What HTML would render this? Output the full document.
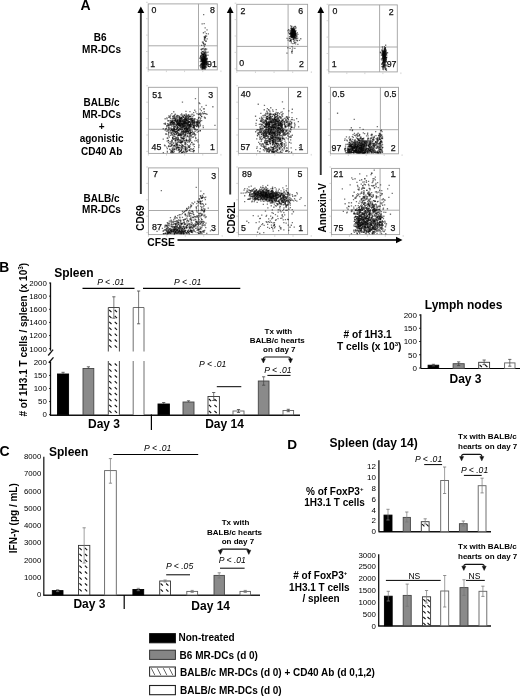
<!DOCTYPE html>
<html><head><meta charset="utf-8"><title>Figure</title>
<style>html,body{margin:0;padding:0;background:#fff;}svg{display:block;font-family:"Liberation Sans",sans-serif;filter:blur(0.35px);}</style>
</head><body>
<svg width="520" height="697" viewBox="0 0 520 697" font-family="Liberation Sans, sans-serif" fill="#000"><text x="80.4" y="10.2" font-size="14" font-weight="bold" text-anchor="start" >A</text>
<text x="100.1" y="41.2" font-size="10" font-weight="bold" text-anchor="middle" >B6</text>
<text x="101.55" y="52.5" font-size="10" font-weight="bold" text-anchor="middle" >MR-DCs</text>
<text x="101.6" y="106.2" font-size="10" font-weight="bold" text-anchor="middle" >BALB/c</text>
<text x="101.6" y="118" font-size="10" font-weight="bold" text-anchor="middle" >MR-DCs</text>
<text x="101.6" y="130.2" font-size="10" font-weight="bold" text-anchor="middle" >+</text>
<text x="101.6" y="142" font-size="10" font-weight="bold" text-anchor="middle" >agonistic</text>
<text x="101.6" y="154.8" font-size="10" font-weight="bold" text-anchor="middle" >CD40 Ab</text>
<text x="101.5" y="201.8" font-size="10" font-weight="bold" text-anchor="middle" >BALB/c</text>
<text x="101.5" y="213.2" font-size="10" font-weight="bold" text-anchor="middle" >MR-DCs</text>
<line x1="140.85" y1="12" x2="140.85" y2="194" stroke="#333" stroke-width="1.9"/>
<path d="M137.45 13 L140.85 6.5 L144.25 13 Z" fill="#000"/>
<line x1="230.2" y1="12" x2="230.2" y2="194.5" stroke="#333" stroke-width="1.9"/>
<path d="M226.79999999999998 13 L230.2 6.5 L233.6 13 Z" fill="#000"/>
<line x1="320.75" y1="12" x2="320.75" y2="175" stroke="#333" stroke-width="1.9"/>
<path d="M317.35 13 L320.75 6.5 L324.15 13 Z" fill="#000"/>
<line x1="177.5" y1="240" x2="397" y2="240" stroke="#333" stroke-width="1.9"/>
<path d="M396 236.8 L402.5 240 L396 243.2 Z" fill="#000"/>
<text x="144.3" y="230.7" font-size="10" font-weight="bold" transform="rotate(-90 144.3 230.7)">CD69</text>
<text x="234.6" y="233.6" font-size="10" font-weight="bold" transform="rotate(-90 234.6 233.6)">CD62L</text>
<text x="326" y="232.5" font-size="10" font-weight="bold" transform="rotate(-90 326 232.5)">Annexin-V</text>
<text x="147.3" y="245.6" font-size="10.3" font-weight="bold" text-anchor="start" >CFSE</text>
<rect x="148.2" y="3.9" width="69.10000000000002" height="66.0" fill="none" stroke="#a0a0a0" stroke-width="0.9"/>
<line x1="198.5" y1="3.9" x2="198.5" y2="69.9" stroke="#a0a0a0" stroke-width="0.9"/>
<line x1="148.2" y1="45.8" x2="217.3" y2="45.8" stroke="#a0a0a0" stroke-width="0.9"/>
<line x1="146.0" y1="67.9" x2="147.79999999999998" y2="67.9" stroke="#c4c4c4" stroke-width="0.7"/>
<line x1="148.2" y1="70.4" x2="148.2" y2="72.10000000000001" stroke="#c4c4c4" stroke-width="0.7"/>
<line x1="146.0" y1="51.50000000000001" x2="147.79999999999998" y2="51.50000000000001" stroke="#c4c4c4" stroke-width="0.7"/>
<line x1="166.38421052631577" y1="70.4" x2="166.38421052631577" y2="72.10000000000001" stroke="#c4c4c4" stroke-width="0.7"/>
<line x1="146.0" y1="35.10000000000001" x2="147.79999999999998" y2="35.10000000000001" stroke="#c4c4c4" stroke-width="0.7"/>
<line x1="184.56842105263158" y1="70.4" x2="184.56842105263158" y2="72.10000000000001" stroke="#c4c4c4" stroke-width="0.7"/>
<line x1="146.0" y1="18.70000000000001" x2="147.79999999999998" y2="18.70000000000001" stroke="#c4c4c4" stroke-width="0.7"/>
<line x1="202.7526315789474" y1="70.4" x2="202.7526315789474" y2="72.10000000000001" stroke="#c4c4c4" stroke-width="0.7"/>
<line x1="146.0" y1="2.3000000000000114" x2="147.79999999999998" y2="2.3000000000000114" stroke="#c4c4c4" stroke-width="0.7"/>
<line x1="220.93684210526317" y1="70.4" x2="220.93684210526317" y2="72.10000000000001" stroke="#c4c4c4" stroke-width="0.7"/>
<text x="151.5" y="13.1" font-size="8.8" font-weight="normal" text-anchor="start" fill="#111" stroke="#111" stroke-width="0.25">0</text>
<text x="214.9" y="13.1" font-size="8.8" font-weight="normal" text-anchor="end" fill="#111" stroke="#111" stroke-width="0.25">8</text>
<text x="150.29999999999998" y="66.5" font-size="8.8" font-weight="normal" text-anchor="start" fill="#111" stroke="#111" stroke-width="0.25">1</text>
<text x="216.9" y="66.5" font-size="8.8" font-weight="normal" text-anchor="end" fill="#111" stroke="#111" stroke-width="0.25">91</text>
<rect x="236.8" y="4.3" width="70.80000000000001" height="66.5" fill="none" stroke="#a0a0a0" stroke-width="0.9"/>
<line x1="288.1" y1="4.3" x2="288.1" y2="70.8" stroke="#a0a0a0" stroke-width="0.9"/>
<line x1="236.8" y1="46.4" x2="307.6" y2="46.4" stroke="#a0a0a0" stroke-width="0.9"/>
<line x1="234.60000000000002" y1="68.8" x2="236.4" y2="68.8" stroke="#c4c4c4" stroke-width="0.7"/>
<line x1="236.8" y1="71.3" x2="236.8" y2="73.0" stroke="#c4c4c4" stroke-width="0.7"/>
<line x1="234.60000000000002" y1="52.4" x2="236.4" y2="52.4" stroke="#c4c4c4" stroke-width="0.7"/>
<line x1="255.43157894736845" y1="71.3" x2="255.43157894736845" y2="73.0" stroke="#c4c4c4" stroke-width="0.7"/>
<line x1="234.60000000000002" y1="36.0" x2="236.4" y2="36.0" stroke="#c4c4c4" stroke-width="0.7"/>
<line x1="274.06315789473683" y1="71.3" x2="274.06315789473683" y2="73.0" stroke="#c4c4c4" stroke-width="0.7"/>
<line x1="234.60000000000002" y1="19.6" x2="236.4" y2="19.6" stroke="#c4c4c4" stroke-width="0.7"/>
<line x1="292.69473684210527" y1="71.3" x2="292.69473684210527" y2="73.0" stroke="#c4c4c4" stroke-width="0.7"/>
<line x1="234.60000000000002" y1="3.200000000000003" x2="236.4" y2="3.200000000000003" stroke="#c4c4c4" stroke-width="0.7"/>
<line x1="311.3263157894737" y1="71.3" x2="311.3263157894737" y2="73.0" stroke="#c4c4c4" stroke-width="0.7"/>
<text x="240.4" y="13.8" font-size="8.8" font-weight="normal" text-anchor="start" fill="#111" stroke="#111" stroke-width="0.25">2</text>
<text x="303.09999999999997" y="13.8" font-size="8.8" font-weight="normal" text-anchor="end" fill="#111" stroke="#111" stroke-width="0.25">6</text>
<text x="239.2" y="65.8" font-size="8.8" font-weight="normal" text-anchor="start" fill="#111" stroke="#111" stroke-width="0.25">0</text>
<text x="303.9" y="67" font-size="8.8" font-weight="normal" text-anchor="end" fill="#111" stroke="#111" stroke-width="0.25">2</text>
<rect x="328.8" y="4.9" width="68.5" height="67.0" fill="none" stroke="#a0a0a0" stroke-width="0.9"/>
<line x1="379.6" y1="4.9" x2="379.6" y2="71.9" stroke="#a0a0a0" stroke-width="0.9"/>
<line x1="328.8" y1="47" x2="397.3" y2="47" stroke="#a0a0a0" stroke-width="0.9"/>
<line x1="326.6" y1="69.9" x2="328.40000000000003" y2="69.9" stroke="#c4c4c4" stroke-width="0.7"/>
<line x1="328.8" y1="72.4" x2="328.8" y2="74.10000000000001" stroke="#c4c4c4" stroke-width="0.7"/>
<line x1="326.6" y1="53.50000000000001" x2="328.40000000000003" y2="53.50000000000001" stroke="#c4c4c4" stroke-width="0.7"/>
<line x1="346.8263157894737" y1="72.4" x2="346.8263157894737" y2="74.10000000000001" stroke="#c4c4c4" stroke-width="0.7"/>
<line x1="326.6" y1="37.10000000000001" x2="328.40000000000003" y2="37.10000000000001" stroke="#c4c4c4" stroke-width="0.7"/>
<line x1="364.85263157894735" y1="72.4" x2="364.85263157894735" y2="74.10000000000001" stroke="#c4c4c4" stroke-width="0.7"/>
<line x1="326.6" y1="20.70000000000001" x2="328.40000000000003" y2="20.70000000000001" stroke="#c4c4c4" stroke-width="0.7"/>
<line x1="382.87894736842105" y1="72.4" x2="382.87894736842105" y2="74.10000000000001" stroke="#c4c4c4" stroke-width="0.7"/>
<line x1="326.6" y1="4.300000000000011" x2="328.40000000000003" y2="4.300000000000011" stroke="#c4c4c4" stroke-width="0.7"/>
<line x1="400.90526315789475" y1="72.4" x2="400.90526315789475" y2="74.10000000000001" stroke="#c4c4c4" stroke-width="0.7"/>
<text x="332.6" y="13.8" font-size="8.8" font-weight="normal" text-anchor="start" fill="#111" stroke="#111" stroke-width="0.25">0</text>
<text x="393.59999999999997" y="14.6" font-size="8.8" font-weight="normal" text-anchor="end" fill="#111" stroke="#111" stroke-width="0.25">2</text>
<text x="331.8" y="67.3" font-size="8.8" font-weight="normal" text-anchor="start" fill="#111" stroke="#111" stroke-width="0.25">1</text>
<text x="396.5" y="67.3" font-size="8.8" font-weight="normal" text-anchor="end" fill="#111" stroke="#111" stroke-width="0.25">97</text>
<rect x="148.4" y="87.3" width="68.9" height="66.10000000000001" fill="none" stroke="#a0a0a0" stroke-width="0.9"/>
<line x1="198.5" y1="87.3" x2="198.5" y2="153.4" stroke="#a0a0a0" stroke-width="0.9"/>
<line x1="148.4" y1="129.3" x2="217.3" y2="129.3" stroke="#a0a0a0" stroke-width="0.9"/>
<line x1="146.20000000000002" y1="151.4" x2="148.0" y2="151.4" stroke="#c4c4c4" stroke-width="0.7"/>
<line x1="148.4" y1="153.9" x2="148.4" y2="155.6" stroke="#c4c4c4" stroke-width="0.7"/>
<line x1="146.20000000000002" y1="135.0" x2="148.0" y2="135.0" stroke="#c4c4c4" stroke-width="0.7"/>
<line x1="166.53157894736842" y1="153.9" x2="166.53157894736842" y2="155.6" stroke="#c4c4c4" stroke-width="0.7"/>
<line x1="146.20000000000002" y1="118.60000000000001" x2="148.0" y2="118.60000000000001" stroke="#c4c4c4" stroke-width="0.7"/>
<line x1="184.66315789473686" y1="153.9" x2="184.66315789473686" y2="155.6" stroke="#c4c4c4" stroke-width="0.7"/>
<line x1="146.20000000000002" y1="102.20000000000002" x2="148.0" y2="102.20000000000002" stroke="#c4c4c4" stroke-width="0.7"/>
<line x1="202.79473684210527" y1="153.9" x2="202.79473684210527" y2="155.6" stroke="#c4c4c4" stroke-width="0.7"/>
<line x1="146.20000000000002" y1="85.80000000000001" x2="148.0" y2="85.80000000000001" stroke="#c4c4c4" stroke-width="0.7"/>
<line x1="220.9263157894737" y1="153.9" x2="220.9263157894737" y2="155.6" stroke="#c4c4c4" stroke-width="0.7"/>
<text x="152.29999999999998" y="97.9" font-size="8.8" font-weight="normal" text-anchor="start" fill="#111" stroke="#111" stroke-width="0.25">51</text>
<text x="213.1" y="97.9" font-size="8.8" font-weight="normal" text-anchor="end" fill="#111" stroke="#111" stroke-width="0.25">3</text>
<text x="151.5" y="150.3" font-size="8.8" font-weight="normal" text-anchor="start" fill="#111" stroke="#111" stroke-width="0.25">45</text>
<text x="214.9" y="150.3" font-size="8.8" font-weight="normal" text-anchor="end" fill="#111" stroke="#111" stroke-width="0.25">1</text>
<rect x="238.4" y="87.3" width="69.20000000000002" height="66.10000000000001" fill="none" stroke="#a0a0a0" stroke-width="0.9"/>
<line x1="288.5" y1="87.3" x2="288.5" y2="153.4" stroke="#a0a0a0" stroke-width="0.9"/>
<line x1="238.4" y1="129.3" x2="307.6" y2="129.3" stroke="#a0a0a0" stroke-width="0.9"/>
<line x1="236.20000000000002" y1="151.4" x2="238.0" y2="151.4" stroke="#c4c4c4" stroke-width="0.7"/>
<line x1="238.4" y1="153.9" x2="238.4" y2="155.6" stroke="#c4c4c4" stroke-width="0.7"/>
<line x1="236.20000000000002" y1="135.0" x2="238.0" y2="135.0" stroke="#c4c4c4" stroke-width="0.7"/>
<line x1="256.61052631578946" y1="153.9" x2="256.61052631578946" y2="155.6" stroke="#c4c4c4" stroke-width="0.7"/>
<line x1="236.20000000000002" y1="118.60000000000001" x2="238.0" y2="118.60000000000001" stroke="#c4c4c4" stroke-width="0.7"/>
<line x1="274.82105263157894" y1="153.9" x2="274.82105263157894" y2="155.6" stroke="#c4c4c4" stroke-width="0.7"/>
<line x1="236.20000000000002" y1="102.20000000000002" x2="238.0" y2="102.20000000000002" stroke="#c4c4c4" stroke-width="0.7"/>
<line x1="293.0315789473684" y1="153.9" x2="293.0315789473684" y2="155.6" stroke="#c4c4c4" stroke-width="0.7"/>
<line x1="236.20000000000002" y1="85.80000000000001" x2="238.0" y2="85.80000000000001" stroke="#c4c4c4" stroke-width="0.7"/>
<line x1="311.2421052631579" y1="153.9" x2="311.2421052631579" y2="155.6" stroke="#c4c4c4" stroke-width="0.7"/>
<text x="240.79999999999998" y="96.8" font-size="8.8" font-weight="normal" text-anchor="start" fill="#111" stroke="#111" stroke-width="0.25">40</text>
<text x="301.59999999999997" y="96.8" font-size="8.8" font-weight="normal" text-anchor="end" fill="#111" stroke="#111" stroke-width="0.25">2</text>
<text x="240.4" y="149.5" font-size="8.8" font-weight="normal" text-anchor="start" fill="#111" stroke="#111" stroke-width="0.25">57</text>
<text x="303.4" y="150" font-size="8.8" font-weight="normal" text-anchor="end" fill="#111" stroke="#111" stroke-width="0.25">1</text>
<rect x="330.4" y="87.3" width="68.10000000000002" height="66.50000000000001" fill="none" stroke="#a0a0a0" stroke-width="0.9"/>
<line x1="380.4" y1="87.3" x2="380.4" y2="153.8" stroke="#a0a0a0" stroke-width="0.9"/>
<line x1="330.4" y1="129.7" x2="398.5" y2="129.7" stroke="#a0a0a0" stroke-width="0.9"/>
<line x1="328.2" y1="151.8" x2="330.0" y2="151.8" stroke="#c4c4c4" stroke-width="0.7"/>
<line x1="330.4" y1="154.3" x2="330.4" y2="156.0" stroke="#c4c4c4" stroke-width="0.7"/>
<line x1="328.2" y1="135.4" x2="330.0" y2="135.4" stroke="#c4c4c4" stroke-width="0.7"/>
<line x1="348.32105263157894" y1="154.3" x2="348.32105263157894" y2="156.0" stroke="#c4c4c4" stroke-width="0.7"/>
<line x1="328.2" y1="119.00000000000001" x2="330.0" y2="119.00000000000001" stroke="#c4c4c4" stroke-width="0.7"/>
<line x1="366.2421052631579" y1="154.3" x2="366.2421052631579" y2="156.0" stroke="#c4c4c4" stroke-width="0.7"/>
<line x1="328.2" y1="102.60000000000002" x2="330.0" y2="102.60000000000002" stroke="#c4c4c4" stroke-width="0.7"/>
<line x1="384.16315789473686" y1="154.3" x2="384.16315789473686" y2="156.0" stroke="#c4c4c4" stroke-width="0.7"/>
<line x1="328.2" y1="86.20000000000002" x2="330.0" y2="86.20000000000002" stroke="#c4c4c4" stroke-width="0.7"/>
<line x1="402.0842105263158" y1="154.3" x2="402.0842105263158" y2="156.0" stroke="#c4c4c4" stroke-width="0.7"/>
<text x="332.3" y="97.2" font-size="8.8" font-weight="normal" text-anchor="start" fill="#111" stroke="#111" stroke-width="0.25">0.5</text>
<text x="396.5" y="97.2" font-size="8.8" font-weight="normal" text-anchor="end" fill="#111" stroke="#111" stroke-width="0.25">0.5</text>
<text x="331.5" y="151" font-size="8.8" font-weight="normal" text-anchor="start" fill="#111" stroke="#111" stroke-width="0.25">97</text>
<text x="395.7" y="151" font-size="8.8" font-weight="normal" text-anchor="end" fill="#111" stroke="#111" stroke-width="0.25">2</text>
<rect x="148.4" y="167.9" width="70.1" height="66.69999999999999" fill="none" stroke="#a0a0a0" stroke-width="0.9"/>
<line x1="198.5" y1="167.9" x2="198.5" y2="234.6" stroke="#a0a0a0" stroke-width="0.9"/>
<line x1="148.4" y1="210.5" x2="218.5" y2="210.5" stroke="#a0a0a0" stroke-width="0.9"/>
<line x1="146.20000000000002" y1="232.6" x2="148.0" y2="232.6" stroke="#c4c4c4" stroke-width="0.7"/>
<line x1="148.4" y1="235.1" x2="148.4" y2="236.79999999999998" stroke="#c4c4c4" stroke-width="0.7"/>
<line x1="146.20000000000002" y1="216.2" x2="148.0" y2="216.2" stroke="#c4c4c4" stroke-width="0.7"/>
<line x1="166.84736842105264" y1="235.1" x2="166.84736842105264" y2="236.79999999999998" stroke="#c4c4c4" stroke-width="0.7"/>
<line x1="146.20000000000002" y1="199.8" x2="148.0" y2="199.8" stroke="#c4c4c4" stroke-width="0.7"/>
<line x1="185.29473684210527" y1="235.1" x2="185.29473684210527" y2="236.79999999999998" stroke="#c4c4c4" stroke-width="0.7"/>
<line x1="146.20000000000002" y1="183.4" x2="148.0" y2="183.4" stroke="#c4c4c4" stroke-width="0.7"/>
<line x1="203.7421052631579" y1="235.1" x2="203.7421052631579" y2="236.79999999999998" stroke="#c4c4c4" stroke-width="0.7"/>
<line x1="146.20000000000002" y1="167.0" x2="148.0" y2="167.0" stroke="#c4c4c4" stroke-width="0.7"/>
<line x1="222.18947368421053" y1="235.1" x2="222.18947368421053" y2="236.79999999999998" stroke="#c4c4c4" stroke-width="0.7"/>
<text x="153.1" y="177.2" font-size="8.8" font-weight="normal" text-anchor="start" fill="#111" stroke="#111" stroke-width="0.25">7</text>
<text x="216.20000000000002" y="178.7" font-size="8.8" font-weight="normal" text-anchor="end" fill="#111" stroke="#111" stroke-width="0.25">3</text>
<text x="152.0" y="230" font-size="8.8" font-weight="normal" text-anchor="start" fill="#111" stroke="#111" stroke-width="0.25">87</text>
<text x="215.9" y="231" font-size="8.8" font-weight="normal" text-anchor="end" fill="#111" stroke="#111" stroke-width="0.25">3</text>
<rect x="238.4" y="167.9" width="69.20000000000002" height="66.69999999999999" fill="none" stroke="#a0a0a0" stroke-width="0.9"/>
<line x1="288.5" y1="167.9" x2="288.5" y2="234.6" stroke="#a0a0a0" stroke-width="0.9"/>
<line x1="238.4" y1="210.2" x2="307.6" y2="210.2" stroke="#a0a0a0" stroke-width="0.9"/>
<line x1="236.20000000000002" y1="232.6" x2="238.0" y2="232.6" stroke="#c4c4c4" stroke-width="0.7"/>
<line x1="238.4" y1="235.1" x2="238.4" y2="236.79999999999998" stroke="#c4c4c4" stroke-width="0.7"/>
<line x1="236.20000000000002" y1="216.2" x2="238.0" y2="216.2" stroke="#c4c4c4" stroke-width="0.7"/>
<line x1="256.61052631578946" y1="235.1" x2="256.61052631578946" y2="236.79999999999998" stroke="#c4c4c4" stroke-width="0.7"/>
<line x1="236.20000000000002" y1="199.8" x2="238.0" y2="199.8" stroke="#c4c4c4" stroke-width="0.7"/>
<line x1="274.82105263157894" y1="235.1" x2="274.82105263157894" y2="236.79999999999998" stroke="#c4c4c4" stroke-width="0.7"/>
<line x1="236.20000000000002" y1="183.4" x2="238.0" y2="183.4" stroke="#c4c4c4" stroke-width="0.7"/>
<line x1="293.0315789473684" y1="235.1" x2="293.0315789473684" y2="236.79999999999998" stroke="#c4c4c4" stroke-width="0.7"/>
<line x1="236.20000000000002" y1="167.0" x2="238.0" y2="167.0" stroke="#c4c4c4" stroke-width="0.7"/>
<line x1="311.2421052631579" y1="235.1" x2="311.2421052631579" y2="236.79999999999998" stroke="#c4c4c4" stroke-width="0.7"/>
<text x="242.0" y="177.2" font-size="8.8" font-weight="normal" text-anchor="start" fill="#111" stroke="#111" stroke-width="0.25">89</text>
<text x="302.29999999999995" y="177.2" font-size="8.8" font-weight="normal" text-anchor="end" fill="#111" stroke="#111" stroke-width="0.25">5</text>
<text x="241.1" y="230.8" font-size="8.8" font-weight="normal" text-anchor="start" fill="#111" stroke="#111" stroke-width="0.25">5</text>
<text x="303.09999999999997" y="231" font-size="8.8" font-weight="normal" text-anchor="end" fill="#111" stroke="#111" stroke-width="0.25">1</text>
<rect x="331.5" y="168.4" width="68.10000000000002" height="66.19999999999999" fill="none" stroke="#a0a0a0" stroke-width="0.9"/>
<line x1="380.1" y1="168.4" x2="380.1" y2="234.6" stroke="#a0a0a0" stroke-width="0.9"/>
<line x1="331.5" y1="210.2" x2="399.6" y2="210.2" stroke="#a0a0a0" stroke-width="0.9"/>
<line x1="329.3" y1="232.6" x2="331.1" y2="232.6" stroke="#c4c4c4" stroke-width="0.7"/>
<line x1="331.5" y1="235.1" x2="331.5" y2="236.79999999999998" stroke="#c4c4c4" stroke-width="0.7"/>
<line x1="329.3" y1="216.2" x2="331.1" y2="216.2" stroke="#c4c4c4" stroke-width="0.7"/>
<line x1="349.42105263157896" y1="235.1" x2="349.42105263157896" y2="236.79999999999998" stroke="#c4c4c4" stroke-width="0.7"/>
<line x1="329.3" y1="199.8" x2="331.1" y2="199.8" stroke="#c4c4c4" stroke-width="0.7"/>
<line x1="367.3421052631579" y1="235.1" x2="367.3421052631579" y2="236.79999999999998" stroke="#c4c4c4" stroke-width="0.7"/>
<line x1="329.3" y1="183.4" x2="331.1" y2="183.4" stroke="#c4c4c4" stroke-width="0.7"/>
<line x1="385.2631578947369" y1="235.1" x2="385.2631578947369" y2="236.79999999999998" stroke="#c4c4c4" stroke-width="0.7"/>
<line x1="329.3" y1="167.0" x2="331.1" y2="167.0" stroke="#c4c4c4" stroke-width="0.7"/>
<line x1="403.18421052631584" y1="235.1" x2="403.18421052631584" y2="236.79999999999998" stroke="#c4c4c4" stroke-width="0.7"/>
<text x="333.5" y="176.8" font-size="8.8" font-weight="normal" text-anchor="start" fill="#111" stroke="#111" stroke-width="0.25">21</text>
<text x="395.4" y="176.8" font-size="8.8" font-weight="normal" text-anchor="end" fill="#111" stroke="#111" stroke-width="0.25">1</text>
<text x="333.5" y="230.8" font-size="8.8" font-weight="normal" text-anchor="start" fill="#111" stroke="#111" stroke-width="0.25">75</text>
<text x="395.4" y="230.8" font-size="8.8" font-weight="normal" text-anchor="end" fill="#111" stroke="#111" stroke-width="0.25">3</text>
<path d="M204.0 56.7h1.3v1.3h-1.3zM202.3 56.3h1.3v1.3h-1.3zM203.9 59.2h1.3v1.3h-1.3zM201.7 57.2h1.3v1.3h-1.3zM201.2 66.4h1.3v1.3h-1.3zM203.7 62.3h1.3v1.3h-1.3zM202.2 57.7h1.3v1.3h-1.3zM205.3 55.1h1.3v1.3h-1.3zM203.7 60.1h1.3v1.3h-1.3zM203.2 63.5h1.3v1.3h-1.3zM206.0 48.5h1.3v1.3h-1.3zM202.4 59.1h1.3v1.3h-1.3zM202.7 62.2h1.3v1.3h-1.3zM204.2 53.1h1.3v1.3h-1.3zM203.4 62.5h1.3v1.3h-1.3zM204.3 66.3h1.3v1.3h-1.3zM202.1 63.9h1.3v1.3h-1.3zM201.4 59.4h1.3v1.3h-1.3zM201.4 61.1h1.3v1.3h-1.3zM205.2 62.3h1.3v1.3h-1.3zM206.0 59.0h1.3v1.3h-1.3zM204.0 63.4h1.3v1.3h-1.3zM203.7 56.5h1.3v1.3h-1.3zM203.9 61.1h1.3v1.3h-1.3zM202.3 59.5h1.3v1.3h-1.3zM202.6 53.6h1.3v1.3h-1.3zM202.7 63.3h1.3v1.3h-1.3zM204.7 59.5h1.3v1.3h-1.3zM204.5 61.8h1.3v1.3h-1.3zM202.5 50.9h1.3v1.3h-1.3zM204.8 55.7h1.3v1.3h-1.3zM200.4 59.3h1.3v1.3h-1.3zM204.1 51.9h1.3v1.3h-1.3zM201.6 54.9h1.3v1.3h-1.3zM205.7 59.6h1.3v1.3h-1.3zM205.2 59.5h1.3v1.3h-1.3zM205.2 54.3h1.3v1.3h-1.3zM203.1 58.2h1.3v1.3h-1.3zM201.8 58.0h1.3v1.3h-1.3zM202.8 61.1h1.3v1.3h-1.3zM200.4 55.7h1.3v1.3h-1.3zM204.5 56.2h1.3v1.3h-1.3zM203.1 60.3h1.3v1.3h-1.3zM202.8 56.9h1.3v1.3h-1.3zM204.6 43.6h1.3v1.3h-1.3zM203.9 39.8h1.3v1.3h-1.3zM203.0 13.9h1.3v1.3h-1.3zM201.6 48.2h1.3v1.3h-1.3zM203.5 23.0h1.3v1.3h-1.3zM204.0 37.5h1.3v1.3h-1.3zM207.7 33.3h1.3v1.3h-1.3zM202.9 64.8h1.3v1.3h-1.3zM206.1 60.0h1.3v1.3h-1.3zM201.6 64.7h1.3v1.3h-1.3zM204.6 60.4h1.3v1.3h-1.3zM203.5 65.5h1.3v1.3h-1.3zM202.7 64.0h1.3v1.3h-1.3zM201.9 66.4h1.3v1.3h-1.3zM200.7 60.9h1.3v1.3h-1.3zM206.6 63.1h1.3v1.3h-1.3z" fill="#000" fill-opacity="0.55"/>
<path d="M202.9 58.1h1.3v1.3h-1.3zM201.8 58.6h1.3v1.3h-1.3zM204.0 61.6h1.3v1.3h-1.3zM200.7 52.0h1.3v1.3h-1.3zM202.2 66.9h1.3v1.3h-1.3zM204.1 60.6h1.3v1.3h-1.3zM202.5 55.4h1.3v1.3h-1.3zM204.1 56.9h1.3v1.3h-1.3zM205.6 62.2h1.3v1.3h-1.3zM200.8 65.0h1.3v1.3h-1.3zM204.1 59.5h1.3v1.3h-1.3zM206.2 60.9h1.3v1.3h-1.3zM199.1 57.4h1.3v1.3h-1.3zM204.8 53.3h1.3v1.3h-1.3zM205.1 62.7h1.3v1.3h-1.3zM203.2 54.6h1.3v1.3h-1.3zM205.3 58.4h1.3v1.3h-1.3zM203.1 64.0h1.3v1.3h-1.3zM202.2 63.3h1.3v1.3h-1.3zM202.4 64.1h1.3v1.3h-1.3zM200.7 56.9h1.3v1.3h-1.3zM204.7 62.9h1.3v1.3h-1.3zM200.9 59.0h1.3v1.3h-1.3zM204.1 61.6h1.3v1.3h-1.3zM200.3 63.9h1.3v1.3h-1.3zM205.8 63.8h1.3v1.3h-1.3zM201.9 60.6h1.3v1.3h-1.3zM204.2 60.4h1.3v1.3h-1.3zM203.9 60.3h1.3v1.3h-1.3zM205.4 62.5h1.3v1.3h-1.3zM204.7 54.8h1.3v1.3h-1.3zM203.0 62.6h1.3v1.3h-1.3zM202.9 53.4h1.3v1.3h-1.3zM204.4 63.5h1.3v1.3h-1.3zM204.2 62.5h1.3v1.3h-1.3zM203.1 59.5h1.3v1.3h-1.3zM203.1 56.2h1.3v1.3h-1.3zM202.8 58.2h1.3v1.3h-1.3zM203.9 62.1h1.3v1.3h-1.3zM203.0 59.2h1.3v1.3h-1.3zM204.3 60.8h1.3v1.3h-1.3zM204.0 57.7h1.3v1.3h-1.3zM204.9 60.0h1.3v1.3h-1.3zM205.0 55.1h1.3v1.3h-1.3zM202.2 63.0h1.3v1.3h-1.3zM205.5 64.4h1.3v1.3h-1.3zM202.2 59.3h1.3v1.3h-1.3zM201.8 60.2h1.3v1.3h-1.3zM203.6 61.7h1.3v1.3h-1.3zM202.1 59.6h1.3v1.3h-1.3zM207.4 51.5h1.3v1.3h-1.3zM202.4 60.2h1.3v1.3h-1.3zM203.3 62.8h1.3v1.3h-1.3zM203.2 55.1h1.3v1.3h-1.3zM202.2 62.2h1.3v1.3h-1.3zM203.1 62.7h1.3v1.3h-1.3zM200.5 65.7h1.3v1.3h-1.3zM204.5 52.0h1.3v1.3h-1.3zM201.7 53.7h1.3v1.3h-1.3zM203.6 60.6h1.3v1.3h-1.3zM203.9 52.8h1.3v1.3h-1.3zM201.5 23.3h1.3v1.3h-1.3zM204.7 56.4h1.3v1.3h-1.3zM206.4 29.3h1.3v1.3h-1.3zM205.2 53.1h1.3v1.3h-1.3zM203.6 36.2h1.3v1.3h-1.3zM203.7 38.5h1.3v1.3h-1.3zM204.7 36.9h1.3v1.3h-1.3zM205.4 40.4h1.3v1.3h-1.3zM204.2 44.2h1.3v1.3h-1.3zM201.0 44.8h1.3v1.3h-1.3zM203.7 36.0h1.3v1.3h-1.3zM202.7 67.3h1.3v1.3h-1.3zM201.5 64.8h1.3v1.3h-1.3zM201.7 65.9h1.3v1.3h-1.3zM203.5 65.9h1.3v1.3h-1.3zM200.1 66.9h1.3v1.3h-1.3zM203.5 67.3h1.3v1.3h-1.3zM203.9 63.6h1.3v1.3h-1.3z" fill="#000" fill-opacity="0.55"/>
<path d="M200.7 63.2h1.3v1.3h-1.3zM201.9 57.5h1.3v1.3h-1.3zM204.0 64.6h1.3v1.3h-1.3zM203.3 65.1h1.3v1.3h-1.3zM205.4 61.1h1.3v1.3h-1.3zM201.0 60.5h1.3v1.3h-1.3zM203.6 61.4h1.3v1.3h-1.3zM204.0 58.9h1.3v1.3h-1.3zM202.0 62.2h1.3v1.3h-1.3zM202.7 61.2h1.3v1.3h-1.3zM200.6 58.0h1.3v1.3h-1.3zM204.8 58.2h1.3v1.3h-1.3zM200.9 53.0h1.3v1.3h-1.3zM205.4 55.1h1.3v1.3h-1.3zM204.9 65.9h1.3v1.3h-1.3zM200.4 63.0h1.3v1.3h-1.3zM202.9 59.4h1.3v1.3h-1.3zM200.9 56.8h1.3v1.3h-1.3zM204.2 60.9h1.3v1.3h-1.3zM203.9 50.5h1.3v1.3h-1.3zM203.6 63.0h1.3v1.3h-1.3zM203.1 58.7h1.3v1.3h-1.3zM204.2 48.4h1.3v1.3h-1.3zM201.1 56.6h1.3v1.3h-1.3zM203.6 60.3h1.3v1.3h-1.3zM202.6 55.3h1.3v1.3h-1.3zM206.4 64.0h1.3v1.3h-1.3zM201.4 53.7h1.3v1.3h-1.3zM205.9 63.0h1.3v1.3h-1.3zM200.0 56.3h1.3v1.3h-1.3zM203.1 61.7h1.3v1.3h-1.3zM203.3 55.9h1.3v1.3h-1.3zM203.2 60.3h1.3v1.3h-1.3zM203.0 54.1h1.3v1.3h-1.3zM200.4 59.8h1.3v1.3h-1.3zM201.6 48.2h1.3v1.3h-1.3zM201.4 60.3h1.3v1.3h-1.3zM203.7 64.4h1.3v1.3h-1.3zM204.4 59.6h1.3v1.3h-1.3zM201.6 56.8h1.3v1.3h-1.3zM202.2 61.9h1.3v1.3h-1.3zM205.5 64.5h1.3v1.3h-1.3zM201.2 57.3h1.3v1.3h-1.3zM204.3 61.0h1.3v1.3h-1.3zM200.9 60.4h1.3v1.3h-1.3zM203.4 53.6h1.3v1.3h-1.3zM201.5 59.0h1.3v1.3h-1.3zM202.1 60.6h1.3v1.3h-1.3zM204.3 63.6h1.3v1.3h-1.3zM204.0 58.8h1.3v1.3h-1.3zM202.2 62.6h1.3v1.3h-1.3zM203.1 60.8h1.3v1.3h-1.3zM200.6 67.2h1.3v1.3h-1.3zM203.1 60.8h1.3v1.3h-1.3zM203.9 58.5h1.3v1.3h-1.3zM201.1 59.4h1.3v1.3h-1.3zM203.9 57.2h1.3v1.3h-1.3zM201.9 62.3h1.3v1.3h-1.3zM205.5 60.9h1.3v1.3h-1.3zM203.2 59.5h1.3v1.3h-1.3zM205.7 61.3h1.3v1.3h-1.3zM201.2 58.6h1.3v1.3h-1.3zM202.4 61.5h1.3v1.3h-1.3zM205.3 57.9h1.3v1.3h-1.3zM203.3 62.7h1.3v1.3h-1.3zM202.4 63.3h1.3v1.3h-1.3zM204.5 58.8h1.3v1.3h-1.3zM204.2 38.5h1.3v1.3h-1.3zM203.0 43.1h1.3v1.3h-1.3zM206.5 38.3h1.3v1.3h-1.3zM205.7 33.0h1.3v1.3h-1.3zM201.8 41.5h1.3v1.3h-1.3zM202.4 64.7h1.3v1.3h-1.3zM203.6 61.9h1.3v1.3h-1.3zM204.8 65.3h1.3v1.3h-1.3zM204.1 66.2h1.3v1.3h-1.3zM202.4 64.3h1.3v1.3h-1.3zM203.3 62.4h1.3v1.3h-1.3zM201.8 67.3h1.3v1.3h-1.3zM201.8 68.4h1.3v1.3h-1.3zM206.0 66.2h1.3v1.3h-1.3zM204.6 68.2h1.3v1.3h-1.3zM199.4 65.1h1.3v1.3h-1.3zM204.1 58.6h1.3v1.3h-1.3zM203.1 67.5h1.3v1.3h-1.3zM202.3 66.1h1.3v1.3h-1.3z" fill="#000" fill-opacity="0.55"/>
<path d="M204.8 60.6h1.3v1.3h-1.3zM202.4 64.7h1.3v1.3h-1.3zM202.0 60.6h1.3v1.3h-1.3zM202.5 54.1h1.3v1.3h-1.3zM203.7 56.3h1.3v1.3h-1.3zM204.9 60.2h1.3v1.3h-1.3zM204.0 61.9h1.3v1.3h-1.3zM204.5 51.7h1.3v1.3h-1.3zM202.9 63.9h1.3v1.3h-1.3zM205.4 57.6h1.3v1.3h-1.3zM201.1 58.9h1.3v1.3h-1.3zM203.0 58.2h1.3v1.3h-1.3zM205.1 54.0h1.3v1.3h-1.3zM204.3 61.9h1.3v1.3h-1.3zM203.1 63.6h1.3v1.3h-1.3zM204.8 48.0h1.3v1.3h-1.3zM204.4 60.1h1.3v1.3h-1.3zM207.3 54.6h1.3v1.3h-1.3zM203.5 62.2h1.3v1.3h-1.3zM201.9 66.2h1.3v1.3h-1.3zM203.1 56.9h1.3v1.3h-1.3zM205.4 58.7h1.3v1.3h-1.3zM203.7 56.9h1.3v1.3h-1.3zM203.3 65.2h1.3v1.3h-1.3zM205.4 66.4h1.3v1.3h-1.3zM200.4 54.8h1.3v1.3h-1.3zM205.9 59.7h1.3v1.3h-1.3zM203.2 63.0h1.3v1.3h-1.3zM201.8 56.2h1.3v1.3h-1.3zM204.5 65.1h1.3v1.3h-1.3zM202.8 57.5h1.3v1.3h-1.3zM206.1 51.9h1.3v1.3h-1.3zM201.8 62.5h1.3v1.3h-1.3zM201.8 59.1h1.3v1.3h-1.3zM204.5 59.9h1.3v1.3h-1.3zM201.9 55.9h1.3v1.3h-1.3zM205.7 61.3h1.3v1.3h-1.3zM202.7 62.9h1.3v1.3h-1.3zM203.9 58.7h1.3v1.3h-1.3zM202.1 61.7h1.3v1.3h-1.3zM202.8 62.5h1.3v1.3h-1.3zM204.0 59.3h1.3v1.3h-1.3zM202.9 58.2h1.3v1.3h-1.3zM202.6 56.3h1.3v1.3h-1.3zM204.9 49.3h1.3v1.3h-1.3zM204.9 59.6h1.3v1.3h-1.3zM204.1 62.6h1.3v1.3h-1.3zM205.3 56.5h1.3v1.3h-1.3zM204.2 57.4h1.3v1.3h-1.3zM200.9 52.5h1.3v1.3h-1.3zM204.3 60.8h1.3v1.3h-1.3zM206.0 57.1h1.3v1.3h-1.3zM204.5 56.5h1.3v1.3h-1.3zM204.3 58.9h1.3v1.3h-1.3zM201.0 58.6h1.3v1.3h-1.3zM205.4 57.0h1.3v1.3h-1.3zM201.4 60.9h1.3v1.3h-1.3zM202.4 56.6h1.3v1.3h-1.3zM201.7 54.5h1.3v1.3h-1.3zM203.0 59.1h1.3v1.3h-1.3zM202.7 64.0h1.3v1.3h-1.3zM202.2 61.1h1.3v1.3h-1.3zM203.3 60.6h1.3v1.3h-1.3zM203.7 66.7h1.3v1.3h-1.3zM205.0 35.4h1.3v1.3h-1.3zM202.8 32.1h1.3v1.3h-1.3zM202.5 42.5h1.3v1.3h-1.3zM200.9 49.3h1.3v1.3h-1.3zM202.9 42.7h1.3v1.3h-1.3zM204.7 66.8h1.3v1.3h-1.3zM204.2 68.0h1.3v1.3h-1.3zM202.8 60.2h1.3v1.3h-1.3zM203.4 66.5h1.3v1.3h-1.3zM201.3 68.3h1.3v1.3h-1.3zM202.4 65.0h1.3v1.3h-1.3zM202.1 67.5h1.3v1.3h-1.3zM204.7 66.4h1.3v1.3h-1.3zM204.2 68.2h1.3v1.3h-1.3z" fill="#000" fill-opacity="0.55"/>
<path d="M204.9 61.3h1.3v1.3h-1.3zM203.7 59.3h1.3v1.3h-1.3zM203.8 53.1h1.3v1.3h-1.3zM203.0 56.0h1.3v1.3h-1.3zM204.2 63.6h1.3v1.3h-1.3zM200.2 56.8h1.3v1.3h-1.3zM201.9 63.6h1.3v1.3h-1.3zM204.9 63.2h1.3v1.3h-1.3zM202.6 57.9h1.3v1.3h-1.3zM204.7 54.5h1.3v1.3h-1.3zM203.0 60.3h1.3v1.3h-1.3zM204.1 55.4h1.3v1.3h-1.3zM201.7 53.2h1.3v1.3h-1.3zM205.4 55.5h1.3v1.3h-1.3zM204.7 58.7h1.3v1.3h-1.3zM203.8 61.3h1.3v1.3h-1.3zM202.3 60.5h1.3v1.3h-1.3zM202.9 54.1h1.3v1.3h-1.3zM204.6 57.1h1.3v1.3h-1.3zM199.7 60.9h1.3v1.3h-1.3zM203.6 57.5h1.3v1.3h-1.3zM207.2 64.4h1.3v1.3h-1.3zM203.1 61.7h1.3v1.3h-1.3zM203.0 60.2h1.3v1.3h-1.3zM201.8 62.7h1.3v1.3h-1.3zM204.1 63.4h1.3v1.3h-1.3zM203.5 59.7h1.3v1.3h-1.3zM203.2 53.2h1.3v1.3h-1.3zM205.9 61.7h1.3v1.3h-1.3zM202.9 51.7h1.3v1.3h-1.3zM203.2 60.6h1.3v1.3h-1.3zM203.9 52.7h1.3v1.3h-1.3zM201.3 59.4h1.3v1.3h-1.3zM203.1 56.6h1.3v1.3h-1.3zM202.9 47.8h1.3v1.3h-1.3zM202.9 59.6h1.3v1.3h-1.3zM202.0 67.0h1.3v1.3h-1.3zM203.6 57.7h1.3v1.3h-1.3zM205.0 57.5h1.3v1.3h-1.3zM203.2 53.3h1.3v1.3h-1.3zM202.5 66.2h1.3v1.3h-1.3zM202.5 56.5h1.3v1.3h-1.3zM203.4 58.9h1.3v1.3h-1.3zM203.9 61.1h1.3v1.3h-1.3zM204.0 61.9h1.3v1.3h-1.3zM205.5 57.9h1.3v1.3h-1.3zM201.0 59.6h1.3v1.3h-1.3zM201.5 51.0h1.3v1.3h-1.3zM202.2 59.4h1.3v1.3h-1.3zM203.7 56.7h1.3v1.3h-1.3zM205.2 40.6h1.3v1.3h-1.3zM204.4 37.0h1.3v1.3h-1.3zM204.4 31.3h1.3v1.3h-1.3zM203.9 37.0h1.3v1.3h-1.3zM203.8 45.9h1.3v1.3h-1.3zM202.6 41.5h1.3v1.3h-1.3zM204.5 27.2h1.3v1.3h-1.3zM203.9 61.4h1.3v1.3h-1.3zM201.8 64.3h1.3v1.3h-1.3zM202.4 62.8h1.3v1.3h-1.3zM202.7 64.0h1.3v1.3h-1.3zM201.1 63.6h1.3v1.3h-1.3zM206.1 58.4h1.3v1.3h-1.3zM203.5 67.9h1.3v1.3h-1.3z" fill="#000" fill-opacity="0.55"/>
<path d="M202.8 61.7h1.3v1.3h-1.3zM203.8 60.3h1.3v1.3h-1.3zM203.7 61.2h1.3v1.3h-1.3zM202.7 59.0h1.3v1.3h-1.3zM200.2 58.1h1.3v1.3h-1.3zM201.0 63.1h1.3v1.3h-1.3zM203.4 53.9h1.3v1.3h-1.3zM205.1 50.8h1.3v1.3h-1.3zM205.4 62.0h1.3v1.3h-1.3zM200.4 48.7h1.3v1.3h-1.3zM201.5 63.7h1.3v1.3h-1.3zM204.6 61.8h1.3v1.3h-1.3zM203.4 64.4h1.3v1.3h-1.3zM204.8 59.6h1.3v1.3h-1.3zM203.4 62.0h1.3v1.3h-1.3zM202.9 60.7h1.3v1.3h-1.3zM201.5 60.5h1.3v1.3h-1.3zM203.8 60.5h1.3v1.3h-1.3zM202.6 62.3h1.3v1.3h-1.3zM203.6 57.3h1.3v1.3h-1.3zM206.8 61.0h1.3v1.3h-1.3zM202.9 59.2h1.3v1.3h-1.3zM204.5 65.9h1.3v1.3h-1.3zM203.5 64.6h1.3v1.3h-1.3zM203.1 66.1h1.3v1.3h-1.3zM204.6 58.4h1.3v1.3h-1.3zM200.2 65.5h1.3v1.3h-1.3zM203.4 60.0h1.3v1.3h-1.3zM199.8 57.8h1.3v1.3h-1.3zM203.2 63.1h1.3v1.3h-1.3zM200.3 64.1h1.3v1.3h-1.3zM204.0 63.8h1.3v1.3h-1.3zM203.4 54.4h1.3v1.3h-1.3zM202.2 51.1h1.3v1.3h-1.3zM204.3 58.3h1.3v1.3h-1.3zM199.9 55.7h1.3v1.3h-1.3zM204.4 62.7h1.3v1.3h-1.3zM201.7 58.0h1.3v1.3h-1.3zM205.2 67.3h1.3v1.3h-1.3zM202.1 59.0h1.3v1.3h-1.3zM203.8 64.0h1.3v1.3h-1.3zM203.9 55.3h1.3v1.3h-1.3zM201.6 66.3h1.3v1.3h-1.3zM203.2 62.1h1.3v1.3h-1.3zM205.7 63.7h1.3v1.3h-1.3zM202.8 64.1h1.3v1.3h-1.3zM205.1 58.6h1.3v1.3h-1.3zM200.5 54.9h1.3v1.3h-1.3zM202.3 53.5h1.3v1.3h-1.3zM201.7 59.7h1.3v1.3h-1.3zM203.1 55.8h1.3v1.3h-1.3zM202.1 53.7h1.3v1.3h-1.3zM202.5 60.0h1.3v1.3h-1.3zM206.7 58.1h1.3v1.3h-1.3zM203.7 65.0h1.3v1.3h-1.3zM204.0 54.9h1.3v1.3h-1.3zM202.0 60.6h1.3v1.3h-1.3zM203.2 62.9h1.3v1.3h-1.3zM203.0 54.8h1.3v1.3h-1.3zM204.4 59.0h1.3v1.3h-1.3zM203.4 61.3h1.3v1.3h-1.3zM201.6 62.2h1.3v1.3h-1.3zM204.0 59.1h1.3v1.3h-1.3zM202.2 59.6h1.3v1.3h-1.3zM203.5 63.9h1.3v1.3h-1.3zM203.3 44.4h1.3v1.3h-1.3zM204.7 35.4h1.3v1.3h-1.3zM205.9 35.5h1.3v1.3h-1.3zM203.4 49.1h1.3v1.3h-1.3zM204.6 36.1h1.3v1.3h-1.3zM202.8 67.1h1.3v1.3h-1.3zM201.2 62.9h1.3v1.3h-1.3zM203.5 63.9h1.3v1.3h-1.3zM202.8 68.3h1.3v1.3h-1.3zM204.0 66.6h1.3v1.3h-1.3zM204.1 64.8h1.3v1.3h-1.3zM203.4 67.6h1.3v1.3h-1.3zM202.2 64.4h1.3v1.3h-1.3zM202.4 67.9h1.3v1.3h-1.3z" fill="#000" fill-opacity="0.55"/>
<path d="M293.9 39.4h1.3v1.3h-1.3zM292.6 31.6h1.3v1.3h-1.3zM292.9 31.8h1.3v1.3h-1.3zM291.5 32.9h1.3v1.3h-1.3zM293.7 36.7h1.3v1.3h-1.3zM294.3 32.8h1.3v1.3h-1.3zM293.3 33.3h1.3v1.3h-1.3zM292.4 32.6h1.3v1.3h-1.3zM291.9 32.1h1.3v1.3h-1.3zM291.5 32.1h1.3v1.3h-1.3zM291.8 34.0h1.3v1.3h-1.3zM290.7 32.8h1.3v1.3h-1.3zM292.6 30.3h1.3v1.3h-1.3zM293.0 30.2h1.3v1.3h-1.3zM292.8 38.2h1.3v1.3h-1.3zM290.7 34.5h1.3v1.3h-1.3zM295.1 35.5h1.3v1.3h-1.3zM294.9 36.4h1.3v1.3h-1.3zM291.9 29.3h1.3v1.3h-1.3zM291.0 29.7h1.3v1.3h-1.3zM294.1 32.4h1.3v1.3h-1.3zM293.2 35.6h1.3v1.3h-1.3zM292.4 34.6h1.3v1.3h-1.3zM291.9 28.6h1.3v1.3h-1.3zM293.3 34.0h1.3v1.3h-1.3zM290.7 35.5h1.3v1.3h-1.3zM293.8 31.6h1.3v1.3h-1.3zM291.2 28.1h1.3v1.3h-1.3zM290.7 32.7h1.3v1.3h-1.3zM292.3 33.6h1.3v1.3h-1.3zM292.4 35.4h1.3v1.3h-1.3zM291.9 33.7h1.3v1.3h-1.3zM294.7 33.1h1.3v1.3h-1.3zM290.9 34.5h1.3v1.3h-1.3zM294.9 31.0h1.3v1.3h-1.3zM294.9 34.6h1.3v1.3h-1.3zM294.2 36.5h1.3v1.3h-1.3zM293.2 28.5h1.3v1.3h-1.3zM292.1 33.0h1.3v1.3h-1.3zM294.4 33.6h1.3v1.3h-1.3zM294.1 31.2h1.3v1.3h-1.3zM293.8 31.7h1.3v1.3h-1.3zM292.6 35.7h1.3v1.3h-1.3zM297.2 43.7h1.3v1.3h-1.3zM286.4 37.7h1.3v1.3h-1.3zM292.7 33.2h1.3v1.3h-1.3zM294.9 43.2h1.3v1.3h-1.3zM291.4 35.1h1.3v1.3h-1.3zM287.9 32.2h1.3v1.3h-1.3zM296.3 39.6h1.3v1.3h-1.3zM292.6 31.5h1.3v1.3h-1.3zM290.5 33.5h1.3v1.3h-1.3zM294.2 47.7h1.3v1.3h-1.3zM291.6 50.6h1.3v1.3h-1.3zM286.3 52.5h1.3v1.3h-1.3zM289.4 47.7h1.3v1.3h-1.3z" fill="#000" fill-opacity="0.55"/>
<path d="M292.9 35.4h1.3v1.3h-1.3zM291.3 32.7h1.3v1.3h-1.3zM293.3 34.3h1.3v1.3h-1.3zM294.2 33.8h1.3v1.3h-1.3zM292.8 28.8h1.3v1.3h-1.3zM291.8 33.4h1.3v1.3h-1.3zM293.6 34.8h1.3v1.3h-1.3zM292.2 32.9h1.3v1.3h-1.3zM289.3 33.3h1.3v1.3h-1.3zM293.3 32.3h1.3v1.3h-1.3zM293.3 27.6h1.3v1.3h-1.3zM291.6 31.3h1.3v1.3h-1.3zM294.2 30.0h1.3v1.3h-1.3zM294.6 31.5h1.3v1.3h-1.3zM292.2 34.9h1.3v1.3h-1.3zM295.2 34.5h1.3v1.3h-1.3zM292.7 34.1h1.3v1.3h-1.3zM291.2 30.3h1.3v1.3h-1.3zM291.6 32.1h1.3v1.3h-1.3zM292.8 33.4h1.3v1.3h-1.3zM294.2 34.3h1.3v1.3h-1.3zM291.0 36.3h1.3v1.3h-1.3zM295.0 34.9h1.3v1.3h-1.3zM294.0 29.4h1.3v1.3h-1.3zM292.2 36.7h1.3v1.3h-1.3zM290.5 34.6h1.3v1.3h-1.3zM293.0 32.2h1.3v1.3h-1.3zM292.9 31.7h1.3v1.3h-1.3zM293.5 33.0h1.3v1.3h-1.3zM290.6 36.4h1.3v1.3h-1.3zM291.5 29.6h1.3v1.3h-1.3zM293.3 35.3h1.3v1.3h-1.3zM292.9 29.9h1.3v1.3h-1.3zM291.8 32.8h1.3v1.3h-1.3zM294.7 32.4h1.3v1.3h-1.3zM294.9 32.6h1.3v1.3h-1.3zM292.3 33.4h1.3v1.3h-1.3zM293.0 29.3h1.3v1.3h-1.3zM293.4 36.2h1.3v1.3h-1.3zM292.8 30.7h1.3v1.3h-1.3zM294.0 34.9h1.3v1.3h-1.3zM293.1 37.2h1.3v1.3h-1.3zM291.5 35.7h1.3v1.3h-1.3zM292.4 34.8h1.3v1.3h-1.3zM292.1 31.5h1.3v1.3h-1.3zM293.2 33.8h1.3v1.3h-1.3zM292.2 34.1h1.3v1.3h-1.3zM294.5 30.6h1.3v1.3h-1.3zM290.8 30.4h1.3v1.3h-1.3zM290.5 32.2h1.3v1.3h-1.3zM291.3 29.0h1.3v1.3h-1.3zM291.6 34.8h1.3v1.3h-1.3zM291.4 27.9h1.3v1.3h-1.3zM291.1 29.9h1.3v1.3h-1.3zM293.4 33.1h1.3v1.3h-1.3zM292.2 31.5h1.3v1.3h-1.3zM290.7 28.7h1.3v1.3h-1.3zM293.9 33.2h1.3v1.3h-1.3zM292.6 35.7h1.3v1.3h-1.3zM289.9 40.2h1.3v1.3h-1.3zM290.5 32.6h1.3v1.3h-1.3zM287.4 39.4h1.3v1.3h-1.3zM293.0 31.3h1.3v1.3h-1.3zM289.2 38.0h1.3v1.3h-1.3zM294.3 26.1h1.3v1.3h-1.3zM290.0 25.3h1.3v1.3h-1.3zM292.9 37.9h1.3v1.3h-1.3zM289.7 38.3h1.3v1.3h-1.3zM294.8 34.9h1.3v1.3h-1.3zM300.1 38.1h1.3v1.3h-1.3z" fill="#000" fill-opacity="0.55"/>
<path d="M292.8 31.3h1.3v1.3h-1.3zM290.5 35.6h1.3v1.3h-1.3zM292.2 27.9h1.3v1.3h-1.3zM291.8 31.5h1.3v1.3h-1.3zM292.2 32.2h1.3v1.3h-1.3zM292.9 34.8h1.3v1.3h-1.3zM293.8 35.0h1.3v1.3h-1.3zM291.8 31.3h1.3v1.3h-1.3zM290.2 30.6h1.3v1.3h-1.3zM292.9 31.2h1.3v1.3h-1.3zM292.6 33.1h1.3v1.3h-1.3zM293.8 33.0h1.3v1.3h-1.3zM294.1 34.9h1.3v1.3h-1.3zM292.9 31.6h1.3v1.3h-1.3zM293.0 29.3h1.3v1.3h-1.3zM295.1 33.2h1.3v1.3h-1.3zM291.8 28.6h1.3v1.3h-1.3zM291.3 32.1h1.3v1.3h-1.3zM292.5 27.2h1.3v1.3h-1.3zM292.6 30.9h1.3v1.3h-1.3zM290.2 33.9h1.3v1.3h-1.3zM293.0 36.3h1.3v1.3h-1.3zM292.2 34.1h1.3v1.3h-1.3zM293.0 33.1h1.3v1.3h-1.3zM293.3 34.0h1.3v1.3h-1.3zM291.4 36.1h1.3v1.3h-1.3zM291.7 32.6h1.3v1.3h-1.3zM294.1 33.1h1.3v1.3h-1.3zM290.3 33.2h1.3v1.3h-1.3zM291.2 36.7h1.3v1.3h-1.3zM292.4 38.7h1.3v1.3h-1.3zM294.6 35.1h1.3v1.3h-1.3zM291.9 29.0h1.3v1.3h-1.3zM293.0 32.4h1.3v1.3h-1.3zM292.7 35.7h1.3v1.3h-1.3zM292.6 29.5h1.3v1.3h-1.3zM291.9 34.7h1.3v1.3h-1.3zM294.0 36.8h1.3v1.3h-1.3zM293.0 34.9h1.3v1.3h-1.3zM290.7 31.2h1.3v1.3h-1.3zM292.1 28.1h1.3v1.3h-1.3zM293.8 30.1h1.3v1.3h-1.3zM291.7 30.9h1.3v1.3h-1.3zM291.9 36.1h1.3v1.3h-1.3zM291.6 31.3h1.3v1.3h-1.3zM294.2 33.7h1.3v1.3h-1.3zM294.1 31.9h1.3v1.3h-1.3zM290.6 32.0h1.3v1.3h-1.3zM293.1 36.5h1.3v1.3h-1.3zM291.0 33.6h1.3v1.3h-1.3zM292.0 32.6h1.3v1.3h-1.3zM294.0 37.4h1.3v1.3h-1.3zM293.2 36.5h1.3v1.3h-1.3zM290.1 34.9h1.3v1.3h-1.3zM290.1 31.8h1.3v1.3h-1.3zM291.4 30.4h1.3v1.3h-1.3zM291.1 32.8h1.3v1.3h-1.3zM292.9 32.6h1.3v1.3h-1.3zM293.1 31.2h1.3v1.3h-1.3zM289.1 32.7h1.3v1.3h-1.3zM291.3 29.5h1.3v1.3h-1.3zM291.2 30.7h1.3v1.3h-1.3zM292.7 33.6h1.3v1.3h-1.3zM292.2 35.4h1.3v1.3h-1.3zM293.2 30.1h1.3v1.3h-1.3zM292.1 33.6h1.3v1.3h-1.3zM291.9 31.5h1.3v1.3h-1.3zM292.2 33.0h1.3v1.3h-1.3zM296.1 35.6h1.3v1.3h-1.3zM290.0 39.6h1.3v1.3h-1.3zM290.6 40.7h1.3v1.3h-1.3zM294.3 35.0h1.3v1.3h-1.3zM290.3 32.5h1.3v1.3h-1.3zM291.6 49.2h1.3v1.3h-1.3z" fill="#000" fill-opacity="0.55"/>
<path d="M293.8 31.9h1.3v1.3h-1.3zM294.1 31.1h1.3v1.3h-1.3zM292.9 32.0h1.3v1.3h-1.3zM290.9 34.6h1.3v1.3h-1.3zM292.2 33.0h1.3v1.3h-1.3zM291.7 31.3h1.3v1.3h-1.3zM292.6 32.2h1.3v1.3h-1.3zM293.2 34.3h1.3v1.3h-1.3zM291.7 30.9h1.3v1.3h-1.3zM292.6 38.2h1.3v1.3h-1.3zM292.5 30.4h1.3v1.3h-1.3zM293.5 32.6h1.3v1.3h-1.3zM292.5 34.8h1.3v1.3h-1.3zM293.4 31.5h1.3v1.3h-1.3zM290.8 27.3h1.3v1.3h-1.3zM291.9 29.8h1.3v1.3h-1.3zM292.9 33.4h1.3v1.3h-1.3zM294.0 35.2h1.3v1.3h-1.3zM291.8 31.4h1.3v1.3h-1.3zM291.5 34.4h1.3v1.3h-1.3zM293.0 34.2h1.3v1.3h-1.3zM293.6 34.4h1.3v1.3h-1.3zM292.5 30.4h1.3v1.3h-1.3zM293.2 36.2h1.3v1.3h-1.3zM291.6 31.0h1.3v1.3h-1.3zM292.9 29.3h1.3v1.3h-1.3zM291.9 31.7h1.3v1.3h-1.3zM291.3 34.2h1.3v1.3h-1.3zM293.4 30.4h1.3v1.3h-1.3zM289.9 36.1h1.3v1.3h-1.3zM290.8 34.8h1.3v1.3h-1.3zM292.9 36.9h1.3v1.3h-1.3zM291.9 34.0h1.3v1.3h-1.3zM291.5 33.4h1.3v1.3h-1.3zM294.5 30.7h1.3v1.3h-1.3zM292.8 37.1h1.3v1.3h-1.3zM291.1 33.2h1.3v1.3h-1.3zM295.1 33.2h1.3v1.3h-1.3zM293.1 32.8h1.3v1.3h-1.3zM292.9 35.5h1.3v1.3h-1.3zM291.1 34.4h1.3v1.3h-1.3zM291.6 33.0h1.3v1.3h-1.3zM292.0 34.8h1.3v1.3h-1.3zM292.1 36.0h1.3v1.3h-1.3zM293.8 31.0h1.3v1.3h-1.3zM294.2 31.4h1.3v1.3h-1.3zM292.6 31.9h1.3v1.3h-1.3zM293.2 33.3h1.3v1.3h-1.3zM294.1 32.7h1.3v1.3h-1.3zM292.0 31.7h1.3v1.3h-1.3zM296.2 35.2h1.3v1.3h-1.3zM292.2 34.3h1.3v1.3h-1.3zM290.7 42.2h1.3v1.3h-1.3zM295.1 41.8h1.3v1.3h-1.3zM296.6 32.1h1.3v1.3h-1.3zM290.3 33.4h1.3v1.3h-1.3zM290.9 26.4h1.3v1.3h-1.3zM297.2 33.7h1.3v1.3h-1.3zM287.9 28.9h1.3v1.3h-1.3zM290.4 33.3h1.3v1.3h-1.3zM295.1 28.0h1.3v1.3h-1.3zM293.6 42.6h1.3v1.3h-1.3zM293.0 29.9h1.3v1.3h-1.3zM294.7 31.1h1.3v1.3h-1.3zM290.1 39.7h1.3v1.3h-1.3zM292.8 36.2h1.3v1.3h-1.3zM291.4 45.9h1.3v1.3h-1.3zM293.2 40.7h1.3v1.3h-1.3z" fill="#000" fill-opacity="0.55"/>
<path d="M293.0 31.7h1.3v1.3h-1.3zM292.6 32.3h1.3v1.3h-1.3zM291.3 33.8h1.3v1.3h-1.3zM294.4 33.5h1.3v1.3h-1.3zM292.0 33.2h1.3v1.3h-1.3zM293.8 34.4h1.3v1.3h-1.3zM292.4 28.9h1.3v1.3h-1.3zM293.4 31.8h1.3v1.3h-1.3zM294.2 37.8h1.3v1.3h-1.3zM291.4 28.4h1.3v1.3h-1.3zM291.8 33.5h1.3v1.3h-1.3zM290.2 27.7h1.3v1.3h-1.3zM293.6 34.4h1.3v1.3h-1.3zM292.9 36.1h1.3v1.3h-1.3zM291.5 31.1h1.3v1.3h-1.3zM291.8 34.1h1.3v1.3h-1.3zM294.5 33.2h1.3v1.3h-1.3zM294.7 34.5h1.3v1.3h-1.3zM293.3 32.5h1.3v1.3h-1.3zM293.2 36.1h1.3v1.3h-1.3zM292.4 36.4h1.3v1.3h-1.3zM293.8 28.4h1.3v1.3h-1.3zM291.9 31.5h1.3v1.3h-1.3zM293.1 33.6h1.3v1.3h-1.3zM292.6 31.4h1.3v1.3h-1.3zM292.0 35.3h1.3v1.3h-1.3zM293.6 33.2h1.3v1.3h-1.3zM291.8 34.6h1.3v1.3h-1.3zM293.7 30.3h1.3v1.3h-1.3zM292.9 26.4h1.3v1.3h-1.3zM292.1 30.3h1.3v1.3h-1.3zM292.8 32.7h1.3v1.3h-1.3zM290.5 32.2h1.3v1.3h-1.3zM292.2 34.4h1.3v1.3h-1.3zM295.3 36.7h1.3v1.3h-1.3zM289.1 33.4h1.3v1.3h-1.3zM295.3 37.8h1.3v1.3h-1.3zM294.1 31.9h1.3v1.3h-1.3zM293.3 29.8h1.3v1.3h-1.3zM293.1 39.1h1.3v1.3h-1.3zM291.9 34.3h1.3v1.3h-1.3zM291.9 31.1h1.3v1.3h-1.3zM291.9 33.3h1.3v1.3h-1.3zM290.8 38.9h1.3v1.3h-1.3zM291.2 37.1h1.3v1.3h-1.3zM291.6 35.0h1.3v1.3h-1.3zM290.4 32.3h1.3v1.3h-1.3zM293.2 30.8h1.3v1.3h-1.3zM291.3 29.5h1.3v1.3h-1.3zM291.9 30.7h1.3v1.3h-1.3zM291.7 32.3h1.3v1.3h-1.3zM292.0 35.3h1.3v1.3h-1.3zM294.2 34.0h1.3v1.3h-1.3zM296.8 40.1h1.3v1.3h-1.3zM292.1 47.4h1.3v1.3h-1.3zM290.4 31.4h1.3v1.3h-1.3zM288.9 40.5h1.3v1.3h-1.3zM289.5 40.1h1.3v1.3h-1.3zM294.5 25.8h1.3v1.3h-1.3zM290.6 35.7h1.3v1.3h-1.3zM292.2 43.0h1.3v1.3h-1.3zM287.4 30.1h1.3v1.3h-1.3zM295.2 39.2h1.3v1.3h-1.3zM292.7 32.3h1.3v1.3h-1.3zM291.8 34.9h1.3v1.3h-1.3zM294.3 30.9h1.3v1.3h-1.3zM291.0 51.1h1.3v1.3h-1.3zM291.4 52.4h1.3v1.3h-1.3zM287.2 47.1h1.3v1.3h-1.3z" fill="#000" fill-opacity="0.55"/>
<path d="M292.9 31.7h1.3v1.3h-1.3zM291.3 31.2h1.3v1.3h-1.3zM291.1 34.5h1.3v1.3h-1.3zM291.6 33.1h1.3v1.3h-1.3zM291.3 32.9h1.3v1.3h-1.3zM293.3 32.6h1.3v1.3h-1.3zM295.3 26.7h1.3v1.3h-1.3zM292.3 28.6h1.3v1.3h-1.3zM293.7 33.9h1.3v1.3h-1.3zM289.7 32.9h1.3v1.3h-1.3zM293.4 33.3h1.3v1.3h-1.3zM293.8 30.8h1.3v1.3h-1.3zM295.8 37.6h1.3v1.3h-1.3zM291.2 36.1h1.3v1.3h-1.3zM293.0 31.3h1.3v1.3h-1.3zM291.0 31.2h1.3v1.3h-1.3zM289.8 32.6h1.3v1.3h-1.3zM294.6 37.2h1.3v1.3h-1.3zM292.6 34.4h1.3v1.3h-1.3zM294.1 33.8h1.3v1.3h-1.3zM294.2 33.2h1.3v1.3h-1.3zM292.6 33.7h1.3v1.3h-1.3zM291.5 36.4h1.3v1.3h-1.3zM292.4 31.2h1.3v1.3h-1.3zM292.8 32.7h1.3v1.3h-1.3zM291.8 28.5h1.3v1.3h-1.3zM295.3 30.0h1.3v1.3h-1.3zM293.9 33.5h1.3v1.3h-1.3zM292.9 34.8h1.3v1.3h-1.3zM293.8 31.4h1.3v1.3h-1.3zM293.6 34.9h1.3v1.3h-1.3zM293.3 31.8h1.3v1.3h-1.3zM292.6 35.1h1.3v1.3h-1.3zM292.1 30.3h1.3v1.3h-1.3zM293.7 35.5h1.3v1.3h-1.3zM290.8 35.2h1.3v1.3h-1.3zM291.8 33.8h1.3v1.3h-1.3zM293.7 34.4h1.3v1.3h-1.3zM293.8 36.5h1.3v1.3h-1.3zM290.9 35.5h1.3v1.3h-1.3zM293.9 33.2h1.3v1.3h-1.3zM292.0 34.5h1.3v1.3h-1.3zM294.1 36.0h1.3v1.3h-1.3zM293.6 29.0h1.3v1.3h-1.3zM293.2 31.1h1.3v1.3h-1.3zM293.2 31.5h1.3v1.3h-1.3zM292.1 35.6h1.3v1.3h-1.3zM292.4 32.7h1.3v1.3h-1.3zM295.8 33.4h1.3v1.3h-1.3zM291.3 28.6h1.3v1.3h-1.3zM291.6 32.4h1.3v1.3h-1.3zM292.7 34.3h1.3v1.3h-1.3zM291.0 33.6h1.3v1.3h-1.3zM292.2 29.7h1.3v1.3h-1.3zM294.6 34.0h1.3v1.3h-1.3zM293.6 33.6h1.3v1.3h-1.3zM292.0 29.9h1.3v1.3h-1.3zM293.0 27.7h1.3v1.3h-1.3zM291.9 31.1h1.3v1.3h-1.3zM293.6 29.2h1.3v1.3h-1.3zM290.0 29.9h1.3v1.3h-1.3zM292.1 31.9h1.3v1.3h-1.3zM296.6 37.6h1.3v1.3h-1.3zM291.1 25.8h1.3v1.3h-1.3zM289.5 29.5h1.3v1.3h-1.3zM288.7 37.7h1.3v1.3h-1.3zM298.8 39.8h1.3v1.3h-1.3zM297.0 37.4h1.3v1.3h-1.3zM291.7 36.7h1.3v1.3h-1.3zM294.0 33.5h1.3v1.3h-1.3zM289.2 30.5h1.3v1.3h-1.3zM288.9 35.9h1.3v1.3h-1.3zM294.0 41.8h1.3v1.3h-1.3z" fill="#000" fill-opacity="0.55"/>
<path d="M383.1 51.4h1.3v1.3h-1.3zM384.2 55.2h1.3v1.3h-1.3zM384.4 56.5h1.3v1.3h-1.3zM384.4 57.5h1.3v1.3h-1.3zM384.4 50.3h1.3v1.3h-1.3zM383.3 50.0h1.3v1.3h-1.3zM385.0 60.2h1.3v1.3h-1.3zM383.6 56.9h1.3v1.3h-1.3zM386.1 54.4h1.3v1.3h-1.3zM383.6 54.7h1.3v1.3h-1.3zM384.3 53.2h1.3v1.3h-1.3zM382.6 51.8h1.3v1.3h-1.3zM383.5 56.9h1.3v1.3h-1.3zM383.5 50.8h1.3v1.3h-1.3zM384.7 52.3h1.3v1.3h-1.3zM383.2 56.1h1.3v1.3h-1.3zM382.4 55.9h1.3v1.3h-1.3zM384.8 50.3h1.3v1.3h-1.3zM382.3 54.7h1.3v1.3h-1.3zM384.3 50.8h1.3v1.3h-1.3zM383.8 51.3h1.3v1.3h-1.3zM386.1 52.3h1.3v1.3h-1.3zM385.0 52.5h1.3v1.3h-1.3zM384.4 47.5h1.3v1.3h-1.3zM383.2 51.9h1.3v1.3h-1.3zM382.4 54.0h1.3v1.3h-1.3zM384.5 53.6h1.3v1.3h-1.3zM382.3 55.6h1.3v1.3h-1.3zM382.4 53.0h1.3v1.3h-1.3zM383.1 60.4h1.3v1.3h-1.3zM384.6 55.9h1.3v1.3h-1.3zM384.1 47.7h1.3v1.3h-1.3zM384.8 48.8h1.3v1.3h-1.3zM382.2 56.4h1.3v1.3h-1.3zM384.5 52.1h1.3v1.3h-1.3zM383.9 56.6h1.3v1.3h-1.3zM383.4 53.7h1.3v1.3h-1.3zM383.0 59.7h1.3v1.3h-1.3zM383.2 52.4h1.3v1.3h-1.3zM379.9 52.1h1.3v1.3h-1.3zM381.6 53.6h1.3v1.3h-1.3zM382.7 52.9h1.3v1.3h-1.3zM385.8 57.1h1.3v1.3h-1.3zM385.6 51.5h1.3v1.3h-1.3zM384.0 51.7h1.3v1.3h-1.3zM385.3 68.9h1.3v1.3h-1.3zM384.5 65.0h1.3v1.3h-1.3zM382.3 68.8h1.3v1.3h-1.3zM382.8 69.0h1.3v1.3h-1.3zM381.8 65.7h1.3v1.3h-1.3zM385.4 68.1h1.3v1.3h-1.3zM382.6 59.4h1.3v1.3h-1.3zM384.2 62.0h1.3v1.3h-1.3z" fill="#000" fill-opacity="0.55"/>
<path d="M383.7 55.5h1.3v1.3h-1.3zM383.6 56.4h1.3v1.3h-1.3zM383.5 52.2h1.3v1.3h-1.3zM386.1 56.4h1.3v1.3h-1.3zM382.6 61.6h1.3v1.3h-1.3zM383.2 52.3h1.3v1.3h-1.3zM384.4 60.1h1.3v1.3h-1.3zM383.5 53.3h1.3v1.3h-1.3zM385.7 57.2h1.3v1.3h-1.3zM384.8 53.3h1.3v1.3h-1.3zM383.8 56.0h1.3v1.3h-1.3zM383.4 52.2h1.3v1.3h-1.3zM382.4 52.5h1.3v1.3h-1.3zM384.1 55.0h1.3v1.3h-1.3zM383.6 52.3h1.3v1.3h-1.3zM381.5 59.7h1.3v1.3h-1.3zM383.7 57.7h1.3v1.3h-1.3zM381.2 52.4h1.3v1.3h-1.3zM384.9 53.3h1.3v1.3h-1.3zM384.0 55.8h1.3v1.3h-1.3zM384.8 56.9h1.3v1.3h-1.3zM384.1 52.5h1.3v1.3h-1.3zM384.2 50.6h1.3v1.3h-1.3zM384.0 49.0h1.3v1.3h-1.3zM383.7 54.3h1.3v1.3h-1.3zM382.8 52.3h1.3v1.3h-1.3zM382.4 55.7h1.3v1.3h-1.3zM382.5 57.4h1.3v1.3h-1.3zM383.9 54.6h1.3v1.3h-1.3zM384.5 56.5h1.3v1.3h-1.3zM381.6 53.3h1.3v1.3h-1.3zM382.2 54.6h1.3v1.3h-1.3zM384.1 55.8h1.3v1.3h-1.3zM383.6 58.1h1.3v1.3h-1.3zM383.4 59.9h1.3v1.3h-1.3zM381.3 63.8h1.3v1.3h-1.3zM383.6 65.8h1.3v1.3h-1.3zM384.7 62.3h1.3v1.3h-1.3zM384.0 66.4h1.3v1.3h-1.3zM383.2 64.2h1.3v1.3h-1.3zM384.3 65.7h1.3v1.3h-1.3zM384.1 65.5h1.3v1.3h-1.3zM384.7 63.9h1.3v1.3h-1.3zM383.4 59.6h1.3v1.3h-1.3zM384.5 64.0h1.3v1.3h-1.3zM383.2 58.8h1.3v1.3h-1.3zM383.5 64.9h1.3v1.3h-1.3zM385.5 65.3h1.3v1.3h-1.3z" fill="#000" fill-opacity="0.55"/>
<path d="M383.5 59.1h1.3v1.3h-1.3zM383.0 55.2h1.3v1.3h-1.3zM384.1 62.7h1.3v1.3h-1.3zM383.2 53.1h1.3v1.3h-1.3zM384.1 51.8h1.3v1.3h-1.3zM385.8 57.2h1.3v1.3h-1.3zM381.4 62.8h1.3v1.3h-1.3zM384.3 50.7h1.3v1.3h-1.3zM383.4 54.5h1.3v1.3h-1.3zM384.4 60.8h1.3v1.3h-1.3zM382.3 58.6h1.3v1.3h-1.3zM382.3 54.1h1.3v1.3h-1.3zM383.4 54.3h1.3v1.3h-1.3zM383.6 61.1h1.3v1.3h-1.3zM383.4 52.9h1.3v1.3h-1.3zM381.8 50.6h1.3v1.3h-1.3zM383.8 53.9h1.3v1.3h-1.3zM382.7 51.9h1.3v1.3h-1.3zM382.5 57.7h1.3v1.3h-1.3zM384.4 51.7h1.3v1.3h-1.3zM381.9 56.7h1.3v1.3h-1.3zM385.3 53.0h1.3v1.3h-1.3zM383.5 48.6h1.3v1.3h-1.3zM384.1 53.5h1.3v1.3h-1.3zM382.4 54.5h1.3v1.3h-1.3zM384.0 57.3h1.3v1.3h-1.3zM382.4 52.8h1.3v1.3h-1.3zM382.5 57.2h1.3v1.3h-1.3zM381.6 51.2h1.3v1.3h-1.3zM385.0 44.6h1.3v1.3h-1.3zM382.6 50.9h1.3v1.3h-1.3zM382.0 57.8h1.3v1.3h-1.3zM383.4 59.7h1.3v1.3h-1.3zM384.1 56.0h1.3v1.3h-1.3zM383.8 54.7h1.3v1.3h-1.3zM383.1 65.2h1.3v1.3h-1.3zM383.2 63.9h1.3v1.3h-1.3zM383.0 65.7h1.3v1.3h-1.3zM383.6 64.2h1.3v1.3h-1.3zM383.9 61.0h1.3v1.3h-1.3zM383.9 60.5h1.3v1.3h-1.3zM382.7 62.9h1.3v1.3h-1.3zM382.2 67.4h1.3v1.3h-1.3zM383.3 67.5h1.3v1.3h-1.3zM385.5 58.8h1.3v1.3h-1.3zM383.3 59.8h1.3v1.3h-1.3z" fill="#000" fill-opacity="0.55"/>
<path d="M381.9 47.5h1.3v1.3h-1.3zM384.0 49.0h1.3v1.3h-1.3zM383.2 51.8h1.3v1.3h-1.3zM384.2 58.1h1.3v1.3h-1.3zM383.5 51.5h1.3v1.3h-1.3zM383.8 54.4h1.3v1.3h-1.3zM382.3 50.8h1.3v1.3h-1.3zM384.0 51.5h1.3v1.3h-1.3zM384.8 48.5h1.3v1.3h-1.3zM384.9 54.6h1.3v1.3h-1.3zM384.1 54.8h1.3v1.3h-1.3zM383.1 55.6h1.3v1.3h-1.3zM380.7 58.5h1.3v1.3h-1.3zM384.4 48.1h1.3v1.3h-1.3zM384.9 55.9h1.3v1.3h-1.3zM383.2 54.2h1.3v1.3h-1.3zM384.2 54.8h1.3v1.3h-1.3zM384.7 57.8h1.3v1.3h-1.3zM383.3 58.0h1.3v1.3h-1.3zM384.4 50.3h1.3v1.3h-1.3zM383.3 57.0h1.3v1.3h-1.3zM382.9 64.9h1.3v1.3h-1.3zM383.7 49.7h1.3v1.3h-1.3zM383.4 51.5h1.3v1.3h-1.3zM383.2 53.7h1.3v1.3h-1.3zM385.3 51.5h1.3v1.3h-1.3zM379.8 51.4h1.3v1.3h-1.3zM382.3 54.0h1.3v1.3h-1.3zM383.0 50.6h1.3v1.3h-1.3zM384.1 57.3h1.3v1.3h-1.3zM383.6 52.8h1.3v1.3h-1.3zM381.2 50.0h1.3v1.3h-1.3zM381.4 49.0h1.3v1.3h-1.3zM382.3 62.1h1.3v1.3h-1.3zM383.0 59.5h1.3v1.3h-1.3zM382.9 63.7h1.3v1.3h-1.3zM385.0 59.5h1.3v1.3h-1.3zM382.6 61.4h1.3v1.3h-1.3zM383.0 60.9h1.3v1.3h-1.3zM384.0 63.3h1.3v1.3h-1.3zM383.1 60.8h1.3v1.3h-1.3zM383.5 64.3h1.3v1.3h-1.3zM384.7 58.1h1.3v1.3h-1.3zM383.6 54.5h1.3v1.3h-1.3zM383.4 54.6h1.3v1.3h-1.3zM382.2 65.3h1.3v1.3h-1.3zM383.6 61.7h1.3v1.3h-1.3z" fill="#000" fill-opacity="0.55"/>
<path d="M385.6 60.7h1.3v1.3h-1.3zM386.9 52.1h1.3v1.3h-1.3zM383.6 57.9h1.3v1.3h-1.3zM383.8 53.5h1.3v1.3h-1.3zM382.0 51.2h1.3v1.3h-1.3zM383.5 54.0h1.3v1.3h-1.3zM385.1 48.9h1.3v1.3h-1.3zM382.6 55.5h1.3v1.3h-1.3zM382.7 54.9h1.3v1.3h-1.3zM384.0 51.4h1.3v1.3h-1.3zM383.1 53.6h1.3v1.3h-1.3zM384.0 55.2h1.3v1.3h-1.3zM384.9 58.4h1.3v1.3h-1.3zM384.5 47.9h1.3v1.3h-1.3zM382.9 59.6h1.3v1.3h-1.3zM383.5 56.3h1.3v1.3h-1.3zM384.5 58.2h1.3v1.3h-1.3zM382.7 56.9h1.3v1.3h-1.3zM384.4 47.0h1.3v1.3h-1.3zM382.9 52.0h1.3v1.3h-1.3zM382.4 56.2h1.3v1.3h-1.3zM383.1 59.4h1.3v1.3h-1.3zM383.5 58.5h1.3v1.3h-1.3zM383.0 54.1h1.3v1.3h-1.3zM383.4 57.1h1.3v1.3h-1.3zM383.8 58.7h1.3v1.3h-1.3zM384.2 56.1h1.3v1.3h-1.3zM384.2 57.2h1.3v1.3h-1.3zM382.6 58.8h1.3v1.3h-1.3zM382.0 49.8h1.3v1.3h-1.3zM383.7 50.4h1.3v1.3h-1.3zM380.8 54.6h1.3v1.3h-1.3zM382.6 52.9h1.3v1.3h-1.3zM384.1 47.4h1.3v1.3h-1.3zM382.9 56.6h1.3v1.3h-1.3zM381.4 58.0h1.3v1.3h-1.3zM383.2 51.2h1.3v1.3h-1.3zM382.7 58.3h1.3v1.3h-1.3zM384.6 54.4h1.3v1.3h-1.3zM385.6 53.6h1.3v1.3h-1.3zM381.5 63.6h1.3v1.3h-1.3zM384.5 54.6h1.3v1.3h-1.3zM384.4 50.5h1.3v1.3h-1.3zM382.6 52.8h1.3v1.3h-1.3zM382.1 50.2h1.3v1.3h-1.3zM383.7 51.3h1.3v1.3h-1.3zM384.0 57.0h1.3v1.3h-1.3zM382.2 56.4h1.3v1.3h-1.3zM383.6 55.6h1.3v1.3h-1.3zM382.7 61.6h1.3v1.3h-1.3zM380.9 54.7h1.3v1.3h-1.3zM383.0 62.2h1.3v1.3h-1.3zM384.7 68.8h1.3v1.3h-1.3zM382.9 65.5h1.3v1.3h-1.3zM384.9 66.7h1.3v1.3h-1.3zM382.6 67.1h1.3v1.3h-1.3zM385.8 69.6h1.3v1.3h-1.3zM383.2 67.2h1.3v1.3h-1.3zM384.5 58.1h1.3v1.3h-1.3zM383.6 63.2h1.3v1.3h-1.3zM383.6 61.1h1.3v1.3h-1.3z" fill="#000" fill-opacity="0.55"/>
<path d="M385.6 50.0h1.3v1.3h-1.3zM381.7 46.2h1.3v1.3h-1.3zM383.7 46.0h1.3v1.3h-1.3zM382.9 54.8h1.3v1.3h-1.3zM383.6 56.5h1.3v1.3h-1.3zM385.7 59.2h1.3v1.3h-1.3zM384.2 50.8h1.3v1.3h-1.3zM383.7 55.7h1.3v1.3h-1.3zM383.5 58.2h1.3v1.3h-1.3zM384.1 56.9h1.3v1.3h-1.3zM385.9 61.1h1.3v1.3h-1.3zM384.3 56.2h1.3v1.3h-1.3zM383.9 53.7h1.3v1.3h-1.3zM384.1 58.0h1.3v1.3h-1.3zM383.4 52.2h1.3v1.3h-1.3zM384.1 50.1h1.3v1.3h-1.3zM383.7 55.8h1.3v1.3h-1.3zM384.2 52.5h1.3v1.3h-1.3zM382.6 58.0h1.3v1.3h-1.3zM384.4 54.0h1.3v1.3h-1.3zM385.1 55.0h1.3v1.3h-1.3zM384.8 47.0h1.3v1.3h-1.3zM383.6 58.3h1.3v1.3h-1.3zM385.5 53.3h1.3v1.3h-1.3zM383.1 52.3h1.3v1.3h-1.3zM383.0 52.6h1.3v1.3h-1.3zM382.2 52.3h1.3v1.3h-1.3zM384.1 59.9h1.3v1.3h-1.3zM384.6 54.8h1.3v1.3h-1.3zM383.8 55.6h1.3v1.3h-1.3zM384.5 58.2h1.3v1.3h-1.3zM384.5 53.0h1.3v1.3h-1.3zM384.3 53.9h1.3v1.3h-1.3zM382.0 61.5h1.3v1.3h-1.3zM384.8 53.6h1.3v1.3h-1.3zM383.1 54.4h1.3v1.3h-1.3zM384.9 51.1h1.3v1.3h-1.3zM384.1 57.0h1.3v1.3h-1.3zM382.3 54.2h1.3v1.3h-1.3zM383.4 51.2h1.3v1.3h-1.3zM385.5 59.1h1.3v1.3h-1.3zM382.6 55.6h1.3v1.3h-1.3zM381.3 66.0h1.3v1.3h-1.3zM383.3 59.6h1.3v1.3h-1.3zM382.9 61.0h1.3v1.3h-1.3zM384.1 61.3h1.3v1.3h-1.3zM382.0 62.5h1.3v1.3h-1.3zM383.5 64.6h1.3v1.3h-1.3zM383.3 66.0h1.3v1.3h-1.3zM385.0 68.1h1.3v1.3h-1.3zM385.5 57.0h1.3v1.3h-1.3zM385.5 64.3h1.3v1.3h-1.3zM383.0 59.4h1.3v1.3h-1.3zM382.0 66.4h1.3v1.3h-1.3zM384.3 59.6h1.3v1.3h-1.3zM383.4 55.9h1.3v1.3h-1.3zM384.7 56.3h1.3v1.3h-1.3zM384.9 61.4h1.3v1.3h-1.3zM385.4 60.1h1.3v1.3h-1.3z" fill="#000" fill-opacity="0.55"/>
<path d="M181.2 127.9h1.3v1.3h-1.3zM183.6 114.4h1.3v1.3h-1.3zM177.7 126.8h1.3v1.3h-1.3zM168.2 115.3h1.3v1.3h-1.3zM182.1 124.8h1.3v1.3h-1.3zM194.2 118.0h1.3v1.3h-1.3zM189.8 118.5h1.3v1.3h-1.3zM179.0 123.1h1.3v1.3h-1.3zM173.7 127.9h1.3v1.3h-1.3zM188.4 118.6h1.3v1.3h-1.3zM185.5 126.7h1.3v1.3h-1.3zM193.0 122.5h1.3v1.3h-1.3zM183.1 123.3h1.3v1.3h-1.3zM189.0 121.3h1.3v1.3h-1.3zM173.5 126.0h1.3v1.3h-1.3zM167.4 120.2h1.3v1.3h-1.3zM193.7 127.4h1.3v1.3h-1.3zM189.5 118.7h1.3v1.3h-1.3zM179.3 124.6h1.3v1.3h-1.3zM175.9 125.1h1.3v1.3h-1.3zM193.2 122.7h1.3v1.3h-1.3zM188.3 124.8h1.3v1.3h-1.3zM193.0 111.9h1.3v1.3h-1.3zM171.5 118.4h1.3v1.3h-1.3zM187.2 125.0h1.3v1.3h-1.3zM179.3 124.4h1.3v1.3h-1.3zM173.2 123.9h1.3v1.3h-1.3zM183.8 124.2h1.3v1.3h-1.3zM171.8 120.8h1.3v1.3h-1.3zM177.5 121.4h1.3v1.3h-1.3zM179.2 121.5h1.3v1.3h-1.3zM193.4 124.2h1.3v1.3h-1.3zM177.0 126.8h1.3v1.3h-1.3zM171.7 118.0h1.3v1.3h-1.3zM185.5 118.3h1.3v1.3h-1.3zM182.8 116.3h1.3v1.3h-1.3zM183.9 123.1h1.3v1.3h-1.3zM185.7 119.9h1.3v1.3h-1.3zM183.1 123.4h1.3v1.3h-1.3zM183.1 119.3h1.3v1.3h-1.3zM184.3 128.0h1.3v1.3h-1.3zM191.4 129.6h1.3v1.3h-1.3zM181.4 123.4h1.3v1.3h-1.3zM178.6 117.4h1.3v1.3h-1.3zM179.8 119.4h1.3v1.3h-1.3zM181.8 120.7h1.3v1.3h-1.3zM185.3 118.9h1.3v1.3h-1.3zM176.0 124.7h1.3v1.3h-1.3zM193.1 119.3h1.3v1.3h-1.3zM169.8 122.3h1.3v1.3h-1.3zM174.3 123.5h1.3v1.3h-1.3zM182.8 124.8h1.3v1.3h-1.3zM191.4 120.2h1.3v1.3h-1.3zM184.4 119.6h1.3v1.3h-1.3zM190.4 114.4h1.3v1.3h-1.3zM184.1 122.6h1.3v1.3h-1.3zM183.9 121.8h1.3v1.3h-1.3zM178.8 116.9h1.3v1.3h-1.3zM183.8 118.7h1.3v1.3h-1.3zM188.7 124.0h1.3v1.3h-1.3zM179.5 129.2h1.3v1.3h-1.3zM183.0 122.0h1.3v1.3h-1.3zM184.7 118.5h1.3v1.3h-1.3zM179.0 121.4h1.3v1.3h-1.3zM172.5 119.5h1.3v1.3h-1.3zM184.6 120.4h1.3v1.3h-1.3zM173.1 126.7h1.3v1.3h-1.3zM178.1 121.5h1.3v1.3h-1.3zM190.1 122.6h1.3v1.3h-1.3zM176.7 127.5h1.3v1.3h-1.3zM190.2 120.0h1.3v1.3h-1.3zM191.0 118.4h1.3v1.3h-1.3zM181.7 123.9h1.3v1.3h-1.3zM179.7 119.7h1.3v1.3h-1.3zM179.0 124.6h1.3v1.3h-1.3zM193.6 118.5h1.3v1.3h-1.3zM186.9 119.9h1.3v1.3h-1.3zM196.8 119.6h1.3v1.3h-1.3zM175.9 127.4h1.3v1.3h-1.3zM186.1 122.7h1.3v1.3h-1.3zM189.4 118.4h1.3v1.3h-1.3zM172.1 115.7h1.3v1.3h-1.3zM186.6 127.9h1.3v1.3h-1.3zM179.7 121.4h1.3v1.3h-1.3zM180.8 116.9h1.3v1.3h-1.3zM176.6 122.8h1.3v1.3h-1.3zM175.0 118.2h1.3v1.3h-1.3zM170.0 114.4h1.3v1.3h-1.3zM169.4 122.1h1.3v1.3h-1.3zM190.0 133.3h1.3v1.3h-1.3zM187.0 117.6h1.3v1.3h-1.3zM170.8 121.5h1.3v1.3h-1.3zM196.4 119.0h1.3v1.3h-1.3zM188.3 127.4h1.3v1.3h-1.3zM197.8 117.4h1.3v1.3h-1.3zM172.3 117.9h1.3v1.3h-1.3zM188.3 121.3h1.3v1.3h-1.3zM185.7 117.3h1.3v1.3h-1.3zM185.8 117.5h1.3v1.3h-1.3zM195.9 121.3h1.3v1.3h-1.3zM186.7 129.0h1.3v1.3h-1.3zM184.3 123.9h1.3v1.3h-1.3zM184.5 119.9h1.3v1.3h-1.3zM181.1 118.3h1.3v1.3h-1.3zM189.2 115.9h1.3v1.3h-1.3zM186.9 130.7h1.3v1.3h-1.3zM175.3 143.4h1.3v1.3h-1.3zM184.0 139.9h1.3v1.3h-1.3zM171.0 151.6h1.3v1.3h-1.3zM169.6 130.4h1.3v1.3h-1.3zM181.2 133.7h1.3v1.3h-1.3zM179.6 128.5h1.3v1.3h-1.3zM184.1 151.8h1.3v1.3h-1.3zM162.6 128.1h1.3v1.3h-1.3zM171.3 141.1h1.3v1.3h-1.3zM171.7 148.8h1.3v1.3h-1.3zM183.5 131.2h1.3v1.3h-1.3zM188.6 141.5h1.3v1.3h-1.3zM187.0 128.8h1.3v1.3h-1.3zM172.7 132.7h1.3v1.3h-1.3zM182.9 130.7h1.3v1.3h-1.3zM168.0 146.0h1.3v1.3h-1.3zM176.2 136.9h1.3v1.3h-1.3zM170.5 132.7h1.3v1.3h-1.3zM171.0 129.7h1.3v1.3h-1.3zM188.1 130.9h1.3v1.3h-1.3zM167.0 130.4h1.3v1.3h-1.3zM171.6 140.2h1.3v1.3h-1.3zM182.9 133.6h1.3v1.3h-1.3zM175.5 131.1h1.3v1.3h-1.3zM189.8 138.6h1.3v1.3h-1.3zM174.2 131.0h1.3v1.3h-1.3zM170.5 151.4h1.3v1.3h-1.3zM188.1 145.6h1.3v1.3h-1.3zM172.8 128.2h1.3v1.3h-1.3zM174.2 144.8h1.3v1.3h-1.3zM185.0 147.1h1.3v1.3h-1.3zM176.4 137.4h1.3v1.3h-1.3zM163.9 144.5h1.3v1.3h-1.3zM179.3 134.9h1.3v1.3h-1.3zM188.9 138.9h1.3v1.3h-1.3zM184.7 146.0h1.3v1.3h-1.3zM178.7 148.7h1.3v1.3h-1.3zM189.4 133.0h1.3v1.3h-1.3zM186.3 146.4h1.3v1.3h-1.3zM165.8 130.4h1.3v1.3h-1.3zM178.0 134.3h1.3v1.3h-1.3zM182.6 135.6h1.3v1.3h-1.3zM182.1 145.2h1.3v1.3h-1.3zM187.0 134.8h1.3v1.3h-1.3zM177.7 141.4h1.3v1.3h-1.3zM182.5 138.1h1.3v1.3h-1.3zM179.8 133.8h1.3v1.3h-1.3zM181.9 137.7h1.3v1.3h-1.3zM177.3 144.6h1.3v1.3h-1.3zM182.2 131.5h1.3v1.3h-1.3zM182.6 132.3h1.3v1.3h-1.3zM192.2 136.8h1.3v1.3h-1.3zM189.7 134.4h1.3v1.3h-1.3zM184.6 132.5h1.3v1.3h-1.3zM185.6 130.9h1.3v1.3h-1.3zM170.7 151.9h1.3v1.3h-1.3zM168.1 131.5h1.3v1.3h-1.3zM179.5 145.0h1.3v1.3h-1.3zM167.2 129.2h1.3v1.3h-1.3zM176.5 130.6h1.3v1.3h-1.3zM179.3 150.7h1.3v1.3h-1.3zM175.9 128.9h1.3v1.3h-1.3zM184.7 148.8h1.3v1.3h-1.3zM170.4 145.4h1.3v1.3h-1.3zM180.5 141.1h1.3v1.3h-1.3zM197.2 141.3h1.3v1.3h-1.3zM169.8 134.7h1.3v1.3h-1.3zM185.3 135.2h1.3v1.3h-1.3zM186.5 132.6h1.3v1.3h-1.3zM165.3 133.3h1.3v1.3h-1.3zM168.9 143.2h1.3v1.3h-1.3zM183.7 131.7h1.3v1.3h-1.3zM184.6 144.1h1.3v1.3h-1.3zM189.2 140.5h1.3v1.3h-1.3zM176.7 143.4h1.3v1.3h-1.3zM171.7 150.1h1.3v1.3h-1.3zM169.0 148.6h1.3v1.3h-1.3zM192.4 143.3h1.3v1.3h-1.3zM172.4 138.1h1.3v1.3h-1.3zM193.7 145.9h1.3v1.3h-1.3zM184.9 134.9h1.3v1.3h-1.3zM175.9 147.4h1.3v1.3h-1.3zM173.5 150.7h1.3v1.3h-1.3zM178.6 132.7h1.3v1.3h-1.3zM197.2 123.2h1.3v1.3h-1.3zM204.5 117.3h1.3v1.3h-1.3zM198.4 113.5h1.3v1.3h-1.3zM203.8 112.7h1.3v1.3h-1.3zM212.2 106.1h1.3v1.3h-1.3z" fill="#000" fill-opacity="0.55"/>
<path d="M192.9 121.8h1.3v1.3h-1.3zM189.6 125.6h1.3v1.3h-1.3zM185.8 119.5h1.3v1.3h-1.3zM186.8 128.1h1.3v1.3h-1.3zM189.3 129.1h1.3v1.3h-1.3zM182.2 123.7h1.3v1.3h-1.3zM167.9 123.5h1.3v1.3h-1.3zM180.8 117.0h1.3v1.3h-1.3zM188.3 116.0h1.3v1.3h-1.3zM179.0 119.6h1.3v1.3h-1.3zM186.8 118.9h1.3v1.3h-1.3zM190.2 118.3h1.3v1.3h-1.3zM183.3 120.9h1.3v1.3h-1.3zM181.9 115.6h1.3v1.3h-1.3zM199.2 122.9h1.3v1.3h-1.3zM179.7 126.0h1.3v1.3h-1.3zM191.9 119.8h1.3v1.3h-1.3zM186.7 123.8h1.3v1.3h-1.3zM186.0 127.4h1.3v1.3h-1.3zM175.4 128.8h1.3v1.3h-1.3zM176.6 120.6h1.3v1.3h-1.3zM170.3 120.4h1.3v1.3h-1.3zM175.4 123.5h1.3v1.3h-1.3zM179.0 122.9h1.3v1.3h-1.3zM174.0 125.6h1.3v1.3h-1.3zM181.6 122.6h1.3v1.3h-1.3zM178.3 124.8h1.3v1.3h-1.3zM182.8 127.2h1.3v1.3h-1.3zM192.2 124.5h1.3v1.3h-1.3zM182.2 114.5h1.3v1.3h-1.3zM188.7 125.5h1.3v1.3h-1.3zM177.3 116.7h1.3v1.3h-1.3zM182.0 114.8h1.3v1.3h-1.3zM175.3 118.8h1.3v1.3h-1.3zM170.2 124.0h1.3v1.3h-1.3zM173.3 114.9h1.3v1.3h-1.3zM187.6 121.9h1.3v1.3h-1.3zM192.5 125.0h1.3v1.3h-1.3zM190.5 124.1h1.3v1.3h-1.3zM170.6 121.6h1.3v1.3h-1.3zM180.4 128.4h1.3v1.3h-1.3zM173.7 128.2h1.3v1.3h-1.3zM172.2 123.4h1.3v1.3h-1.3zM189.3 124.0h1.3v1.3h-1.3zM184.2 122.6h1.3v1.3h-1.3zM186.4 117.5h1.3v1.3h-1.3zM187.6 130.4h1.3v1.3h-1.3zM188.6 121.2h1.3v1.3h-1.3zM188.0 126.0h1.3v1.3h-1.3zM181.4 126.0h1.3v1.3h-1.3zM176.7 126.0h1.3v1.3h-1.3zM184.3 118.2h1.3v1.3h-1.3zM179.9 123.6h1.3v1.3h-1.3zM179.5 120.3h1.3v1.3h-1.3zM176.9 124.1h1.3v1.3h-1.3zM170.7 121.7h1.3v1.3h-1.3zM184.3 124.8h1.3v1.3h-1.3zM181.1 131.8h1.3v1.3h-1.3zM180.3 125.5h1.3v1.3h-1.3zM189.3 111.0h1.3v1.3h-1.3zM189.9 125.2h1.3v1.3h-1.3zM168.9 127.4h1.3v1.3h-1.3zM184.5 121.3h1.3v1.3h-1.3zM199.7 118.4h1.3v1.3h-1.3zM175.1 123.6h1.3v1.3h-1.3zM188.4 125.2h1.3v1.3h-1.3zM190.2 123.1h1.3v1.3h-1.3zM181.8 132.8h1.3v1.3h-1.3zM181.2 123.9h1.3v1.3h-1.3zM174.9 124.3h1.3v1.3h-1.3zM173.2 123.1h1.3v1.3h-1.3zM172.1 123.1h1.3v1.3h-1.3zM193.3 126.2h1.3v1.3h-1.3zM181.9 120.2h1.3v1.3h-1.3zM174.3 120.0h1.3v1.3h-1.3zM188.8 115.8h1.3v1.3h-1.3zM176.7 116.3h1.3v1.3h-1.3zM179.0 125.1h1.3v1.3h-1.3zM184.9 131.4h1.3v1.3h-1.3zM174.1 125.6h1.3v1.3h-1.3zM167.1 124.7h1.3v1.3h-1.3zM190.7 125.7h1.3v1.3h-1.3zM191.9 118.6h1.3v1.3h-1.3zM187.7 120.3h1.3v1.3h-1.3zM190.9 121.3h1.3v1.3h-1.3zM180.3 124.7h1.3v1.3h-1.3zM196.9 120.8h1.3v1.3h-1.3zM187.0 115.3h1.3v1.3h-1.3zM174.8 123.6h1.3v1.3h-1.3zM174.4 125.8h1.3v1.3h-1.3zM186.2 119.2h1.3v1.3h-1.3zM187.2 125.8h1.3v1.3h-1.3zM180.5 125.2h1.3v1.3h-1.3zM190.0 125.3h1.3v1.3h-1.3zM172.3 123.2h1.3v1.3h-1.3zM174.6 125.9h1.3v1.3h-1.3zM180.0 118.0h1.3v1.3h-1.3zM181.8 119.7h1.3v1.3h-1.3zM191.7 120.8h1.3v1.3h-1.3zM187.8 122.8h1.3v1.3h-1.3zM176.6 127.4h1.3v1.3h-1.3zM174.6 120.3h1.3v1.3h-1.3zM185.3 122.4h1.3v1.3h-1.3zM177.5 122.8h1.3v1.3h-1.3zM186.8 129.1h1.3v1.3h-1.3zM172.9 122.0h1.3v1.3h-1.3zM168.6 125.2h1.3v1.3h-1.3zM184.2 131.1h1.3v1.3h-1.3zM188.2 114.9h1.3v1.3h-1.3zM184.5 128.1h1.3v1.3h-1.3zM190.1 119.1h1.3v1.3h-1.3zM188.8 124.1h1.3v1.3h-1.3zM183.7 125.6h1.3v1.3h-1.3zM169.9 129.8h1.3v1.3h-1.3zM177.5 134.2h1.3v1.3h-1.3zM195.1 129.0h1.3v1.3h-1.3zM170.8 144.6h1.3v1.3h-1.3zM193.9 132.9h1.3v1.3h-1.3zM172.4 130.4h1.3v1.3h-1.3zM177.7 147.0h1.3v1.3h-1.3zM189.7 130.6h1.3v1.3h-1.3zM166.6 137.6h1.3v1.3h-1.3zM189.9 143.6h1.3v1.3h-1.3zM176.8 134.6h1.3v1.3h-1.3zM186.1 151.0h1.3v1.3h-1.3zM178.9 144.9h1.3v1.3h-1.3zM173.3 130.3h1.3v1.3h-1.3zM194.4 130.6h1.3v1.3h-1.3zM196.6 131.4h1.3v1.3h-1.3zM173.9 144.7h1.3v1.3h-1.3zM183.3 131.1h1.3v1.3h-1.3zM190.0 129.9h1.3v1.3h-1.3zM176.8 141.6h1.3v1.3h-1.3zM192.0 131.1h1.3v1.3h-1.3zM179.4 134.1h1.3v1.3h-1.3zM169.5 141.0h1.3v1.3h-1.3zM184.4 133.9h1.3v1.3h-1.3zM178.0 128.9h1.3v1.3h-1.3zM175.7 133.0h1.3v1.3h-1.3zM181.7 147.5h1.3v1.3h-1.3zM169.9 145.7h1.3v1.3h-1.3zM181.5 140.8h1.3v1.3h-1.3zM190.0 139.9h1.3v1.3h-1.3zM184.3 128.6h1.3v1.3h-1.3zM170.9 150.1h1.3v1.3h-1.3zM171.6 134.3h1.3v1.3h-1.3zM175.1 146.0h1.3v1.3h-1.3zM180.7 141.6h1.3v1.3h-1.3zM166.5 140.4h1.3v1.3h-1.3zM182.0 128.5h1.3v1.3h-1.3zM166.7 150.8h1.3v1.3h-1.3zM183.2 132.5h1.3v1.3h-1.3zM180.9 130.2h1.3v1.3h-1.3zM195.0 136.9h1.3v1.3h-1.3zM174.3 131.6h1.3v1.3h-1.3zM193.4 133.7h1.3v1.3h-1.3zM185.1 149.5h1.3v1.3h-1.3zM175.5 148.7h1.3v1.3h-1.3zM177.3 146.8h1.3v1.3h-1.3zM182.0 140.6h1.3v1.3h-1.3zM175.5 147.9h1.3v1.3h-1.3zM194.3 140.3h1.3v1.3h-1.3zM174.4 140.1h1.3v1.3h-1.3zM189.6 131.9h1.3v1.3h-1.3zM193.5 149.9h1.3v1.3h-1.3zM183.0 150.6h1.3v1.3h-1.3zM185.8 140.0h1.3v1.3h-1.3zM166.7 151.4h1.3v1.3h-1.3zM174.8 142.3h1.3v1.3h-1.3zM175.6 144.4h1.3v1.3h-1.3zM178.3 148.9h1.3v1.3h-1.3zM180.3 147.5h1.3v1.3h-1.3zM172.5 134.4h1.3v1.3h-1.3zM184.1 146.2h1.3v1.3h-1.3zM187.3 128.2h1.3v1.3h-1.3zM178.9 144.4h1.3v1.3h-1.3zM185.2 142.4h1.3v1.3h-1.3zM173.6 138.1h1.3v1.3h-1.3zM172.2 132.2h1.3v1.3h-1.3zM180.8 148.9h1.3v1.3h-1.3zM181.5 146.4h1.3v1.3h-1.3zM189.0 138.2h1.3v1.3h-1.3zM200.7 110.0h1.3v1.3h-1.3zM196.8 121.6h1.3v1.3h-1.3zM196.3 112.9h1.3v1.3h-1.3zM205.5 113.2h1.3v1.3h-1.3zM198.2 126.2h1.3v1.3h-1.3zM195.1 111.2h1.3v1.3h-1.3zM197.7 113.7h1.3v1.3h-1.3zM203.7 108.3h1.3v1.3h-1.3zM201.1 113.3h1.3v1.3h-1.3zM199.2 113.2h1.3v1.3h-1.3zM167.7 139.8h1.3v1.3h-1.3z" fill="#000" fill-opacity="0.55"/>
<path d="M177.5 115.1h1.3v1.3h-1.3zM177.2 124.0h1.3v1.3h-1.3zM178.6 116.3h1.3v1.3h-1.3zM188.4 123.8h1.3v1.3h-1.3zM186.3 128.8h1.3v1.3h-1.3zM183.1 122.8h1.3v1.3h-1.3zM179.5 124.9h1.3v1.3h-1.3zM185.4 119.1h1.3v1.3h-1.3zM171.1 120.0h1.3v1.3h-1.3zM179.0 121.6h1.3v1.3h-1.3zM173.3 121.2h1.3v1.3h-1.3zM168.3 124.6h1.3v1.3h-1.3zM185.4 120.4h1.3v1.3h-1.3zM190.1 117.9h1.3v1.3h-1.3zM187.2 118.5h1.3v1.3h-1.3zM185.3 127.9h1.3v1.3h-1.3zM190.2 128.2h1.3v1.3h-1.3zM174.1 130.1h1.3v1.3h-1.3zM187.9 117.7h1.3v1.3h-1.3zM176.3 115.2h1.3v1.3h-1.3zM182.7 121.4h1.3v1.3h-1.3zM188.5 129.7h1.3v1.3h-1.3zM188.7 124.3h1.3v1.3h-1.3zM173.0 120.2h1.3v1.3h-1.3zM182.3 125.6h1.3v1.3h-1.3zM178.0 122.5h1.3v1.3h-1.3zM176.3 120.2h1.3v1.3h-1.3zM187.2 121.1h1.3v1.3h-1.3zM190.2 124.1h1.3v1.3h-1.3zM191.8 120.0h1.3v1.3h-1.3zM171.0 121.1h1.3v1.3h-1.3zM185.3 110.8h1.3v1.3h-1.3zM191.9 121.9h1.3v1.3h-1.3zM173.8 130.8h1.3v1.3h-1.3zM192.8 126.9h1.3v1.3h-1.3zM165.9 127.7h1.3v1.3h-1.3zM193.2 120.5h1.3v1.3h-1.3zM164.2 123.3h1.3v1.3h-1.3zM174.4 119.8h1.3v1.3h-1.3zM185.5 120.4h1.3v1.3h-1.3zM199.6 130.0h1.3v1.3h-1.3zM183.7 135.6h1.3v1.3h-1.3zM178.1 124.9h1.3v1.3h-1.3zM192.2 117.8h1.3v1.3h-1.3zM181.7 124.1h1.3v1.3h-1.3zM172.9 125.5h1.3v1.3h-1.3zM173.1 111.1h1.3v1.3h-1.3zM187.5 120.5h1.3v1.3h-1.3zM184.5 122.9h1.3v1.3h-1.3zM173.5 117.9h1.3v1.3h-1.3zM193.5 121.6h1.3v1.3h-1.3zM171.7 121.7h1.3v1.3h-1.3zM170.2 128.0h1.3v1.3h-1.3zM184.9 121.7h1.3v1.3h-1.3zM191.0 121.7h1.3v1.3h-1.3zM169.8 121.5h1.3v1.3h-1.3zM190.9 135.4h1.3v1.3h-1.3zM177.9 123.4h1.3v1.3h-1.3zM176.6 127.3h1.3v1.3h-1.3zM187.6 114.2h1.3v1.3h-1.3zM187.9 126.8h1.3v1.3h-1.3zM185.2 121.6h1.3v1.3h-1.3zM194.3 124.8h1.3v1.3h-1.3zM197.6 124.6h1.3v1.3h-1.3zM177.4 121.6h1.3v1.3h-1.3zM180.2 120.6h1.3v1.3h-1.3zM180.4 114.0h1.3v1.3h-1.3zM177.0 123.5h1.3v1.3h-1.3zM196.0 125.8h1.3v1.3h-1.3zM185.1 120.7h1.3v1.3h-1.3zM183.1 116.6h1.3v1.3h-1.3zM179.0 122.7h1.3v1.3h-1.3zM173.2 124.1h1.3v1.3h-1.3zM178.8 121.0h1.3v1.3h-1.3zM185.9 123.5h1.3v1.3h-1.3zM190.5 116.3h1.3v1.3h-1.3zM194.4 121.1h1.3v1.3h-1.3zM189.6 115.8h1.3v1.3h-1.3zM192.2 121.2h1.3v1.3h-1.3zM182.6 125.3h1.3v1.3h-1.3zM163.4 122.9h1.3v1.3h-1.3zM170.4 127.2h1.3v1.3h-1.3zM172.7 115.8h1.3v1.3h-1.3zM174.6 119.6h1.3v1.3h-1.3zM179.2 118.1h1.3v1.3h-1.3zM173.8 115.9h1.3v1.3h-1.3zM197.3 124.6h1.3v1.3h-1.3zM191.7 121.1h1.3v1.3h-1.3zM191.3 131.7h1.3v1.3h-1.3zM188.6 118.6h1.3v1.3h-1.3zM192.6 125.3h1.3v1.3h-1.3zM176.8 126.0h1.3v1.3h-1.3zM178.5 122.3h1.3v1.3h-1.3zM176.8 122.0h1.3v1.3h-1.3zM190.2 125.1h1.3v1.3h-1.3zM186.5 122.7h1.3v1.3h-1.3zM172.4 116.5h1.3v1.3h-1.3zM172.3 116.3h1.3v1.3h-1.3zM198.0 122.2h1.3v1.3h-1.3zM176.9 120.2h1.3v1.3h-1.3zM187.8 126.6h1.3v1.3h-1.3zM198.2 124.5h1.3v1.3h-1.3zM192.3 122.6h1.3v1.3h-1.3zM170.8 122.2h1.3v1.3h-1.3zM185.1 116.1h1.3v1.3h-1.3zM172.4 122.1h1.3v1.3h-1.3zM184.6 118.7h1.3v1.3h-1.3zM190.6 124.2h1.3v1.3h-1.3zM196.5 123.9h1.3v1.3h-1.3zM170.7 122.1h1.3v1.3h-1.3zM176.3 124.5h1.3v1.3h-1.3zM192.3 126.2h1.3v1.3h-1.3zM173.2 124.1h1.3v1.3h-1.3zM194.1 109.6h1.3v1.3h-1.3zM178.1 123.3h1.3v1.3h-1.3zM191.0 121.9h1.3v1.3h-1.3zM177.2 138.4h1.3v1.3h-1.3zM173.7 134.2h1.3v1.3h-1.3zM188.4 149.4h1.3v1.3h-1.3zM170.7 129.0h1.3v1.3h-1.3zM190.1 135.6h1.3v1.3h-1.3zM182.4 144.9h1.3v1.3h-1.3zM185.3 150.8h1.3v1.3h-1.3zM173.1 148.1h1.3v1.3h-1.3zM192.8 151.1h1.3v1.3h-1.3zM169.9 149.5h1.3v1.3h-1.3zM177.9 134.7h1.3v1.3h-1.3zM177.5 129.7h1.3v1.3h-1.3zM173.2 129.7h1.3v1.3h-1.3zM180.9 145.9h1.3v1.3h-1.3zM177.1 145.9h1.3v1.3h-1.3zM178.2 133.9h1.3v1.3h-1.3zM189.4 145.4h1.3v1.3h-1.3zM180.3 132.1h1.3v1.3h-1.3zM183.0 138.0h1.3v1.3h-1.3zM173.6 133.8h1.3v1.3h-1.3zM179.9 141.6h1.3v1.3h-1.3zM185.4 140.3h1.3v1.3h-1.3zM180.2 139.4h1.3v1.3h-1.3zM185.2 133.5h1.3v1.3h-1.3zM189.7 132.7h1.3v1.3h-1.3zM170.2 131.8h1.3v1.3h-1.3zM172.4 148.9h1.3v1.3h-1.3zM175.9 142.6h1.3v1.3h-1.3zM164.5 129.5h1.3v1.3h-1.3zM189.6 150.4h1.3v1.3h-1.3zM185.0 149.0h1.3v1.3h-1.3zM185.4 130.0h1.3v1.3h-1.3zM185.6 138.6h1.3v1.3h-1.3zM170.2 143.3h1.3v1.3h-1.3zM179.5 128.1h1.3v1.3h-1.3zM174.7 136.3h1.3v1.3h-1.3zM173.5 129.4h1.3v1.3h-1.3zM188.9 146.8h1.3v1.3h-1.3zM186.9 129.4h1.3v1.3h-1.3zM171.2 141.8h1.3v1.3h-1.3zM177.1 139.8h1.3v1.3h-1.3zM186.6 144.1h1.3v1.3h-1.3zM186.9 135.8h1.3v1.3h-1.3zM182.6 132.5h1.3v1.3h-1.3zM179.6 133.0h1.3v1.3h-1.3zM164.4 145.1h1.3v1.3h-1.3zM190.1 131.6h1.3v1.3h-1.3zM172.2 136.8h1.3v1.3h-1.3zM185.4 136.5h1.3v1.3h-1.3zM182.5 129.8h1.3v1.3h-1.3zM176.3 147.4h1.3v1.3h-1.3zM197.3 139.3h1.3v1.3h-1.3zM169.7 142.6h1.3v1.3h-1.3zM184.9 130.4h1.3v1.3h-1.3zM177.4 146.5h1.3v1.3h-1.3zM185.1 133.0h1.3v1.3h-1.3zM172.2 138.2h1.3v1.3h-1.3zM172.1 151.9h1.3v1.3h-1.3zM172.6 135.8h1.3v1.3h-1.3zM178.1 140.5h1.3v1.3h-1.3zM174.0 130.3h1.3v1.3h-1.3zM188.1 133.0h1.3v1.3h-1.3zM177.2 132.2h1.3v1.3h-1.3zM174.9 132.0h1.3v1.3h-1.3zM171.8 129.5h1.3v1.3h-1.3zM171.7 150.9h1.3v1.3h-1.3zM204.6 112.9h1.3v1.3h-1.3zM198.6 120.3h1.3v1.3h-1.3zM201.1 106.2h1.3v1.3h-1.3zM202.5 125.2h1.3v1.3h-1.3zM201.0 116.0h1.3v1.3h-1.3zM199.8 119.9h1.3v1.3h-1.3zM201.9 112.3h1.3v1.3h-1.3zM199.7 112.4h1.3v1.3h-1.3zM199.6 108.4h1.3v1.3h-1.3zM192.1 115.7h1.3v1.3h-1.3z" fill="#000" fill-opacity="0.55"/>
<path d="M189.4 124.0h1.3v1.3h-1.3zM180.3 124.7h1.3v1.3h-1.3zM182.5 125.7h1.3v1.3h-1.3zM174.2 129.3h1.3v1.3h-1.3zM168.3 120.3h1.3v1.3h-1.3zM188.1 128.1h1.3v1.3h-1.3zM193.7 125.9h1.3v1.3h-1.3zM176.9 123.6h1.3v1.3h-1.3zM171.1 128.4h1.3v1.3h-1.3zM172.0 122.7h1.3v1.3h-1.3zM179.1 121.2h1.3v1.3h-1.3zM196.7 125.2h1.3v1.3h-1.3zM182.7 123.3h1.3v1.3h-1.3zM180.2 121.1h1.3v1.3h-1.3zM194.2 118.5h1.3v1.3h-1.3zM194.1 119.1h1.3v1.3h-1.3zM167.6 125.5h1.3v1.3h-1.3zM187.7 121.7h1.3v1.3h-1.3zM181.6 121.2h1.3v1.3h-1.3zM183.3 122.3h1.3v1.3h-1.3zM185.8 131.4h1.3v1.3h-1.3zM185.9 126.1h1.3v1.3h-1.3zM171.1 123.6h1.3v1.3h-1.3zM191.9 122.1h1.3v1.3h-1.3zM178.2 123.6h1.3v1.3h-1.3zM165.4 128.5h1.3v1.3h-1.3zM171.9 119.9h1.3v1.3h-1.3zM184.9 116.8h1.3v1.3h-1.3zM175.4 121.0h1.3v1.3h-1.3zM186.0 125.3h1.3v1.3h-1.3zM185.4 115.6h1.3v1.3h-1.3zM190.6 118.2h1.3v1.3h-1.3zM176.9 119.0h1.3v1.3h-1.3zM180.6 122.7h1.3v1.3h-1.3zM182.4 120.6h1.3v1.3h-1.3zM175.9 120.2h1.3v1.3h-1.3zM178.5 115.4h1.3v1.3h-1.3zM181.3 127.1h1.3v1.3h-1.3zM182.7 116.3h1.3v1.3h-1.3zM166.5 118.2h1.3v1.3h-1.3zM186.4 131.1h1.3v1.3h-1.3zM183.1 126.6h1.3v1.3h-1.3zM164.8 123.6h1.3v1.3h-1.3zM191.8 123.9h1.3v1.3h-1.3zM171.7 121.0h1.3v1.3h-1.3zM180.5 121.2h1.3v1.3h-1.3zM196.1 122.5h1.3v1.3h-1.3zM166.9 123.1h1.3v1.3h-1.3zM173.7 121.5h1.3v1.3h-1.3zM173.7 116.7h1.3v1.3h-1.3zM183.7 121.6h1.3v1.3h-1.3zM178.5 123.0h1.3v1.3h-1.3zM199.7 120.9h1.3v1.3h-1.3zM177.2 120.8h1.3v1.3h-1.3zM174.6 119.4h1.3v1.3h-1.3zM174.6 118.3h1.3v1.3h-1.3zM189.4 125.0h1.3v1.3h-1.3zM183.8 117.8h1.3v1.3h-1.3zM184.2 124.9h1.3v1.3h-1.3zM174.6 113.6h1.3v1.3h-1.3zM185.0 117.9h1.3v1.3h-1.3zM167.5 124.7h1.3v1.3h-1.3zM186.1 129.5h1.3v1.3h-1.3zM186.4 121.3h1.3v1.3h-1.3zM172.5 128.7h1.3v1.3h-1.3zM178.6 119.9h1.3v1.3h-1.3zM184.2 119.0h1.3v1.3h-1.3zM197.0 120.8h1.3v1.3h-1.3zM171.2 112.9h1.3v1.3h-1.3zM179.0 127.4h1.3v1.3h-1.3zM180.1 120.2h1.3v1.3h-1.3zM183.6 118.1h1.3v1.3h-1.3zM175.9 124.5h1.3v1.3h-1.3zM199.8 124.2h1.3v1.3h-1.3zM169.1 116.7h1.3v1.3h-1.3zM177.2 118.6h1.3v1.3h-1.3zM184.1 127.6h1.3v1.3h-1.3zM189.0 126.3h1.3v1.3h-1.3zM177.7 127.5h1.3v1.3h-1.3zM196.2 125.9h1.3v1.3h-1.3zM182.3 126.1h1.3v1.3h-1.3zM199.2 113.5h1.3v1.3h-1.3zM183.9 114.9h1.3v1.3h-1.3zM183.6 118.9h1.3v1.3h-1.3zM181.7 117.6h1.3v1.3h-1.3zM184.0 122.7h1.3v1.3h-1.3zM177.6 121.2h1.3v1.3h-1.3zM185.4 113.3h1.3v1.3h-1.3zM182.1 116.4h1.3v1.3h-1.3zM186.0 121.8h1.3v1.3h-1.3zM196.7 121.0h1.3v1.3h-1.3zM189.8 116.0h1.3v1.3h-1.3zM172.1 129.1h1.3v1.3h-1.3zM176.8 120.1h1.3v1.3h-1.3zM191.4 127.0h1.3v1.3h-1.3zM184.7 125.6h1.3v1.3h-1.3zM189.8 121.4h1.3v1.3h-1.3zM168.1 116.7h1.3v1.3h-1.3zM187.5 122.3h1.3v1.3h-1.3zM184.5 120.3h1.3v1.3h-1.3zM181.8 122.5h1.3v1.3h-1.3zM191.5 119.7h1.3v1.3h-1.3zM180.2 126.7h1.3v1.3h-1.3zM199.6 130.1h1.3v1.3h-1.3zM190.8 120.3h1.3v1.3h-1.3zM180.0 120.5h1.3v1.3h-1.3zM199.8 114.7h1.3v1.3h-1.3zM177.2 122.7h1.3v1.3h-1.3zM179.6 125.1h1.3v1.3h-1.3zM169.2 115.8h1.3v1.3h-1.3zM186.7 115.6h1.3v1.3h-1.3zM189.1 123.9h1.3v1.3h-1.3zM166.0 125.1h1.3v1.3h-1.3zM185.5 114.1h1.3v1.3h-1.3zM186.4 125.1h1.3v1.3h-1.3zM167.5 119.9h1.3v1.3h-1.3zM186.7 124.5h1.3v1.3h-1.3zM189.4 121.6h1.3v1.3h-1.3zM179.6 117.9h1.3v1.3h-1.3zM169.7 120.0h1.3v1.3h-1.3zM189.9 125.6h1.3v1.3h-1.3zM183.4 116.8h1.3v1.3h-1.3zM196.4 124.1h1.3v1.3h-1.3zM184.9 117.8h1.3v1.3h-1.3zM169.9 123.1h1.3v1.3h-1.3zM184.0 143.2h1.3v1.3h-1.3zM177.7 129.3h1.3v1.3h-1.3zM175.3 130.8h1.3v1.3h-1.3zM186.4 149.4h1.3v1.3h-1.3zM172.2 130.0h1.3v1.3h-1.3zM194.4 128.2h1.3v1.3h-1.3zM171.6 143.9h1.3v1.3h-1.3zM168.5 145.7h1.3v1.3h-1.3zM188.6 146.4h1.3v1.3h-1.3zM177.5 136.4h1.3v1.3h-1.3zM193.1 149.8h1.3v1.3h-1.3zM173.2 138.7h1.3v1.3h-1.3zM180.8 151.9h1.3v1.3h-1.3zM175.4 137.5h1.3v1.3h-1.3zM191.0 142.0h1.3v1.3h-1.3zM175.2 138.6h1.3v1.3h-1.3zM184.9 147.4h1.3v1.3h-1.3zM171.1 143.5h1.3v1.3h-1.3zM180.7 130.9h1.3v1.3h-1.3zM188.2 139.6h1.3v1.3h-1.3zM167.9 135.2h1.3v1.3h-1.3zM171.1 131.6h1.3v1.3h-1.3zM182.2 140.2h1.3v1.3h-1.3zM175.8 133.8h1.3v1.3h-1.3zM176.7 136.3h1.3v1.3h-1.3zM174.1 128.6h1.3v1.3h-1.3zM181.6 134.1h1.3v1.3h-1.3zM191.8 133.6h1.3v1.3h-1.3zM183.2 136.4h1.3v1.3h-1.3zM173.5 145.4h1.3v1.3h-1.3zM183.6 128.0h1.3v1.3h-1.3zM174.9 139.8h1.3v1.3h-1.3zM178.9 134.3h1.3v1.3h-1.3zM178.8 141.6h1.3v1.3h-1.3zM171.3 134.1h1.3v1.3h-1.3zM186.2 140.3h1.3v1.3h-1.3zM172.5 131.3h1.3v1.3h-1.3zM181.5 128.9h1.3v1.3h-1.3zM173.9 128.5h1.3v1.3h-1.3zM170.6 133.0h1.3v1.3h-1.3zM171.7 144.0h1.3v1.3h-1.3zM196.0 140.0h1.3v1.3h-1.3zM184.1 141.6h1.3v1.3h-1.3zM182.3 151.7h1.3v1.3h-1.3zM173.1 131.2h1.3v1.3h-1.3zM182.7 138.7h1.3v1.3h-1.3zM198.4 144.5h1.3v1.3h-1.3zM188.7 146.9h1.3v1.3h-1.3zM191.1 142.0h1.3v1.3h-1.3zM187.3 139.8h1.3v1.3h-1.3zM165.5 133.6h1.3v1.3h-1.3zM188.9 136.1h1.3v1.3h-1.3zM188.9 149.6h1.3v1.3h-1.3zM172.4 146.7h1.3v1.3h-1.3zM181.0 137.4h1.3v1.3h-1.3zM171.1 140.2h1.3v1.3h-1.3zM180.5 141.4h1.3v1.3h-1.3zM166.1 146.5h1.3v1.3h-1.3zM188.6 130.2h1.3v1.3h-1.3zM189.0 133.1h1.3v1.3h-1.3zM178.2 139.1h1.3v1.3h-1.3zM183.1 151.3h1.3v1.3h-1.3zM194.3 135.2h1.3v1.3h-1.3zM178.8 134.6h1.3v1.3h-1.3zM178.0 148.6h1.3v1.3h-1.3zM175.7 143.6h1.3v1.3h-1.3zM198.7 122.1h1.3v1.3h-1.3zM203.6 111.0h1.3v1.3h-1.3zM202.9 108.3h1.3v1.3h-1.3zM200.1 117.5h1.3v1.3h-1.3zM205.5 104.7h1.3v1.3h-1.3zM181.8 101.5h1.3v1.3h-1.3zM199.2 103.0h1.3v1.3h-1.3z" fill="#000" fill-opacity="0.55"/>
<path d="M175.8 121.6h1.3v1.3h-1.3zM172.8 122.0h1.3v1.3h-1.3zM189.3 120.9h1.3v1.3h-1.3zM188.9 126.8h1.3v1.3h-1.3zM174.3 119.7h1.3v1.3h-1.3zM187.3 124.8h1.3v1.3h-1.3zM180.9 122.4h1.3v1.3h-1.3zM193.0 114.4h1.3v1.3h-1.3zM188.8 116.3h1.3v1.3h-1.3zM198.9 116.7h1.3v1.3h-1.3zM185.9 125.5h1.3v1.3h-1.3zM180.1 120.1h1.3v1.3h-1.3zM181.4 127.1h1.3v1.3h-1.3zM181.2 120.1h1.3v1.3h-1.3zM178.7 130.2h1.3v1.3h-1.3zM164.8 128.3h1.3v1.3h-1.3zM179.2 119.9h1.3v1.3h-1.3zM192.6 127.2h1.3v1.3h-1.3zM176.3 117.5h1.3v1.3h-1.3zM183.0 120.5h1.3v1.3h-1.3zM175.2 129.0h1.3v1.3h-1.3zM183.8 114.5h1.3v1.3h-1.3zM179.3 122.9h1.3v1.3h-1.3zM196.7 128.9h1.3v1.3h-1.3zM186.3 127.5h1.3v1.3h-1.3zM178.5 124.1h1.3v1.3h-1.3zM164.7 122.4h1.3v1.3h-1.3zM177.1 122.9h1.3v1.3h-1.3zM179.8 121.8h1.3v1.3h-1.3zM181.1 123.3h1.3v1.3h-1.3zM195.6 122.2h1.3v1.3h-1.3zM176.1 118.3h1.3v1.3h-1.3zM173.9 123.0h1.3v1.3h-1.3zM183.5 123.9h1.3v1.3h-1.3zM180.4 117.1h1.3v1.3h-1.3zM189.2 121.0h1.3v1.3h-1.3zM193.5 114.7h1.3v1.3h-1.3zM188.3 114.3h1.3v1.3h-1.3zM179.5 124.5h1.3v1.3h-1.3zM178.7 119.0h1.3v1.3h-1.3zM184.9 122.4h1.3v1.3h-1.3zM180.2 124.2h1.3v1.3h-1.3zM183.2 118.9h1.3v1.3h-1.3zM179.0 124.1h1.3v1.3h-1.3zM186.3 121.8h1.3v1.3h-1.3zM176.9 119.5h1.3v1.3h-1.3zM184.9 118.0h1.3v1.3h-1.3zM182.7 125.4h1.3v1.3h-1.3zM173.8 135.7h1.3v1.3h-1.3zM186.6 120.0h1.3v1.3h-1.3zM188.8 128.0h1.3v1.3h-1.3zM172.5 128.3h1.3v1.3h-1.3zM193.3 124.6h1.3v1.3h-1.3zM182.0 119.4h1.3v1.3h-1.3zM189.9 126.0h1.3v1.3h-1.3zM181.2 125.2h1.3v1.3h-1.3zM191.5 117.6h1.3v1.3h-1.3zM193.7 120.2h1.3v1.3h-1.3zM169.6 123.7h1.3v1.3h-1.3zM180.1 120.8h1.3v1.3h-1.3zM168.6 123.6h1.3v1.3h-1.3zM189.4 129.6h1.3v1.3h-1.3zM183.8 120.5h1.3v1.3h-1.3zM185.7 125.2h1.3v1.3h-1.3zM188.4 124.9h1.3v1.3h-1.3zM185.4 117.6h1.3v1.3h-1.3zM181.2 119.8h1.3v1.3h-1.3zM183.1 124.2h1.3v1.3h-1.3zM175.3 121.1h1.3v1.3h-1.3zM187.7 123.4h1.3v1.3h-1.3zM169.3 123.8h1.3v1.3h-1.3zM175.1 117.3h1.3v1.3h-1.3zM184.9 122.7h1.3v1.3h-1.3zM173.7 117.5h1.3v1.3h-1.3zM171.0 128.6h1.3v1.3h-1.3zM181.8 124.2h1.3v1.3h-1.3zM173.6 118.0h1.3v1.3h-1.3zM184.3 127.7h1.3v1.3h-1.3zM170.6 124.6h1.3v1.3h-1.3zM180.2 119.0h1.3v1.3h-1.3zM171.3 125.7h1.3v1.3h-1.3zM188.4 120.5h1.3v1.3h-1.3zM189.6 122.5h1.3v1.3h-1.3zM181.0 113.3h1.3v1.3h-1.3zM199.0 121.7h1.3v1.3h-1.3zM179.7 120.2h1.3v1.3h-1.3zM188.6 121.2h1.3v1.3h-1.3zM179.1 117.2h1.3v1.3h-1.3zM186.2 123.1h1.3v1.3h-1.3zM176.4 123.4h1.3v1.3h-1.3zM173.6 122.1h1.3v1.3h-1.3zM193.5 123.7h1.3v1.3h-1.3zM187.7 116.8h1.3v1.3h-1.3zM197.1 122.4h1.3v1.3h-1.3zM185.7 128.2h1.3v1.3h-1.3zM191.5 113.6h1.3v1.3h-1.3zM176.0 123.3h1.3v1.3h-1.3zM185.5 116.2h1.3v1.3h-1.3zM179.0 123.5h1.3v1.3h-1.3zM191.8 122.6h1.3v1.3h-1.3zM185.4 118.4h1.3v1.3h-1.3zM187.8 124.3h1.3v1.3h-1.3zM189.9 124.3h1.3v1.3h-1.3zM188.8 125.2h1.3v1.3h-1.3zM177.4 122.6h1.3v1.3h-1.3zM180.7 120.2h1.3v1.3h-1.3zM186.6 122.7h1.3v1.3h-1.3zM166.2 126.2h1.3v1.3h-1.3zM172.0 129.9h1.3v1.3h-1.3zM168.0 127.1h1.3v1.3h-1.3zM181.0 120.9h1.3v1.3h-1.3zM186.0 119.3h1.3v1.3h-1.3zM194.0 122.6h1.3v1.3h-1.3zM176.7 119.7h1.3v1.3h-1.3zM185.0 130.0h1.3v1.3h-1.3zM186.1 130.5h1.3v1.3h-1.3zM191.9 123.4h1.3v1.3h-1.3zM179.3 123.2h1.3v1.3h-1.3zM172.7 117.5h1.3v1.3h-1.3zM197.3 122.3h1.3v1.3h-1.3zM169.7 124.4h1.3v1.3h-1.3zM175.9 121.3h1.3v1.3h-1.3zM183.4 121.4h1.3v1.3h-1.3zM170.2 122.2h1.3v1.3h-1.3zM181.6 125.1h1.3v1.3h-1.3zM184.4 126.7h1.3v1.3h-1.3zM174.0 114.6h1.3v1.3h-1.3zM171.3 139.4h1.3v1.3h-1.3zM179.5 140.2h1.3v1.3h-1.3zM184.9 147.7h1.3v1.3h-1.3zM181.8 141.3h1.3v1.3h-1.3zM194.0 128.6h1.3v1.3h-1.3zM180.7 149.6h1.3v1.3h-1.3zM171.3 144.9h1.3v1.3h-1.3zM178.0 129.9h1.3v1.3h-1.3zM191.9 148.7h1.3v1.3h-1.3zM188.4 145.0h1.3v1.3h-1.3zM184.9 141.8h1.3v1.3h-1.3zM181.6 151.6h1.3v1.3h-1.3zM193.5 132.6h1.3v1.3h-1.3zM173.6 128.7h1.3v1.3h-1.3zM172.9 145.1h1.3v1.3h-1.3zM188.0 131.7h1.3v1.3h-1.3zM177.9 132.6h1.3v1.3h-1.3zM185.5 151.5h1.3v1.3h-1.3zM173.9 145.2h1.3v1.3h-1.3zM180.2 135.4h1.3v1.3h-1.3zM180.6 133.0h1.3v1.3h-1.3zM182.1 131.0h1.3v1.3h-1.3zM180.7 139.4h1.3v1.3h-1.3zM179.6 150.6h1.3v1.3h-1.3zM179.6 139.8h1.3v1.3h-1.3zM183.5 137.4h1.3v1.3h-1.3zM175.3 137.6h1.3v1.3h-1.3zM179.4 149.7h1.3v1.3h-1.3zM176.4 149.5h1.3v1.3h-1.3zM186.8 150.6h1.3v1.3h-1.3zM192.5 144.2h1.3v1.3h-1.3zM176.2 139.2h1.3v1.3h-1.3zM177.7 137.6h1.3v1.3h-1.3zM180.7 134.6h1.3v1.3h-1.3zM180.5 141.9h1.3v1.3h-1.3zM183.2 146.1h1.3v1.3h-1.3zM178.8 146.9h1.3v1.3h-1.3zM180.3 142.6h1.3v1.3h-1.3zM174.0 148.9h1.3v1.3h-1.3zM176.5 144.5h1.3v1.3h-1.3zM191.4 150.8h1.3v1.3h-1.3zM190.2 148.2h1.3v1.3h-1.3zM185.9 139.4h1.3v1.3h-1.3zM187.3 130.4h1.3v1.3h-1.3zM186.6 148.0h1.3v1.3h-1.3zM182.0 141.8h1.3v1.3h-1.3zM184.2 134.7h1.3v1.3h-1.3zM174.1 147.4h1.3v1.3h-1.3zM187.3 128.3h1.3v1.3h-1.3zM171.6 147.8h1.3v1.3h-1.3zM168.7 136.5h1.3v1.3h-1.3zM174.4 137.8h1.3v1.3h-1.3zM190.8 134.4h1.3v1.3h-1.3zM171.9 137.0h1.3v1.3h-1.3zM192.7 133.2h1.3v1.3h-1.3zM180.9 145.3h1.3v1.3h-1.3zM182.1 137.4h1.3v1.3h-1.3zM185.7 148.5h1.3v1.3h-1.3zM189.1 133.2h1.3v1.3h-1.3zM177.1 131.7h1.3v1.3h-1.3zM181.8 151.4h1.3v1.3h-1.3zM187.7 146.6h1.3v1.3h-1.3zM192.4 133.2h1.3v1.3h-1.3zM190.4 132.0h1.3v1.3h-1.3zM168.2 131.8h1.3v1.3h-1.3zM180.6 136.4h1.3v1.3h-1.3zM171.9 151.3h1.3v1.3h-1.3zM183.7 129.5h1.3v1.3h-1.3zM168.5 129.0h1.3v1.3h-1.3zM201.0 119.9h1.3v1.3h-1.3zM204.5 117.4h1.3v1.3h-1.3zM203.8 116.5h1.3v1.3h-1.3zM199.7 125.2h1.3v1.3h-1.3zM198.0 117.3h1.3v1.3h-1.3zM200.9 115.8h1.3v1.3h-1.3zM206.4 113.7h1.3v1.3h-1.3zM177.3 147.3h1.3v1.3h-1.3z" fill="#000" fill-opacity="0.55"/>
<path d="M193.9 121.3h1.3v1.3h-1.3zM176.6 131.0h1.3v1.3h-1.3zM178.3 124.7h1.3v1.3h-1.3zM178.1 123.2h1.3v1.3h-1.3zM178.6 124.5h1.3v1.3h-1.3zM196.1 122.1h1.3v1.3h-1.3zM192.7 119.5h1.3v1.3h-1.3zM178.3 119.8h1.3v1.3h-1.3zM196.4 123.8h1.3v1.3h-1.3zM174.7 126.5h1.3v1.3h-1.3zM187.6 116.4h1.3v1.3h-1.3zM189.9 123.5h1.3v1.3h-1.3zM183.3 119.9h1.3v1.3h-1.3zM184.1 122.4h1.3v1.3h-1.3zM190.8 118.8h1.3v1.3h-1.3zM190.4 131.8h1.3v1.3h-1.3zM179.2 123.1h1.3v1.3h-1.3zM171.6 120.9h1.3v1.3h-1.3zM179.2 120.3h1.3v1.3h-1.3zM178.6 124.5h1.3v1.3h-1.3zM185.8 119.3h1.3v1.3h-1.3zM193.0 126.4h1.3v1.3h-1.3zM188.6 121.0h1.3v1.3h-1.3zM177.8 122.6h1.3v1.3h-1.3zM177.8 129.4h1.3v1.3h-1.3zM181.2 129.0h1.3v1.3h-1.3zM191.6 120.4h1.3v1.3h-1.3zM177.4 122.7h1.3v1.3h-1.3zM179.1 122.8h1.3v1.3h-1.3zM173.4 127.1h1.3v1.3h-1.3zM174.4 126.3h1.3v1.3h-1.3zM178.9 121.3h1.3v1.3h-1.3zM185.2 126.9h1.3v1.3h-1.3zM183.3 123.1h1.3v1.3h-1.3zM178.8 128.8h1.3v1.3h-1.3zM178.4 118.6h1.3v1.3h-1.3zM176.0 121.8h1.3v1.3h-1.3zM176.6 127.7h1.3v1.3h-1.3zM177.2 120.1h1.3v1.3h-1.3zM179.3 126.1h1.3v1.3h-1.3zM169.8 117.9h1.3v1.3h-1.3zM189.5 127.0h1.3v1.3h-1.3zM187.8 121.6h1.3v1.3h-1.3zM184.6 124.5h1.3v1.3h-1.3zM181.6 119.2h1.3v1.3h-1.3zM180.2 126.3h1.3v1.3h-1.3zM193.2 125.0h1.3v1.3h-1.3zM168.1 127.5h1.3v1.3h-1.3zM183.0 125.7h1.3v1.3h-1.3zM180.4 126.3h1.3v1.3h-1.3zM185.0 121.7h1.3v1.3h-1.3zM198.1 120.6h1.3v1.3h-1.3zM181.7 123.2h1.3v1.3h-1.3zM197.0 122.1h1.3v1.3h-1.3zM198.0 126.1h1.3v1.3h-1.3zM188.8 125.3h1.3v1.3h-1.3zM193.7 126.7h1.3v1.3h-1.3zM193.2 120.4h1.3v1.3h-1.3zM181.2 123.0h1.3v1.3h-1.3zM186.4 123.2h1.3v1.3h-1.3zM186.0 126.7h1.3v1.3h-1.3zM174.9 119.2h1.3v1.3h-1.3zM188.1 118.4h1.3v1.3h-1.3zM193.9 122.3h1.3v1.3h-1.3zM172.4 121.8h1.3v1.3h-1.3zM179.6 118.1h1.3v1.3h-1.3zM185.6 114.5h1.3v1.3h-1.3zM180.8 119.1h1.3v1.3h-1.3zM183.4 120.2h1.3v1.3h-1.3zM176.9 122.9h1.3v1.3h-1.3zM180.1 117.6h1.3v1.3h-1.3zM194.9 124.4h1.3v1.3h-1.3zM187.6 123.8h1.3v1.3h-1.3zM177.9 125.0h1.3v1.3h-1.3zM179.1 124.1h1.3v1.3h-1.3zM175.5 120.6h1.3v1.3h-1.3zM180.3 123.2h1.3v1.3h-1.3zM183.8 127.8h1.3v1.3h-1.3zM180.8 118.0h1.3v1.3h-1.3zM184.1 120.6h1.3v1.3h-1.3zM172.0 124.2h1.3v1.3h-1.3zM195.5 122.0h1.3v1.3h-1.3zM180.6 115.3h1.3v1.3h-1.3zM185.0 124.1h1.3v1.3h-1.3zM196.0 124.4h1.3v1.3h-1.3zM187.5 126.7h1.3v1.3h-1.3zM179.1 116.3h1.3v1.3h-1.3zM181.4 126.6h1.3v1.3h-1.3zM195.8 121.4h1.3v1.3h-1.3zM181.8 130.7h1.3v1.3h-1.3zM182.0 126.5h1.3v1.3h-1.3zM168.0 129.4h1.3v1.3h-1.3zM175.9 116.1h1.3v1.3h-1.3zM176.5 114.8h1.3v1.3h-1.3zM173.3 122.5h1.3v1.3h-1.3zM186.1 131.2h1.3v1.3h-1.3zM179.6 128.7h1.3v1.3h-1.3zM184.6 121.3h1.3v1.3h-1.3zM177.5 123.9h1.3v1.3h-1.3zM175.2 116.3h1.3v1.3h-1.3zM164.5 118.1h1.3v1.3h-1.3zM173.6 129.1h1.3v1.3h-1.3zM171.2 122.1h1.3v1.3h-1.3zM166.2 117.3h1.3v1.3h-1.3zM197.4 124.5h1.3v1.3h-1.3zM184.5 131.1h1.3v1.3h-1.3zM179.0 124.8h1.3v1.3h-1.3zM186.3 128.8h1.3v1.3h-1.3zM184.2 125.7h1.3v1.3h-1.3zM188.3 131.8h1.3v1.3h-1.3zM182.9 123.0h1.3v1.3h-1.3zM181.2 122.9h1.3v1.3h-1.3zM179.5 122.8h1.3v1.3h-1.3zM169.5 116.2h1.3v1.3h-1.3zM168.1 144.9h1.3v1.3h-1.3zM176.6 131.7h1.3v1.3h-1.3zM181.1 148.5h1.3v1.3h-1.3zM162.7 151.9h1.3v1.3h-1.3zM198.2 146.5h1.3v1.3h-1.3zM183.6 138.3h1.3v1.3h-1.3zM182.4 130.9h1.3v1.3h-1.3zM175.3 131.8h1.3v1.3h-1.3zM193.6 143.8h1.3v1.3h-1.3zM173.1 151.7h1.3v1.3h-1.3zM187.5 130.5h1.3v1.3h-1.3zM180.1 134.5h1.3v1.3h-1.3zM186.8 128.4h1.3v1.3h-1.3zM180.1 134.7h1.3v1.3h-1.3zM181.0 149.5h1.3v1.3h-1.3zM190.3 148.5h1.3v1.3h-1.3zM195.2 137.9h1.3v1.3h-1.3zM174.0 133.7h1.3v1.3h-1.3zM181.9 145.3h1.3v1.3h-1.3zM178.0 149.7h1.3v1.3h-1.3zM174.8 134.0h1.3v1.3h-1.3zM182.3 137.4h1.3v1.3h-1.3zM180.3 150.5h1.3v1.3h-1.3zM183.3 140.0h1.3v1.3h-1.3zM179.0 128.3h1.3v1.3h-1.3zM193.2 150.3h1.3v1.3h-1.3zM176.9 143.5h1.3v1.3h-1.3zM162.6 138.5h1.3v1.3h-1.3zM184.7 131.6h1.3v1.3h-1.3zM185.6 139.8h1.3v1.3h-1.3zM177.6 138.6h1.3v1.3h-1.3zM197.9 130.7h1.3v1.3h-1.3zM186.0 128.5h1.3v1.3h-1.3zM173.8 148.8h1.3v1.3h-1.3zM178.7 151.3h1.3v1.3h-1.3zM177.7 134.6h1.3v1.3h-1.3zM168.0 132.7h1.3v1.3h-1.3zM194.4 134.1h1.3v1.3h-1.3zM167.6 133.8h1.3v1.3h-1.3zM186.5 131.5h1.3v1.3h-1.3zM172.6 130.0h1.3v1.3h-1.3zM184.9 143.1h1.3v1.3h-1.3zM190.4 137.2h1.3v1.3h-1.3zM176.1 146.3h1.3v1.3h-1.3zM175.1 140.5h1.3v1.3h-1.3zM181.7 144.7h1.3v1.3h-1.3zM173.8 133.1h1.3v1.3h-1.3zM172.8 149.4h1.3v1.3h-1.3zM181.4 146.9h1.3v1.3h-1.3zM179.7 134.0h1.3v1.3h-1.3zM193.1 131.9h1.3v1.3h-1.3zM181.9 144.2h1.3v1.3h-1.3zM181.6 138.0h1.3v1.3h-1.3zM185.0 134.0h1.3v1.3h-1.3zM179.5 141.9h1.3v1.3h-1.3zM170.0 151.4h1.3v1.3h-1.3zM183.3 148.1h1.3v1.3h-1.3zM177.2 129.3h1.3v1.3h-1.3zM181.4 141.2h1.3v1.3h-1.3zM192.6 136.3h1.3v1.3h-1.3zM166.7 148.0h1.3v1.3h-1.3zM192.9 148.0h1.3v1.3h-1.3zM183.5 134.3h1.3v1.3h-1.3zM179.3 147.3h1.3v1.3h-1.3zM175.7 146.6h1.3v1.3h-1.3zM177.0 138.9h1.3v1.3h-1.3zM184.6 149.4h1.3v1.3h-1.3zM189.1 134.9h1.3v1.3h-1.3zM167.2 137.5h1.3v1.3h-1.3zM180.5 134.6h1.3v1.3h-1.3zM195.0 133.9h1.3v1.3h-1.3zM167.8 140.2h1.3v1.3h-1.3zM172.7 142.9h1.3v1.3h-1.3zM187.0 141.5h1.3v1.3h-1.3zM171.2 150.9h1.3v1.3h-1.3zM178.5 151.8h1.3v1.3h-1.3zM175.1 139.2h1.3v1.3h-1.3zM188.7 149.3h1.3v1.3h-1.3zM177.6 147.0h1.3v1.3h-1.3zM187.2 132.9h1.3v1.3h-1.3zM181.5 151.7h1.3v1.3h-1.3zM196.1 129.4h1.3v1.3h-1.3zM176.8 129.8h1.3v1.3h-1.3zM167.8 140.0h1.3v1.3h-1.3zM187.4 135.9h1.3v1.3h-1.3zM183.1 130.2h1.3v1.3h-1.3zM176.0 132.8h1.3v1.3h-1.3zM188.4 140.6h1.3v1.3h-1.3zM183.2 129.9h1.3v1.3h-1.3zM188.5 137.2h1.3v1.3h-1.3zM173.0 142.3h1.3v1.3h-1.3zM175.6 131.0h1.3v1.3h-1.3zM180.2 137.1h1.3v1.3h-1.3zM176.1 144.6h1.3v1.3h-1.3zM181.1 143.8h1.3v1.3h-1.3zM181.5 137.6h1.3v1.3h-1.3zM167.8 142.0h1.3v1.3h-1.3zM185.5 129.5h1.3v1.3h-1.3zM178.6 151.7h1.3v1.3h-1.3zM185.3 130.4h1.3v1.3h-1.3zM184.1 128.6h1.3v1.3h-1.3zM177.0 132.7h1.3v1.3h-1.3zM172.0 137.4h1.3v1.3h-1.3zM191.2 141.8h1.3v1.3h-1.3zM179.1 139.4h1.3v1.3h-1.3zM202.8 113.1h1.3v1.3h-1.3zM194.7 125.3h1.3v1.3h-1.3zM202.7 126.9h1.3v1.3h-1.3zM200.2 114.2h1.3v1.3h-1.3zM194.8 97.9h1.3v1.3h-1.3zM214.3 124.8h1.3v1.3h-1.3zM198.6 102.2h1.3v1.3h-1.3z" fill="#000" fill-opacity="0.55"/>
<path d="M264.8 125.6h1.3v1.3h-1.3zM270.7 127.3h1.3v1.3h-1.3zM285.7 122.0h1.3v1.3h-1.3zM266.7 118.1h1.3v1.3h-1.3zM276.9 114.8h1.3v1.3h-1.3zM265.8 121.8h1.3v1.3h-1.3zM261.0 120.3h1.3v1.3h-1.3zM269.2 121.9h1.3v1.3h-1.3zM278.0 124.8h1.3v1.3h-1.3zM277.4 127.7h1.3v1.3h-1.3zM274.0 124.4h1.3v1.3h-1.3zM278.8 115.7h1.3v1.3h-1.3zM266.1 110.4h1.3v1.3h-1.3zM284.3 123.5h1.3v1.3h-1.3zM279.1 135.1h1.3v1.3h-1.3zM283.2 108.0h1.3v1.3h-1.3zM272.9 127.6h1.3v1.3h-1.3zM264.4 120.2h1.3v1.3h-1.3zM275.5 119.7h1.3v1.3h-1.3zM267.3 126.6h1.3v1.3h-1.3zM273.2 127.8h1.3v1.3h-1.3zM268.9 125.7h1.3v1.3h-1.3zM269.1 117.9h1.3v1.3h-1.3zM274.3 130.5h1.3v1.3h-1.3zM274.0 126.6h1.3v1.3h-1.3zM263.8 104.8h1.3v1.3h-1.3zM270.5 119.9h1.3v1.3h-1.3zM269.0 125.6h1.3v1.3h-1.3zM268.1 124.3h1.3v1.3h-1.3zM275.2 119.0h1.3v1.3h-1.3zM264.8 130.6h1.3v1.3h-1.3zM266.7 129.5h1.3v1.3h-1.3zM265.2 123.8h1.3v1.3h-1.3zM274.5 113.9h1.3v1.3h-1.3zM266.6 115.9h1.3v1.3h-1.3zM281.9 122.1h1.3v1.3h-1.3zM265.8 124.5h1.3v1.3h-1.3zM269.2 110.6h1.3v1.3h-1.3zM269.7 138.4h1.3v1.3h-1.3zM264.6 119.6h1.3v1.3h-1.3zM262.4 134.6h1.3v1.3h-1.3zM273.4 132.6h1.3v1.3h-1.3zM271.5 125.3h1.3v1.3h-1.3zM276.9 112.6h1.3v1.3h-1.3zM264.3 123.5h1.3v1.3h-1.3zM265.8 118.5h1.3v1.3h-1.3zM279.8 122.4h1.3v1.3h-1.3zM274.4 135.4h1.3v1.3h-1.3zM270.5 121.2h1.3v1.3h-1.3zM268.9 116.6h1.3v1.3h-1.3zM291.4 117.0h1.3v1.3h-1.3zM272.2 118.9h1.3v1.3h-1.3zM276.4 128.6h1.3v1.3h-1.3zM274.9 117.0h1.3v1.3h-1.3zM270.6 134.5h1.3v1.3h-1.3zM270.4 117.9h1.3v1.3h-1.3zM273.9 128.5h1.3v1.3h-1.3zM264.2 123.5h1.3v1.3h-1.3zM269.8 127.5h1.3v1.3h-1.3zM268.8 118.4h1.3v1.3h-1.3zM259.8 123.5h1.3v1.3h-1.3zM274.6 130.8h1.3v1.3h-1.3zM273.7 125.7h1.3v1.3h-1.3zM267.1 129.4h1.3v1.3h-1.3zM284.5 131.4h1.3v1.3h-1.3zM267.3 124.3h1.3v1.3h-1.3zM271.3 126.7h1.3v1.3h-1.3zM285.3 126.5h1.3v1.3h-1.3zM267.9 127.5h1.3v1.3h-1.3zM261.2 128.3h1.3v1.3h-1.3zM263.5 126.0h1.3v1.3h-1.3zM262.5 133.8h1.3v1.3h-1.3zM271.0 126.9h1.3v1.3h-1.3zM282.1 131.0h1.3v1.3h-1.3zM269.8 127.0h1.3v1.3h-1.3zM276.5 120.9h1.3v1.3h-1.3zM261.2 128.0h1.3v1.3h-1.3zM287.8 118.8h1.3v1.3h-1.3zM269.2 133.8h1.3v1.3h-1.3zM278.9 129.3h1.3v1.3h-1.3zM277.2 126.3h1.3v1.3h-1.3zM276.4 117.9h1.3v1.3h-1.3zM284.6 130.0h1.3v1.3h-1.3zM286.1 130.2h1.3v1.3h-1.3zM261.5 126.4h1.3v1.3h-1.3zM280.0 138.7h1.3v1.3h-1.3zM276.0 119.9h1.3v1.3h-1.3zM279.3 116.0h1.3v1.3h-1.3zM266.3 126.5h1.3v1.3h-1.3zM278.2 122.8h1.3v1.3h-1.3zM280.1 122.8h1.3v1.3h-1.3zM265.1 126.4h1.3v1.3h-1.3zM281.0 129.8h1.3v1.3h-1.3zM260.5 127.9h1.3v1.3h-1.3zM281.5 124.8h1.3v1.3h-1.3zM257.1 132.5h1.3v1.3h-1.3zM273.5 129.5h1.3v1.3h-1.3zM260.4 129.8h1.3v1.3h-1.3zM278.2 116.6h1.3v1.3h-1.3zM271.0 122.4h1.3v1.3h-1.3zM268.4 127.8h1.3v1.3h-1.3zM274.8 123.9h1.3v1.3h-1.3zM268.4 131.7h1.3v1.3h-1.3zM255.4 124.7h1.3v1.3h-1.3zM270.0 115.8h1.3v1.3h-1.3zM274.3 112.9h1.3v1.3h-1.3zM263.5 114.8h1.3v1.3h-1.3zM281.5 111.3h1.3v1.3h-1.3zM267.2 112.4h1.3v1.3h-1.3zM272.9 132.1h1.3v1.3h-1.3zM282.4 129.2h1.3v1.3h-1.3zM272.6 119.5h1.3v1.3h-1.3zM265.7 124.8h1.3v1.3h-1.3zM272.8 127.0h1.3v1.3h-1.3zM260.2 123.9h1.3v1.3h-1.3zM262.4 132.4h1.3v1.3h-1.3zM269.6 119.3h1.3v1.3h-1.3zM280.7 120.7h1.3v1.3h-1.3zM277.4 135.0h1.3v1.3h-1.3zM281.2 127.3h1.3v1.3h-1.3zM265.9 120.5h1.3v1.3h-1.3zM274.5 117.1h1.3v1.3h-1.3zM270.0 120.2h1.3v1.3h-1.3zM268.7 120.3h1.3v1.3h-1.3zM267.9 125.6h1.3v1.3h-1.3zM268.8 118.7h1.3v1.3h-1.3zM274.8 136.4h1.3v1.3h-1.3zM280.3 123.4h1.3v1.3h-1.3zM261.0 120.6h1.3v1.3h-1.3zM270.5 120.1h1.3v1.3h-1.3zM278.7 122.0h1.3v1.3h-1.3zM267.7 122.1h1.3v1.3h-1.3zM287.1 125.8h1.3v1.3h-1.3zM263.7 136.1h1.3v1.3h-1.3zM268.4 123.3h1.3v1.3h-1.3zM276.7 127.3h1.3v1.3h-1.3zM276.9 121.3h1.3v1.3h-1.3zM276.4 123.2h1.3v1.3h-1.3zM262.4 129.8h1.3v1.3h-1.3zM269.6 114.0h1.3v1.3h-1.3zM264.3 129.7h1.3v1.3h-1.3zM277.3 130.0h1.3v1.3h-1.3zM263.8 132.6h1.3v1.3h-1.3zM275.5 147.6h1.3v1.3h-1.3zM264.2 141.9h1.3v1.3h-1.3zM272.5 132.2h1.3v1.3h-1.3zM265.5 143.8h1.3v1.3h-1.3zM283.1 135.0h1.3v1.3h-1.3zM263.1 135.4h1.3v1.3h-1.3zM259.3 138.7h1.3v1.3h-1.3zM285.3 150.4h1.3v1.3h-1.3zM268.2 137.6h1.3v1.3h-1.3zM274.5 132.3h1.3v1.3h-1.3zM264.6 148.4h1.3v1.3h-1.3zM256.9 135.3h1.3v1.3h-1.3zM274.2 133.4h1.3v1.3h-1.3zM264.3 135.5h1.3v1.3h-1.3zM275.3 146.5h1.3v1.3h-1.3zM269.0 133.1h1.3v1.3h-1.3zM276.8 131.5h1.3v1.3h-1.3zM269.5 135.8h1.3v1.3h-1.3zM285.8 133.4h1.3v1.3h-1.3zM272.5 140.9h1.3v1.3h-1.3zM281.0 142.8h1.3v1.3h-1.3zM272.7 136.9h1.3v1.3h-1.3zM270.7 132.6h1.3v1.3h-1.3zM279.7 137.2h1.3v1.3h-1.3zM265.7 141.8h1.3v1.3h-1.3zM275.1 132.5h1.3v1.3h-1.3zM272.4 148.5h1.3v1.3h-1.3zM279.6 132.9h1.3v1.3h-1.3zM256.1 147.7h1.3v1.3h-1.3zM290.5 147.2h1.3v1.3h-1.3zM277.1 134.5h1.3v1.3h-1.3zM274.5 136.5h1.3v1.3h-1.3zM260.6 140.8h1.3v1.3h-1.3zM268.4 150.5h1.3v1.3h-1.3zM284.2 131.8h1.3v1.3h-1.3zM260.1 130.6h1.3v1.3h-1.3zM288.6 150.9h1.3v1.3h-1.3zM279.2 134.9h1.3v1.3h-1.3zM269.2 131.4h1.3v1.3h-1.3zM261.9 129.5h1.3v1.3h-1.3zM280.0 137.1h1.3v1.3h-1.3zM265.7 133.6h1.3v1.3h-1.3zM281.8 145.7h1.3v1.3h-1.3zM279.4 140.8h1.3v1.3h-1.3zM279.7 151.4h1.3v1.3h-1.3zM263.6 135.2h1.3v1.3h-1.3zM263.3 134.1h1.3v1.3h-1.3zM274.9 129.9h1.3v1.3h-1.3zM265.9 137.9h1.3v1.3h-1.3zM265.2 135.6h1.3v1.3h-1.3zM265.6 148.5h1.3v1.3h-1.3zM264.2 140.0h1.3v1.3h-1.3zM290.9 151.6h1.3v1.3h-1.3zM280.5 149.4h1.3v1.3h-1.3zM259.7 132.0h1.3v1.3h-1.3zM273.8 143.5h1.3v1.3h-1.3zM283.5 144.5h1.3v1.3h-1.3zM281.6 135.7h1.3v1.3h-1.3zM272.2 148.8h1.3v1.3h-1.3zM273.1 129.2h1.3v1.3h-1.3zM267.8 129.5h1.3v1.3h-1.3zM277.1 149.9h1.3v1.3h-1.3zM286.2 150.6h1.3v1.3h-1.3zM273.4 151.6h1.3v1.3h-1.3zM259.1 135.5h1.3v1.3h-1.3zM265.2 142.1h1.3v1.3h-1.3zM276.2 137.8h1.3v1.3h-1.3zM280.3 131.2h1.3v1.3h-1.3zM263.6 146.7h1.3v1.3h-1.3zM266.9 142.3h1.3v1.3h-1.3zM270.6 137.0h1.3v1.3h-1.3zM272.6 132.3h1.3v1.3h-1.3zM278.9 138.6h1.3v1.3h-1.3zM268.7 141.2h1.3v1.3h-1.3zM278.9 148.6h1.3v1.3h-1.3zM264.2 140.9h1.3v1.3h-1.3zM271.8 141.4h1.3v1.3h-1.3zM279.0 131.7h1.3v1.3h-1.3zM271.7 140.2h1.3v1.3h-1.3zM271.5 151.6h1.3v1.3h-1.3zM283.9 138.8h1.3v1.3h-1.3zM288.7 124.1h1.3v1.3h-1.3zM290.8 126.6h1.3v1.3h-1.3zM289.6 136.3h1.3v1.3h-1.3zM288.8 122.7h1.3v1.3h-1.3zM290.3 129.1h1.3v1.3h-1.3zM286.1 116.0h1.3v1.3h-1.3zM290.7 136.5h1.3v1.3h-1.3zM287.3 122.8h1.3v1.3h-1.3zM291.8 119.0h1.3v1.3h-1.3zM256.1 138.3h1.3v1.3h-1.3zM258.0 141.8h1.3v1.3h-1.3zM257.6 103.6h1.3v1.3h-1.3z" fill="#000" fill-opacity="0.55"/>
<path d="M274.6 122.9h1.3v1.3h-1.3zM278.4 119.9h1.3v1.3h-1.3zM293.5 119.4h1.3v1.3h-1.3zM280.2 122.7h1.3v1.3h-1.3zM266.7 117.9h1.3v1.3h-1.3zM280.5 126.1h1.3v1.3h-1.3zM261.2 117.5h1.3v1.3h-1.3zM283.5 123.6h1.3v1.3h-1.3zM264.5 126.3h1.3v1.3h-1.3zM276.7 124.9h1.3v1.3h-1.3zM278.8 131.6h1.3v1.3h-1.3zM273.5 123.7h1.3v1.3h-1.3zM263.7 129.8h1.3v1.3h-1.3zM268.9 124.6h1.3v1.3h-1.3zM268.4 114.8h1.3v1.3h-1.3zM262.6 118.8h1.3v1.3h-1.3zM266.3 132.2h1.3v1.3h-1.3zM281.5 134.9h1.3v1.3h-1.3zM275.2 124.0h1.3v1.3h-1.3zM279.6 123.9h1.3v1.3h-1.3zM272.5 119.6h1.3v1.3h-1.3zM265.1 140.2h1.3v1.3h-1.3zM268.2 121.2h1.3v1.3h-1.3zM284.1 125.2h1.3v1.3h-1.3zM265.8 119.4h1.3v1.3h-1.3zM276.7 127.1h1.3v1.3h-1.3zM267.6 129.1h1.3v1.3h-1.3zM270.3 116.5h1.3v1.3h-1.3zM276.9 136.9h1.3v1.3h-1.3zM268.9 129.7h1.3v1.3h-1.3zM264.4 131.5h1.3v1.3h-1.3zM269.0 117.2h1.3v1.3h-1.3zM269.5 121.4h1.3v1.3h-1.3zM266.5 123.7h1.3v1.3h-1.3zM261.5 119.6h1.3v1.3h-1.3zM259.9 128.5h1.3v1.3h-1.3zM272.4 119.4h1.3v1.3h-1.3zM285.4 125.8h1.3v1.3h-1.3zM272.5 110.7h1.3v1.3h-1.3zM264.7 133.5h1.3v1.3h-1.3zM270.3 121.6h1.3v1.3h-1.3zM262.7 127.8h1.3v1.3h-1.3zM277.0 131.8h1.3v1.3h-1.3zM290.2 125.6h1.3v1.3h-1.3zM271.4 120.5h1.3v1.3h-1.3zM270.4 130.9h1.3v1.3h-1.3zM263.9 132.3h1.3v1.3h-1.3zM264.9 123.5h1.3v1.3h-1.3zM281.0 125.0h1.3v1.3h-1.3zM268.4 131.8h1.3v1.3h-1.3zM266.0 128.7h1.3v1.3h-1.3zM280.2 122.7h1.3v1.3h-1.3zM263.1 130.8h1.3v1.3h-1.3zM276.2 122.6h1.3v1.3h-1.3zM267.4 126.0h1.3v1.3h-1.3zM267.6 121.2h1.3v1.3h-1.3zM261.0 123.7h1.3v1.3h-1.3zM288.7 122.4h1.3v1.3h-1.3zM272.4 135.9h1.3v1.3h-1.3zM269.1 121.2h1.3v1.3h-1.3zM276.5 116.3h1.3v1.3h-1.3zM269.3 121.2h1.3v1.3h-1.3zM281.4 123.7h1.3v1.3h-1.3zM277.3 120.5h1.3v1.3h-1.3zM270.2 129.8h1.3v1.3h-1.3zM266.0 135.1h1.3v1.3h-1.3zM288.6 123.1h1.3v1.3h-1.3zM259.9 120.3h1.3v1.3h-1.3zM278.3 130.7h1.3v1.3h-1.3zM261.3 119.0h1.3v1.3h-1.3zM279.5 121.3h1.3v1.3h-1.3zM266.2 124.3h1.3v1.3h-1.3zM269.9 121.0h1.3v1.3h-1.3zM275.1 125.2h1.3v1.3h-1.3zM280.3 111.7h1.3v1.3h-1.3zM274.7 134.0h1.3v1.3h-1.3zM277.4 131.4h1.3v1.3h-1.3zM280.5 134.7h1.3v1.3h-1.3zM277.3 128.1h1.3v1.3h-1.3zM282.7 132.1h1.3v1.3h-1.3zM279.0 113.1h1.3v1.3h-1.3zM274.6 121.4h1.3v1.3h-1.3zM282.8 133.7h1.3v1.3h-1.3zM282.4 131.8h1.3v1.3h-1.3zM274.8 120.5h1.3v1.3h-1.3zM278.5 127.7h1.3v1.3h-1.3zM277.9 126.5h1.3v1.3h-1.3zM279.7 125.2h1.3v1.3h-1.3zM280.6 130.5h1.3v1.3h-1.3zM265.1 126.4h1.3v1.3h-1.3zM275.8 134.6h1.3v1.3h-1.3zM265.4 125.3h1.3v1.3h-1.3zM267.5 128.8h1.3v1.3h-1.3zM265.1 119.6h1.3v1.3h-1.3zM264.0 122.1h1.3v1.3h-1.3zM274.9 127.8h1.3v1.3h-1.3zM271.5 118.1h1.3v1.3h-1.3zM260.6 118.7h1.3v1.3h-1.3zM271.0 124.1h1.3v1.3h-1.3zM270.4 129.5h1.3v1.3h-1.3zM278.7 133.3h1.3v1.3h-1.3zM271.0 137.4h1.3v1.3h-1.3zM273.0 114.0h1.3v1.3h-1.3zM270.8 127.9h1.3v1.3h-1.3zM270.5 126.4h1.3v1.3h-1.3zM275.5 115.9h1.3v1.3h-1.3zM273.7 132.0h1.3v1.3h-1.3zM262.3 115.0h1.3v1.3h-1.3zM279.2 121.6h1.3v1.3h-1.3zM268.3 133.0h1.3v1.3h-1.3zM286.1 130.1h1.3v1.3h-1.3zM276.0 123.3h1.3v1.3h-1.3zM271.2 140.0h1.3v1.3h-1.3zM271.6 132.7h1.3v1.3h-1.3zM281.4 139.5h1.3v1.3h-1.3zM267.9 130.1h1.3v1.3h-1.3zM280.4 147.2h1.3v1.3h-1.3zM272.9 147.1h1.3v1.3h-1.3zM265.0 139.8h1.3v1.3h-1.3zM280.2 130.5h1.3v1.3h-1.3zM267.7 140.7h1.3v1.3h-1.3zM273.4 150.6h1.3v1.3h-1.3zM284.4 145.6h1.3v1.3h-1.3zM263.1 145.0h1.3v1.3h-1.3zM276.2 134.3h1.3v1.3h-1.3zM260.8 138.5h1.3v1.3h-1.3zM283.7 146.5h1.3v1.3h-1.3zM263.1 134.2h1.3v1.3h-1.3zM281.7 129.1h1.3v1.3h-1.3zM279.1 145.1h1.3v1.3h-1.3zM264.2 136.4h1.3v1.3h-1.3zM274.1 132.9h1.3v1.3h-1.3zM277.2 142.8h1.3v1.3h-1.3zM277.1 146.6h1.3v1.3h-1.3zM269.6 149.8h1.3v1.3h-1.3zM275.3 142.8h1.3v1.3h-1.3zM266.2 141.2h1.3v1.3h-1.3zM274.9 142.2h1.3v1.3h-1.3zM271.8 146.9h1.3v1.3h-1.3zM266.0 135.5h1.3v1.3h-1.3zM265.9 144.1h1.3v1.3h-1.3zM275.4 137.6h1.3v1.3h-1.3zM263.5 136.5h1.3v1.3h-1.3zM270.9 146.9h1.3v1.3h-1.3zM273.4 140.7h1.3v1.3h-1.3zM268.8 151.0h1.3v1.3h-1.3zM283.0 137.5h1.3v1.3h-1.3zM277.5 129.6h1.3v1.3h-1.3zM264.7 135.4h1.3v1.3h-1.3zM273.4 132.7h1.3v1.3h-1.3zM271.1 135.4h1.3v1.3h-1.3zM260.2 129.1h1.3v1.3h-1.3zM270.0 148.9h1.3v1.3h-1.3zM259.7 137.6h1.3v1.3h-1.3zM261.4 145.7h1.3v1.3h-1.3zM277.7 137.0h1.3v1.3h-1.3zM272.0 144.2h1.3v1.3h-1.3zM273.3 149.8h1.3v1.3h-1.3zM280.8 146.5h1.3v1.3h-1.3zM271.9 142.0h1.3v1.3h-1.3zM267.4 136.7h1.3v1.3h-1.3zM257.0 150.2h1.3v1.3h-1.3zM275.3 149.6h1.3v1.3h-1.3zM273.4 138.9h1.3v1.3h-1.3zM280.9 144.8h1.3v1.3h-1.3zM274.8 141.7h1.3v1.3h-1.3zM269.0 141.0h1.3v1.3h-1.3zM267.0 148.6h1.3v1.3h-1.3zM279.3 129.1h1.3v1.3h-1.3zM271.6 137.1h1.3v1.3h-1.3zM276.9 144.5h1.3v1.3h-1.3zM276.6 149.5h1.3v1.3h-1.3zM267.2 131.5h1.3v1.3h-1.3zM272.1 142.4h1.3v1.3h-1.3zM264.3 129.7h1.3v1.3h-1.3zM272.6 142.2h1.3v1.3h-1.3zM282.0 137.5h1.3v1.3h-1.3zM279.1 139.6h1.3v1.3h-1.3zM273.8 145.7h1.3v1.3h-1.3zM269.0 129.6h1.3v1.3h-1.3zM272.3 140.1h1.3v1.3h-1.3zM274.0 139.0h1.3v1.3h-1.3zM275.7 134.3h1.3v1.3h-1.3zM271.6 148.9h1.3v1.3h-1.3zM279.9 143.3h1.3v1.3h-1.3zM270.6 147.1h1.3v1.3h-1.3zM272.8 142.4h1.3v1.3h-1.3zM282.3 131.4h1.3v1.3h-1.3zM293.5 127.1h1.3v1.3h-1.3zM291.0 121.9h1.3v1.3h-1.3zM298.0 126.3h1.3v1.3h-1.3zM291.0 122.1h1.3v1.3h-1.3zM294.3 124.1h1.3v1.3h-1.3zM274.1 126.6h1.3v1.3h-1.3z" fill="#000" fill-opacity="0.55"/>
<path d="M263.4 136.6h1.3v1.3h-1.3zM276.5 131.0h1.3v1.3h-1.3zM259.4 126.8h1.3v1.3h-1.3zM279.3 130.6h1.3v1.3h-1.3zM266.8 122.3h1.3v1.3h-1.3zM261.1 136.1h1.3v1.3h-1.3zM273.7 141.4h1.3v1.3h-1.3zM272.9 123.6h1.3v1.3h-1.3zM280.5 122.6h1.3v1.3h-1.3zM282.5 130.9h1.3v1.3h-1.3zM265.0 128.2h1.3v1.3h-1.3zM268.1 126.2h1.3v1.3h-1.3zM266.1 113.2h1.3v1.3h-1.3zM272.4 113.7h1.3v1.3h-1.3zM271.3 121.6h1.3v1.3h-1.3zM289.8 123.1h1.3v1.3h-1.3zM280.2 128.5h1.3v1.3h-1.3zM268.8 117.3h1.3v1.3h-1.3zM269.1 124.3h1.3v1.3h-1.3zM283.1 129.7h1.3v1.3h-1.3zM284.1 117.8h1.3v1.3h-1.3zM282.2 121.3h1.3v1.3h-1.3zM276.0 131.4h1.3v1.3h-1.3zM271.5 131.6h1.3v1.3h-1.3zM270.5 120.4h1.3v1.3h-1.3zM274.8 116.3h1.3v1.3h-1.3zM265.7 123.6h1.3v1.3h-1.3zM271.1 130.4h1.3v1.3h-1.3zM260.9 125.2h1.3v1.3h-1.3zM269.0 128.3h1.3v1.3h-1.3zM272.6 126.3h1.3v1.3h-1.3zM274.8 119.6h1.3v1.3h-1.3zM276.5 113.8h1.3v1.3h-1.3zM271.9 131.5h1.3v1.3h-1.3zM277.0 119.3h1.3v1.3h-1.3zM274.0 117.8h1.3v1.3h-1.3zM284.9 133.6h1.3v1.3h-1.3zM280.4 124.8h1.3v1.3h-1.3zM271.4 135.2h1.3v1.3h-1.3zM280.0 127.9h1.3v1.3h-1.3zM273.1 124.4h1.3v1.3h-1.3zM277.5 123.5h1.3v1.3h-1.3zM262.7 133.3h1.3v1.3h-1.3zM259.3 127.3h1.3v1.3h-1.3zM262.7 124.9h1.3v1.3h-1.3zM275.7 120.7h1.3v1.3h-1.3zM277.3 117.0h1.3v1.3h-1.3zM269.5 116.6h1.3v1.3h-1.3zM279.7 125.0h1.3v1.3h-1.3zM285.6 116.6h1.3v1.3h-1.3zM270.4 117.1h1.3v1.3h-1.3zM268.7 123.4h1.3v1.3h-1.3zM280.4 120.4h1.3v1.3h-1.3zM272.7 136.2h1.3v1.3h-1.3zM281.6 115.3h1.3v1.3h-1.3zM277.6 122.8h1.3v1.3h-1.3zM268.7 123.8h1.3v1.3h-1.3zM276.1 130.9h1.3v1.3h-1.3zM274.1 115.6h1.3v1.3h-1.3zM273.0 126.7h1.3v1.3h-1.3zM273.2 124.8h1.3v1.3h-1.3zM277.1 117.5h1.3v1.3h-1.3zM274.2 123.9h1.3v1.3h-1.3zM265.6 117.4h1.3v1.3h-1.3zM277.3 128.0h1.3v1.3h-1.3zM268.0 125.8h1.3v1.3h-1.3zM280.9 125.9h1.3v1.3h-1.3zM280.2 124.8h1.3v1.3h-1.3zM277.3 124.4h1.3v1.3h-1.3zM290.9 123.0h1.3v1.3h-1.3zM279.8 128.5h1.3v1.3h-1.3zM264.8 120.7h1.3v1.3h-1.3zM285.7 121.5h1.3v1.3h-1.3zM275.0 116.8h1.3v1.3h-1.3zM268.3 122.1h1.3v1.3h-1.3zM277.2 114.7h1.3v1.3h-1.3zM272.2 130.5h1.3v1.3h-1.3zM266.9 121.6h1.3v1.3h-1.3zM275.1 119.4h1.3v1.3h-1.3zM275.8 126.5h1.3v1.3h-1.3zM274.9 115.5h1.3v1.3h-1.3zM265.5 124.3h1.3v1.3h-1.3zM266.7 108.0h1.3v1.3h-1.3zM288.2 110.2h1.3v1.3h-1.3zM281.3 119.7h1.3v1.3h-1.3zM263.8 126.1h1.3v1.3h-1.3zM279.6 124.5h1.3v1.3h-1.3zM262.9 122.4h1.3v1.3h-1.3zM265.3 133.7h1.3v1.3h-1.3zM275.5 123.0h1.3v1.3h-1.3zM270.9 127.3h1.3v1.3h-1.3zM276.7 139.1h1.3v1.3h-1.3zM279.7 123.4h1.3v1.3h-1.3zM268.6 133.1h1.3v1.3h-1.3zM267.5 121.9h1.3v1.3h-1.3zM273.7 118.5h1.3v1.3h-1.3zM284.2 128.8h1.3v1.3h-1.3zM265.1 112.7h1.3v1.3h-1.3zM266.1 127.8h1.3v1.3h-1.3zM270.1 112.9h1.3v1.3h-1.3zM278.2 128.6h1.3v1.3h-1.3zM281.6 123.6h1.3v1.3h-1.3zM278.7 120.0h1.3v1.3h-1.3zM282.4 119.6h1.3v1.3h-1.3zM278.4 119.2h1.3v1.3h-1.3zM281.0 114.2h1.3v1.3h-1.3zM272.6 121.2h1.3v1.3h-1.3zM278.3 123.4h1.3v1.3h-1.3zM283.0 120.9h1.3v1.3h-1.3zM270.6 126.3h1.3v1.3h-1.3zM280.7 123.3h1.3v1.3h-1.3zM268.3 122.3h1.3v1.3h-1.3zM277.2 125.3h1.3v1.3h-1.3zM281.7 127.4h1.3v1.3h-1.3zM262.5 122.1h1.3v1.3h-1.3zM281.9 115.7h1.3v1.3h-1.3zM269.4 133.9h1.3v1.3h-1.3zM265.5 132.9h1.3v1.3h-1.3zM265.9 122.2h1.3v1.3h-1.3zM273.8 118.4h1.3v1.3h-1.3zM273.7 119.5h1.3v1.3h-1.3zM273.9 114.8h1.3v1.3h-1.3zM261.6 127.7h1.3v1.3h-1.3zM271.7 115.5h1.3v1.3h-1.3zM258.5 129.9h1.3v1.3h-1.3zM266.4 124.9h1.3v1.3h-1.3zM287.0 117.9h1.3v1.3h-1.3zM261.9 124.1h1.3v1.3h-1.3zM276.1 126.5h1.3v1.3h-1.3zM273.9 121.2h1.3v1.3h-1.3zM255.9 119.6h1.3v1.3h-1.3zM283.8 132.5h1.3v1.3h-1.3zM274.9 113.3h1.3v1.3h-1.3zM262.9 131.8h1.3v1.3h-1.3zM259.5 126.1h1.3v1.3h-1.3zM260.6 135.9h1.3v1.3h-1.3zM280.9 143.6h1.3v1.3h-1.3zM285.8 147.3h1.3v1.3h-1.3zM266.1 151.3h1.3v1.3h-1.3zM275.5 143.0h1.3v1.3h-1.3zM267.2 139.7h1.3v1.3h-1.3zM261.0 131.5h1.3v1.3h-1.3zM265.3 135.2h1.3v1.3h-1.3zM269.1 149.3h1.3v1.3h-1.3zM277.0 137.3h1.3v1.3h-1.3zM270.0 131.8h1.3v1.3h-1.3zM277.6 137.6h1.3v1.3h-1.3zM268.4 151.5h1.3v1.3h-1.3zM270.1 130.7h1.3v1.3h-1.3zM269.9 130.1h1.3v1.3h-1.3zM274.4 147.8h1.3v1.3h-1.3zM274.2 145.3h1.3v1.3h-1.3zM279.4 135.2h1.3v1.3h-1.3zM277.4 145.4h1.3v1.3h-1.3zM278.8 131.7h1.3v1.3h-1.3zM259.1 143.3h1.3v1.3h-1.3zM275.8 151.0h1.3v1.3h-1.3zM282.1 138.3h1.3v1.3h-1.3zM271.6 137.8h1.3v1.3h-1.3zM259.7 148.0h1.3v1.3h-1.3zM270.1 131.2h1.3v1.3h-1.3zM277.3 148.3h1.3v1.3h-1.3zM269.2 138.9h1.3v1.3h-1.3zM269.3 147.3h1.3v1.3h-1.3zM274.1 151.0h1.3v1.3h-1.3zM257.4 132.7h1.3v1.3h-1.3zM270.6 129.6h1.3v1.3h-1.3zM280.4 141.2h1.3v1.3h-1.3zM261.0 133.4h1.3v1.3h-1.3zM276.4 142.4h1.3v1.3h-1.3zM281.6 143.4h1.3v1.3h-1.3zM271.8 143.5h1.3v1.3h-1.3zM295.1 149.0h1.3v1.3h-1.3zM266.1 142.0h1.3v1.3h-1.3zM260.9 139.2h1.3v1.3h-1.3zM281.2 143.4h1.3v1.3h-1.3zM268.1 149.2h1.3v1.3h-1.3zM267.0 143.7h1.3v1.3h-1.3zM279.8 139.1h1.3v1.3h-1.3zM278.3 152.0h1.3v1.3h-1.3zM274.0 139.6h1.3v1.3h-1.3zM281.6 137.2h1.3v1.3h-1.3zM273.3 148.5h1.3v1.3h-1.3zM276.8 148.8h1.3v1.3h-1.3zM274.6 139.9h1.3v1.3h-1.3zM271.2 139.2h1.3v1.3h-1.3zM278.7 134.1h1.3v1.3h-1.3zM275.0 141.5h1.3v1.3h-1.3zM269.6 143.0h1.3v1.3h-1.3zM283.4 133.3h1.3v1.3h-1.3zM286.2 149.8h1.3v1.3h-1.3zM267.0 131.3h1.3v1.3h-1.3zM262.7 131.0h1.3v1.3h-1.3zM269.8 139.7h1.3v1.3h-1.3zM279.6 137.9h1.3v1.3h-1.3zM273.0 143.0h1.3v1.3h-1.3zM272.8 147.8h1.3v1.3h-1.3zM279.9 150.9h1.3v1.3h-1.3zM287.1 120.8h1.3v1.3h-1.3zM280.2 129.5h1.3v1.3h-1.3zM289.8 131.2h1.3v1.3h-1.3zM293.9 122.6h1.3v1.3h-1.3zM289.9 123.4h1.3v1.3h-1.3zM287.4 124.7h1.3v1.3h-1.3zM271.4 131.5h1.3v1.3h-1.3z" fill="#000" fill-opacity="0.55"/>
<path d="M281.4 125.5h1.3v1.3h-1.3zM270.6 113.7h1.3v1.3h-1.3zM274.6 127.2h1.3v1.3h-1.3zM281.6 119.0h1.3v1.3h-1.3zM278.0 118.4h1.3v1.3h-1.3zM279.1 132.3h1.3v1.3h-1.3zM275.0 127.1h1.3v1.3h-1.3zM283.8 120.8h1.3v1.3h-1.3zM259.0 131.1h1.3v1.3h-1.3zM278.0 124.4h1.3v1.3h-1.3zM271.3 137.3h1.3v1.3h-1.3zM272.5 127.6h1.3v1.3h-1.3zM275.3 127.1h1.3v1.3h-1.3zM277.7 130.5h1.3v1.3h-1.3zM267.8 127.8h1.3v1.3h-1.3zM273.5 119.4h1.3v1.3h-1.3zM278.9 126.9h1.3v1.3h-1.3zM279.2 116.3h1.3v1.3h-1.3zM271.2 126.6h1.3v1.3h-1.3zM281.5 127.5h1.3v1.3h-1.3zM272.2 120.9h1.3v1.3h-1.3zM263.7 134.5h1.3v1.3h-1.3zM263.6 109.1h1.3v1.3h-1.3zM271.1 126.7h1.3v1.3h-1.3zM281.8 113.4h1.3v1.3h-1.3zM282.4 113.0h1.3v1.3h-1.3zM268.6 125.9h1.3v1.3h-1.3zM264.2 131.9h1.3v1.3h-1.3zM267.4 132.5h1.3v1.3h-1.3zM277.5 136.2h1.3v1.3h-1.3zM277.6 121.4h1.3v1.3h-1.3zM272.1 125.6h1.3v1.3h-1.3zM268.1 132.3h1.3v1.3h-1.3zM266.8 123.7h1.3v1.3h-1.3zM268.8 128.6h1.3v1.3h-1.3zM279.9 122.3h1.3v1.3h-1.3zM281.3 130.3h1.3v1.3h-1.3zM278.2 124.8h1.3v1.3h-1.3zM271.0 119.3h1.3v1.3h-1.3zM277.3 128.2h1.3v1.3h-1.3zM267.6 129.3h1.3v1.3h-1.3zM276.3 120.7h1.3v1.3h-1.3zM270.0 138.4h1.3v1.3h-1.3zM281.1 123.6h1.3v1.3h-1.3zM263.2 121.1h1.3v1.3h-1.3zM279.2 139.4h1.3v1.3h-1.3zM275.8 119.7h1.3v1.3h-1.3zM279.9 122.2h1.3v1.3h-1.3zM276.9 133.9h1.3v1.3h-1.3zM278.0 126.9h1.3v1.3h-1.3zM267.3 118.4h1.3v1.3h-1.3zM275.7 136.8h1.3v1.3h-1.3zM269.8 126.4h1.3v1.3h-1.3zM265.2 122.4h1.3v1.3h-1.3zM258.7 123.7h1.3v1.3h-1.3zM274.2 118.5h1.3v1.3h-1.3zM263.3 119.8h1.3v1.3h-1.3zM282.9 127.7h1.3v1.3h-1.3zM261.4 120.7h1.3v1.3h-1.3zM272.4 120.8h1.3v1.3h-1.3zM289.4 131.0h1.3v1.3h-1.3zM279.0 119.8h1.3v1.3h-1.3zM267.9 116.9h1.3v1.3h-1.3zM270.2 113.8h1.3v1.3h-1.3zM266.9 116.1h1.3v1.3h-1.3zM269.7 125.7h1.3v1.3h-1.3zM266.7 123.2h1.3v1.3h-1.3zM272.4 127.1h1.3v1.3h-1.3zM265.2 123.2h1.3v1.3h-1.3zM273.7 132.3h1.3v1.3h-1.3zM257.3 129.0h1.3v1.3h-1.3zM272.3 121.7h1.3v1.3h-1.3zM274.2 122.3h1.3v1.3h-1.3zM269.5 115.9h1.3v1.3h-1.3zM267.6 124.1h1.3v1.3h-1.3zM277.7 120.8h1.3v1.3h-1.3zM283.8 123.9h1.3v1.3h-1.3zM282.1 129.4h1.3v1.3h-1.3zM268.9 113.9h1.3v1.3h-1.3zM268.5 118.7h1.3v1.3h-1.3zM277.4 112.1h1.3v1.3h-1.3zM275.1 127.3h1.3v1.3h-1.3zM279.7 132.5h1.3v1.3h-1.3zM271.1 128.9h1.3v1.3h-1.3zM266.3 116.4h1.3v1.3h-1.3zM285.0 119.7h1.3v1.3h-1.3zM267.6 117.9h1.3v1.3h-1.3zM268.5 132.0h1.3v1.3h-1.3zM278.0 123.9h1.3v1.3h-1.3zM281.0 117.4h1.3v1.3h-1.3zM270.2 138.4h1.3v1.3h-1.3zM273.2 132.5h1.3v1.3h-1.3zM268.4 131.1h1.3v1.3h-1.3zM270.1 107.1h1.3v1.3h-1.3zM266.9 118.8h1.3v1.3h-1.3zM267.9 108.9h1.3v1.3h-1.3zM274.9 122.4h1.3v1.3h-1.3zM268.8 123.8h1.3v1.3h-1.3zM269.3 114.8h1.3v1.3h-1.3zM261.6 122.0h1.3v1.3h-1.3zM270.2 128.7h1.3v1.3h-1.3zM263.8 126.6h1.3v1.3h-1.3zM269.5 131.0h1.3v1.3h-1.3zM277.2 120.9h1.3v1.3h-1.3zM260.7 134.0h1.3v1.3h-1.3zM275.7 119.0h1.3v1.3h-1.3zM285.0 126.3h1.3v1.3h-1.3zM284.0 122.4h1.3v1.3h-1.3zM276.4 135.0h1.3v1.3h-1.3zM263.1 122.1h1.3v1.3h-1.3zM272.9 131.8h1.3v1.3h-1.3zM275.4 128.5h1.3v1.3h-1.3zM270.3 122.1h1.3v1.3h-1.3zM276.7 132.5h1.3v1.3h-1.3zM262.1 138.1h1.3v1.3h-1.3zM270.2 122.2h1.3v1.3h-1.3zM275.5 113.8h1.3v1.3h-1.3zM289.8 128.1h1.3v1.3h-1.3zM281.6 125.2h1.3v1.3h-1.3zM269.5 117.9h1.3v1.3h-1.3zM290.9 121.5h1.3v1.3h-1.3zM269.1 141.3h1.3v1.3h-1.3zM258.5 132.3h1.3v1.3h-1.3zM274.8 140.5h1.3v1.3h-1.3zM268.1 134.2h1.3v1.3h-1.3zM261.5 143.1h1.3v1.3h-1.3zM281.5 145.4h1.3v1.3h-1.3zM259.4 143.3h1.3v1.3h-1.3zM275.2 129.4h1.3v1.3h-1.3zM271.4 147.0h1.3v1.3h-1.3zM267.9 130.5h1.3v1.3h-1.3zM271.5 134.7h1.3v1.3h-1.3zM272.8 133.3h1.3v1.3h-1.3zM281.8 141.9h1.3v1.3h-1.3zM282.0 148.6h1.3v1.3h-1.3zM278.5 139.1h1.3v1.3h-1.3zM273.2 151.6h1.3v1.3h-1.3zM270.2 135.8h1.3v1.3h-1.3zM282.3 138.0h1.3v1.3h-1.3zM266.1 142.6h1.3v1.3h-1.3zM275.3 142.8h1.3v1.3h-1.3zM285.6 137.2h1.3v1.3h-1.3zM278.2 137.7h1.3v1.3h-1.3zM259.2 151.1h1.3v1.3h-1.3zM271.5 149.6h1.3v1.3h-1.3zM281.2 143.6h1.3v1.3h-1.3zM268.9 137.9h1.3v1.3h-1.3zM268.0 134.0h1.3v1.3h-1.3zM274.2 144.3h1.3v1.3h-1.3zM278.5 131.8h1.3v1.3h-1.3zM269.7 140.7h1.3v1.3h-1.3zM271.9 150.9h1.3v1.3h-1.3zM275.4 137.1h1.3v1.3h-1.3zM279.8 146.3h1.3v1.3h-1.3zM268.1 151.1h1.3v1.3h-1.3zM267.6 143.9h1.3v1.3h-1.3zM279.0 137.7h1.3v1.3h-1.3zM272.3 143.9h1.3v1.3h-1.3zM282.4 137.7h1.3v1.3h-1.3zM277.0 132.6h1.3v1.3h-1.3zM284.3 140.5h1.3v1.3h-1.3zM270.6 150.1h1.3v1.3h-1.3zM265.3 129.1h1.3v1.3h-1.3zM282.0 133.4h1.3v1.3h-1.3zM268.6 133.1h1.3v1.3h-1.3zM280.5 140.3h1.3v1.3h-1.3zM272.0 139.8h1.3v1.3h-1.3zM270.0 136.5h1.3v1.3h-1.3zM268.6 138.8h1.3v1.3h-1.3zM279.8 131.8h1.3v1.3h-1.3zM272.3 149.7h1.3v1.3h-1.3zM272.4 139.4h1.3v1.3h-1.3zM266.6 137.5h1.3v1.3h-1.3zM271.8 132.2h1.3v1.3h-1.3zM272.7 139.3h1.3v1.3h-1.3zM265.2 147.6h1.3v1.3h-1.3zM262.2 143.2h1.3v1.3h-1.3zM283.4 147.3h1.3v1.3h-1.3zM275.6 144.4h1.3v1.3h-1.3zM277.2 130.5h1.3v1.3h-1.3zM273.0 141.4h1.3v1.3h-1.3zM263.3 134.8h1.3v1.3h-1.3zM267.2 149.5h1.3v1.3h-1.3zM277.9 137.7h1.3v1.3h-1.3zM266.9 133.2h1.3v1.3h-1.3zM272.2 130.9h1.3v1.3h-1.3zM264.8 134.5h1.3v1.3h-1.3zM283.9 148.2h1.3v1.3h-1.3zM284.5 134.4h1.3v1.3h-1.3zM266.9 148.5h1.3v1.3h-1.3zM274.0 134.5h1.3v1.3h-1.3zM266.4 141.4h1.3v1.3h-1.3zM262.9 136.7h1.3v1.3h-1.3zM278.8 147.6h1.3v1.3h-1.3zM258.6 129.1h1.3v1.3h-1.3zM290.4 142.4h1.3v1.3h-1.3zM283.3 138.3h1.3v1.3h-1.3zM268.5 138.2h1.3v1.3h-1.3zM268.4 137.9h1.3v1.3h-1.3zM275.3 151.3h1.3v1.3h-1.3zM285.1 150.6h1.3v1.3h-1.3zM277.0 140.7h1.3v1.3h-1.3zM286.4 133.1h1.3v1.3h-1.3zM276.7 135.0h1.3v1.3h-1.3zM278.8 140.5h1.3v1.3h-1.3zM268.6 140.4h1.3v1.3h-1.3zM256.8 134.6h1.3v1.3h-1.3zM290.1 127.5h1.3v1.3h-1.3zM287.1 135.1h1.3v1.3h-1.3zM289.5 121.2h1.3v1.3h-1.3zM291.3 111.9h1.3v1.3h-1.3zM290.3 124.1h1.3v1.3h-1.3zM291.7 108.6h1.3v1.3h-1.3zM291.3 126.8h1.3v1.3h-1.3zM290.0 139.3h1.3v1.3h-1.3zM286.4 129.2h1.3v1.3h-1.3zM291.7 134.6h1.3v1.3h-1.3zM288.5 133.2h1.3v1.3h-1.3zM279.7 141.0h1.3v1.3h-1.3z" fill="#000" fill-opacity="0.55"/>
<path d="M274.5 121.0h1.3v1.3h-1.3zM286.5 132.3h1.3v1.3h-1.3zM272.8 119.3h1.3v1.3h-1.3zM272.2 130.2h1.3v1.3h-1.3zM266.4 117.9h1.3v1.3h-1.3zM266.5 130.8h1.3v1.3h-1.3zM266.9 140.3h1.3v1.3h-1.3zM268.2 122.6h1.3v1.3h-1.3zM279.4 122.9h1.3v1.3h-1.3zM272.1 123.6h1.3v1.3h-1.3zM287.0 133.0h1.3v1.3h-1.3zM266.4 123.4h1.3v1.3h-1.3zM272.1 121.7h1.3v1.3h-1.3zM296.0 118.0h1.3v1.3h-1.3zM270.5 120.8h1.3v1.3h-1.3zM262.8 134.8h1.3v1.3h-1.3zM261.6 117.8h1.3v1.3h-1.3zM275.6 124.2h1.3v1.3h-1.3zM273.2 119.2h1.3v1.3h-1.3zM280.1 128.1h1.3v1.3h-1.3zM282.1 119.9h1.3v1.3h-1.3zM274.2 126.2h1.3v1.3h-1.3zM282.2 129.0h1.3v1.3h-1.3zM270.7 129.4h1.3v1.3h-1.3zM281.3 126.8h1.3v1.3h-1.3zM285.6 119.2h1.3v1.3h-1.3zM254.9 115.6h1.3v1.3h-1.3zM265.1 131.6h1.3v1.3h-1.3zM269.5 141.7h1.3v1.3h-1.3zM279.6 117.5h1.3v1.3h-1.3zM266.2 124.6h1.3v1.3h-1.3zM268.5 121.6h1.3v1.3h-1.3zM267.1 123.0h1.3v1.3h-1.3zM273.1 138.8h1.3v1.3h-1.3zM269.4 112.4h1.3v1.3h-1.3zM274.9 130.9h1.3v1.3h-1.3zM265.4 116.5h1.3v1.3h-1.3zM271.8 125.3h1.3v1.3h-1.3zM274.8 127.5h1.3v1.3h-1.3zM269.6 121.0h1.3v1.3h-1.3zM268.2 120.5h1.3v1.3h-1.3zM270.1 130.3h1.3v1.3h-1.3zM289.4 136.7h1.3v1.3h-1.3zM279.9 126.1h1.3v1.3h-1.3zM265.9 122.1h1.3v1.3h-1.3zM275.7 125.6h1.3v1.3h-1.3zM272.3 126.7h1.3v1.3h-1.3zM269.4 126.2h1.3v1.3h-1.3zM265.8 126.2h1.3v1.3h-1.3zM268.2 122.0h1.3v1.3h-1.3zM259.8 128.3h1.3v1.3h-1.3zM286.7 121.7h1.3v1.3h-1.3zM271.0 121.5h1.3v1.3h-1.3zM278.5 120.5h1.3v1.3h-1.3zM275.7 125.0h1.3v1.3h-1.3zM274.7 118.9h1.3v1.3h-1.3zM285.3 118.7h1.3v1.3h-1.3zM286.4 124.1h1.3v1.3h-1.3zM274.1 118.7h1.3v1.3h-1.3zM267.0 113.3h1.3v1.3h-1.3zM279.2 128.0h1.3v1.3h-1.3zM267.9 122.9h1.3v1.3h-1.3zM272.9 126.8h1.3v1.3h-1.3zM276.0 132.9h1.3v1.3h-1.3zM259.9 120.6h1.3v1.3h-1.3zM284.9 125.6h1.3v1.3h-1.3zM264.4 114.2h1.3v1.3h-1.3zM272.3 127.7h1.3v1.3h-1.3zM269.8 132.2h1.3v1.3h-1.3zM269.0 123.6h1.3v1.3h-1.3zM272.8 121.1h1.3v1.3h-1.3zM260.8 116.5h1.3v1.3h-1.3zM267.6 128.8h1.3v1.3h-1.3zM275.6 128.5h1.3v1.3h-1.3zM277.7 125.1h1.3v1.3h-1.3zM280.2 122.4h1.3v1.3h-1.3zM286.2 119.4h1.3v1.3h-1.3zM272.1 124.6h1.3v1.3h-1.3zM272.8 124.1h1.3v1.3h-1.3zM273.0 125.4h1.3v1.3h-1.3zM282.6 130.0h1.3v1.3h-1.3zM265.3 120.2h1.3v1.3h-1.3zM273.1 129.3h1.3v1.3h-1.3zM283.3 132.9h1.3v1.3h-1.3zM285.1 118.4h1.3v1.3h-1.3zM278.4 127.5h1.3v1.3h-1.3zM273.4 118.3h1.3v1.3h-1.3zM266.6 111.4h1.3v1.3h-1.3zM277.6 123.3h1.3v1.3h-1.3zM260.5 130.5h1.3v1.3h-1.3zM272.4 124.9h1.3v1.3h-1.3zM272.0 123.5h1.3v1.3h-1.3zM268.7 127.4h1.3v1.3h-1.3zM266.0 122.3h1.3v1.3h-1.3zM273.7 115.0h1.3v1.3h-1.3zM266.8 118.0h1.3v1.3h-1.3zM285.5 120.8h1.3v1.3h-1.3zM278.4 122.5h1.3v1.3h-1.3zM278.9 124.6h1.3v1.3h-1.3zM288.1 124.1h1.3v1.3h-1.3zM277.3 120.9h1.3v1.3h-1.3zM278.0 127.1h1.3v1.3h-1.3zM274.1 116.8h1.3v1.3h-1.3zM277.4 129.8h1.3v1.3h-1.3zM286.9 116.6h1.3v1.3h-1.3zM277.0 123.2h1.3v1.3h-1.3zM274.7 123.9h1.3v1.3h-1.3zM268.4 129.4h1.3v1.3h-1.3zM281.4 137.6h1.3v1.3h-1.3zM267.9 126.2h1.3v1.3h-1.3zM275.7 124.6h1.3v1.3h-1.3zM276.3 117.5h1.3v1.3h-1.3zM281.1 124.6h1.3v1.3h-1.3zM274.3 134.1h1.3v1.3h-1.3zM274.3 122.9h1.3v1.3h-1.3zM272.8 124.0h1.3v1.3h-1.3zM272.4 133.6h1.3v1.3h-1.3zM278.7 127.4h1.3v1.3h-1.3zM275.0 126.3h1.3v1.3h-1.3zM290.8 118.9h1.3v1.3h-1.3zM272.6 125.0h1.3v1.3h-1.3zM277.8 120.9h1.3v1.3h-1.3zM274.8 113.7h1.3v1.3h-1.3zM283.4 134.1h1.3v1.3h-1.3zM277.5 133.5h1.3v1.3h-1.3zM273.8 116.7h1.3v1.3h-1.3zM257.9 133.8h1.3v1.3h-1.3zM270.0 131.7h1.3v1.3h-1.3zM269.2 132.4h1.3v1.3h-1.3zM265.4 132.3h1.3v1.3h-1.3zM256.5 129.1h1.3v1.3h-1.3zM281.2 131.6h1.3v1.3h-1.3zM266.8 135.0h1.3v1.3h-1.3zM264.0 148.0h1.3v1.3h-1.3zM261.3 133.2h1.3v1.3h-1.3zM264.7 137.6h1.3v1.3h-1.3zM259.9 132.0h1.3v1.3h-1.3zM266.8 143.7h1.3v1.3h-1.3zM277.7 138.3h1.3v1.3h-1.3zM277.0 138.2h1.3v1.3h-1.3zM278.6 146.9h1.3v1.3h-1.3zM277.7 140.8h1.3v1.3h-1.3zM275.8 143.0h1.3v1.3h-1.3zM275.3 140.0h1.3v1.3h-1.3zM276.9 151.7h1.3v1.3h-1.3zM268.3 148.0h1.3v1.3h-1.3zM266.4 131.2h1.3v1.3h-1.3zM256.3 130.0h1.3v1.3h-1.3zM261.5 132.2h1.3v1.3h-1.3zM264.6 145.5h1.3v1.3h-1.3zM275.6 139.1h1.3v1.3h-1.3zM277.3 142.8h1.3v1.3h-1.3zM260.9 131.2h1.3v1.3h-1.3zM269.1 131.9h1.3v1.3h-1.3zM264.2 131.5h1.3v1.3h-1.3zM275.6 140.5h1.3v1.3h-1.3zM274.6 137.0h1.3v1.3h-1.3zM256.5 146.3h1.3v1.3h-1.3zM280.5 142.9h1.3v1.3h-1.3zM276.6 149.0h1.3v1.3h-1.3zM264.5 142.9h1.3v1.3h-1.3zM270.3 145.8h1.3v1.3h-1.3zM263.4 146.3h1.3v1.3h-1.3zM272.8 148.6h1.3v1.3h-1.3zM265.2 146.1h1.3v1.3h-1.3zM272.9 151.4h1.3v1.3h-1.3zM273.0 137.4h1.3v1.3h-1.3zM270.6 132.1h1.3v1.3h-1.3zM270.2 130.9h1.3v1.3h-1.3zM269.2 140.2h1.3v1.3h-1.3zM286.5 150.0h1.3v1.3h-1.3zM274.2 137.7h1.3v1.3h-1.3zM281.4 151.7h1.3v1.3h-1.3zM264.5 142.6h1.3v1.3h-1.3zM266.7 150.5h1.3v1.3h-1.3zM268.2 139.3h1.3v1.3h-1.3zM267.7 131.3h1.3v1.3h-1.3zM279.6 138.3h1.3v1.3h-1.3zM279.1 148.0h1.3v1.3h-1.3zM260.8 144.2h1.3v1.3h-1.3zM271.7 134.6h1.3v1.3h-1.3zM272.0 139.9h1.3v1.3h-1.3zM274.7 136.7h1.3v1.3h-1.3zM281.0 144.8h1.3v1.3h-1.3zM273.5 134.1h1.3v1.3h-1.3zM272.1 151.1h1.3v1.3h-1.3zM273.6 145.8h1.3v1.3h-1.3zM267.6 135.7h1.3v1.3h-1.3zM271.7 137.7h1.3v1.3h-1.3zM271.4 132.0h1.3v1.3h-1.3zM272.0 137.1h1.3v1.3h-1.3zM275.0 136.8h1.3v1.3h-1.3zM280.8 151.7h1.3v1.3h-1.3zM262.6 143.6h1.3v1.3h-1.3zM274.6 134.6h1.3v1.3h-1.3zM274.6 145.5h1.3v1.3h-1.3zM271.4 129.1h1.3v1.3h-1.3zM264.8 138.4h1.3v1.3h-1.3zM273.4 132.4h1.3v1.3h-1.3zM269.5 142.5h1.3v1.3h-1.3zM260.4 145.0h1.3v1.3h-1.3zM273.7 131.6h1.3v1.3h-1.3zM269.1 133.3h1.3v1.3h-1.3zM279.2 138.7h1.3v1.3h-1.3zM265.7 149.7h1.3v1.3h-1.3zM277.0 145.1h1.3v1.3h-1.3zM288.4 135.9h1.3v1.3h-1.3zM275.5 146.8h1.3v1.3h-1.3zM276.3 130.2h1.3v1.3h-1.3zM288.9 141.7h1.3v1.3h-1.3zM262.5 143.9h1.3v1.3h-1.3zM277.9 143.6h1.3v1.3h-1.3zM284.4 132.5h1.3v1.3h-1.3zM273.1 141.9h1.3v1.3h-1.3zM287.4 138.3h1.3v1.3h-1.3zM286.2 120.8h1.3v1.3h-1.3zM294.1 125.4h1.3v1.3h-1.3zM290.3 135.3h1.3v1.3h-1.3zM281.8 101.2h1.3v1.3h-1.3z" fill="#000" fill-opacity="0.55"/>
<path d="M285.5 130.6h1.3v1.3h-1.3zM280.7 120.9h1.3v1.3h-1.3zM274.3 119.2h1.3v1.3h-1.3zM277.5 121.6h1.3v1.3h-1.3zM289.5 120.5h1.3v1.3h-1.3zM264.4 125.4h1.3v1.3h-1.3zM280.3 116.6h1.3v1.3h-1.3zM269.2 123.8h1.3v1.3h-1.3zM265.7 131.2h1.3v1.3h-1.3zM271.6 115.9h1.3v1.3h-1.3zM255.4 122.8h1.3v1.3h-1.3zM282.9 118.5h1.3v1.3h-1.3zM268.5 123.7h1.3v1.3h-1.3zM270.0 128.4h1.3v1.3h-1.3zM284.4 126.9h1.3v1.3h-1.3zM274.2 121.0h1.3v1.3h-1.3zM271.9 125.9h1.3v1.3h-1.3zM272.4 124.2h1.3v1.3h-1.3zM280.0 117.1h1.3v1.3h-1.3zM283.6 122.2h1.3v1.3h-1.3zM265.0 132.4h1.3v1.3h-1.3zM274.3 135.3h1.3v1.3h-1.3zM265.7 126.5h1.3v1.3h-1.3zM266.0 126.4h1.3v1.3h-1.3zM272.2 124.7h1.3v1.3h-1.3zM273.9 136.8h1.3v1.3h-1.3zM274.5 133.0h1.3v1.3h-1.3zM275.5 111.7h1.3v1.3h-1.3zM274.1 121.1h1.3v1.3h-1.3zM272.2 134.8h1.3v1.3h-1.3zM266.5 122.8h1.3v1.3h-1.3zM266.1 135.1h1.3v1.3h-1.3zM267.2 115.8h1.3v1.3h-1.3zM284.0 121.6h1.3v1.3h-1.3zM268.1 124.7h1.3v1.3h-1.3zM278.0 132.3h1.3v1.3h-1.3zM269.2 122.9h1.3v1.3h-1.3zM263.3 116.4h1.3v1.3h-1.3zM271.5 122.9h1.3v1.3h-1.3zM288.7 125.4h1.3v1.3h-1.3zM270.3 121.7h1.3v1.3h-1.3zM287.3 132.0h1.3v1.3h-1.3zM275.7 121.2h1.3v1.3h-1.3zM266.0 132.6h1.3v1.3h-1.3zM265.9 130.0h1.3v1.3h-1.3zM263.4 121.2h1.3v1.3h-1.3zM272.2 119.4h1.3v1.3h-1.3zM274.7 122.5h1.3v1.3h-1.3zM268.7 113.3h1.3v1.3h-1.3zM278.1 123.9h1.3v1.3h-1.3zM258.3 131.9h1.3v1.3h-1.3zM276.3 130.0h1.3v1.3h-1.3zM273.3 132.3h1.3v1.3h-1.3zM275.0 122.0h1.3v1.3h-1.3zM277.7 117.9h1.3v1.3h-1.3zM270.0 119.3h1.3v1.3h-1.3zM274.6 118.6h1.3v1.3h-1.3zM289.0 130.3h1.3v1.3h-1.3zM279.5 122.9h1.3v1.3h-1.3zM271.3 124.9h1.3v1.3h-1.3zM273.5 126.6h1.3v1.3h-1.3zM272.9 128.8h1.3v1.3h-1.3zM280.2 121.7h1.3v1.3h-1.3zM275.2 125.4h1.3v1.3h-1.3zM271.9 118.8h1.3v1.3h-1.3zM268.2 124.1h1.3v1.3h-1.3zM271.3 133.2h1.3v1.3h-1.3zM279.7 129.1h1.3v1.3h-1.3zM266.2 116.0h1.3v1.3h-1.3zM266.5 126.9h1.3v1.3h-1.3zM272.5 113.7h1.3v1.3h-1.3zM271.2 126.6h1.3v1.3h-1.3zM275.4 136.4h1.3v1.3h-1.3zM287.9 125.0h1.3v1.3h-1.3zM284.7 125.3h1.3v1.3h-1.3zM277.2 133.5h1.3v1.3h-1.3zM266.0 117.7h1.3v1.3h-1.3zM268.3 109.5h1.3v1.3h-1.3zM280.3 127.3h1.3v1.3h-1.3zM265.4 124.3h1.3v1.3h-1.3zM282.7 130.3h1.3v1.3h-1.3zM276.2 115.7h1.3v1.3h-1.3zM280.6 129.8h1.3v1.3h-1.3zM273.1 122.0h1.3v1.3h-1.3zM281.7 120.3h1.3v1.3h-1.3zM273.5 122.4h1.3v1.3h-1.3zM265.0 114.6h1.3v1.3h-1.3zM273.5 130.4h1.3v1.3h-1.3zM265.6 123.4h1.3v1.3h-1.3zM275.6 109.0h1.3v1.3h-1.3zM265.5 128.9h1.3v1.3h-1.3zM275.0 119.6h1.3v1.3h-1.3zM276.2 121.4h1.3v1.3h-1.3zM273.7 135.4h1.3v1.3h-1.3zM271.4 129.1h1.3v1.3h-1.3zM280.0 117.0h1.3v1.3h-1.3zM288.6 116.7h1.3v1.3h-1.3zM276.7 120.2h1.3v1.3h-1.3zM272.0 109.3h1.3v1.3h-1.3zM266.8 123.5h1.3v1.3h-1.3zM263.1 132.7h1.3v1.3h-1.3zM259.0 117.7h1.3v1.3h-1.3zM265.6 133.4h1.3v1.3h-1.3zM267.3 115.4h1.3v1.3h-1.3zM281.3 126.0h1.3v1.3h-1.3zM276.5 115.8h1.3v1.3h-1.3zM268.5 122.4h1.3v1.3h-1.3zM278.5 127.5h1.3v1.3h-1.3zM271.8 118.6h1.3v1.3h-1.3zM274.1 123.9h1.3v1.3h-1.3zM272.3 119.7h1.3v1.3h-1.3zM282.3 131.3h1.3v1.3h-1.3zM279.7 124.5h1.3v1.3h-1.3zM273.9 127.1h1.3v1.3h-1.3zM265.8 120.7h1.3v1.3h-1.3zM269.9 131.5h1.3v1.3h-1.3zM284.4 126.1h1.3v1.3h-1.3zM276.5 118.8h1.3v1.3h-1.3zM278.8 125.3h1.3v1.3h-1.3zM284.3 134.2h1.3v1.3h-1.3zM271.0 150.9h1.3v1.3h-1.3zM264.2 141.8h1.3v1.3h-1.3zM270.2 134.4h1.3v1.3h-1.3zM278.7 136.8h1.3v1.3h-1.3zM272.7 132.1h1.3v1.3h-1.3zM273.0 141.1h1.3v1.3h-1.3zM283.5 142.9h1.3v1.3h-1.3zM272.1 150.8h1.3v1.3h-1.3zM270.1 137.1h1.3v1.3h-1.3zM273.1 147.3h1.3v1.3h-1.3zM285.5 144.4h1.3v1.3h-1.3zM266.0 140.0h1.3v1.3h-1.3zM278.4 144.2h1.3v1.3h-1.3zM271.7 135.9h1.3v1.3h-1.3zM272.1 136.0h1.3v1.3h-1.3zM273.9 135.4h1.3v1.3h-1.3zM271.8 137.7h1.3v1.3h-1.3zM281.1 141.8h1.3v1.3h-1.3zM262.8 146.2h1.3v1.3h-1.3zM270.3 133.1h1.3v1.3h-1.3zM265.9 148.1h1.3v1.3h-1.3zM259.2 136.9h1.3v1.3h-1.3zM270.9 133.9h1.3v1.3h-1.3zM285.3 142.2h1.3v1.3h-1.3zM273.0 134.9h1.3v1.3h-1.3zM262.8 149.1h1.3v1.3h-1.3zM268.9 138.3h1.3v1.3h-1.3zM279.7 143.0h1.3v1.3h-1.3zM269.1 149.6h1.3v1.3h-1.3zM273.8 132.2h1.3v1.3h-1.3zM282.3 149.9h1.3v1.3h-1.3zM271.6 142.2h1.3v1.3h-1.3zM266.0 130.0h1.3v1.3h-1.3zM268.9 133.4h1.3v1.3h-1.3zM271.2 138.0h1.3v1.3h-1.3zM272.6 139.4h1.3v1.3h-1.3zM258.4 134.0h1.3v1.3h-1.3zM279.1 133.6h1.3v1.3h-1.3zM272.3 138.1h1.3v1.3h-1.3zM272.7 146.4h1.3v1.3h-1.3zM274.9 131.7h1.3v1.3h-1.3zM275.3 142.7h1.3v1.3h-1.3zM263.0 146.3h1.3v1.3h-1.3zM271.7 140.9h1.3v1.3h-1.3zM286.6 147.4h1.3v1.3h-1.3zM263.8 146.5h1.3v1.3h-1.3zM270.5 137.5h1.3v1.3h-1.3zM272.2 147.1h1.3v1.3h-1.3zM275.3 150.1h1.3v1.3h-1.3zM266.5 150.4h1.3v1.3h-1.3zM255.0 131.1h1.3v1.3h-1.3zM273.6 132.1h1.3v1.3h-1.3zM271.6 134.1h1.3v1.3h-1.3zM277.6 139.4h1.3v1.3h-1.3zM276.4 145.8h1.3v1.3h-1.3zM264.5 130.7h1.3v1.3h-1.3zM283.9 143.4h1.3v1.3h-1.3zM269.5 138.5h1.3v1.3h-1.3zM267.4 135.9h1.3v1.3h-1.3zM263.8 150.3h1.3v1.3h-1.3zM267.9 148.3h1.3v1.3h-1.3zM269.7 143.2h1.3v1.3h-1.3zM279.9 143.4h1.3v1.3h-1.3zM264.2 137.4h1.3v1.3h-1.3zM276.2 143.6h1.3v1.3h-1.3zM276.2 135.8h1.3v1.3h-1.3zM273.0 151.2h1.3v1.3h-1.3zM267.9 147.0h1.3v1.3h-1.3zM274.8 138.7h1.3v1.3h-1.3zM271.2 151.2h1.3v1.3h-1.3zM273.1 136.0h1.3v1.3h-1.3zM291.0 126.6h1.3v1.3h-1.3zM297.7 120.9h1.3v1.3h-1.3zM286.8 117.8h1.3v1.3h-1.3zM288.5 124.6h1.3v1.3h-1.3zM260.2 112.8h1.3v1.3h-1.3zM273.5 117.8h1.3v1.3h-1.3zM298.8 146.9h1.3v1.3h-1.3z" fill="#000" fill-opacity="0.55"/>
<path d="M353.8 146.6h1.3v1.3h-1.3zM354.8 141.8h1.3v1.3h-1.3zM365.1 145.4h1.3v1.3h-1.3zM364.1 148.7h1.3v1.3h-1.3zM355.0 147.2h1.3v1.3h-1.3zM354.6 143.1h1.3v1.3h-1.3zM363.7 143.3h1.3v1.3h-1.3zM347.9 147.8h1.3v1.3h-1.3zM362.4 142.3h1.3v1.3h-1.3zM360.4 147.8h1.3v1.3h-1.3zM368.6 149.2h1.3v1.3h-1.3zM357.6 151.3h1.3v1.3h-1.3zM349.5 147.8h1.3v1.3h-1.3zM372.9 136.7h1.3v1.3h-1.3zM358.7 147.0h1.3v1.3h-1.3zM355.7 149.6h1.3v1.3h-1.3zM368.9 151.0h1.3v1.3h-1.3zM348.0 147.4h1.3v1.3h-1.3zM362.5 143.2h1.3v1.3h-1.3zM354.4 146.4h1.3v1.3h-1.3zM350.5 145.8h1.3v1.3h-1.3zM362.8 148.2h1.3v1.3h-1.3zM358.6 137.9h1.3v1.3h-1.3zM350.9 149.2h1.3v1.3h-1.3zM355.2 151.3h1.3v1.3h-1.3zM360.5 148.6h1.3v1.3h-1.3zM358.8 151.4h1.3v1.3h-1.3zM353.3 150.3h1.3v1.3h-1.3zM362.9 143.2h1.3v1.3h-1.3zM354.4 145.1h1.3v1.3h-1.3zM352.6 145.0h1.3v1.3h-1.3zM354.2 150.6h1.3v1.3h-1.3zM363.0 149.2h1.3v1.3h-1.3zM361.1 141.7h1.3v1.3h-1.3zM360.8 146.9h1.3v1.3h-1.3zM368.6 149.9h1.3v1.3h-1.3zM358.2 151.9h1.3v1.3h-1.3zM360.5 146.7h1.3v1.3h-1.3zM369.5 143.4h1.3v1.3h-1.3zM355.9 149.8h1.3v1.3h-1.3zM359.1 141.8h1.3v1.3h-1.3zM365.5 140.8h1.3v1.3h-1.3zM359.8 145.4h1.3v1.3h-1.3zM373.8 143.2h1.3v1.3h-1.3zM358.3 149.7h1.3v1.3h-1.3zM354.7 145.7h1.3v1.3h-1.3zM356.3 149.7h1.3v1.3h-1.3zM366.4 140.6h1.3v1.3h-1.3zM357.3 138.4h1.3v1.3h-1.3zM357.4 145.6h1.3v1.3h-1.3zM358.8 147.7h1.3v1.3h-1.3zM353.3 144.4h1.3v1.3h-1.3zM360.4 148.9h1.3v1.3h-1.3zM359.0 145.0h1.3v1.3h-1.3zM356.4 150.3h1.3v1.3h-1.3zM365.0 152.0h1.3v1.3h-1.3zM367.7 143.9h1.3v1.3h-1.3zM355.5 149.8h1.3v1.3h-1.3zM352.6 145.7h1.3v1.3h-1.3zM363.8 151.9h1.3v1.3h-1.3zM360.1 150.9h1.3v1.3h-1.3zM351.6 149.3h1.3v1.3h-1.3zM361.5 143.4h1.3v1.3h-1.3zM353.5 143.0h1.3v1.3h-1.3zM344.1 148.3h1.3v1.3h-1.3zM374.6 145.0h1.3v1.3h-1.3zM364.4 152.2h1.3v1.3h-1.3zM346.9 151.0h1.3v1.3h-1.3zM368.1 148.9h1.3v1.3h-1.3zM362.2 144.4h1.3v1.3h-1.3zM358.7 150.4h1.3v1.3h-1.3zM354.8 146.4h1.3v1.3h-1.3zM367.8 137.8h1.3v1.3h-1.3zM368.0 143.5h1.3v1.3h-1.3zM355.3 146.3h1.3v1.3h-1.3zM360.9 150.0h1.3v1.3h-1.3zM358.8 148.2h1.3v1.3h-1.3zM350.9 148.3h1.3v1.3h-1.3zM359.8 147.6h1.3v1.3h-1.3zM352.8 145.2h1.3v1.3h-1.3zM360.7 142.0h1.3v1.3h-1.3zM373.5 145.4h1.3v1.3h-1.3zM352.5 151.7h1.3v1.3h-1.3zM360.3 150.3h1.3v1.3h-1.3zM356.9 146.3h1.3v1.3h-1.3zM349.9 144.7h1.3v1.3h-1.3zM349.4 150.7h1.3v1.3h-1.3zM363.8 144.3h1.3v1.3h-1.3zM360.9 147.7h1.3v1.3h-1.3zM369.7 147.2h1.3v1.3h-1.3zM370.3 151.2h1.3v1.3h-1.3zM350.9 147.8h1.3v1.3h-1.3zM349.7 145.8h1.3v1.3h-1.3zM363.9 149.6h1.3v1.3h-1.3zM367.0 132.5h1.3v1.3h-1.3zM369.7 149.1h1.3v1.3h-1.3zM366.8 149.8h1.3v1.3h-1.3zM363.9 147.5h1.3v1.3h-1.3zM349.5 139.7h1.3v1.3h-1.3zM362.1 144.8h1.3v1.3h-1.3zM372.4 143.3h1.3v1.3h-1.3zM380.4 144.1h1.3v1.3h-1.3zM360.2 145.0h1.3v1.3h-1.3zM363.0 146.3h1.3v1.3h-1.3zM378.8 134.3h1.3v1.3h-1.3zM369.5 142.5h1.3v1.3h-1.3zM360.4 136.6h1.3v1.3h-1.3zM353.5 150.3h1.3v1.3h-1.3zM367.3 144.4h1.3v1.3h-1.3zM351.6 147.4h1.3v1.3h-1.3zM370.4 134.4h1.3v1.3h-1.3zM369.3 144.4h1.3v1.3h-1.3zM362.2 149.1h1.3v1.3h-1.3zM353.6 146.7h1.3v1.3h-1.3zM350.2 149.3h1.3v1.3h-1.3zM367.5 137.9h1.3v1.3h-1.3zM371.7 148.6h1.3v1.3h-1.3zM362.7 152.4h1.3v1.3h-1.3zM352.6 147.8h1.3v1.3h-1.3zM372.9 144.4h1.3v1.3h-1.3zM354.7 144.1h1.3v1.3h-1.3zM348.0 150.9h1.3v1.3h-1.3zM352.7 146.3h1.3v1.3h-1.3zM372.2 150.6h1.3v1.3h-1.3zM378.7 138.4h1.3v1.3h-1.3zM374.6 151.7h1.3v1.3h-1.3zM381.4 131.0h1.3v1.3h-1.3zM379.6 145.4h1.3v1.3h-1.3zM348.5 144.4h1.3v1.3h-1.3zM373.4 151.8h1.3v1.3h-1.3zM378.8 148.4h1.3v1.3h-1.3zM371.4 134.1h1.3v1.3h-1.3zM359.8 144.4h1.3v1.3h-1.3zM352.8 149.8h1.3v1.3h-1.3zM354.0 145.5h1.3v1.3h-1.3zM363.7 147.7h1.3v1.3h-1.3zM376.5 146.1h1.3v1.3h-1.3zM370.5 140.3h1.3v1.3h-1.3zM367.9 147.9h1.3v1.3h-1.3zM363.2 149.3h1.3v1.3h-1.3zM367.6 150.8h1.3v1.3h-1.3zM368.7 150.5h1.3v1.3h-1.3zM380.8 140.1h1.3v1.3h-1.3zM367.8 145.4h1.3v1.3h-1.3zM375.5 151.7h1.3v1.3h-1.3zM361.1 147.4h1.3v1.3h-1.3zM373.2 143.9h1.3v1.3h-1.3zM354.0 146.1h1.3v1.3h-1.3zM360.6 148.1h1.3v1.3h-1.3zM379.0 149.1h1.3v1.3h-1.3zM350.8 151.1h1.3v1.3h-1.3zM357.4 142.7h1.3v1.3h-1.3zM362.5 144.1h1.3v1.3h-1.3zM348.9 148.5h1.3v1.3h-1.3zM367.1 151.6h1.3v1.3h-1.3zM362.6 145.8h1.3v1.3h-1.3zM360.7 145.6h1.3v1.3h-1.3zM371.0 150.6h1.3v1.3h-1.3zM360.7 145.0h1.3v1.3h-1.3zM382.0 146.8h1.3v1.3h-1.3zM370.5 143.9h1.3v1.3h-1.3zM375.1 144.2h1.3v1.3h-1.3zM347.0 152.1h1.3v1.3h-1.3zM369.6 151.1h1.3v1.3h-1.3zM365.7 147.7h1.3v1.3h-1.3zM381.1 149.1h1.3v1.3h-1.3zM360.2 149.9h1.3v1.3h-1.3zM380.2 143.5h1.3v1.3h-1.3zM372.0 150.0h1.3v1.3h-1.3zM378.1 148.5h1.3v1.3h-1.3zM362.4 149.7h1.3v1.3h-1.3zM349.9 151.9h1.3v1.3h-1.3zM356.6 140.8h1.3v1.3h-1.3zM347.9 152.0h1.3v1.3h-1.3zM380.4 139.6h1.3v1.3h-1.3zM380.2 140.7h1.3v1.3h-1.3zM378.5 134.2h1.3v1.3h-1.3zM377.0 138.2h1.3v1.3h-1.3zM380.9 137.6h1.3v1.3h-1.3zM336.9 112.6h1.3v1.3h-1.3zM358.8 133.8h1.3v1.3h-1.3z" fill="#000" fill-opacity="0.55"/>
<path d="M349.3 143.4h1.3v1.3h-1.3zM357.9 152.0h1.3v1.3h-1.3zM362.0 147.2h1.3v1.3h-1.3zM356.7 149.1h1.3v1.3h-1.3zM347.7 145.7h1.3v1.3h-1.3zM364.8 142.8h1.3v1.3h-1.3zM351.1 145.4h1.3v1.3h-1.3zM377.1 137.3h1.3v1.3h-1.3zM351.7 146.1h1.3v1.3h-1.3zM348.5 142.1h1.3v1.3h-1.3zM361.5 147.3h1.3v1.3h-1.3zM362.7 147.8h1.3v1.3h-1.3zM358.3 152.4h1.3v1.3h-1.3zM353.2 150.1h1.3v1.3h-1.3zM350.4 152.3h1.3v1.3h-1.3zM350.0 138.2h1.3v1.3h-1.3zM353.7 147.2h1.3v1.3h-1.3zM369.0 143.8h1.3v1.3h-1.3zM345.8 136.2h1.3v1.3h-1.3zM368.0 144.5h1.3v1.3h-1.3zM344.6 149.6h1.3v1.3h-1.3zM361.7 143.4h1.3v1.3h-1.3zM347.6 151.7h1.3v1.3h-1.3zM361.7 152.3h1.3v1.3h-1.3zM351.4 150.0h1.3v1.3h-1.3zM354.2 145.0h1.3v1.3h-1.3zM355.8 142.3h1.3v1.3h-1.3zM353.4 147.1h1.3v1.3h-1.3zM365.9 145.2h1.3v1.3h-1.3zM355.7 145.7h1.3v1.3h-1.3zM361.8 146.8h1.3v1.3h-1.3zM353.5 147.9h1.3v1.3h-1.3zM360.7 144.3h1.3v1.3h-1.3zM353.4 151.3h1.3v1.3h-1.3zM363.8 150.1h1.3v1.3h-1.3zM361.0 146.1h1.3v1.3h-1.3zM362.3 138.0h1.3v1.3h-1.3zM358.2 148.0h1.3v1.3h-1.3zM361.7 148.5h1.3v1.3h-1.3zM353.6 149.9h1.3v1.3h-1.3zM359.9 138.0h1.3v1.3h-1.3zM358.0 147.6h1.3v1.3h-1.3zM356.6 134.6h1.3v1.3h-1.3zM359.6 149.1h1.3v1.3h-1.3zM357.7 148.0h1.3v1.3h-1.3zM355.9 142.5h1.3v1.3h-1.3zM352.0 148.3h1.3v1.3h-1.3zM353.1 144.3h1.3v1.3h-1.3zM357.4 148.9h1.3v1.3h-1.3zM354.9 145.5h1.3v1.3h-1.3zM367.8 147.8h1.3v1.3h-1.3zM354.7 149.7h1.3v1.3h-1.3zM369.0 145.7h1.3v1.3h-1.3zM353.7 147.0h1.3v1.3h-1.3zM355.0 135.3h1.3v1.3h-1.3zM363.6 142.4h1.3v1.3h-1.3zM348.4 151.3h1.3v1.3h-1.3zM348.4 150.1h1.3v1.3h-1.3zM353.0 147.9h1.3v1.3h-1.3zM345.3 152.1h1.3v1.3h-1.3zM355.6 147.7h1.3v1.3h-1.3zM344.3 148.7h1.3v1.3h-1.3zM358.6 142.1h1.3v1.3h-1.3zM359.9 151.7h1.3v1.3h-1.3zM361.2 152.3h1.3v1.3h-1.3zM368.8 147.2h1.3v1.3h-1.3zM352.4 143.7h1.3v1.3h-1.3zM367.8 144.9h1.3v1.3h-1.3zM349.3 151.6h1.3v1.3h-1.3zM352.7 136.7h1.3v1.3h-1.3zM356.2 150.0h1.3v1.3h-1.3zM355.8 137.2h1.3v1.3h-1.3zM369.1 147.2h1.3v1.3h-1.3zM362.5 149.4h1.3v1.3h-1.3zM367.8 147.4h1.3v1.3h-1.3zM377.4 151.6h1.3v1.3h-1.3zM363.8 150.3h1.3v1.3h-1.3zM357.0 145.0h1.3v1.3h-1.3zM361.3 149.0h1.3v1.3h-1.3zM354.8 140.8h1.3v1.3h-1.3zM357.8 149.8h1.3v1.3h-1.3zM344.9 145.5h1.3v1.3h-1.3zM362.3 150.6h1.3v1.3h-1.3zM362.2 143.1h1.3v1.3h-1.3zM356.5 150.2h1.3v1.3h-1.3zM362.3 140.6h1.3v1.3h-1.3zM356.8 150.8h1.3v1.3h-1.3zM356.7 133.3h1.3v1.3h-1.3zM357.1 152.2h1.3v1.3h-1.3zM344.0 148.9h1.3v1.3h-1.3zM359.9 151.3h1.3v1.3h-1.3zM356.2 149.4h1.3v1.3h-1.3zM360.7 146.1h1.3v1.3h-1.3zM351.8 144.0h1.3v1.3h-1.3zM366.9 133.6h1.3v1.3h-1.3zM355.2 146.3h1.3v1.3h-1.3zM349.1 148.8h1.3v1.3h-1.3zM371.3 151.7h1.3v1.3h-1.3zM353.6 150.8h1.3v1.3h-1.3zM356.7 148.6h1.3v1.3h-1.3zM364.8 149.5h1.3v1.3h-1.3zM368.6 149.6h1.3v1.3h-1.3zM348.4 145.9h1.3v1.3h-1.3zM372.6 152.1h1.3v1.3h-1.3zM352.8 144.0h1.3v1.3h-1.3zM364.1 142.3h1.3v1.3h-1.3zM366.7 150.5h1.3v1.3h-1.3zM364.5 147.9h1.3v1.3h-1.3zM365.0 147.2h1.3v1.3h-1.3zM360.5 145.5h1.3v1.3h-1.3zM359.0 140.0h1.3v1.3h-1.3zM349.1 146.2h1.3v1.3h-1.3zM369.5 141.4h1.3v1.3h-1.3zM366.0 150.8h1.3v1.3h-1.3zM372.9 147.3h1.3v1.3h-1.3zM360.1 139.8h1.3v1.3h-1.3zM348.1 148.7h1.3v1.3h-1.3zM376.6 151.2h1.3v1.3h-1.3zM359.4 151.7h1.3v1.3h-1.3zM352.6 151.7h1.3v1.3h-1.3zM359.4 150.6h1.3v1.3h-1.3zM364.0 149.7h1.3v1.3h-1.3zM357.6 138.8h1.3v1.3h-1.3zM365.0 149.6h1.3v1.3h-1.3zM355.9 151.6h1.3v1.3h-1.3zM363.9 150.1h1.3v1.3h-1.3zM348.7 151.6h1.3v1.3h-1.3zM367.8 150.3h1.3v1.3h-1.3zM360.2 149.0h1.3v1.3h-1.3zM350.3 145.1h1.3v1.3h-1.3zM350.7 150.0h1.3v1.3h-1.3zM376.7 126.0h1.3v1.3h-1.3zM378.2 151.8h1.3v1.3h-1.3zM354.7 151.6h1.3v1.3h-1.3zM376.4 142.1h1.3v1.3h-1.3zM379.4 150.8h1.3v1.3h-1.3zM350.8 146.4h1.3v1.3h-1.3zM348.9 146.2h1.3v1.3h-1.3zM367.9 147.7h1.3v1.3h-1.3zM372.0 139.4h1.3v1.3h-1.3zM378.5 144.2h1.3v1.3h-1.3zM376.7 145.2h1.3v1.3h-1.3zM380.8 129.6h1.3v1.3h-1.3zM376.6 143.4h1.3v1.3h-1.3zM350.0 138.6h1.3v1.3h-1.3zM359.8 146.9h1.3v1.3h-1.3zM350.3 144.8h1.3v1.3h-1.3zM347.1 146.5h1.3v1.3h-1.3zM377.5 146.3h1.3v1.3h-1.3zM356.5 145.2h1.3v1.3h-1.3zM360.4 147.1h1.3v1.3h-1.3zM364.2 150.6h1.3v1.3h-1.3zM378.0 152.1h1.3v1.3h-1.3zM371.3 148.5h1.3v1.3h-1.3zM369.7 142.4h1.3v1.3h-1.3zM363.4 152.0h1.3v1.3h-1.3zM369.4 149.9h1.3v1.3h-1.3zM360.2 140.6h1.3v1.3h-1.3zM381.3 137.5h1.3v1.3h-1.3zM379.0 134.5h1.3v1.3h-1.3zM375.0 141.6h1.3v1.3h-1.3zM378.7 132.8h1.3v1.3h-1.3zM376.7 138.8h1.3v1.3h-1.3zM376.6 140.8h1.3v1.3h-1.3zM381.5 137.6h1.3v1.3h-1.3zM357.5 132.6h1.3v1.3h-1.3z" fill="#000" fill-opacity="0.55"/>
<path d="M365.0 144.5h1.3v1.3h-1.3zM356.2 149.7h1.3v1.3h-1.3zM360.2 144.5h1.3v1.3h-1.3zM369.5 149.4h1.3v1.3h-1.3zM359.1 150.8h1.3v1.3h-1.3zM351.5 141.9h1.3v1.3h-1.3zM361.1 143.5h1.3v1.3h-1.3zM359.1 148.2h1.3v1.3h-1.3zM350.2 141.4h1.3v1.3h-1.3zM347.8 143.6h1.3v1.3h-1.3zM372.1 141.0h1.3v1.3h-1.3zM366.9 148.0h1.3v1.3h-1.3zM362.0 140.9h1.3v1.3h-1.3zM362.6 151.6h1.3v1.3h-1.3zM355.5 148.4h1.3v1.3h-1.3zM349.2 151.2h1.3v1.3h-1.3zM353.8 132.8h1.3v1.3h-1.3zM346.7 143.8h1.3v1.3h-1.3zM359.7 152.4h1.3v1.3h-1.3zM355.5 150.4h1.3v1.3h-1.3zM357.5 145.6h1.3v1.3h-1.3zM358.3 145.5h1.3v1.3h-1.3zM364.4 146.5h1.3v1.3h-1.3zM355.5 145.9h1.3v1.3h-1.3zM355.9 145.5h1.3v1.3h-1.3zM361.1 152.0h1.3v1.3h-1.3zM359.7 149.9h1.3v1.3h-1.3zM357.9 139.4h1.3v1.3h-1.3zM349.5 146.7h1.3v1.3h-1.3zM367.4 135.3h1.3v1.3h-1.3zM374.5 142.5h1.3v1.3h-1.3zM351.1 145.6h1.3v1.3h-1.3zM355.2 145.4h1.3v1.3h-1.3zM352.5 146.8h1.3v1.3h-1.3zM359.9 151.2h1.3v1.3h-1.3zM362.2 148.3h1.3v1.3h-1.3zM369.5 140.9h1.3v1.3h-1.3zM355.5 148.3h1.3v1.3h-1.3zM359.5 151.6h1.3v1.3h-1.3zM349.3 139.0h1.3v1.3h-1.3zM372.7 145.9h1.3v1.3h-1.3zM369.4 140.6h1.3v1.3h-1.3zM351.8 140.8h1.3v1.3h-1.3zM363.1 152.0h1.3v1.3h-1.3zM374.0 151.8h1.3v1.3h-1.3zM366.1 141.2h1.3v1.3h-1.3zM364.9 151.5h1.3v1.3h-1.3zM355.0 149.5h1.3v1.3h-1.3zM360.3 142.8h1.3v1.3h-1.3zM369.7 144.8h1.3v1.3h-1.3zM367.0 152.1h1.3v1.3h-1.3zM351.9 148.1h1.3v1.3h-1.3zM361.1 144.4h1.3v1.3h-1.3zM366.9 147.9h1.3v1.3h-1.3zM361.6 138.3h1.3v1.3h-1.3zM360.3 144.8h1.3v1.3h-1.3zM352.1 138.7h1.3v1.3h-1.3zM352.7 146.6h1.3v1.3h-1.3zM350.7 127.1h1.3v1.3h-1.3zM357.0 152.1h1.3v1.3h-1.3zM367.2 142.5h1.3v1.3h-1.3zM359.9 143.6h1.3v1.3h-1.3zM344.4 147.8h1.3v1.3h-1.3zM379.1 149.2h1.3v1.3h-1.3zM364.0 140.2h1.3v1.3h-1.3zM362.4 146.2h1.3v1.3h-1.3zM354.7 143.8h1.3v1.3h-1.3zM355.0 151.1h1.3v1.3h-1.3zM353.8 150.4h1.3v1.3h-1.3zM354.8 150.2h1.3v1.3h-1.3zM348.9 145.9h1.3v1.3h-1.3zM362.5 152.1h1.3v1.3h-1.3zM364.4 151.9h1.3v1.3h-1.3zM355.8 145.3h1.3v1.3h-1.3zM348.8 136.3h1.3v1.3h-1.3zM348.8 145.0h1.3v1.3h-1.3zM350.4 151.4h1.3v1.3h-1.3zM352.5 141.8h1.3v1.3h-1.3zM357.3 151.3h1.3v1.3h-1.3zM373.2 150.1h1.3v1.3h-1.3zM363.1 147.5h1.3v1.3h-1.3zM373.6 145.7h1.3v1.3h-1.3zM376.8 150.5h1.3v1.3h-1.3zM348.9 144.0h1.3v1.3h-1.3zM367.2 138.6h1.3v1.3h-1.3zM375.4 144.9h1.3v1.3h-1.3zM381.0 145.3h1.3v1.3h-1.3zM373.4 148.9h1.3v1.3h-1.3zM374.4 147.3h1.3v1.3h-1.3zM358.7 140.3h1.3v1.3h-1.3zM348.2 149.8h1.3v1.3h-1.3zM367.0 139.4h1.3v1.3h-1.3zM370.7 146.1h1.3v1.3h-1.3zM365.4 143.7h1.3v1.3h-1.3zM359.8 147.2h1.3v1.3h-1.3zM376.8 146.6h1.3v1.3h-1.3zM380.9 146.2h1.3v1.3h-1.3zM353.0 152.1h1.3v1.3h-1.3zM369.4 145.3h1.3v1.3h-1.3zM348.5 150.2h1.3v1.3h-1.3zM373.4 139.3h1.3v1.3h-1.3zM364.4 140.5h1.3v1.3h-1.3zM357.5 144.5h1.3v1.3h-1.3zM374.6 149.8h1.3v1.3h-1.3zM356.9 145.3h1.3v1.3h-1.3zM377.6 151.4h1.3v1.3h-1.3zM364.1 141.1h1.3v1.3h-1.3zM355.8 151.9h1.3v1.3h-1.3zM379.8 152.1h1.3v1.3h-1.3zM372.2 145.0h1.3v1.3h-1.3zM371.0 137.6h1.3v1.3h-1.3zM372.9 138.8h1.3v1.3h-1.3zM372.7 148.0h1.3v1.3h-1.3zM380.8 141.2h1.3v1.3h-1.3zM373.5 147.0h1.3v1.3h-1.3zM362.3 143.8h1.3v1.3h-1.3zM355.9 147.5h1.3v1.3h-1.3zM379.5 148.7h1.3v1.3h-1.3zM357.8 140.4h1.3v1.3h-1.3zM369.9 139.9h1.3v1.3h-1.3zM368.2 145.2h1.3v1.3h-1.3zM377.1 147.2h1.3v1.3h-1.3zM347.8 149.8h1.3v1.3h-1.3zM370.3 148.8h1.3v1.3h-1.3zM351.4 143.7h1.3v1.3h-1.3zM369.5 150.2h1.3v1.3h-1.3zM373.2 142.8h1.3v1.3h-1.3zM349.9 145.6h1.3v1.3h-1.3zM373.6 145.2h1.3v1.3h-1.3zM358.1 150.9h1.3v1.3h-1.3zM378.0 152.1h1.3v1.3h-1.3zM357.2 143.7h1.3v1.3h-1.3zM361.2 147.5h1.3v1.3h-1.3zM347.7 149.4h1.3v1.3h-1.3zM359.4 147.3h1.3v1.3h-1.3zM364.7 146.2h1.3v1.3h-1.3zM361.3 150.4h1.3v1.3h-1.3zM378.7 136.7h1.3v1.3h-1.3zM378.9 150.8h1.3v1.3h-1.3zM348.1 152.2h1.3v1.3h-1.3zM349.4 145.3h1.3v1.3h-1.3zM359.5 150.3h1.3v1.3h-1.3zM356.2 145.9h1.3v1.3h-1.3zM359.0 142.4h1.3v1.3h-1.3zM358.7 146.1h1.3v1.3h-1.3zM377.3 152.0h1.3v1.3h-1.3zM379.6 143.2h1.3v1.3h-1.3zM378.4 143.1h1.3v1.3h-1.3zM375.8 147.7h1.3v1.3h-1.3zM353.6 146.9h1.3v1.3h-1.3zM347.4 143.4h1.3v1.3h-1.3zM373.2 149.7h1.3v1.3h-1.3zM361.3 141.3h1.3v1.3h-1.3zM352.1 146.5h1.3v1.3h-1.3zM355.4 146.3h1.3v1.3h-1.3zM367.4 151.9h1.3v1.3h-1.3zM375.6 143.7h1.3v1.3h-1.3zM357.2 142.0h1.3v1.3h-1.3zM361.3 147.6h1.3v1.3h-1.3zM377.6 140.1h1.3v1.3h-1.3zM379.9 141.0h1.3v1.3h-1.3zM378.9 136.9h1.3v1.3h-1.3zM377.8 140.0h1.3v1.3h-1.3zM376.5 137.4h1.3v1.3h-1.3z" fill="#000" fill-opacity="0.55"/>
<path d="M353.8 144.4h1.3v1.3h-1.3zM362.2 150.6h1.3v1.3h-1.3zM351.8 146.0h1.3v1.3h-1.3zM358.0 150.8h1.3v1.3h-1.3zM358.0 139.5h1.3v1.3h-1.3zM356.7 141.7h1.3v1.3h-1.3zM344.7 150.7h1.3v1.3h-1.3zM358.3 147.4h1.3v1.3h-1.3zM352.1 149.0h1.3v1.3h-1.3zM354.4 150.0h1.3v1.3h-1.3zM353.1 147.6h1.3v1.3h-1.3zM361.8 139.5h1.3v1.3h-1.3zM365.1 150.3h1.3v1.3h-1.3zM358.1 152.0h1.3v1.3h-1.3zM362.3 145.6h1.3v1.3h-1.3zM357.0 145.1h1.3v1.3h-1.3zM352.1 144.2h1.3v1.3h-1.3zM362.6 138.1h1.3v1.3h-1.3zM359.3 147.9h1.3v1.3h-1.3zM361.4 150.2h1.3v1.3h-1.3zM351.9 129.3h1.3v1.3h-1.3zM346.8 149.5h1.3v1.3h-1.3zM353.9 144.4h1.3v1.3h-1.3zM346.1 139.5h1.3v1.3h-1.3zM369.0 146.7h1.3v1.3h-1.3zM356.9 138.2h1.3v1.3h-1.3zM351.1 146.3h1.3v1.3h-1.3zM353.6 148.3h1.3v1.3h-1.3zM358.8 151.8h1.3v1.3h-1.3zM363.9 152.1h1.3v1.3h-1.3zM352.2 146.1h1.3v1.3h-1.3zM356.4 141.2h1.3v1.3h-1.3zM366.3 152.3h1.3v1.3h-1.3zM353.1 145.8h1.3v1.3h-1.3zM348.3 149.3h1.3v1.3h-1.3zM350.8 151.7h1.3v1.3h-1.3zM352.4 149.0h1.3v1.3h-1.3zM359.3 146.4h1.3v1.3h-1.3zM350.7 147.9h1.3v1.3h-1.3zM356.6 145.4h1.3v1.3h-1.3zM354.2 148.0h1.3v1.3h-1.3zM356.6 140.8h1.3v1.3h-1.3zM352.1 149.2h1.3v1.3h-1.3zM357.2 151.6h1.3v1.3h-1.3zM357.7 143.7h1.3v1.3h-1.3zM363.9 142.1h1.3v1.3h-1.3zM354.4 146.9h1.3v1.3h-1.3zM345.2 149.8h1.3v1.3h-1.3zM364.5 151.6h1.3v1.3h-1.3zM358.2 145.6h1.3v1.3h-1.3zM356.2 147.9h1.3v1.3h-1.3zM353.6 141.2h1.3v1.3h-1.3zM364.3 150.9h1.3v1.3h-1.3zM360.6 139.7h1.3v1.3h-1.3zM361.4 143.5h1.3v1.3h-1.3zM349.5 129.2h1.3v1.3h-1.3zM350.2 145.0h1.3v1.3h-1.3zM360.7 146.2h1.3v1.3h-1.3zM353.1 146.8h1.3v1.3h-1.3zM357.0 141.7h1.3v1.3h-1.3zM362.3 141.6h1.3v1.3h-1.3zM361.5 149.5h1.3v1.3h-1.3zM352.5 151.7h1.3v1.3h-1.3zM350.7 144.0h1.3v1.3h-1.3zM361.0 146.6h1.3v1.3h-1.3zM354.0 143.5h1.3v1.3h-1.3zM356.8 147.0h1.3v1.3h-1.3zM351.4 146.6h1.3v1.3h-1.3zM374.1 151.1h1.3v1.3h-1.3zM369.7 138.2h1.3v1.3h-1.3zM356.0 149.2h1.3v1.3h-1.3zM362.5 128.8h1.3v1.3h-1.3zM355.4 141.5h1.3v1.3h-1.3zM360.2 142.8h1.3v1.3h-1.3zM360.4 145.1h1.3v1.3h-1.3zM358.1 149.8h1.3v1.3h-1.3zM361.6 144.7h1.3v1.3h-1.3zM361.6 149.9h1.3v1.3h-1.3zM344.1 139.7h1.3v1.3h-1.3zM370.2 150.2h1.3v1.3h-1.3zM352.4 133.9h1.3v1.3h-1.3zM361.3 148.6h1.3v1.3h-1.3zM362.9 146.5h1.3v1.3h-1.3zM366.0 143.8h1.3v1.3h-1.3zM348.4 137.4h1.3v1.3h-1.3zM348.3 145.7h1.3v1.3h-1.3zM349.9 143.2h1.3v1.3h-1.3zM359.3 144.3h1.3v1.3h-1.3zM358.5 151.3h1.3v1.3h-1.3zM356.3 146.2h1.3v1.3h-1.3zM355.5 150.2h1.3v1.3h-1.3zM356.5 145.5h1.3v1.3h-1.3zM357.3 151.2h1.3v1.3h-1.3zM362.6 148.7h1.3v1.3h-1.3zM356.9 146.1h1.3v1.3h-1.3zM351.6 148.6h1.3v1.3h-1.3zM351.9 143.0h1.3v1.3h-1.3zM381.9 146.9h1.3v1.3h-1.3zM358.5 148.5h1.3v1.3h-1.3zM381.9 144.0h1.3v1.3h-1.3zM361.0 140.3h1.3v1.3h-1.3zM367.9 145.1h1.3v1.3h-1.3zM369.5 143.4h1.3v1.3h-1.3zM376.1 147.3h1.3v1.3h-1.3zM381.6 150.7h1.3v1.3h-1.3zM347.1 147.9h1.3v1.3h-1.3zM371.0 134.4h1.3v1.3h-1.3zM348.7 150.0h1.3v1.3h-1.3zM361.2 144.4h1.3v1.3h-1.3zM359.1 134.3h1.3v1.3h-1.3zM363.0 145.5h1.3v1.3h-1.3zM360.8 148.4h1.3v1.3h-1.3zM375.0 151.1h1.3v1.3h-1.3zM356.2 140.6h1.3v1.3h-1.3zM350.5 150.2h1.3v1.3h-1.3zM381.4 147.7h1.3v1.3h-1.3zM365.8 148.3h1.3v1.3h-1.3zM366.0 143.3h1.3v1.3h-1.3zM358.7 147.8h1.3v1.3h-1.3zM349.5 149.2h1.3v1.3h-1.3zM357.2 149.1h1.3v1.3h-1.3zM380.2 130.0h1.3v1.3h-1.3zM362.0 137.9h1.3v1.3h-1.3zM347.8 149.1h1.3v1.3h-1.3zM372.7 138.1h1.3v1.3h-1.3zM375.1 141.0h1.3v1.3h-1.3zM375.4 141.2h1.3v1.3h-1.3zM369.4 146.5h1.3v1.3h-1.3zM381.5 149.8h1.3v1.3h-1.3zM378.6 151.5h1.3v1.3h-1.3zM353.9 146.1h1.3v1.3h-1.3zM363.6 144.6h1.3v1.3h-1.3zM379.8 147.1h1.3v1.3h-1.3zM358.7 152.0h1.3v1.3h-1.3zM348.8 141.5h1.3v1.3h-1.3zM376.7 142.3h1.3v1.3h-1.3zM381.9 151.2h1.3v1.3h-1.3zM359.9 148.8h1.3v1.3h-1.3zM368.6 151.9h1.3v1.3h-1.3zM350.4 151.3h1.3v1.3h-1.3zM371.5 140.9h1.3v1.3h-1.3zM381.0 150.3h1.3v1.3h-1.3zM354.6 149.5h1.3v1.3h-1.3zM356.7 149.2h1.3v1.3h-1.3zM372.0 147.4h1.3v1.3h-1.3zM362.5 150.0h1.3v1.3h-1.3zM355.1 146.1h1.3v1.3h-1.3zM378.7 151.4h1.3v1.3h-1.3zM366.9 141.6h1.3v1.3h-1.3zM371.2 146.7h1.3v1.3h-1.3zM371.9 138.9h1.3v1.3h-1.3zM381.1 151.0h1.3v1.3h-1.3zM359.9 151.7h1.3v1.3h-1.3zM356.4 147.2h1.3v1.3h-1.3zM380.3 149.0h1.3v1.3h-1.3zM376.4 139.3h1.3v1.3h-1.3zM348.1 148.9h1.3v1.3h-1.3zM375.5 138.0h1.3v1.3h-1.3zM376.8 151.9h1.3v1.3h-1.3zM363.5 145.7h1.3v1.3h-1.3zM369.9 138.4h1.3v1.3h-1.3zM368.0 148.7h1.3v1.3h-1.3zM355.8 148.4h1.3v1.3h-1.3zM375.3 135.0h1.3v1.3h-1.3zM380.7 134.5h1.3v1.3h-1.3zM378.4 142.7h1.3v1.3h-1.3zM379.9 133.5h1.3v1.3h-1.3zM378.9 138.6h1.3v1.3h-1.3z" fill="#000" fill-opacity="0.55"/>
<path d="M365.8 144.7h1.3v1.3h-1.3zM354.1 146.9h1.3v1.3h-1.3zM359.5 142.9h1.3v1.3h-1.3zM350.2 149.0h1.3v1.3h-1.3zM354.7 150.7h1.3v1.3h-1.3zM361.0 150.1h1.3v1.3h-1.3zM354.6 149.8h1.3v1.3h-1.3zM353.9 140.1h1.3v1.3h-1.3zM369.3 149.9h1.3v1.3h-1.3zM354.5 148.0h1.3v1.3h-1.3zM356.6 151.2h1.3v1.3h-1.3zM350.3 150.7h1.3v1.3h-1.3zM360.7 150.5h1.3v1.3h-1.3zM350.9 143.7h1.3v1.3h-1.3zM346.7 140.2h1.3v1.3h-1.3zM358.6 148.0h1.3v1.3h-1.3zM351.8 147.1h1.3v1.3h-1.3zM357.9 148.5h1.3v1.3h-1.3zM353.1 149.8h1.3v1.3h-1.3zM361.1 147.9h1.3v1.3h-1.3zM364.0 145.7h1.3v1.3h-1.3zM362.2 147.5h1.3v1.3h-1.3zM359.0 139.3h1.3v1.3h-1.3zM359.6 149.1h1.3v1.3h-1.3zM345.3 143.8h1.3v1.3h-1.3zM364.5 151.8h1.3v1.3h-1.3zM365.2 141.8h1.3v1.3h-1.3zM355.3 149.8h1.3v1.3h-1.3zM367.4 150.4h1.3v1.3h-1.3zM364.0 144.6h1.3v1.3h-1.3zM356.9 147.6h1.3v1.3h-1.3zM360.0 148.6h1.3v1.3h-1.3zM373.2 148.5h1.3v1.3h-1.3zM347.1 150.0h1.3v1.3h-1.3zM354.1 151.5h1.3v1.3h-1.3zM371.5 146.4h1.3v1.3h-1.3zM357.3 151.9h1.3v1.3h-1.3zM364.7 150.2h1.3v1.3h-1.3zM369.9 142.7h1.3v1.3h-1.3zM353.7 146.6h1.3v1.3h-1.3zM354.0 142.1h1.3v1.3h-1.3zM367.9 141.3h1.3v1.3h-1.3zM370.9 147.5h1.3v1.3h-1.3zM347.1 148.2h1.3v1.3h-1.3zM359.2 147.9h1.3v1.3h-1.3zM354.3 142.4h1.3v1.3h-1.3zM366.1 148.6h1.3v1.3h-1.3zM351.6 149.1h1.3v1.3h-1.3zM357.1 147.4h1.3v1.3h-1.3zM363.0 140.8h1.3v1.3h-1.3zM371.1 150.2h1.3v1.3h-1.3zM364.0 144.3h1.3v1.3h-1.3zM353.7 139.9h1.3v1.3h-1.3zM356.1 152.0h1.3v1.3h-1.3zM349.5 148.7h1.3v1.3h-1.3zM357.6 147.1h1.3v1.3h-1.3zM361.2 147.1h1.3v1.3h-1.3zM364.6 142.6h1.3v1.3h-1.3zM369.9 137.4h1.3v1.3h-1.3zM365.9 135.2h1.3v1.3h-1.3zM365.7 140.2h1.3v1.3h-1.3zM365.0 140.4h1.3v1.3h-1.3zM357.4 152.0h1.3v1.3h-1.3zM355.9 148.0h1.3v1.3h-1.3zM349.4 144.1h1.3v1.3h-1.3zM359.9 147.8h1.3v1.3h-1.3zM369.5 147.4h1.3v1.3h-1.3zM351.1 151.8h1.3v1.3h-1.3zM347.3 151.1h1.3v1.3h-1.3zM354.4 139.2h1.3v1.3h-1.3zM354.3 145.9h1.3v1.3h-1.3zM362.7 132.2h1.3v1.3h-1.3zM359.4 145.0h1.3v1.3h-1.3zM368.6 146.3h1.3v1.3h-1.3zM370.8 151.0h1.3v1.3h-1.3zM371.9 142.4h1.3v1.3h-1.3zM355.5 149.1h1.3v1.3h-1.3zM349.8 145.4h1.3v1.3h-1.3zM355.8 143.7h1.3v1.3h-1.3zM365.7 142.0h1.3v1.3h-1.3zM358.7 134.9h1.3v1.3h-1.3zM363.4 146.6h1.3v1.3h-1.3zM371.3 149.0h1.3v1.3h-1.3zM356.5 147.2h1.3v1.3h-1.3zM356.8 144.4h1.3v1.3h-1.3zM368.9 147.7h1.3v1.3h-1.3zM359.1 146.9h1.3v1.3h-1.3zM355.5 146.4h1.3v1.3h-1.3zM361.2 152.0h1.3v1.3h-1.3zM348.6 151.5h1.3v1.3h-1.3zM356.6 146.8h1.3v1.3h-1.3zM367.5 140.2h1.3v1.3h-1.3zM373.3 143.3h1.3v1.3h-1.3zM362.6 144.1h1.3v1.3h-1.3zM356.5 147.9h1.3v1.3h-1.3zM347.9 149.0h1.3v1.3h-1.3zM380.8 141.6h1.3v1.3h-1.3zM381.2 141.1h1.3v1.3h-1.3zM368.4 139.7h1.3v1.3h-1.3zM350.2 147.6h1.3v1.3h-1.3zM363.7 141.0h1.3v1.3h-1.3zM374.2 143.7h1.3v1.3h-1.3zM378.5 137.8h1.3v1.3h-1.3zM360.3 148.5h1.3v1.3h-1.3zM359.3 143.4h1.3v1.3h-1.3zM376.9 151.6h1.3v1.3h-1.3zM381.3 134.4h1.3v1.3h-1.3zM359.9 152.0h1.3v1.3h-1.3zM353.5 145.8h1.3v1.3h-1.3zM378.8 147.1h1.3v1.3h-1.3zM379.9 141.6h1.3v1.3h-1.3zM371.2 145.4h1.3v1.3h-1.3zM359.3 140.6h1.3v1.3h-1.3zM355.1 151.6h1.3v1.3h-1.3zM378.2 145.6h1.3v1.3h-1.3zM349.0 142.2h1.3v1.3h-1.3zM364.9 148.9h1.3v1.3h-1.3zM371.2 133.5h1.3v1.3h-1.3zM362.2 147.4h1.3v1.3h-1.3zM380.1 141.0h1.3v1.3h-1.3zM359.1 142.0h1.3v1.3h-1.3zM381.9 137.9h1.3v1.3h-1.3zM375.0 131.0h1.3v1.3h-1.3zM362.8 152.0h1.3v1.3h-1.3zM348.9 142.0h1.3v1.3h-1.3zM353.3 141.9h1.3v1.3h-1.3zM363.1 137.4h1.3v1.3h-1.3zM355.6 134.0h1.3v1.3h-1.3zM358.0 143.3h1.3v1.3h-1.3zM360.9 150.8h1.3v1.3h-1.3zM360.2 145.3h1.3v1.3h-1.3zM370.5 141.8h1.3v1.3h-1.3zM361.6 152.2h1.3v1.3h-1.3zM367.0 151.1h1.3v1.3h-1.3zM368.9 148.0h1.3v1.3h-1.3zM369.4 147.2h1.3v1.3h-1.3zM356.0 152.1h1.3v1.3h-1.3zM381.4 142.1h1.3v1.3h-1.3zM370.4 151.3h1.3v1.3h-1.3zM359.8 147.2h1.3v1.3h-1.3zM369.4 141.0h1.3v1.3h-1.3zM365.6 147.6h1.3v1.3h-1.3zM366.8 147.8h1.3v1.3h-1.3zM351.9 148.5h1.3v1.3h-1.3zM371.4 136.4h1.3v1.3h-1.3zM378.7 137.4h1.3v1.3h-1.3zM368.3 146.3h1.3v1.3h-1.3zM369.1 146.2h1.3v1.3h-1.3zM351.6 146.5h1.3v1.3h-1.3zM364.7 149.5h1.3v1.3h-1.3zM371.0 152.1h1.3v1.3h-1.3zM379.6 141.6h1.3v1.3h-1.3zM364.8 140.2h1.3v1.3h-1.3zM370.3 148.5h1.3v1.3h-1.3zM369.1 143.8h1.3v1.3h-1.3zM373.7 135.8h1.3v1.3h-1.3zM378.4 143.3h1.3v1.3h-1.3zM379.9 148.7h1.3v1.3h-1.3zM378.9 142.0h1.3v1.3h-1.3zM379.4 145.2h1.3v1.3h-1.3zM379.9 135.7h1.3v1.3h-1.3zM378.2 135.1h1.3v1.3h-1.3zM379.2 133.2h1.3v1.3h-1.3zM379.7 138.8h1.3v1.3h-1.3zM380.2 134.5h1.3v1.3h-1.3zM376.7 139.5h1.3v1.3h-1.3zM375.9 142.5h1.3v1.3h-1.3z" fill="#000" fill-opacity="0.55"/>
<path d="M366.5 149.3h1.3v1.3h-1.3zM365.4 149.6h1.3v1.3h-1.3zM351.7 135.9h1.3v1.3h-1.3zM351.8 151.8h1.3v1.3h-1.3zM362.3 152.1h1.3v1.3h-1.3zM355.7 150.3h1.3v1.3h-1.3zM364.0 151.0h1.3v1.3h-1.3zM362.4 144.5h1.3v1.3h-1.3zM357.2 146.1h1.3v1.3h-1.3zM359.7 136.5h1.3v1.3h-1.3zM365.7 149.2h1.3v1.3h-1.3zM364.1 141.4h1.3v1.3h-1.3zM366.3 143.2h1.3v1.3h-1.3zM364.7 151.7h1.3v1.3h-1.3zM363.8 152.3h1.3v1.3h-1.3zM360.9 149.9h1.3v1.3h-1.3zM349.1 139.3h1.3v1.3h-1.3zM354.4 139.6h1.3v1.3h-1.3zM356.6 143.1h1.3v1.3h-1.3zM358.1 135.3h1.3v1.3h-1.3zM362.7 140.0h1.3v1.3h-1.3zM365.1 148.9h1.3v1.3h-1.3zM376.8 152.3h1.3v1.3h-1.3zM354.8 142.4h1.3v1.3h-1.3zM363.8 141.9h1.3v1.3h-1.3zM361.1 142.8h1.3v1.3h-1.3zM358.2 150.5h1.3v1.3h-1.3zM358.7 152.1h1.3v1.3h-1.3zM355.9 143.6h1.3v1.3h-1.3zM365.4 141.8h1.3v1.3h-1.3zM356.1 151.1h1.3v1.3h-1.3zM344.4 138.3h1.3v1.3h-1.3zM364.3 141.2h1.3v1.3h-1.3zM360.6 141.6h1.3v1.3h-1.3zM359.9 150.8h1.3v1.3h-1.3zM355.0 149.1h1.3v1.3h-1.3zM361.0 138.1h1.3v1.3h-1.3zM362.8 150.3h1.3v1.3h-1.3zM365.6 142.7h1.3v1.3h-1.3zM356.0 147.0h1.3v1.3h-1.3zM358.1 139.6h1.3v1.3h-1.3zM361.5 151.3h1.3v1.3h-1.3zM352.9 142.4h1.3v1.3h-1.3zM369.0 149.9h1.3v1.3h-1.3zM351.7 130.0h1.3v1.3h-1.3zM360.9 151.3h1.3v1.3h-1.3zM355.4 150.4h1.3v1.3h-1.3zM366.2 144.7h1.3v1.3h-1.3zM357.3 146.3h1.3v1.3h-1.3zM363.7 144.5h1.3v1.3h-1.3zM353.6 147.2h1.3v1.3h-1.3zM358.2 141.8h1.3v1.3h-1.3zM346.1 151.9h1.3v1.3h-1.3zM364.9 143.4h1.3v1.3h-1.3zM354.7 144.9h1.3v1.3h-1.3zM355.2 143.5h1.3v1.3h-1.3zM361.5 146.1h1.3v1.3h-1.3zM363.7 144.6h1.3v1.3h-1.3zM358.8 144.2h1.3v1.3h-1.3zM351.2 146.4h1.3v1.3h-1.3zM366.0 146.3h1.3v1.3h-1.3zM360.0 137.6h1.3v1.3h-1.3zM350.2 142.9h1.3v1.3h-1.3zM372.3 143.4h1.3v1.3h-1.3zM372.7 144.6h1.3v1.3h-1.3zM356.1 151.7h1.3v1.3h-1.3zM359.3 127.0h1.3v1.3h-1.3zM350.7 140.3h1.3v1.3h-1.3zM366.2 151.2h1.3v1.3h-1.3zM345.0 147.6h1.3v1.3h-1.3zM356.2 150.8h1.3v1.3h-1.3zM356.8 137.7h1.3v1.3h-1.3zM361.3 146.2h1.3v1.3h-1.3zM362.7 149.5h1.3v1.3h-1.3zM349.0 152.3h1.3v1.3h-1.3zM367.9 149.1h1.3v1.3h-1.3zM361.1 148.6h1.3v1.3h-1.3zM368.8 142.3h1.3v1.3h-1.3zM360.0 151.2h1.3v1.3h-1.3zM355.1 149.9h1.3v1.3h-1.3zM381.4 136.1h1.3v1.3h-1.3zM351.7 149.6h1.3v1.3h-1.3zM373.7 145.4h1.3v1.3h-1.3zM357.9 150.0h1.3v1.3h-1.3zM379.2 135.9h1.3v1.3h-1.3zM363.6 144.3h1.3v1.3h-1.3zM366.1 151.0h1.3v1.3h-1.3zM373.4 149.8h1.3v1.3h-1.3zM378.2 139.0h1.3v1.3h-1.3zM347.3 149.1h1.3v1.3h-1.3zM361.4 139.4h1.3v1.3h-1.3zM348.3 148.6h1.3v1.3h-1.3zM370.0 148.4h1.3v1.3h-1.3zM354.7 144.3h1.3v1.3h-1.3zM354.0 134.8h1.3v1.3h-1.3zM361.4 151.1h1.3v1.3h-1.3zM367.4 137.4h1.3v1.3h-1.3zM365.9 149.8h1.3v1.3h-1.3zM361.0 149.2h1.3v1.3h-1.3zM356.5 143.4h1.3v1.3h-1.3zM353.8 141.4h1.3v1.3h-1.3zM362.0 150.2h1.3v1.3h-1.3zM380.1 151.7h1.3v1.3h-1.3zM352.9 150.9h1.3v1.3h-1.3zM356.8 135.7h1.3v1.3h-1.3zM364.0 133.0h1.3v1.3h-1.3zM348.6 145.7h1.3v1.3h-1.3zM369.0 141.8h1.3v1.3h-1.3zM353.5 150.6h1.3v1.3h-1.3zM355.5 144.3h1.3v1.3h-1.3zM363.7 152.0h1.3v1.3h-1.3zM372.8 151.0h1.3v1.3h-1.3zM359.2 151.3h1.3v1.3h-1.3zM361.6 145.5h1.3v1.3h-1.3zM371.1 151.4h1.3v1.3h-1.3zM378.6 146.6h1.3v1.3h-1.3zM363.0 145.7h1.3v1.3h-1.3zM370.9 142.7h1.3v1.3h-1.3zM373.7 136.9h1.3v1.3h-1.3zM350.5 145.0h1.3v1.3h-1.3zM353.4 151.9h1.3v1.3h-1.3zM349.1 149.5h1.3v1.3h-1.3zM373.4 145.0h1.3v1.3h-1.3zM375.3 152.1h1.3v1.3h-1.3zM363.1 139.6h1.3v1.3h-1.3zM377.9 149.7h1.3v1.3h-1.3zM350.9 140.7h1.3v1.3h-1.3zM366.0 148.9h1.3v1.3h-1.3zM368.6 143.3h1.3v1.3h-1.3zM358.2 143.8h1.3v1.3h-1.3zM381.7 151.8h1.3v1.3h-1.3zM348.6 150.4h1.3v1.3h-1.3zM378.1 147.5h1.3v1.3h-1.3zM363.3 143.7h1.3v1.3h-1.3zM363.6 148.4h1.3v1.3h-1.3zM375.3 151.4h1.3v1.3h-1.3zM374.9 141.2h1.3v1.3h-1.3zM358.6 144.5h1.3v1.3h-1.3zM372.2 149.6h1.3v1.3h-1.3zM352.3 148.4h1.3v1.3h-1.3zM372.8 139.4h1.3v1.3h-1.3zM364.2 145.2h1.3v1.3h-1.3zM376.7 140.4h1.3v1.3h-1.3zM379.7 142.6h1.3v1.3h-1.3zM377.9 135.0h1.3v1.3h-1.3zM381.9 136.4h1.3v1.3h-1.3zM353.6 118.7h1.3v1.3h-1.3z" fill="#000" fill-opacity="0.55"/>
<path d="M179.2 232.2h1.3v1.3h-1.3zM197.9 228.7h1.3v1.3h-1.3zM173.2 231.7h1.3v1.3h-1.3zM174.1 232.7h1.3v1.3h-1.3zM184.2 230.7h1.3v1.3h-1.3zM181.5 231.8h1.3v1.3h-1.3zM178.7 230.2h1.3v1.3h-1.3zM180.9 232.7h1.3v1.3h-1.3zM175.1 231.8h1.3v1.3h-1.3zM181.0 230.0h1.3v1.3h-1.3zM179.3 233.0h1.3v1.3h-1.3zM175.2 228.0h1.3v1.3h-1.3zM185.3 231.7h1.3v1.3h-1.3zM174.7 228.6h1.3v1.3h-1.3zM166.2 233.2h1.3v1.3h-1.3zM191.8 216.6h1.3v1.3h-1.3zM202.7 231.0h1.3v1.3h-1.3zM174.9 225.5h1.3v1.3h-1.3zM184.4 224.0h1.3v1.3h-1.3zM193.1 225.4h1.3v1.3h-1.3zM167.6 222.5h1.3v1.3h-1.3zM180.3 219.8h1.3v1.3h-1.3zM182.6 219.1h1.3v1.3h-1.3zM176.8 225.1h1.3v1.3h-1.3zM186.4 224.9h1.3v1.3h-1.3zM166.6 231.4h1.3v1.3h-1.3zM172.6 222.3h1.3v1.3h-1.3zM169.2 227.9h1.3v1.3h-1.3zM175.4 223.4h1.3v1.3h-1.3zM193.9 216.0h1.3v1.3h-1.3zM195.9 210.2h1.3v1.3h-1.3zM199.2 223.8h1.3v1.3h-1.3zM188.9 209.8h1.3v1.3h-1.3zM172.1 224.0h1.3v1.3h-1.3zM181.4 230.1h1.3v1.3h-1.3zM201.3 232.6h1.3v1.3h-1.3zM169.8 230.2h1.3v1.3h-1.3zM189.2 226.6h1.3v1.3h-1.3zM184.9 223.4h1.3v1.3h-1.3zM185.8 232.6h1.3v1.3h-1.3zM201.4 225.5h1.3v1.3h-1.3zM187.3 214.4h1.3v1.3h-1.3zM173.6 229.3h1.3v1.3h-1.3zM198.3 228.5h1.3v1.3h-1.3zM170.4 232.3h1.3v1.3h-1.3zM176.8 226.9h1.3v1.3h-1.3zM179.5 220.3h1.3v1.3h-1.3zM199.3 232.7h1.3v1.3h-1.3zM197.8 220.4h1.3v1.3h-1.3zM174.6 232.1h1.3v1.3h-1.3zM168.6 222.5h1.3v1.3h-1.3zM193.1 229.3h1.3v1.3h-1.3zM204.3 224.9h1.3v1.3h-1.3zM197.0 223.2h1.3v1.3h-1.3zM173.2 226.3h1.3v1.3h-1.3zM201.3 214.0h1.3v1.3h-1.3zM167.6 231.9h1.3v1.3h-1.3zM204.3 214.5h1.3v1.3h-1.3zM196.0 223.8h1.3v1.3h-1.3zM190.2 229.4h1.3v1.3h-1.3zM191.0 230.2h1.3v1.3h-1.3zM167.1 226.0h1.3v1.3h-1.3zM179.5 230.4h1.3v1.3h-1.3zM201.9 230.4h1.3v1.3h-1.3zM203.0 221.5h1.3v1.3h-1.3zM189.0 214.8h1.3v1.3h-1.3zM180.7 232.8h1.3v1.3h-1.3zM200.3 223.2h1.3v1.3h-1.3zM187.8 229.3h1.3v1.3h-1.3zM198.8 232.6h1.3v1.3h-1.3zM177.1 220.4h1.3v1.3h-1.3zM199.0 232.8h1.3v1.3h-1.3zM184.2 231.7h1.3v1.3h-1.3zM178.9 225.1h1.3v1.3h-1.3zM202.0 196.6h1.3v1.3h-1.3zM177.1 214.9h1.3v1.3h-1.3zM181.5 231.9h1.3v1.3h-1.3zM164.4 228.9h1.3v1.3h-1.3zM183.2 228.4h1.3v1.3h-1.3zM191.3 231.0h1.3v1.3h-1.3zM185.6 225.9h1.3v1.3h-1.3zM162.8 232.9h1.3v1.3h-1.3zM170.9 230.4h1.3v1.3h-1.3zM182.0 230.9h1.3v1.3h-1.3zM168.7 223.0h1.3v1.3h-1.3zM174.4 218.0h1.3v1.3h-1.3zM175.5 227.6h1.3v1.3h-1.3zM199.2 223.4h1.3v1.3h-1.3zM194.2 224.5h1.3v1.3h-1.3zM191.5 230.8h1.3v1.3h-1.3zM173.8 217.5h1.3v1.3h-1.3zM168.5 228.4h1.3v1.3h-1.3zM169.2 231.6h1.3v1.3h-1.3zM173.6 229.3h1.3v1.3h-1.3zM182.6 225.9h1.3v1.3h-1.3zM165.2 224.6h1.3v1.3h-1.3zM189.0 215.6h1.3v1.3h-1.3zM168.3 229.4h1.3v1.3h-1.3zM170.4 221.0h1.3v1.3h-1.3zM169.2 231.9h1.3v1.3h-1.3zM199.1 214.7h1.3v1.3h-1.3zM198.3 232.8h1.3v1.3h-1.3zM173.8 232.8h1.3v1.3h-1.3zM187.6 212.5h1.3v1.3h-1.3zM198.7 198.3h1.3v1.3h-1.3zM188.0 206.2h1.3v1.3h-1.3zM186.1 226.8h1.3v1.3h-1.3zM177.6 227.2h1.3v1.3h-1.3zM200.2 232.4h1.3v1.3h-1.3zM166.6 232.9h1.3v1.3h-1.3zM199.5 195.2h1.3v1.3h-1.3zM204.0 210.4h1.3v1.3h-1.3zM205.0 203.6h1.3v1.3h-1.3zM203.7 210.0h1.3v1.3h-1.3zM201.2 219.0h1.3v1.3h-1.3zM201.9 203.0h1.3v1.3h-1.3zM199.9 203.2h1.3v1.3h-1.3zM169.8 217.0h1.3v1.3h-1.3z" fill="#000" fill-opacity="0.55"/>
<path d="M177.0 229.6h1.3v1.3h-1.3zM174.7 230.9h1.3v1.3h-1.3zM174.7 232.0h1.3v1.3h-1.3zM178.6 229.4h1.3v1.3h-1.3zM178.3 231.0h1.3v1.3h-1.3zM178.0 231.9h1.3v1.3h-1.3zM169.3 231.0h1.3v1.3h-1.3zM181.2 227.5h1.3v1.3h-1.3zM169.0 232.1h1.3v1.3h-1.3zM183.3 232.9h1.3v1.3h-1.3zM169.8 230.0h1.3v1.3h-1.3zM170.9 230.8h1.3v1.3h-1.3zM184.6 230.0h1.3v1.3h-1.3zM184.4 230.8h1.3v1.3h-1.3zM177.2 230.2h1.3v1.3h-1.3zM173.8 233.1h1.3v1.3h-1.3zM182.6 230.7h1.3v1.3h-1.3zM176.6 232.7h1.3v1.3h-1.3zM186.9 232.5h1.3v1.3h-1.3zM183.6 230.5h1.3v1.3h-1.3zM192.5 230.3h1.3v1.3h-1.3zM200.5 209.9h1.3v1.3h-1.3zM188.0 231.9h1.3v1.3h-1.3zM200.3 228.5h1.3v1.3h-1.3zM171.0 226.0h1.3v1.3h-1.3zM204.0 229.8h1.3v1.3h-1.3zM178.5 227.6h1.3v1.3h-1.3zM172.4 220.7h1.3v1.3h-1.3zM166.7 226.4h1.3v1.3h-1.3zM163.7 229.4h1.3v1.3h-1.3zM182.6 231.8h1.3v1.3h-1.3zM192.3 212.5h1.3v1.3h-1.3zM198.7 228.7h1.3v1.3h-1.3zM200.2 212.7h1.3v1.3h-1.3zM175.5 225.5h1.3v1.3h-1.3zM201.5 221.1h1.3v1.3h-1.3zM184.9 213.8h1.3v1.3h-1.3zM184.7 229.7h1.3v1.3h-1.3zM193.0 225.0h1.3v1.3h-1.3zM174.0 226.4h1.3v1.3h-1.3zM183.2 222.2h1.3v1.3h-1.3zM178.2 232.3h1.3v1.3h-1.3zM177.4 231.7h1.3v1.3h-1.3zM186.5 224.4h1.3v1.3h-1.3zM201.4 209.3h1.3v1.3h-1.3zM190.2 206.1h1.3v1.3h-1.3zM177.6 221.9h1.3v1.3h-1.3zM200.5 200.9h1.3v1.3h-1.3zM194.4 218.5h1.3v1.3h-1.3zM180.1 221.1h1.3v1.3h-1.3zM186.1 232.3h1.3v1.3h-1.3zM180.7 222.7h1.3v1.3h-1.3zM185.1 226.6h1.3v1.3h-1.3zM197.0 229.1h1.3v1.3h-1.3zM189.0 212.6h1.3v1.3h-1.3zM197.7 224.4h1.3v1.3h-1.3zM172.7 221.1h1.3v1.3h-1.3zM201.4 213.3h1.3v1.3h-1.3zM196.3 216.4h1.3v1.3h-1.3zM174.1 229.7h1.3v1.3h-1.3zM196.5 221.8h1.3v1.3h-1.3zM197.9 218.2h1.3v1.3h-1.3zM165.7 225.1h1.3v1.3h-1.3zM164.7 232.6h1.3v1.3h-1.3zM182.7 211.8h1.3v1.3h-1.3zM203.4 215.5h1.3v1.3h-1.3zM177.2 229.5h1.3v1.3h-1.3zM187.1 224.4h1.3v1.3h-1.3zM190.7 231.6h1.3v1.3h-1.3zM183.1 219.8h1.3v1.3h-1.3zM178.8 229.5h1.3v1.3h-1.3zM185.3 209.7h1.3v1.3h-1.3zM174.5 225.9h1.3v1.3h-1.3zM189.5 229.9h1.3v1.3h-1.3zM176.0 225.5h1.3v1.3h-1.3zM171.3 228.7h1.3v1.3h-1.3zM162.9 233.0h1.3v1.3h-1.3zM184.0 222.8h1.3v1.3h-1.3zM177.0 222.3h1.3v1.3h-1.3zM172.1 231.3h1.3v1.3h-1.3zM183.7 211.3h1.3v1.3h-1.3zM190.9 224.3h1.3v1.3h-1.3zM186.4 226.9h1.3v1.3h-1.3zM199.5 212.4h1.3v1.3h-1.3zM187.9 221.0h1.3v1.3h-1.3zM194.5 223.0h1.3v1.3h-1.3zM169.5 229.0h1.3v1.3h-1.3zM173.5 228.9h1.3v1.3h-1.3zM166.7 221.9h1.3v1.3h-1.3zM162.4 230.5h1.3v1.3h-1.3zM203.5 230.5h1.3v1.3h-1.3zM196.5 229.6h1.3v1.3h-1.3zM199.7 230.9h1.3v1.3h-1.3zM168.3 231.5h1.3v1.3h-1.3zM165.9 227.7h1.3v1.3h-1.3zM203.6 221.4h1.3v1.3h-1.3zM179.5 226.4h1.3v1.3h-1.3zM171.0 225.4h1.3v1.3h-1.3zM168.3 232.2h1.3v1.3h-1.3zM177.5 223.9h1.3v1.3h-1.3zM201.3 214.3h1.3v1.3h-1.3zM201.7 196.7h1.3v1.3h-1.3zM205.1 196.5h1.3v1.3h-1.3zM200.7 208.5h1.3v1.3h-1.3zM200.2 196.3h1.3v1.3h-1.3zM203.1 193.1h1.3v1.3h-1.3zM200.2 190.5h1.3v1.3h-1.3zM197.6 215.1h1.3v1.3h-1.3zM200.5 203.4h1.3v1.3h-1.3zM209.8 230.3h1.3v1.3h-1.3zM195.6 186.7h1.3v1.3h-1.3z" fill="#000" fill-opacity="0.55"/>
<path d="M172.5 230.2h1.3v1.3h-1.3zM185.9 227.6h1.3v1.3h-1.3zM178.2 231.9h1.3v1.3h-1.3zM178.7 230.1h1.3v1.3h-1.3zM172.8 230.5h1.3v1.3h-1.3zM189.0 230.9h1.3v1.3h-1.3zM180.5 232.1h1.3v1.3h-1.3zM176.7 230.4h1.3v1.3h-1.3zM181.0 223.3h1.3v1.3h-1.3zM171.2 229.2h1.3v1.3h-1.3zM186.4 225.2h1.3v1.3h-1.3zM161.8 227.8h1.3v1.3h-1.3zM194.8 231.3h1.3v1.3h-1.3zM167.5 232.7h1.3v1.3h-1.3zM180.0 231.9h1.3v1.3h-1.3zM186.6 219.8h1.3v1.3h-1.3zM176.5 232.1h1.3v1.3h-1.3zM181.8 210.7h1.3v1.3h-1.3zM189.8 227.3h1.3v1.3h-1.3zM164.5 226.0h1.3v1.3h-1.3zM199.5 201.8h1.3v1.3h-1.3zM173.1 223.7h1.3v1.3h-1.3zM199.3 221.5h1.3v1.3h-1.3zM190.5 226.1h1.3v1.3h-1.3zM204.3 224.0h1.3v1.3h-1.3zM179.3 227.2h1.3v1.3h-1.3zM196.5 223.3h1.3v1.3h-1.3zM192.5 211.4h1.3v1.3h-1.3zM168.7 228.3h1.3v1.3h-1.3zM195.7 206.4h1.3v1.3h-1.3zM191.1 231.5h1.3v1.3h-1.3zM195.7 221.0h1.3v1.3h-1.3zM189.6 230.9h1.3v1.3h-1.3zM201.1 227.0h1.3v1.3h-1.3zM176.0 229.8h1.3v1.3h-1.3zM186.9 230.7h1.3v1.3h-1.3zM179.5 219.5h1.3v1.3h-1.3zM180.7 230.5h1.3v1.3h-1.3zM180.5 223.8h1.3v1.3h-1.3zM170.7 230.7h1.3v1.3h-1.3zM198.2 232.6h1.3v1.3h-1.3zM188.1 232.3h1.3v1.3h-1.3zM170.9 223.5h1.3v1.3h-1.3zM202.2 223.3h1.3v1.3h-1.3zM197.8 229.4h1.3v1.3h-1.3zM185.7 226.5h1.3v1.3h-1.3zM193.6 230.8h1.3v1.3h-1.3zM179.9 222.5h1.3v1.3h-1.3zM180.2 232.6h1.3v1.3h-1.3zM204.6 217.0h1.3v1.3h-1.3zM191.4 226.1h1.3v1.3h-1.3zM199.4 200.2h1.3v1.3h-1.3zM167.3 222.9h1.3v1.3h-1.3zM192.6 216.9h1.3v1.3h-1.3zM193.3 226.2h1.3v1.3h-1.3zM171.8 226.7h1.3v1.3h-1.3zM184.0 227.8h1.3v1.3h-1.3zM180.2 226.3h1.3v1.3h-1.3zM178.8 223.4h1.3v1.3h-1.3zM189.2 218.5h1.3v1.3h-1.3zM199.7 227.9h1.3v1.3h-1.3zM181.9 222.6h1.3v1.3h-1.3zM176.0 226.3h1.3v1.3h-1.3zM192.9 224.0h1.3v1.3h-1.3zM179.1 216.4h1.3v1.3h-1.3zM193.4 229.5h1.3v1.3h-1.3zM179.3 219.8h1.3v1.3h-1.3zM177.8 221.9h1.3v1.3h-1.3zM175.0 220.7h1.3v1.3h-1.3zM165.4 230.0h1.3v1.3h-1.3zM173.9 226.4h1.3v1.3h-1.3zM201.4 221.5h1.3v1.3h-1.3zM188.2 226.3h1.3v1.3h-1.3zM176.0 232.8h1.3v1.3h-1.3zM195.6 222.0h1.3v1.3h-1.3zM182.1 228.3h1.3v1.3h-1.3zM168.7 220.5h1.3v1.3h-1.3zM164.1 226.4h1.3v1.3h-1.3zM195.3 216.2h1.3v1.3h-1.3zM173.7 233.1h1.3v1.3h-1.3zM182.7 232.6h1.3v1.3h-1.3zM172.1 232.5h1.3v1.3h-1.3zM187.1 215.7h1.3v1.3h-1.3zM186.0 207.8h1.3v1.3h-1.3zM205.7 216.3h1.3v1.3h-1.3zM184.4 223.4h1.3v1.3h-1.3zM168.8 232.3h1.3v1.3h-1.3zM190.2 215.3h1.3v1.3h-1.3zM175.1 222.7h1.3v1.3h-1.3zM199.7 230.9h1.3v1.3h-1.3zM190.9 231.8h1.3v1.3h-1.3zM202.6 203.8h1.3v1.3h-1.3zM204.9 216.3h1.3v1.3h-1.3zM173.9 229.0h1.3v1.3h-1.3z" fill="#000" fill-opacity="0.55"/>
<path d="M178.3 231.0h1.3v1.3h-1.3zM182.6 229.4h1.3v1.3h-1.3zM184.3 230.4h1.3v1.3h-1.3zM177.8 231.1h1.3v1.3h-1.3zM183.8 228.2h1.3v1.3h-1.3zM181.7 228.3h1.3v1.3h-1.3zM170.9 232.3h1.3v1.3h-1.3zM177.6 232.7h1.3v1.3h-1.3zM181.6 229.7h1.3v1.3h-1.3zM172.7 230.8h1.3v1.3h-1.3zM172.8 230.9h1.3v1.3h-1.3zM173.8 230.8h1.3v1.3h-1.3zM168.3 230.6h1.3v1.3h-1.3zM180.1 231.5h1.3v1.3h-1.3zM183.9 227.8h1.3v1.3h-1.3zM182.2 232.2h1.3v1.3h-1.3zM176.1 220.5h1.3v1.3h-1.3zM182.5 232.2h1.3v1.3h-1.3zM178.4 227.1h1.3v1.3h-1.3zM188.2 211.6h1.3v1.3h-1.3zM203.3 210.6h1.3v1.3h-1.3zM180.0 230.6h1.3v1.3h-1.3zM190.1 224.2h1.3v1.3h-1.3zM189.3 223.0h1.3v1.3h-1.3zM188.7 233.1h1.3v1.3h-1.3zM190.0 218.7h1.3v1.3h-1.3zM199.4 226.3h1.3v1.3h-1.3zM200.7 197.3h1.3v1.3h-1.3zM175.4 227.4h1.3v1.3h-1.3zM200.6 217.8h1.3v1.3h-1.3zM174.7 215.8h1.3v1.3h-1.3zM206.1 232.8h1.3v1.3h-1.3zM170.5 229.4h1.3v1.3h-1.3zM196.7 226.3h1.3v1.3h-1.3zM176.1 217.0h1.3v1.3h-1.3zM190.9 218.4h1.3v1.3h-1.3zM182.6 227.0h1.3v1.3h-1.3zM186.2 221.0h1.3v1.3h-1.3zM188.8 224.0h1.3v1.3h-1.3zM168.7 231.5h1.3v1.3h-1.3zM172.7 227.8h1.3v1.3h-1.3zM197.8 201.6h1.3v1.3h-1.3zM183.6 226.8h1.3v1.3h-1.3zM172.6 228.3h1.3v1.3h-1.3zM194.2 226.0h1.3v1.3h-1.3zM176.6 217.4h1.3v1.3h-1.3zM169.8 229.2h1.3v1.3h-1.3zM167.8 226.9h1.3v1.3h-1.3zM201.8 210.0h1.3v1.3h-1.3zM178.2 229.2h1.3v1.3h-1.3zM190.0 230.2h1.3v1.3h-1.3zM177.5 220.4h1.3v1.3h-1.3zM193.2 219.6h1.3v1.3h-1.3zM183.6 226.3h1.3v1.3h-1.3zM189.0 230.8h1.3v1.3h-1.3zM198.8 198.5h1.3v1.3h-1.3zM164.4 224.8h1.3v1.3h-1.3zM175.2 228.4h1.3v1.3h-1.3zM171.0 232.2h1.3v1.3h-1.3zM189.4 207.2h1.3v1.3h-1.3zM182.4 226.2h1.3v1.3h-1.3zM175.0 223.6h1.3v1.3h-1.3zM203.1 229.9h1.3v1.3h-1.3zM195.1 219.1h1.3v1.3h-1.3zM175.0 230.9h1.3v1.3h-1.3zM195.8 208.1h1.3v1.3h-1.3zM176.6 228.6h1.3v1.3h-1.3zM190.4 205.5h1.3v1.3h-1.3zM184.8 218.6h1.3v1.3h-1.3zM188.8 227.3h1.3v1.3h-1.3zM179.3 217.3h1.3v1.3h-1.3zM170.0 232.4h1.3v1.3h-1.3zM173.2 227.8h1.3v1.3h-1.3zM174.3 226.7h1.3v1.3h-1.3zM175.0 226.4h1.3v1.3h-1.3zM179.5 225.6h1.3v1.3h-1.3zM187.8 223.5h1.3v1.3h-1.3zM171.0 229.2h1.3v1.3h-1.3zM199.6 220.5h1.3v1.3h-1.3zM190.6 221.8h1.3v1.3h-1.3zM200.6 221.0h1.3v1.3h-1.3zM198.3 218.9h1.3v1.3h-1.3zM181.0 223.3h1.3v1.3h-1.3zM192.2 228.3h1.3v1.3h-1.3zM190.5 210.5h1.3v1.3h-1.3zM201.8 197.5h1.3v1.3h-1.3zM166.8 232.0h1.3v1.3h-1.3zM191.1 219.4h1.3v1.3h-1.3zM176.6 226.3h1.3v1.3h-1.3zM199.7 222.8h1.3v1.3h-1.3zM179.6 228.2h1.3v1.3h-1.3zM202.6 222.9h1.3v1.3h-1.3zM183.9 232.6h1.3v1.3h-1.3zM196.8 215.8h1.3v1.3h-1.3zM188.2 211.2h1.3v1.3h-1.3zM195.1 225.1h1.3v1.3h-1.3zM176.3 223.3h1.3v1.3h-1.3zM170.1 227.7h1.3v1.3h-1.3zM187.2 230.7h1.3v1.3h-1.3zM185.4 215.1h1.3v1.3h-1.3zM195.4 224.6h1.3v1.3h-1.3zM191.6 210.7h1.3v1.3h-1.3zM204.7 199.0h1.3v1.3h-1.3zM202.5 220.7h1.3v1.3h-1.3zM199.5 200.7h1.3v1.3h-1.3zM203.2 208.1h1.3v1.3h-1.3zM199.4 202.8h1.3v1.3h-1.3zM196.8 200.6h1.3v1.3h-1.3zM203.3 211.9h1.3v1.3h-1.3zM165.3 228.8h1.3v1.3h-1.3z" fill="#000" fill-opacity="0.55"/>
<path d="M170.2 229.7h1.3v1.3h-1.3zM175.6 230.3h1.3v1.3h-1.3zM175.4 232.6h1.3v1.3h-1.3zM191.9 231.9h1.3v1.3h-1.3zM179.1 232.6h1.3v1.3h-1.3zM187.7 230.1h1.3v1.3h-1.3zM174.8 232.0h1.3v1.3h-1.3zM183.6 230.6h1.3v1.3h-1.3zM176.0 231.3h1.3v1.3h-1.3zM189.3 228.2h1.3v1.3h-1.3zM167.0 229.5h1.3v1.3h-1.3zM166.3 230.6h1.3v1.3h-1.3zM183.4 229.4h1.3v1.3h-1.3zM182.2 230.9h1.3v1.3h-1.3zM186.3 232.2h1.3v1.3h-1.3zM175.7 232.3h1.3v1.3h-1.3zM201.0 214.7h1.3v1.3h-1.3zM175.8 229.2h1.3v1.3h-1.3zM200.8 222.0h1.3v1.3h-1.3zM192.0 224.6h1.3v1.3h-1.3zM192.2 227.1h1.3v1.3h-1.3zM196.6 232.0h1.3v1.3h-1.3zM187.0 231.1h1.3v1.3h-1.3zM175.6 232.0h1.3v1.3h-1.3zM181.8 227.9h1.3v1.3h-1.3zM174.1 227.6h1.3v1.3h-1.3zM190.2 217.1h1.3v1.3h-1.3zM183.6 223.8h1.3v1.3h-1.3zM173.9 222.9h1.3v1.3h-1.3zM177.7 227.6h1.3v1.3h-1.3zM188.8 227.6h1.3v1.3h-1.3zM195.1 221.1h1.3v1.3h-1.3zM167.4 228.6h1.3v1.3h-1.3zM178.7 214.1h1.3v1.3h-1.3zM189.9 229.5h1.3v1.3h-1.3zM194.9 223.9h1.3v1.3h-1.3zM179.6 226.9h1.3v1.3h-1.3zM191.4 230.1h1.3v1.3h-1.3zM180.2 230.8h1.3v1.3h-1.3zM178.3 221.9h1.3v1.3h-1.3zM180.8 232.1h1.3v1.3h-1.3zM203.3 231.8h1.3v1.3h-1.3zM172.6 228.8h1.3v1.3h-1.3zM197.4 223.1h1.3v1.3h-1.3zM194.7 216.3h1.3v1.3h-1.3zM166.4 232.4h1.3v1.3h-1.3zM168.5 232.0h1.3v1.3h-1.3zM183.6 218.9h1.3v1.3h-1.3zM201.6 224.4h1.3v1.3h-1.3zM186.9 230.6h1.3v1.3h-1.3zM184.2 210.7h1.3v1.3h-1.3zM196.2 220.7h1.3v1.3h-1.3zM199.2 216.1h1.3v1.3h-1.3zM183.0 225.4h1.3v1.3h-1.3zM189.8 218.2h1.3v1.3h-1.3zM194.5 224.9h1.3v1.3h-1.3zM200.7 231.5h1.3v1.3h-1.3zM200.1 205.8h1.3v1.3h-1.3zM190.9 205.0h1.3v1.3h-1.3zM180.2 214.0h1.3v1.3h-1.3zM200.0 231.9h1.3v1.3h-1.3zM194.0 201.5h1.3v1.3h-1.3zM196.0 221.2h1.3v1.3h-1.3zM170.5 231.2h1.3v1.3h-1.3zM167.5 230.9h1.3v1.3h-1.3zM197.3 221.8h1.3v1.3h-1.3zM201.3 231.1h1.3v1.3h-1.3zM181.1 228.4h1.3v1.3h-1.3zM203.3 210.7h1.3v1.3h-1.3zM182.9 231.7h1.3v1.3h-1.3zM186.7 219.4h1.3v1.3h-1.3zM197.8 209.7h1.3v1.3h-1.3zM186.7 224.2h1.3v1.3h-1.3zM178.6 230.8h1.3v1.3h-1.3zM172.3 225.8h1.3v1.3h-1.3zM197.6 216.9h1.3v1.3h-1.3zM198.6 221.4h1.3v1.3h-1.3zM186.2 208.2h1.3v1.3h-1.3zM201.2 197.4h1.3v1.3h-1.3zM202.6 196.5h1.3v1.3h-1.3zM184.5 213.3h1.3v1.3h-1.3zM199.6 201.0h1.3v1.3h-1.3zM198.2 212.9h1.3v1.3h-1.3zM170.4 220.3h1.3v1.3h-1.3zM174.5 216.6h1.3v1.3h-1.3zM166.0 230.6h1.3v1.3h-1.3zM171.4 229.8h1.3v1.3h-1.3zM171.3 225.8h1.3v1.3h-1.3zM164.1 232.9h1.3v1.3h-1.3zM167.6 224.5h1.3v1.3h-1.3zM180.6 227.3h1.3v1.3h-1.3zM172.9 229.1h1.3v1.3h-1.3zM200.9 206.6h1.3v1.3h-1.3zM180.9 226.3h1.3v1.3h-1.3zM199.2 213.1h1.3v1.3h-1.3zM185.2 232.2h1.3v1.3h-1.3zM181.8 213.0h1.3v1.3h-1.3zM192.8 213.7h1.3v1.3h-1.3zM174.0 220.9h1.3v1.3h-1.3zM176.3 229.0h1.3v1.3h-1.3zM187.7 207.6h1.3v1.3h-1.3zM170.0 232.7h1.3v1.3h-1.3zM173.3 228.8h1.3v1.3h-1.3zM173.1 219.1h1.3v1.3h-1.3zM183.5 221.2h1.3v1.3h-1.3zM177.9 219.2h1.3v1.3h-1.3zM166.8 227.8h1.3v1.3h-1.3zM201.2 208.6h1.3v1.3h-1.3zM204.3 208.6h1.3v1.3h-1.3zM156.4 230.7h1.3v1.3h-1.3zM160.7 190.0h1.3v1.3h-1.3zM201.7 200.3h1.3v1.3h-1.3z" fill="#000" fill-opacity="0.55"/>
<path d="M167.2 230.4h1.3v1.3h-1.3zM162.9 230.2h1.3v1.3h-1.3zM176.9 228.8h1.3v1.3h-1.3zM178.7 228.5h1.3v1.3h-1.3zM181.2 232.7h1.3v1.3h-1.3zM176.7 230.0h1.3v1.3h-1.3zM174.3 231.2h1.3v1.3h-1.3zM182.4 230.8h1.3v1.3h-1.3zM172.9 229.5h1.3v1.3h-1.3zM175.8 229.7h1.3v1.3h-1.3zM171.8 230.8h1.3v1.3h-1.3zM182.7 233.1h1.3v1.3h-1.3zM175.1 230.6h1.3v1.3h-1.3zM185.2 229.7h1.3v1.3h-1.3zM178.5 230.5h1.3v1.3h-1.3zM180.3 231.3h1.3v1.3h-1.3zM173.8 229.1h1.3v1.3h-1.3zM172.8 230.8h1.3v1.3h-1.3zM191.0 226.9h1.3v1.3h-1.3zM187.7 231.8h1.3v1.3h-1.3zM183.5 221.7h1.3v1.3h-1.3zM196.6 211.4h1.3v1.3h-1.3zM190.5 220.1h1.3v1.3h-1.3zM167.1 233.2h1.3v1.3h-1.3zM181.8 216.8h1.3v1.3h-1.3zM167.7 232.8h1.3v1.3h-1.3zM184.0 227.8h1.3v1.3h-1.3zM203.7 209.5h1.3v1.3h-1.3zM167.0 224.6h1.3v1.3h-1.3zM175.1 229.3h1.3v1.3h-1.3zM191.4 202.3h1.3v1.3h-1.3zM186.4 222.4h1.3v1.3h-1.3zM197.6 201.3h1.3v1.3h-1.3zM190.1 204.2h1.3v1.3h-1.3zM166.1 228.5h1.3v1.3h-1.3zM193.3 214.3h1.3v1.3h-1.3zM191.3 227.3h1.3v1.3h-1.3zM175.2 224.5h1.3v1.3h-1.3zM191.0 223.4h1.3v1.3h-1.3zM184.4 218.4h1.3v1.3h-1.3zM180.8 223.3h1.3v1.3h-1.3zM196.2 202.9h1.3v1.3h-1.3zM188.4 223.3h1.3v1.3h-1.3zM205.3 222.4h1.3v1.3h-1.3zM173.8 232.4h1.3v1.3h-1.3zM193.1 226.3h1.3v1.3h-1.3zM188.6 213.6h1.3v1.3h-1.3zM201.1 219.1h1.3v1.3h-1.3zM195.0 227.8h1.3v1.3h-1.3zM190.8 229.8h1.3v1.3h-1.3zM190.3 226.3h1.3v1.3h-1.3zM189.0 225.3h1.3v1.3h-1.3zM180.8 228.9h1.3v1.3h-1.3zM196.5 227.6h1.3v1.3h-1.3zM191.7 222.5h1.3v1.3h-1.3zM186.6 209.0h1.3v1.3h-1.3zM173.2 226.5h1.3v1.3h-1.3zM176.1 220.3h1.3v1.3h-1.3zM177.0 232.3h1.3v1.3h-1.3zM190.0 212.6h1.3v1.3h-1.3zM176.3 222.1h1.3v1.3h-1.3zM166.0 225.1h1.3v1.3h-1.3zM171.5 221.4h1.3v1.3h-1.3zM196.2 215.2h1.3v1.3h-1.3zM191.8 210.5h1.3v1.3h-1.3zM191.1 212.9h1.3v1.3h-1.3zM197.2 205.3h1.3v1.3h-1.3zM166.1 224.7h1.3v1.3h-1.3zM186.2 217.6h1.3v1.3h-1.3zM181.7 223.2h1.3v1.3h-1.3zM195.6 206.5h1.3v1.3h-1.3zM174.9 228.8h1.3v1.3h-1.3zM173.9 228.4h1.3v1.3h-1.3zM188.6 213.8h1.3v1.3h-1.3zM185.6 210.0h1.3v1.3h-1.3zM180.6 233.1h1.3v1.3h-1.3zM200.1 202.8h1.3v1.3h-1.3zM190.6 230.7h1.3v1.3h-1.3zM169.4 225.5h1.3v1.3h-1.3zM167.7 229.7h1.3v1.3h-1.3zM170.5 223.9h1.3v1.3h-1.3zM174.2 229.7h1.3v1.3h-1.3zM181.0 231.1h1.3v1.3h-1.3zM188.1 219.9h1.3v1.3h-1.3zM180.9 230.8h1.3v1.3h-1.3zM178.9 225.7h1.3v1.3h-1.3zM184.5 214.1h1.3v1.3h-1.3zM170.6 222.3h1.3v1.3h-1.3zM197.9 223.2h1.3v1.3h-1.3zM205.1 227.0h1.3v1.3h-1.3zM190.0 227.0h1.3v1.3h-1.3zM164.9 232.7h1.3v1.3h-1.3zM168.5 232.4h1.3v1.3h-1.3zM199.1 230.5h1.3v1.3h-1.3zM193.0 216.5h1.3v1.3h-1.3zM203.3 214.5h1.3v1.3h-1.3zM192.6 203.1h1.3v1.3h-1.3zM174.8 223.8h1.3v1.3h-1.3zM179.9 228.4h1.3v1.3h-1.3zM170.5 219.4h1.3v1.3h-1.3zM177.8 223.6h1.3v1.3h-1.3zM165.5 229.6h1.3v1.3h-1.3zM167.3 231.7h1.3v1.3h-1.3zM199.9 227.2h1.3v1.3h-1.3zM168.6 224.5h1.3v1.3h-1.3zM202.4 206.3h1.3v1.3h-1.3zM180.3 224.6h1.3v1.3h-1.3zM185.1 229.8h1.3v1.3h-1.3zM181.3 230.5h1.3v1.3h-1.3zM191.0 227.3h1.3v1.3h-1.3zM200.0 195.2h1.3v1.3h-1.3zM204.1 197.1h1.3v1.3h-1.3zM200.7 197.6h1.3v1.3h-1.3zM202.6 224.8h1.3v1.3h-1.3zM203.3 205.1h1.3v1.3h-1.3zM207.6 207.5h1.3v1.3h-1.3zM201.8 194.7h1.3v1.3h-1.3zM200.3 215.3h1.3v1.3h-1.3z" fill="#000" fill-opacity="0.55"/>
<path d="M283.0 198.4h1.3v1.3h-1.3zM274.7 192.7h1.3v1.3h-1.3zM268.4 195.2h1.3v1.3h-1.3zM267.0 184.8h1.3v1.3h-1.3zM260.0 193.8h1.3v1.3h-1.3zM271.9 186.6h1.3v1.3h-1.3zM257.6 192.3h1.3v1.3h-1.3zM272.7 195.7h1.3v1.3h-1.3zM260.8 191.6h1.3v1.3h-1.3zM265.0 194.7h1.3v1.3h-1.3zM278.1 199.6h1.3v1.3h-1.3zM262.2 190.8h1.3v1.3h-1.3zM276.4 195.0h1.3v1.3h-1.3zM263.8 197.1h1.3v1.3h-1.3zM268.9 193.8h1.3v1.3h-1.3zM273.3 192.1h1.3v1.3h-1.3zM266.4 195.9h1.3v1.3h-1.3zM269.4 196.3h1.3v1.3h-1.3zM268.5 196.3h1.3v1.3h-1.3zM273.1 196.5h1.3v1.3h-1.3zM277.4 194.2h1.3v1.3h-1.3zM270.7 200.2h1.3v1.3h-1.3zM253.8 193.5h1.3v1.3h-1.3zM279.8 194.9h1.3v1.3h-1.3zM251.5 193.7h1.3v1.3h-1.3zM274.8 192.9h1.3v1.3h-1.3zM274.6 199.0h1.3v1.3h-1.3zM271.6 194.4h1.3v1.3h-1.3zM270.7 197.6h1.3v1.3h-1.3zM276.1 197.9h1.3v1.3h-1.3zM277.0 194.9h1.3v1.3h-1.3zM283.6 195.0h1.3v1.3h-1.3zM265.2 193.1h1.3v1.3h-1.3zM269.6 195.3h1.3v1.3h-1.3zM252.4 198.9h1.3v1.3h-1.3zM256.0 192.9h1.3v1.3h-1.3zM275.4 199.7h1.3v1.3h-1.3zM260.0 198.4h1.3v1.3h-1.3zM264.5 194.1h1.3v1.3h-1.3zM256.0 189.3h1.3v1.3h-1.3zM274.7 195.7h1.3v1.3h-1.3zM270.6 199.5h1.3v1.3h-1.3zM274.9 194.3h1.3v1.3h-1.3zM252.3 196.3h1.3v1.3h-1.3zM261.0 194.2h1.3v1.3h-1.3zM265.9 196.0h1.3v1.3h-1.3zM266.2 197.0h1.3v1.3h-1.3zM285.6 197.4h1.3v1.3h-1.3zM274.2 197.0h1.3v1.3h-1.3zM259.7 195.6h1.3v1.3h-1.3zM276.7 195.0h1.3v1.3h-1.3zM254.2 197.5h1.3v1.3h-1.3zM275.9 196.5h1.3v1.3h-1.3zM247.7 191.7h1.3v1.3h-1.3zM284.6 196.1h1.3v1.3h-1.3zM268.4 195.8h1.3v1.3h-1.3zM277.1 195.3h1.3v1.3h-1.3zM267.7 196.4h1.3v1.3h-1.3zM264.9 195.5h1.3v1.3h-1.3zM255.9 197.8h1.3v1.3h-1.3zM248.8 191.8h1.3v1.3h-1.3zM251.5 196.2h1.3v1.3h-1.3zM269.6 193.0h1.3v1.3h-1.3zM262.5 192.1h1.3v1.3h-1.3zM282.4 196.6h1.3v1.3h-1.3zM244.0 195.1h1.3v1.3h-1.3zM268.0 199.0h1.3v1.3h-1.3zM270.2 194.7h1.3v1.3h-1.3zM261.6 198.5h1.3v1.3h-1.3zM255.6 190.5h1.3v1.3h-1.3zM278.5 188.6h1.3v1.3h-1.3zM267.6 196.3h1.3v1.3h-1.3zM273.4 197.2h1.3v1.3h-1.3zM278.9 192.7h1.3v1.3h-1.3zM265.8 194.0h1.3v1.3h-1.3zM280.8 194.8h1.3v1.3h-1.3zM265.4 199.1h1.3v1.3h-1.3zM276.3 193.0h1.3v1.3h-1.3zM254.6 196.1h1.3v1.3h-1.3zM265.1 191.7h1.3v1.3h-1.3zM278.9 195.9h1.3v1.3h-1.3zM270.8 195.3h1.3v1.3h-1.3zM263.1 196.3h1.3v1.3h-1.3zM267.3 190.4h1.3v1.3h-1.3zM271.4 192.0h1.3v1.3h-1.3zM269.9 193.0h1.3v1.3h-1.3zM249.4 193.3h1.3v1.3h-1.3zM277.7 191.8h1.3v1.3h-1.3zM261.7 189.8h1.3v1.3h-1.3zM273.7 196.4h1.3v1.3h-1.3zM251.2 201.3h1.3v1.3h-1.3zM266.3 191.7h1.3v1.3h-1.3zM253.7 192.2h1.3v1.3h-1.3zM261.6 192.2h1.3v1.3h-1.3zM264.5 196.4h1.3v1.3h-1.3zM270.4 188.1h1.3v1.3h-1.3zM266.3 196.5h1.3v1.3h-1.3zM264.5 196.0h1.3v1.3h-1.3zM270.2 196.9h1.3v1.3h-1.3zM276.8 197.4h1.3v1.3h-1.3zM276.1 192.1h1.3v1.3h-1.3zM268.3 196.1h1.3v1.3h-1.3zM261.3 197.8h1.3v1.3h-1.3zM274.4 194.0h1.3v1.3h-1.3zM268.9 200.2h1.3v1.3h-1.3zM271.3 192.0h1.3v1.3h-1.3zM262.5 194.6h1.3v1.3h-1.3zM272.7 194.1h1.3v1.3h-1.3zM276.8 203.7h1.3v1.3h-1.3zM272.8 192.6h1.3v1.3h-1.3zM276.1 194.6h1.3v1.3h-1.3zM266.3 195.4h1.3v1.3h-1.3zM266.6 198.2h1.3v1.3h-1.3zM263.8 192.2h1.3v1.3h-1.3zM274.2 194.0h1.3v1.3h-1.3zM272.7 193.2h1.3v1.3h-1.3zM254.5 192.8h1.3v1.3h-1.3zM274.9 194.6h1.3v1.3h-1.3zM266.4 190.5h1.3v1.3h-1.3zM254.6 199.2h1.3v1.3h-1.3zM268.7 194.7h1.3v1.3h-1.3zM253.4 192.5h1.3v1.3h-1.3zM261.3 196.4h1.3v1.3h-1.3zM287.8 191.9h1.3v1.3h-1.3zM279.2 208.5h1.3v1.3h-1.3zM287.9 193.0h1.3v1.3h-1.3zM283.3 195.5h1.3v1.3h-1.3zM281.7 200.5h1.3v1.3h-1.3zM279.0 201.3h1.3v1.3h-1.3zM270.2 195.9h1.3v1.3h-1.3zM279.1 202.3h1.3v1.3h-1.3zM274.8 200.9h1.3v1.3h-1.3zM284.5 197.1h1.3v1.3h-1.3zM284.2 203.7h1.3v1.3h-1.3zM296.1 192.0h1.3v1.3h-1.3zM304.4 204.9h1.3v1.3h-1.3zM272.1 200.7h1.3v1.3h-1.3zM286.9 195.9h1.3v1.3h-1.3zM285.7 204.6h1.3v1.3h-1.3zM281.5 199.2h1.3v1.3h-1.3zM284.5 203.1h1.3v1.3h-1.3zM286.2 193.7h1.3v1.3h-1.3zM286.1 203.9h1.3v1.3h-1.3zM284.5 193.6h1.3v1.3h-1.3zM262.0 223.1h1.3v1.3h-1.3zM283.2 211.9h1.3v1.3h-1.3zM246.2 220.6h1.3v1.3h-1.3zM281.5 214.9h1.3v1.3h-1.3zM265.6 220.9h1.3v1.3h-1.3zM282.6 219.2h1.3v1.3h-1.3zM261.2 223.9h1.3v1.3h-1.3zM265.5 215.8h1.3v1.3h-1.3zM252.6 214.9h1.3v1.3h-1.3zM281.3 217.4h1.3v1.3h-1.3zM284.8 218.9h1.3v1.3h-1.3zM272.6 222.2h1.3v1.3h-1.3zM256.9 231.6h1.3v1.3h-1.3zM272.7 212.8h1.3v1.3h-1.3zM272.0 217.5h1.3v1.3h-1.3zM280.4 227.3h1.3v1.3h-1.3zM271.7 209.2h1.3v1.3h-1.3zM270.8 224.4h1.3v1.3h-1.3zM265.9 214.7h1.3v1.3h-1.3zM264.8 210.4h1.3v1.3h-1.3zM273.7 224.6h1.3v1.3h-1.3zM271.4 212.0h1.3v1.3h-1.3zM252.1 197.8h1.3v1.3h-1.3zM259.5 199.1h1.3v1.3h-1.3zM259.1 188.5h1.3v1.3h-1.3zM259.4 195.5h1.3v1.3h-1.3zM252.3 192.9h1.3v1.3h-1.3zM253.6 201.0h1.3v1.3h-1.3zM249.5 198.5h1.3v1.3h-1.3zM253.8 194.4h1.3v1.3h-1.3z" fill="#000" fill-opacity="0.55"/>
<path d="M258.5 190.9h1.3v1.3h-1.3zM259.9 191.7h1.3v1.3h-1.3zM273.4 195.4h1.3v1.3h-1.3zM264.1 200.5h1.3v1.3h-1.3zM269.6 194.0h1.3v1.3h-1.3zM257.1 191.4h1.3v1.3h-1.3zM266.0 191.2h1.3v1.3h-1.3zM263.0 198.4h1.3v1.3h-1.3zM259.3 196.9h1.3v1.3h-1.3zM257.1 198.3h1.3v1.3h-1.3zM270.3 194.7h1.3v1.3h-1.3zM276.5 196.6h1.3v1.3h-1.3zM281.4 201.4h1.3v1.3h-1.3zM275.1 194.7h1.3v1.3h-1.3zM271.7 193.0h1.3v1.3h-1.3zM267.5 194.5h1.3v1.3h-1.3zM262.3 195.5h1.3v1.3h-1.3zM261.3 197.1h1.3v1.3h-1.3zM275.2 196.1h1.3v1.3h-1.3zM263.0 194.3h1.3v1.3h-1.3zM265.1 189.9h1.3v1.3h-1.3zM275.5 198.2h1.3v1.3h-1.3zM283.1 196.0h1.3v1.3h-1.3zM261.2 187.4h1.3v1.3h-1.3zM267.6 194.4h1.3v1.3h-1.3zM265.2 195.4h1.3v1.3h-1.3zM274.2 200.0h1.3v1.3h-1.3zM260.1 194.6h1.3v1.3h-1.3zM251.4 189.1h1.3v1.3h-1.3zM248.3 186.2h1.3v1.3h-1.3zM265.2 193.3h1.3v1.3h-1.3zM280.0 195.1h1.3v1.3h-1.3zM275.1 196.8h1.3v1.3h-1.3zM263.2 194.4h1.3v1.3h-1.3zM265.3 196.1h1.3v1.3h-1.3zM280.9 193.6h1.3v1.3h-1.3zM270.1 194.9h1.3v1.3h-1.3zM266.8 193.3h1.3v1.3h-1.3zM279.1 202.6h1.3v1.3h-1.3zM267.6 195.3h1.3v1.3h-1.3zM272.7 194.7h1.3v1.3h-1.3zM261.4 190.7h1.3v1.3h-1.3zM269.1 196.0h1.3v1.3h-1.3zM279.7 193.5h1.3v1.3h-1.3zM260.2 192.9h1.3v1.3h-1.3zM256.3 196.1h1.3v1.3h-1.3zM257.6 192.5h1.3v1.3h-1.3zM268.8 198.5h1.3v1.3h-1.3zM257.8 196.1h1.3v1.3h-1.3zM261.6 194.8h1.3v1.3h-1.3zM273.5 192.7h1.3v1.3h-1.3zM269.4 191.2h1.3v1.3h-1.3zM264.0 193.2h1.3v1.3h-1.3zM255.7 189.1h1.3v1.3h-1.3zM257.1 194.5h1.3v1.3h-1.3zM270.9 195.2h1.3v1.3h-1.3zM271.5 196.9h1.3v1.3h-1.3zM254.3 187.6h1.3v1.3h-1.3zM255.8 195.0h1.3v1.3h-1.3zM275.3 196.1h1.3v1.3h-1.3zM271.8 197.9h1.3v1.3h-1.3zM270.1 192.2h1.3v1.3h-1.3zM270.3 197.4h1.3v1.3h-1.3zM267.0 194.4h1.3v1.3h-1.3zM261.4 191.5h1.3v1.3h-1.3zM259.2 190.3h1.3v1.3h-1.3zM263.3 196.1h1.3v1.3h-1.3zM250.5 193.6h1.3v1.3h-1.3zM265.9 194.8h1.3v1.3h-1.3zM266.5 195.2h1.3v1.3h-1.3zM259.5 193.0h1.3v1.3h-1.3zM263.2 197.3h1.3v1.3h-1.3zM273.5 195.3h1.3v1.3h-1.3zM271.0 190.3h1.3v1.3h-1.3zM262.6 192.1h1.3v1.3h-1.3zM270.2 191.0h1.3v1.3h-1.3zM254.0 196.4h1.3v1.3h-1.3zM260.0 191.5h1.3v1.3h-1.3zM261.2 194.3h1.3v1.3h-1.3zM260.0 195.5h1.3v1.3h-1.3zM260.5 194.9h1.3v1.3h-1.3zM262.4 198.0h1.3v1.3h-1.3zM268.8 191.2h1.3v1.3h-1.3zM258.1 198.6h1.3v1.3h-1.3zM264.4 192.8h1.3v1.3h-1.3zM268.4 196.9h1.3v1.3h-1.3zM280.4 190.2h1.3v1.3h-1.3zM270.2 195.6h1.3v1.3h-1.3zM256.3 194.8h1.3v1.3h-1.3zM271.6 202.3h1.3v1.3h-1.3zM267.7 192.6h1.3v1.3h-1.3zM264.5 195.0h1.3v1.3h-1.3zM265.0 194.0h1.3v1.3h-1.3zM272.0 195.7h1.3v1.3h-1.3zM260.8 195.1h1.3v1.3h-1.3zM267.0 188.3h1.3v1.3h-1.3zM265.2 193.5h1.3v1.3h-1.3zM282.2 187.2h1.3v1.3h-1.3zM262.2 185.2h1.3v1.3h-1.3zM271.9 189.7h1.3v1.3h-1.3zM256.2 196.3h1.3v1.3h-1.3zM263.5 195.1h1.3v1.3h-1.3zM270.7 193.4h1.3v1.3h-1.3zM266.7 197.2h1.3v1.3h-1.3zM265.0 193.8h1.3v1.3h-1.3zM270.8 193.2h1.3v1.3h-1.3zM260.1 194.5h1.3v1.3h-1.3zM287.1 202.3h1.3v1.3h-1.3zM299.2 198.8h1.3v1.3h-1.3zM278.6 195.5h1.3v1.3h-1.3zM283.1 197.4h1.3v1.3h-1.3zM289.6 199.9h1.3v1.3h-1.3zM277.5 203.9h1.3v1.3h-1.3zM290.3 197.9h1.3v1.3h-1.3zM284.7 199.1h1.3v1.3h-1.3zM276.6 204.4h1.3v1.3h-1.3zM272.0 199.8h1.3v1.3h-1.3zM282.7 201.7h1.3v1.3h-1.3zM287.3 192.6h1.3v1.3h-1.3zM293.0 200.3h1.3v1.3h-1.3zM280.9 197.9h1.3v1.3h-1.3zM283.7 191.2h1.3v1.3h-1.3zM283.3 207.3h1.3v1.3h-1.3zM280.8 202.2h1.3v1.3h-1.3zM289.1 201.5h1.3v1.3h-1.3zM284.3 199.0h1.3v1.3h-1.3zM277.3 203.7h1.3v1.3h-1.3zM295.0 195.1h1.3v1.3h-1.3zM274.8 213.9h1.3v1.3h-1.3zM271.1 226.8h1.3v1.3h-1.3zM293.6 226.4h1.3v1.3h-1.3zM272.6 230.5h1.3v1.3h-1.3zM258.6 221.2h1.3v1.3h-1.3zM278.0 230.0h1.3v1.3h-1.3zM270.9 218.3h1.3v1.3h-1.3zM277.4 217.9h1.3v1.3h-1.3zM292.8 211.1h1.3v1.3h-1.3zM287.6 224.5h1.3v1.3h-1.3zM263.1 231.9h1.3v1.3h-1.3zM282.3 216.0h1.3v1.3h-1.3zM255.5 222.0h1.3v1.3h-1.3zM254.2 193.5h1.3v1.3h-1.3zM254.7 194.2h1.3v1.3h-1.3zM250.1 197.8h1.3v1.3h-1.3z" fill="#000" fill-opacity="0.55"/>
<path d="M257.9 193.3h1.3v1.3h-1.3zM253.8 197.8h1.3v1.3h-1.3zM254.9 194.7h1.3v1.3h-1.3zM250.1 190.0h1.3v1.3h-1.3zM246.2 190.4h1.3v1.3h-1.3zM263.2 193.9h1.3v1.3h-1.3zM270.1 198.3h1.3v1.3h-1.3zM258.3 191.7h1.3v1.3h-1.3zM263.8 191.6h1.3v1.3h-1.3zM256.1 191.9h1.3v1.3h-1.3zM270.0 193.4h1.3v1.3h-1.3zM259.8 191.2h1.3v1.3h-1.3zM260.4 193.2h1.3v1.3h-1.3zM270.7 190.3h1.3v1.3h-1.3zM255.9 193.9h1.3v1.3h-1.3zM269.7 199.4h1.3v1.3h-1.3zM274.1 194.4h1.3v1.3h-1.3zM255.2 196.7h1.3v1.3h-1.3zM272.3 197.6h1.3v1.3h-1.3zM277.3 192.4h1.3v1.3h-1.3zM270.6 192.8h1.3v1.3h-1.3zM257.7 199.3h1.3v1.3h-1.3zM280.5 193.7h1.3v1.3h-1.3zM258.9 193.3h1.3v1.3h-1.3zM281.2 193.3h1.3v1.3h-1.3zM268.6 197.8h1.3v1.3h-1.3zM263.6 195.0h1.3v1.3h-1.3zM260.0 186.6h1.3v1.3h-1.3zM280.8 197.5h1.3v1.3h-1.3zM269.7 198.1h1.3v1.3h-1.3zM269.5 193.5h1.3v1.3h-1.3zM277.8 196.5h1.3v1.3h-1.3zM254.8 193.1h1.3v1.3h-1.3zM268.3 192.5h1.3v1.3h-1.3zM273.9 192.3h1.3v1.3h-1.3zM273.9 199.8h1.3v1.3h-1.3zM260.5 195.2h1.3v1.3h-1.3zM255.1 197.4h1.3v1.3h-1.3zM249.0 193.2h1.3v1.3h-1.3zM265.1 194.0h1.3v1.3h-1.3zM246.1 191.9h1.3v1.3h-1.3zM281.6 192.8h1.3v1.3h-1.3zM260.0 191.3h1.3v1.3h-1.3zM267.2 190.7h1.3v1.3h-1.3zM254.4 189.8h1.3v1.3h-1.3zM270.7 199.8h1.3v1.3h-1.3zM273.7 199.5h1.3v1.3h-1.3zM269.1 194.4h1.3v1.3h-1.3zM254.1 195.2h1.3v1.3h-1.3zM275.4 197.9h1.3v1.3h-1.3zM267.2 192.4h1.3v1.3h-1.3zM258.9 189.4h1.3v1.3h-1.3zM262.3 195.5h1.3v1.3h-1.3zM257.0 191.2h1.3v1.3h-1.3zM268.4 199.9h1.3v1.3h-1.3zM253.9 194.8h1.3v1.3h-1.3zM256.1 195.9h1.3v1.3h-1.3zM266.9 194.1h1.3v1.3h-1.3zM266.9 200.9h1.3v1.3h-1.3zM264.6 190.4h1.3v1.3h-1.3zM268.5 189.6h1.3v1.3h-1.3zM262.9 191.3h1.3v1.3h-1.3zM266.6 190.3h1.3v1.3h-1.3zM262.4 193.6h1.3v1.3h-1.3zM268.9 193.4h1.3v1.3h-1.3zM268.7 195.8h1.3v1.3h-1.3zM270.9 196.7h1.3v1.3h-1.3zM255.3 192.0h1.3v1.3h-1.3zM266.9 195.3h1.3v1.3h-1.3zM253.8 194.5h1.3v1.3h-1.3zM253.5 192.5h1.3v1.3h-1.3zM253.4 194.4h1.3v1.3h-1.3zM269.1 196.3h1.3v1.3h-1.3zM269.5 194.7h1.3v1.3h-1.3zM268.5 196.9h1.3v1.3h-1.3zM269.8 198.1h1.3v1.3h-1.3zM268.1 193.9h1.3v1.3h-1.3zM272.7 195.7h1.3v1.3h-1.3zM275.8 192.6h1.3v1.3h-1.3zM267.1 200.3h1.3v1.3h-1.3zM254.7 193.5h1.3v1.3h-1.3zM270.3 198.4h1.3v1.3h-1.3zM265.5 187.1h1.3v1.3h-1.3zM260.0 189.3h1.3v1.3h-1.3zM248.2 189.2h1.3v1.3h-1.3zM256.0 190.3h1.3v1.3h-1.3zM268.1 192.2h1.3v1.3h-1.3zM265.7 196.5h1.3v1.3h-1.3zM276.7 193.6h1.3v1.3h-1.3zM261.3 193.8h1.3v1.3h-1.3zM258.2 192.7h1.3v1.3h-1.3zM258.7 194.6h1.3v1.3h-1.3zM265.5 193.6h1.3v1.3h-1.3zM275.6 199.4h1.3v1.3h-1.3zM260.0 192.3h1.3v1.3h-1.3zM268.2 196.2h1.3v1.3h-1.3zM262.1 186.9h1.3v1.3h-1.3zM260.5 192.9h1.3v1.3h-1.3zM268.2 189.9h1.3v1.3h-1.3zM253.6 191.1h1.3v1.3h-1.3zM265.2 191.8h1.3v1.3h-1.3zM273.2 194.8h1.3v1.3h-1.3zM262.2 195.0h1.3v1.3h-1.3zM275.5 194.3h1.3v1.3h-1.3zM270.4 197.2h1.3v1.3h-1.3zM279.2 195.3h1.3v1.3h-1.3zM274.7 198.0h1.3v1.3h-1.3zM280.9 204.0h1.3v1.3h-1.3zM285.5 206.4h1.3v1.3h-1.3zM282.5 201.1h1.3v1.3h-1.3zM281.6 199.5h1.3v1.3h-1.3zM286.6 192.3h1.3v1.3h-1.3zM285.3 205.4h1.3v1.3h-1.3zM285.9 197.7h1.3v1.3h-1.3zM288.7 201.9h1.3v1.3h-1.3zM284.0 199.0h1.3v1.3h-1.3zM282.7 199.8h1.3v1.3h-1.3zM288.5 198.5h1.3v1.3h-1.3zM289.2 196.9h1.3v1.3h-1.3zM285.5 190.0h1.3v1.3h-1.3zM284.0 195.3h1.3v1.3h-1.3zM273.2 206.6h1.3v1.3h-1.3zM272.0 188.1h1.3v1.3h-1.3zM282.1 210.0h1.3v1.3h-1.3zM285.5 197.5h1.3v1.3h-1.3zM282.7 204.1h1.3v1.3h-1.3zM282.4 193.7h1.3v1.3h-1.3zM289.4 193.4h1.3v1.3h-1.3zM279.9 195.6h1.3v1.3h-1.3zM284.1 198.8h1.3v1.3h-1.3zM289.1 194.9h1.3v1.3h-1.3zM286.0 197.8h1.3v1.3h-1.3zM279.7 205.9h1.3v1.3h-1.3zM288.4 201.1h1.3v1.3h-1.3zM284.3 197.1h1.3v1.3h-1.3zM275.6 190.3h1.3v1.3h-1.3zM289.7 204.5h1.3v1.3h-1.3zM293.9 198.1h1.3v1.3h-1.3zM278.1 200.8h1.3v1.3h-1.3zM300.4 197.1h1.3v1.3h-1.3zM270.9 202.3h1.3v1.3h-1.3zM280.4 200.0h1.3v1.3h-1.3zM280.7 199.6h1.3v1.3h-1.3zM270.6 205.1h1.3v1.3h-1.3zM277.6 194.6h1.3v1.3h-1.3zM286.5 200.5h1.3v1.3h-1.3zM273.4 199.8h1.3v1.3h-1.3zM259.1 232.7h1.3v1.3h-1.3zM284.0 214.2h1.3v1.3h-1.3zM270.8 221.8h1.3v1.3h-1.3zM276.9 215.5h1.3v1.3h-1.3zM283.2 229.2h1.3v1.3h-1.3zM259.6 217.7h1.3v1.3h-1.3zM291.4 213.3h1.3v1.3h-1.3zM272.1 228.1h1.3v1.3h-1.3zM273.9 224.3h1.3v1.3h-1.3zM261.1 214.5h1.3v1.3h-1.3zM272.9 225.1h1.3v1.3h-1.3zM281.6 213.9h1.3v1.3h-1.3zM253.7 194.2h1.3v1.3h-1.3zM256.6 195.4h1.3v1.3h-1.3zM257.2 194.0h1.3v1.3h-1.3zM249.1 194.5h1.3v1.3h-1.3zM256.5 198.3h1.3v1.3h-1.3zM255.1 190.7h1.3v1.3h-1.3zM254.8 190.0h1.3v1.3h-1.3zM253.5 192.1h1.3v1.3h-1.3zM255.0 190.1h1.3v1.3h-1.3zM255.0 198.8h1.3v1.3h-1.3zM257.1 197.8h1.3v1.3h-1.3zM262.7 203.8h1.3v1.3h-1.3z" fill="#000" fill-opacity="0.55"/>
<path d="M250.6 185.5h1.3v1.3h-1.3zM272.7 197.3h1.3v1.3h-1.3zM265.2 194.8h1.3v1.3h-1.3zM270.2 200.3h1.3v1.3h-1.3zM264.7 194.5h1.3v1.3h-1.3zM253.0 192.2h1.3v1.3h-1.3zM259.2 190.5h1.3v1.3h-1.3zM266.9 196.7h1.3v1.3h-1.3zM265.0 194.6h1.3v1.3h-1.3zM270.4 193.3h1.3v1.3h-1.3zM264.6 195.6h1.3v1.3h-1.3zM271.0 196.7h1.3v1.3h-1.3zM254.8 197.0h1.3v1.3h-1.3zM269.3 195.2h1.3v1.3h-1.3zM260.4 194.7h1.3v1.3h-1.3zM266.0 199.8h1.3v1.3h-1.3zM264.8 193.0h1.3v1.3h-1.3zM275.2 196.8h1.3v1.3h-1.3zM260.3 200.4h1.3v1.3h-1.3zM257.5 193.1h1.3v1.3h-1.3zM271.4 195.7h1.3v1.3h-1.3zM267.3 192.1h1.3v1.3h-1.3zM273.8 197.7h1.3v1.3h-1.3zM269.6 193.3h1.3v1.3h-1.3zM286.1 190.4h1.3v1.3h-1.3zM269.1 194.6h1.3v1.3h-1.3zM261.8 190.3h1.3v1.3h-1.3zM257.7 193.3h1.3v1.3h-1.3zM264.1 191.3h1.3v1.3h-1.3zM262.6 190.8h1.3v1.3h-1.3zM273.1 192.6h1.3v1.3h-1.3zM266.1 200.3h1.3v1.3h-1.3zM259.8 195.0h1.3v1.3h-1.3zM258.9 194.5h1.3v1.3h-1.3zM256.5 192.5h1.3v1.3h-1.3zM273.3 197.5h1.3v1.3h-1.3zM261.1 194.6h1.3v1.3h-1.3zM253.2 195.9h1.3v1.3h-1.3zM264.8 198.2h1.3v1.3h-1.3zM260.0 190.5h1.3v1.3h-1.3zM271.0 191.2h1.3v1.3h-1.3zM255.3 194.3h1.3v1.3h-1.3zM265.7 193.1h1.3v1.3h-1.3zM263.3 189.5h1.3v1.3h-1.3zM274.1 198.4h1.3v1.3h-1.3zM271.6 199.9h1.3v1.3h-1.3zM275.5 197.6h1.3v1.3h-1.3zM269.9 196.1h1.3v1.3h-1.3zM257.5 196.7h1.3v1.3h-1.3zM267.6 196.6h1.3v1.3h-1.3zM260.8 193.6h1.3v1.3h-1.3zM271.0 195.4h1.3v1.3h-1.3zM257.0 190.8h1.3v1.3h-1.3zM274.5 195.7h1.3v1.3h-1.3zM277.0 194.4h1.3v1.3h-1.3zM275.4 194.5h1.3v1.3h-1.3zM272.0 197.0h1.3v1.3h-1.3zM263.9 188.8h1.3v1.3h-1.3zM266.9 198.9h1.3v1.3h-1.3zM271.8 191.0h1.3v1.3h-1.3zM268.3 192.8h1.3v1.3h-1.3zM247.0 198.7h1.3v1.3h-1.3zM252.5 190.5h1.3v1.3h-1.3zM263.6 191.5h1.3v1.3h-1.3zM272.9 195.6h1.3v1.3h-1.3zM260.4 196.8h1.3v1.3h-1.3zM264.3 198.6h1.3v1.3h-1.3zM267.1 195.6h1.3v1.3h-1.3zM272.1 194.9h1.3v1.3h-1.3zM270.0 196.5h1.3v1.3h-1.3zM253.6 191.4h1.3v1.3h-1.3zM262.3 196.5h1.3v1.3h-1.3zM254.7 197.7h1.3v1.3h-1.3zM259.7 191.0h1.3v1.3h-1.3zM257.6 193.6h1.3v1.3h-1.3zM266.7 196.6h1.3v1.3h-1.3zM269.5 196.6h1.3v1.3h-1.3zM271.9 188.0h1.3v1.3h-1.3zM280.3 192.3h1.3v1.3h-1.3zM283.4 199.9h1.3v1.3h-1.3zM246.8 190.4h1.3v1.3h-1.3zM265.8 198.4h1.3v1.3h-1.3zM270.6 200.0h1.3v1.3h-1.3zM242.5 192.4h1.3v1.3h-1.3zM251.0 195.7h1.3v1.3h-1.3zM257.5 193.7h1.3v1.3h-1.3zM252.6 194.1h1.3v1.3h-1.3zM257.2 196.9h1.3v1.3h-1.3zM262.7 189.0h1.3v1.3h-1.3zM260.7 197.9h1.3v1.3h-1.3zM253.1 192.4h1.3v1.3h-1.3zM280.4 198.3h1.3v1.3h-1.3zM265.0 192.9h1.3v1.3h-1.3zM262.1 195.9h1.3v1.3h-1.3zM277.7 190.3h1.3v1.3h-1.3zM264.3 192.1h1.3v1.3h-1.3zM266.5 192.4h1.3v1.3h-1.3zM266.1 195.3h1.3v1.3h-1.3zM269.3 193.8h1.3v1.3h-1.3zM272.3 195.3h1.3v1.3h-1.3zM272.7 194.2h1.3v1.3h-1.3zM254.0 199.8h1.3v1.3h-1.3zM271.8 198.9h1.3v1.3h-1.3zM277.3 197.1h1.3v1.3h-1.3zM256.4 193.1h1.3v1.3h-1.3zM260.3 200.4h1.3v1.3h-1.3zM269.2 195.3h1.3v1.3h-1.3zM265.6 193.6h1.3v1.3h-1.3zM267.6 197.9h1.3v1.3h-1.3zM272.6 197.9h1.3v1.3h-1.3zM271.1 190.6h1.3v1.3h-1.3zM271.3 200.6h1.3v1.3h-1.3zM253.0 188.3h1.3v1.3h-1.3zM270.8 195.4h1.3v1.3h-1.3zM268.5 193.9h1.3v1.3h-1.3zM259.2 195.7h1.3v1.3h-1.3zM258.4 192.6h1.3v1.3h-1.3zM259.8 193.1h1.3v1.3h-1.3zM273.7 203.5h1.3v1.3h-1.3zM270.5 190.6h1.3v1.3h-1.3zM265.5 193.7h1.3v1.3h-1.3zM267.6 197.7h1.3v1.3h-1.3zM281.3 192.7h1.3v1.3h-1.3zM264.7 195.6h1.3v1.3h-1.3zM275.9 202.7h1.3v1.3h-1.3zM285.5 199.7h1.3v1.3h-1.3zM286.9 204.6h1.3v1.3h-1.3zM276.2 198.5h1.3v1.3h-1.3zM286.8 194.0h1.3v1.3h-1.3zM277.5 211.4h1.3v1.3h-1.3zM296.7 193.2h1.3v1.3h-1.3zM284.5 201.9h1.3v1.3h-1.3zM288.3 208.6h1.3v1.3h-1.3zM285.6 196.4h1.3v1.3h-1.3zM280.1 203.1h1.3v1.3h-1.3zM286.8 196.6h1.3v1.3h-1.3zM279.4 204.2h1.3v1.3h-1.3zM286.0 197.4h1.3v1.3h-1.3zM285.5 206.2h1.3v1.3h-1.3zM283.0 195.6h1.3v1.3h-1.3zM283.1 189.2h1.3v1.3h-1.3zM296.2 200.5h1.3v1.3h-1.3zM284.7 204.1h1.3v1.3h-1.3zM280.2 198.2h1.3v1.3h-1.3zM266.7 203.4h1.3v1.3h-1.3zM285.9 205.0h1.3v1.3h-1.3zM282.4 198.3h1.3v1.3h-1.3zM272.0 191.7h1.3v1.3h-1.3zM282.5 194.4h1.3v1.3h-1.3zM275.2 197.4h1.3v1.3h-1.3zM289.4 226.6h1.3v1.3h-1.3zM271.1 226.8h1.3v1.3h-1.3zM267.7 221.1h1.3v1.3h-1.3zM274.9 219.8h1.3v1.3h-1.3zM266.2 221.8h1.3v1.3h-1.3zM273.6 223.9h1.3v1.3h-1.3zM273.8 222.1h1.3v1.3h-1.3zM267.0 223.8h1.3v1.3h-1.3zM259.7 225.7h1.3v1.3h-1.3zM287.6 219.0h1.3v1.3h-1.3zM263.5 224.7h1.3v1.3h-1.3zM280.5 211.2h1.3v1.3h-1.3zM270.0 215.5h1.3v1.3h-1.3zM258.1 193.1h1.3v1.3h-1.3zM251.6 200.5h1.3v1.3h-1.3zM252.2 195.0h1.3v1.3h-1.3zM257.2 192.8h1.3v1.3h-1.3zM250.3 194.9h1.3v1.3h-1.3zM248.3 198.5h1.3v1.3h-1.3zM248.8 189.8h1.3v1.3h-1.3zM249.5 196.3h1.3v1.3h-1.3zM255.0 193.5h1.3v1.3h-1.3z" fill="#000" fill-opacity="0.55"/>
<path d="M266.5 194.1h1.3v1.3h-1.3zM267.1 196.4h1.3v1.3h-1.3zM260.8 188.9h1.3v1.3h-1.3zM266.5 197.0h1.3v1.3h-1.3zM265.3 199.2h1.3v1.3h-1.3zM261.5 192.0h1.3v1.3h-1.3zM256.8 194.5h1.3v1.3h-1.3zM262.1 194.8h1.3v1.3h-1.3zM257.8 190.7h1.3v1.3h-1.3zM284.0 200.6h1.3v1.3h-1.3zM261.8 196.1h1.3v1.3h-1.3zM262.9 196.8h1.3v1.3h-1.3zM262.8 192.7h1.3v1.3h-1.3zM268.3 192.8h1.3v1.3h-1.3zM276.1 196.9h1.3v1.3h-1.3zM269.9 192.7h1.3v1.3h-1.3zM250.4 195.7h1.3v1.3h-1.3zM264.1 187.8h1.3v1.3h-1.3zM256.9 193.6h1.3v1.3h-1.3zM243.4 189.5h1.3v1.3h-1.3zM269.7 198.2h1.3v1.3h-1.3zM270.9 196.4h1.3v1.3h-1.3zM255.9 195.7h1.3v1.3h-1.3zM261.3 194.1h1.3v1.3h-1.3zM272.6 196.6h1.3v1.3h-1.3zM271.4 193.8h1.3v1.3h-1.3zM264.6 188.8h1.3v1.3h-1.3zM259.5 192.9h1.3v1.3h-1.3zM271.6 190.0h1.3v1.3h-1.3zM271.2 196.0h1.3v1.3h-1.3zM262.6 198.5h1.3v1.3h-1.3zM260.3 192.5h1.3v1.3h-1.3zM262.0 192.8h1.3v1.3h-1.3zM284.5 192.4h1.3v1.3h-1.3zM269.2 198.2h1.3v1.3h-1.3zM271.3 190.8h1.3v1.3h-1.3zM262.2 191.6h1.3v1.3h-1.3zM270.4 192.9h1.3v1.3h-1.3zM251.2 190.6h1.3v1.3h-1.3zM267.6 189.9h1.3v1.3h-1.3zM269.4 197.6h1.3v1.3h-1.3zM277.7 194.3h1.3v1.3h-1.3zM270.6 198.5h1.3v1.3h-1.3zM266.0 195.7h1.3v1.3h-1.3zM266.0 192.9h1.3v1.3h-1.3zM279.7 195.8h1.3v1.3h-1.3zM273.7 198.3h1.3v1.3h-1.3zM275.3 194.8h1.3v1.3h-1.3zM273.0 197.8h1.3v1.3h-1.3zM274.2 193.2h1.3v1.3h-1.3zM272.6 193.8h1.3v1.3h-1.3zM256.7 198.3h1.3v1.3h-1.3zM249.0 194.1h1.3v1.3h-1.3zM282.2 195.2h1.3v1.3h-1.3zM269.9 198.2h1.3v1.3h-1.3zM257.5 191.7h1.3v1.3h-1.3zM275.0 191.8h1.3v1.3h-1.3zM265.7 198.4h1.3v1.3h-1.3zM275.7 199.2h1.3v1.3h-1.3zM274.2 201.5h1.3v1.3h-1.3zM271.8 193.3h1.3v1.3h-1.3zM277.5 196.4h1.3v1.3h-1.3zM271.7 200.7h1.3v1.3h-1.3zM255.9 191.9h1.3v1.3h-1.3zM272.5 193.9h1.3v1.3h-1.3zM244.1 188.0h1.3v1.3h-1.3zM246.7 188.2h1.3v1.3h-1.3zM265.8 197.0h1.3v1.3h-1.3zM271.8 195.6h1.3v1.3h-1.3zM279.6 195.7h1.3v1.3h-1.3zM272.8 195.7h1.3v1.3h-1.3zM265.0 193.5h1.3v1.3h-1.3zM266.0 188.5h1.3v1.3h-1.3zM254.2 190.5h1.3v1.3h-1.3zM278.2 193.7h1.3v1.3h-1.3zM264.8 197.3h1.3v1.3h-1.3zM269.6 197.2h1.3v1.3h-1.3zM267.2 194.2h1.3v1.3h-1.3zM268.3 191.8h1.3v1.3h-1.3zM264.2 195.6h1.3v1.3h-1.3zM253.9 195.5h1.3v1.3h-1.3zM272.3 195.2h1.3v1.3h-1.3zM259.6 199.0h1.3v1.3h-1.3zM255.0 194.5h1.3v1.3h-1.3zM269.8 202.5h1.3v1.3h-1.3zM268.7 194.0h1.3v1.3h-1.3zM274.4 187.0h1.3v1.3h-1.3zM275.2 191.1h1.3v1.3h-1.3zM249.9 190.1h1.3v1.3h-1.3zM259.4 194.9h1.3v1.3h-1.3zM279.0 206.5h1.3v1.3h-1.3zM262.4 193.4h1.3v1.3h-1.3zM262.6 198.2h1.3v1.3h-1.3zM272.2 190.6h1.3v1.3h-1.3zM267.8 190.8h1.3v1.3h-1.3zM264.9 194.2h1.3v1.3h-1.3zM251.4 193.1h1.3v1.3h-1.3zM269.5 198.6h1.3v1.3h-1.3zM269.6 201.5h1.3v1.3h-1.3zM268.9 195.9h1.3v1.3h-1.3zM271.4 192.3h1.3v1.3h-1.3zM260.7 198.2h1.3v1.3h-1.3zM262.9 187.3h1.3v1.3h-1.3zM275.6 192.3h1.3v1.3h-1.3zM276.6 197.5h1.3v1.3h-1.3zM283.1 191.6h1.3v1.3h-1.3zM258.2 194.7h1.3v1.3h-1.3zM265.6 191.9h1.3v1.3h-1.3zM248.1 198.5h1.3v1.3h-1.3zM272.0 196.6h1.3v1.3h-1.3zM286.9 191.7h1.3v1.3h-1.3zM270.6 197.8h1.3v1.3h-1.3zM266.0 189.2h1.3v1.3h-1.3zM250.0 191.6h1.3v1.3h-1.3zM254.1 192.4h1.3v1.3h-1.3zM262.9 190.5h1.3v1.3h-1.3zM264.1 198.1h1.3v1.3h-1.3zM265.1 195.9h1.3v1.3h-1.3zM264.0 197.4h1.3v1.3h-1.3zM270.0 198.2h1.3v1.3h-1.3zM262.0 191.6h1.3v1.3h-1.3zM262.4 194.2h1.3v1.3h-1.3zM261.9 199.3h1.3v1.3h-1.3zM268.8 199.7h1.3v1.3h-1.3zM275.4 195.4h1.3v1.3h-1.3zM244.6 192.3h1.3v1.3h-1.3zM291.5 199.8h1.3v1.3h-1.3zM289.1 199.2h1.3v1.3h-1.3zM288.2 203.5h1.3v1.3h-1.3zM280.3 197.6h1.3v1.3h-1.3zM287.1 203.9h1.3v1.3h-1.3zM277.5 200.7h1.3v1.3h-1.3zM282.4 196.8h1.3v1.3h-1.3zM286.2 199.1h1.3v1.3h-1.3zM272.5 202.0h1.3v1.3h-1.3zM281.3 200.5h1.3v1.3h-1.3zM286.0 200.0h1.3v1.3h-1.3zM275.8 200.4h1.3v1.3h-1.3zM283.8 199.2h1.3v1.3h-1.3zM284.7 202.6h1.3v1.3h-1.3zM286.4 188.1h1.3v1.3h-1.3zM287.5 200.4h1.3v1.3h-1.3zM278.6 202.6h1.3v1.3h-1.3zM274.7 204.9h1.3v1.3h-1.3zM286.5 209.6h1.3v1.3h-1.3zM277.6 209.1h1.3v1.3h-1.3zM285.2 209.7h1.3v1.3h-1.3zM282.6 201.9h1.3v1.3h-1.3zM285.2 195.9h1.3v1.3h-1.3zM278.2 197.0h1.3v1.3h-1.3zM283.6 194.5h1.3v1.3h-1.3zM280.1 199.0h1.3v1.3h-1.3zM271.1 198.6h1.3v1.3h-1.3zM285.7 200.4h1.3v1.3h-1.3zM281.7 199.7h1.3v1.3h-1.3zM282.1 202.0h1.3v1.3h-1.3zM283.3 201.6h1.3v1.3h-1.3zM289.4 199.1h1.3v1.3h-1.3zM283.5 196.7h1.3v1.3h-1.3zM278.1 195.9h1.3v1.3h-1.3zM279.0 199.3h1.3v1.3h-1.3zM286.6 198.6h1.3v1.3h-1.3zM289.8 199.8h1.3v1.3h-1.3zM285.0 200.6h1.3v1.3h-1.3zM275.5 219.0h1.3v1.3h-1.3zM248.0 221.9h1.3v1.3h-1.3zM269.6 220.2h1.3v1.3h-1.3zM268.0 218.3h1.3v1.3h-1.3zM257.9 228.4h1.3v1.3h-1.3zM258.5 227.1h1.3v1.3h-1.3zM279.6 210.1h1.3v1.3h-1.3zM273.9 227.1h1.3v1.3h-1.3zM257.6 215.4h1.3v1.3h-1.3zM288.1 229.8h1.3v1.3h-1.3zM271.9 216.8h1.3v1.3h-1.3zM267.2 207.2h1.3v1.3h-1.3zM290.7 224.6h1.3v1.3h-1.3zM254.2 198.0h1.3v1.3h-1.3zM252.0 195.8h1.3v1.3h-1.3zM244.0 200.9h1.3v1.3h-1.3zM248.2 198.6h1.3v1.3h-1.3zM248.8 198.2h1.3v1.3h-1.3zM254.9 191.6h1.3v1.3h-1.3zM253.5 198.2h1.3v1.3h-1.3zM255.0 192.9h1.3v1.3h-1.3zM255.1 198.7h1.3v1.3h-1.3z" fill="#000" fill-opacity="0.55"/>
<path d="M257.3 193.4h1.3v1.3h-1.3zM282.4 192.9h1.3v1.3h-1.3zM260.1 196.0h1.3v1.3h-1.3zM258.3 195.1h1.3v1.3h-1.3zM252.7 188.9h1.3v1.3h-1.3zM256.7 194.2h1.3v1.3h-1.3zM267.0 196.8h1.3v1.3h-1.3zM265.2 191.7h1.3v1.3h-1.3zM276.2 193.5h1.3v1.3h-1.3zM263.7 196.8h1.3v1.3h-1.3zM266.4 194.2h1.3v1.3h-1.3zM273.1 198.7h1.3v1.3h-1.3zM274.5 200.3h1.3v1.3h-1.3zM271.2 192.8h1.3v1.3h-1.3zM265.1 186.3h1.3v1.3h-1.3zM265.8 193.7h1.3v1.3h-1.3zM279.5 198.4h1.3v1.3h-1.3zM266.0 193.7h1.3v1.3h-1.3zM268.0 189.9h1.3v1.3h-1.3zM258.3 194.3h1.3v1.3h-1.3zM275.5 194.0h1.3v1.3h-1.3zM264.5 193.7h1.3v1.3h-1.3zM261.3 195.1h1.3v1.3h-1.3zM276.5 200.6h1.3v1.3h-1.3zM277.7 200.6h1.3v1.3h-1.3zM279.6 195.1h1.3v1.3h-1.3zM265.9 189.7h1.3v1.3h-1.3zM268.8 199.6h1.3v1.3h-1.3zM267.4 190.0h1.3v1.3h-1.3zM269.5 196.4h1.3v1.3h-1.3zM265.7 191.9h1.3v1.3h-1.3zM265.9 189.1h1.3v1.3h-1.3zM265.8 198.8h1.3v1.3h-1.3zM282.7 197.5h1.3v1.3h-1.3zM276.4 193.1h1.3v1.3h-1.3zM259.4 195.9h1.3v1.3h-1.3zM265.8 191.7h1.3v1.3h-1.3zM263.5 197.6h1.3v1.3h-1.3zM255.3 193.4h1.3v1.3h-1.3zM263.2 193.9h1.3v1.3h-1.3zM272.3 192.0h1.3v1.3h-1.3zM269.7 196.8h1.3v1.3h-1.3zM263.7 193.2h1.3v1.3h-1.3zM267.5 194.8h1.3v1.3h-1.3zM267.1 194.3h1.3v1.3h-1.3zM263.8 195.1h1.3v1.3h-1.3zM274.7 192.4h1.3v1.3h-1.3zM264.5 199.2h1.3v1.3h-1.3zM265.9 193.4h1.3v1.3h-1.3zM263.2 194.4h1.3v1.3h-1.3zM259.6 197.6h1.3v1.3h-1.3zM252.4 196.5h1.3v1.3h-1.3zM253.7 198.8h1.3v1.3h-1.3zM260.5 195.9h1.3v1.3h-1.3zM278.4 200.2h1.3v1.3h-1.3zM262.6 192.8h1.3v1.3h-1.3zM260.9 191.2h1.3v1.3h-1.3zM259.2 192.5h1.3v1.3h-1.3zM276.2 195.1h1.3v1.3h-1.3zM248.5 195.3h1.3v1.3h-1.3zM260.6 192.6h1.3v1.3h-1.3zM272.5 191.1h1.3v1.3h-1.3zM270.6 197.8h1.3v1.3h-1.3zM268.4 195.0h1.3v1.3h-1.3zM253.3 195.2h1.3v1.3h-1.3zM262.7 194.9h1.3v1.3h-1.3zM262.0 199.0h1.3v1.3h-1.3zM265.8 193.4h1.3v1.3h-1.3zM266.3 193.7h1.3v1.3h-1.3zM272.8 195.6h1.3v1.3h-1.3zM264.0 194.2h1.3v1.3h-1.3zM262.3 189.8h1.3v1.3h-1.3zM256.4 198.9h1.3v1.3h-1.3zM262.1 193.7h1.3v1.3h-1.3zM261.8 194.2h1.3v1.3h-1.3zM262.4 195.6h1.3v1.3h-1.3zM262.7 200.6h1.3v1.3h-1.3zM258.1 190.1h1.3v1.3h-1.3zM257.5 196.1h1.3v1.3h-1.3zM268.3 200.6h1.3v1.3h-1.3zM265.3 194.9h1.3v1.3h-1.3zM264.1 195.6h1.3v1.3h-1.3zM265.5 197.4h1.3v1.3h-1.3zM259.2 196.5h1.3v1.3h-1.3zM275.6 188.5h1.3v1.3h-1.3zM272.4 200.9h1.3v1.3h-1.3zM264.6 194.1h1.3v1.3h-1.3zM240.5 192.5h1.3v1.3h-1.3zM264.7 193.8h1.3v1.3h-1.3zM263.7 193.1h1.3v1.3h-1.3zM271.8 194.1h1.3v1.3h-1.3zM274.2 194.2h1.3v1.3h-1.3zM265.2 191.7h1.3v1.3h-1.3zM260.8 197.1h1.3v1.3h-1.3zM263.3 191.4h1.3v1.3h-1.3zM257.6 195.3h1.3v1.3h-1.3zM271.8 197.3h1.3v1.3h-1.3zM273.9 195.7h1.3v1.3h-1.3zM267.1 197.3h1.3v1.3h-1.3zM276.6 191.4h1.3v1.3h-1.3zM264.1 192.9h1.3v1.3h-1.3zM263.5 197.3h1.3v1.3h-1.3zM256.7 197.0h1.3v1.3h-1.3zM265.0 199.2h1.3v1.3h-1.3zM266.7 194.6h1.3v1.3h-1.3zM258.0 199.1h1.3v1.3h-1.3zM274.9 193.7h1.3v1.3h-1.3zM264.5 195.9h1.3v1.3h-1.3zM261.2 193.3h1.3v1.3h-1.3zM275.1 194.4h1.3v1.3h-1.3zM271.5 193.8h1.3v1.3h-1.3zM264.5 192.9h1.3v1.3h-1.3zM280.6 193.1h1.3v1.3h-1.3zM291.2 199.3h1.3v1.3h-1.3zM291.6 208.9h1.3v1.3h-1.3zM283.0 208.7h1.3v1.3h-1.3zM275.7 205.5h1.3v1.3h-1.3zM278.4 201.8h1.3v1.3h-1.3zM277.8 193.8h1.3v1.3h-1.3zM282.4 194.5h1.3v1.3h-1.3zM289.7 207.0h1.3v1.3h-1.3zM287.9 199.8h1.3v1.3h-1.3zM282.0 197.6h1.3v1.3h-1.3zM288.6 193.8h1.3v1.3h-1.3zM286.4 200.0h1.3v1.3h-1.3zM285.6 185.3h1.3v1.3h-1.3zM278.9 192.0h1.3v1.3h-1.3zM283.0 198.4h1.3v1.3h-1.3zM282.7 201.3h1.3v1.3h-1.3zM277.1 203.0h1.3v1.3h-1.3zM287.2 194.6h1.3v1.3h-1.3zM279.1 194.5h1.3v1.3h-1.3zM284.2 202.4h1.3v1.3h-1.3zM293.9 195.2h1.3v1.3h-1.3zM294.9 199.8h1.3v1.3h-1.3zM282.1 195.0h1.3v1.3h-1.3zM280.5 202.9h1.3v1.3h-1.3zM291.6 194.0h1.3v1.3h-1.3zM281.0 200.6h1.3v1.3h-1.3zM287.6 200.1h1.3v1.3h-1.3zM289.6 202.7h1.3v1.3h-1.3zM271.4 201.6h1.3v1.3h-1.3zM284.8 201.1h1.3v1.3h-1.3zM292.0 195.6h1.3v1.3h-1.3zM281.9 196.5h1.3v1.3h-1.3zM280.1 196.8h1.3v1.3h-1.3zM273.5 199.2h1.3v1.3h-1.3zM278.9 225.6h1.3v1.3h-1.3zM285.5 222.5h1.3v1.3h-1.3zM269.0 221.8h1.3v1.3h-1.3zM274.5 225.9h1.3v1.3h-1.3zM279.6 227.1h1.3v1.3h-1.3zM268.9 227.8h1.3v1.3h-1.3zM291.7 222.0h1.3v1.3h-1.3zM283.2 222.0h1.3v1.3h-1.3zM267.0 226.7h1.3v1.3h-1.3zM259.2 217.9h1.3v1.3h-1.3zM287.1 218.8h1.3v1.3h-1.3zM280.1 217.8h1.3v1.3h-1.3zM280.2 228.4h1.3v1.3h-1.3zM251.5 190.0h1.3v1.3h-1.3zM254.1 190.8h1.3v1.3h-1.3zM256.5 201.7h1.3v1.3h-1.3zM257.1 194.9h1.3v1.3h-1.3zM255.4 193.3h1.3v1.3h-1.3zM257.2 191.8h1.3v1.3h-1.3zM253.4 192.2h1.3v1.3h-1.3zM257.9 197.0h1.3v1.3h-1.3zM256.1 198.3h1.3v1.3h-1.3z" fill="#000" fill-opacity="0.55"/>
<path d="M355.4 216.1h1.3v1.3h-1.3zM357.8 223.9h1.3v1.3h-1.3zM361.0 224.6h1.3v1.3h-1.3zM359.7 224.7h1.3v1.3h-1.3zM356.8 213.7h1.3v1.3h-1.3zM358.3 214.7h1.3v1.3h-1.3zM359.6 217.9h1.3v1.3h-1.3zM360.6 218.3h1.3v1.3h-1.3zM357.8 219.9h1.3v1.3h-1.3zM358.5 226.2h1.3v1.3h-1.3zM359.7 218.5h1.3v1.3h-1.3zM360.4 215.7h1.3v1.3h-1.3zM358.6 220.7h1.3v1.3h-1.3zM362.2 215.6h1.3v1.3h-1.3zM357.0 224.3h1.3v1.3h-1.3zM357.0 224.3h1.3v1.3h-1.3zM357.5 227.2h1.3v1.3h-1.3zM361.9 209.3h1.3v1.3h-1.3zM361.7 216.5h1.3v1.3h-1.3zM360.5 221.1h1.3v1.3h-1.3zM359.7 222.4h1.3v1.3h-1.3zM358.6 228.1h1.3v1.3h-1.3zM359.7 229.5h1.3v1.3h-1.3zM357.3 229.9h1.3v1.3h-1.3zM359.1 209.4h1.3v1.3h-1.3zM361.1 222.9h1.3v1.3h-1.3zM357.8 221.1h1.3v1.3h-1.3zM359.5 225.2h1.3v1.3h-1.3zM357.5 230.0h1.3v1.3h-1.3zM358.4 209.7h1.3v1.3h-1.3zM360.9 216.2h1.3v1.3h-1.3zM359.9 230.3h1.3v1.3h-1.3zM355.0 229.3h1.3v1.3h-1.3zM358.6 225.5h1.3v1.3h-1.3zM357.0 217.3h1.3v1.3h-1.3zM355.6 226.2h1.3v1.3h-1.3zM356.6 221.4h1.3v1.3h-1.3zM360.9 206.2h1.3v1.3h-1.3zM361.6 222.8h1.3v1.3h-1.3zM363.5 231.7h1.3v1.3h-1.3zM356.4 218.1h1.3v1.3h-1.3zM359.0 232.7h1.3v1.3h-1.3zM360.8 222.2h1.3v1.3h-1.3zM354.1 213.1h1.3v1.3h-1.3zM353.6 225.8h1.3v1.3h-1.3zM358.4 217.8h1.3v1.3h-1.3zM363.1 231.8h1.3v1.3h-1.3zM364.8 210.1h1.3v1.3h-1.3zM367.2 218.1h1.3v1.3h-1.3zM365.0 224.1h1.3v1.3h-1.3zM366.5 215.6h1.3v1.3h-1.3zM365.1 220.5h1.3v1.3h-1.3zM366.2 215.4h1.3v1.3h-1.3zM366.4 218.7h1.3v1.3h-1.3zM366.3 230.9h1.3v1.3h-1.3zM366.5 215.0h1.3v1.3h-1.3zM365.1 223.8h1.3v1.3h-1.3zM364.7 221.3h1.3v1.3h-1.3zM364.2 219.5h1.3v1.3h-1.3zM363.4 227.7h1.3v1.3h-1.3zM360.9 229.7h1.3v1.3h-1.3zM366.4 226.2h1.3v1.3h-1.3zM368.9 230.6h1.3v1.3h-1.3zM370.8 223.6h1.3v1.3h-1.3zM361.3 219.2h1.3v1.3h-1.3zM366.3 214.6h1.3v1.3h-1.3zM365.3 221.6h1.3v1.3h-1.3zM369.1 225.7h1.3v1.3h-1.3zM366.1 222.3h1.3v1.3h-1.3zM365.2 227.9h1.3v1.3h-1.3zM363.5 229.7h1.3v1.3h-1.3zM360.9 227.2h1.3v1.3h-1.3zM363.3 230.6h1.3v1.3h-1.3zM365.6 232.9h1.3v1.3h-1.3zM362.2 225.7h1.3v1.3h-1.3zM364.4 212.9h1.3v1.3h-1.3zM364.4 226.2h1.3v1.3h-1.3zM365.2 230.2h1.3v1.3h-1.3zM372.0 230.9h1.3v1.3h-1.3zM362.6 222.1h1.3v1.3h-1.3zM364.8 223.2h1.3v1.3h-1.3zM364.0 219.9h1.3v1.3h-1.3zM366.0 223.8h1.3v1.3h-1.3zM367.2 218.4h1.3v1.3h-1.3zM364.5 227.6h1.3v1.3h-1.3zM363.3 218.6h1.3v1.3h-1.3zM362.9 218.4h1.3v1.3h-1.3zM369.4 229.1h1.3v1.3h-1.3zM368.1 227.4h1.3v1.3h-1.3zM371.7 216.4h1.3v1.3h-1.3zM372.7 225.6h1.3v1.3h-1.3zM369.6 219.5h1.3v1.3h-1.3zM369.2 211.5h1.3v1.3h-1.3zM376.8 221.5h1.3v1.3h-1.3zM371.5 219.2h1.3v1.3h-1.3zM377.3 216.6h1.3v1.3h-1.3zM373.9 219.5h1.3v1.3h-1.3zM369.6 228.4h1.3v1.3h-1.3zM368.5 228.5h1.3v1.3h-1.3zM371.3 220.9h1.3v1.3h-1.3zM373.7 223.8h1.3v1.3h-1.3zM367.8 218.4h1.3v1.3h-1.3zM373.7 213.8h1.3v1.3h-1.3zM371.0 228.9h1.3v1.3h-1.3zM378.7 212.7h1.3v1.3h-1.3zM374.2 214.9h1.3v1.3h-1.3zM371.8 210.1h1.3v1.3h-1.3zM373.1 220.6h1.3v1.3h-1.3zM369.4 227.9h1.3v1.3h-1.3zM373.0 227.0h1.3v1.3h-1.3zM371.7 227.5h1.3v1.3h-1.3zM375.4 219.1h1.3v1.3h-1.3zM373.5 218.5h1.3v1.3h-1.3zM371.2 221.1h1.3v1.3h-1.3zM370.4 227.4h1.3v1.3h-1.3zM376.5 216.2h1.3v1.3h-1.3zM371.7 219.2h1.3v1.3h-1.3zM365.2 218.2h1.3v1.3h-1.3zM384.2 222.8h1.3v1.3h-1.3zM378.7 221.9h1.3v1.3h-1.3zM381.0 216.9h1.3v1.3h-1.3zM381.0 226.4h1.3v1.3h-1.3zM383.5 230.5h1.3v1.3h-1.3zM379.0 216.4h1.3v1.3h-1.3zM376.9 223.8h1.3v1.3h-1.3zM379.0 217.4h1.3v1.3h-1.3zM381.5 223.5h1.3v1.3h-1.3zM373.7 231.3h1.3v1.3h-1.3zM379.8 227.1h1.3v1.3h-1.3zM381.6 226.2h1.3v1.3h-1.3zM379.3 230.0h1.3v1.3h-1.3zM380.3 218.2h1.3v1.3h-1.3zM378.1 226.7h1.3v1.3h-1.3zM377.7 218.3h1.3v1.3h-1.3zM378.1 223.5h1.3v1.3h-1.3zM378.8 225.8h1.3v1.3h-1.3zM379.1 218.9h1.3v1.3h-1.3zM374.2 210.1h1.3v1.3h-1.3zM363.3 193.0h1.3v1.3h-1.3zM368.2 195.3h1.3v1.3h-1.3zM342.7 210.7h1.3v1.3h-1.3zM374.2 209.6h1.3v1.3h-1.3zM373.5 208.8h1.3v1.3h-1.3zM362.2 181.4h1.3v1.3h-1.3zM365.6 207.1h1.3v1.3h-1.3zM371.3 172.6h1.3v1.3h-1.3zM379.0 189.7h1.3v1.3h-1.3zM365.7 179.9h1.3v1.3h-1.3zM360.6 205.6h1.3v1.3h-1.3zM366.5 207.6h1.3v1.3h-1.3zM362.3 202.4h1.3v1.3h-1.3zM354.4 178.1h1.3v1.3h-1.3zM380.6 214.0h1.3v1.3h-1.3zM365.7 181.4h1.3v1.3h-1.3zM368.7 209.9h1.3v1.3h-1.3zM370.5 195.4h1.3v1.3h-1.3zM359.9 209.1h1.3v1.3h-1.3zM359.6 193.2h1.3v1.3h-1.3zM365.8 181.7h1.3v1.3h-1.3zM387.0 188.2h1.3v1.3h-1.3zM367.6 207.9h1.3v1.3h-1.3zM366.4 208.0h1.3v1.3h-1.3zM356.9 195.1h1.3v1.3h-1.3zM358.2 189.5h1.3v1.3h-1.3zM375.3 209.2h1.3v1.3h-1.3zM368.6 193.7h1.3v1.3h-1.3zM363.5 195.6h1.3v1.3h-1.3zM376.3 207.8h1.3v1.3h-1.3zM369.4 209.1h1.3v1.3h-1.3zM360.6 201.8h1.3v1.3h-1.3zM391.6 192.7h1.3v1.3h-1.3zM376.8 201.1h1.3v1.3h-1.3zM363.6 211.5h1.3v1.3h-1.3zM370.2 200.8h1.3v1.3h-1.3zM370.2 193.8h1.3v1.3h-1.3zM380.9 194.2h1.3v1.3h-1.3zM369.0 213.4h1.3v1.3h-1.3zM363.7 213.7h1.3v1.3h-1.3zM372.7 206.8h1.3v1.3h-1.3zM368.7 193.5h1.3v1.3h-1.3zM381.7 193.1h1.3v1.3h-1.3zM373.4 207.5h1.3v1.3h-1.3zM369.3 198.8h1.3v1.3h-1.3zM381.6 202.2h1.3v1.3h-1.3zM364.2 178.2h1.3v1.3h-1.3zM369.3 189.1h1.3v1.3h-1.3zM361.0 205.4h1.3v1.3h-1.3zM356.9 184.7h1.3v1.3h-1.3zM365.3 195.7h1.3v1.3h-1.3zM377.0 181.9h1.3v1.3h-1.3zM344.5 203.1h1.3v1.3h-1.3z" fill="#000" fill-opacity="0.55"/>
<path d="M355.8 230.0h1.3v1.3h-1.3zM356.7 233.1h1.3v1.3h-1.3zM356.0 220.7h1.3v1.3h-1.3zM362.4 226.8h1.3v1.3h-1.3zM353.4 211.4h1.3v1.3h-1.3zM358.5 227.4h1.3v1.3h-1.3zM358.6 219.9h1.3v1.3h-1.3zM358.5 219.3h1.3v1.3h-1.3zM360.9 215.1h1.3v1.3h-1.3zM358.0 228.1h1.3v1.3h-1.3zM358.3 202.6h1.3v1.3h-1.3zM359.5 218.8h1.3v1.3h-1.3zM355.0 215.6h1.3v1.3h-1.3zM359.5 225.7h1.3v1.3h-1.3zM354.8 209.8h1.3v1.3h-1.3zM357.3 222.8h1.3v1.3h-1.3zM362.7 222.5h1.3v1.3h-1.3zM353.3 224.5h1.3v1.3h-1.3zM361.0 219.2h1.3v1.3h-1.3zM357.6 227.9h1.3v1.3h-1.3zM357.6 222.9h1.3v1.3h-1.3zM358.6 222.5h1.3v1.3h-1.3zM360.6 219.8h1.3v1.3h-1.3zM358.1 228.2h1.3v1.3h-1.3zM358.1 211.2h1.3v1.3h-1.3zM358.5 215.1h1.3v1.3h-1.3zM360.8 224.4h1.3v1.3h-1.3zM357.0 216.1h1.3v1.3h-1.3zM362.2 223.8h1.3v1.3h-1.3zM356.8 210.4h1.3v1.3h-1.3zM359.5 224.6h1.3v1.3h-1.3zM356.1 222.8h1.3v1.3h-1.3zM359.7 215.7h1.3v1.3h-1.3zM355.8 220.7h1.3v1.3h-1.3zM356.6 217.5h1.3v1.3h-1.3zM354.1 223.3h1.3v1.3h-1.3zM367.1 217.7h1.3v1.3h-1.3zM371.0 216.8h1.3v1.3h-1.3zM359.3 217.3h1.3v1.3h-1.3zM367.5 219.9h1.3v1.3h-1.3zM363.7 228.5h1.3v1.3h-1.3zM363.0 218.5h1.3v1.3h-1.3zM363.7 223.2h1.3v1.3h-1.3zM366.5 221.7h1.3v1.3h-1.3zM368.6 222.1h1.3v1.3h-1.3zM362.6 213.7h1.3v1.3h-1.3zM364.2 217.4h1.3v1.3h-1.3zM364.5 225.7h1.3v1.3h-1.3zM366.1 220.2h1.3v1.3h-1.3zM363.4 220.7h1.3v1.3h-1.3zM368.1 220.1h1.3v1.3h-1.3zM364.3 222.3h1.3v1.3h-1.3zM362.8 225.5h1.3v1.3h-1.3zM369.5 212.7h1.3v1.3h-1.3zM368.8 219.3h1.3v1.3h-1.3zM365.0 222.4h1.3v1.3h-1.3zM365.7 216.3h1.3v1.3h-1.3zM366.7 226.3h1.3v1.3h-1.3zM366.0 230.2h1.3v1.3h-1.3zM367.4 222.5h1.3v1.3h-1.3zM366.9 220.2h1.3v1.3h-1.3zM365.4 221.5h1.3v1.3h-1.3zM367.2 221.3h1.3v1.3h-1.3zM364.3 224.3h1.3v1.3h-1.3zM368.2 215.2h1.3v1.3h-1.3zM364.7 217.8h1.3v1.3h-1.3zM364.8 226.6h1.3v1.3h-1.3zM366.7 211.8h1.3v1.3h-1.3zM368.9 219.5h1.3v1.3h-1.3zM364.7 211.5h1.3v1.3h-1.3zM360.6 227.6h1.3v1.3h-1.3zM365.4 217.3h1.3v1.3h-1.3zM366.2 231.7h1.3v1.3h-1.3zM367.7 223.3h1.3v1.3h-1.3zM364.8 222.9h1.3v1.3h-1.3zM363.9 225.2h1.3v1.3h-1.3zM361.2 220.7h1.3v1.3h-1.3zM374.0 229.0h1.3v1.3h-1.3zM374.8 226.6h1.3v1.3h-1.3zM370.3 223.4h1.3v1.3h-1.3zM369.5 222.1h1.3v1.3h-1.3zM371.9 225.3h1.3v1.3h-1.3zM371.4 218.4h1.3v1.3h-1.3zM379.7 217.7h1.3v1.3h-1.3zM370.7 228.6h1.3v1.3h-1.3zM373.3 223.8h1.3v1.3h-1.3zM373.3 226.4h1.3v1.3h-1.3zM376.3 217.6h1.3v1.3h-1.3zM373.2 232.9h1.3v1.3h-1.3zM373.9 225.1h1.3v1.3h-1.3zM371.1 224.7h1.3v1.3h-1.3zM369.4 228.6h1.3v1.3h-1.3zM366.5 223.1h1.3v1.3h-1.3zM374.3 220.4h1.3v1.3h-1.3zM375.6 219.2h1.3v1.3h-1.3zM367.7 231.0h1.3v1.3h-1.3zM377.7 214.6h1.3v1.3h-1.3zM374.8 209.7h1.3v1.3h-1.3zM373.4 228.3h1.3v1.3h-1.3zM373.6 232.6h1.3v1.3h-1.3zM375.9 212.9h1.3v1.3h-1.3zM372.6 211.8h1.3v1.3h-1.3zM373.5 226.5h1.3v1.3h-1.3zM376.5 229.6h1.3v1.3h-1.3zM375.9 216.4h1.3v1.3h-1.3zM378.7 228.5h1.3v1.3h-1.3zM377.7 214.1h1.3v1.3h-1.3zM378.4 218.3h1.3v1.3h-1.3zM384.9 226.1h1.3v1.3h-1.3zM379.0 216.5h1.3v1.3h-1.3zM384.5 221.5h1.3v1.3h-1.3zM381.7 220.0h1.3v1.3h-1.3zM381.4 220.5h1.3v1.3h-1.3zM384.6 225.9h1.3v1.3h-1.3zM377.6 216.1h1.3v1.3h-1.3zM377.1 219.8h1.3v1.3h-1.3zM376.6 226.2h1.3v1.3h-1.3zM385.8 223.1h1.3v1.3h-1.3zM379.4 224.6h1.3v1.3h-1.3zM380.5 213.0h1.3v1.3h-1.3zM377.5 228.8h1.3v1.3h-1.3zM379.2 221.8h1.3v1.3h-1.3zM369.4 187.9h1.3v1.3h-1.3zM360.7 207.9h1.3v1.3h-1.3zM369.5 192.7h1.3v1.3h-1.3zM364.1 205.0h1.3v1.3h-1.3zM380.2 202.3h1.3v1.3h-1.3zM364.2 197.1h1.3v1.3h-1.3zM378.1 191.5h1.3v1.3h-1.3zM367.8 207.5h1.3v1.3h-1.3zM366.0 213.0h1.3v1.3h-1.3zM357.5 209.4h1.3v1.3h-1.3zM363.8 187.4h1.3v1.3h-1.3zM386.8 208.1h1.3v1.3h-1.3zM369.8 209.4h1.3v1.3h-1.3zM372.6 210.4h1.3v1.3h-1.3zM366.1 197.4h1.3v1.3h-1.3zM374.7 176.5h1.3v1.3h-1.3zM363.3 208.4h1.3v1.3h-1.3zM378.9 208.8h1.3v1.3h-1.3zM354.9 204.9h1.3v1.3h-1.3zM377.6 186.9h1.3v1.3h-1.3zM374.0 187.3h1.3v1.3h-1.3zM360.7 199.5h1.3v1.3h-1.3zM360.6 192.2h1.3v1.3h-1.3zM367.9 210.4h1.3v1.3h-1.3zM371.6 182.0h1.3v1.3h-1.3zM372.2 181.2h1.3v1.3h-1.3zM359.5 209.2h1.3v1.3h-1.3zM362.4 187.3h1.3v1.3h-1.3zM363.4 196.7h1.3v1.3h-1.3zM385.1 211.7h1.3v1.3h-1.3zM371.4 203.5h1.3v1.3h-1.3zM354.1 197.4h1.3v1.3h-1.3zM374.8 191.2h1.3v1.3h-1.3zM365.2 211.4h1.3v1.3h-1.3zM360.6 198.4h1.3v1.3h-1.3zM372.3 206.1h1.3v1.3h-1.3zM358.3 212.9h1.3v1.3h-1.3zM368.0 193.6h1.3v1.3h-1.3zM351.1 177.2h1.3v1.3h-1.3zM370.4 174.0h1.3v1.3h-1.3zM353.7 212.3h1.3v1.3h-1.3zM373.3 199.9h1.3v1.3h-1.3zM368.9 194.1h1.3v1.3h-1.3zM372.4 204.0h1.3v1.3h-1.3zM363.2 213.3h1.3v1.3h-1.3zM348.4 206.0h1.3v1.3h-1.3zM360.1 205.0h1.3v1.3h-1.3zM367.9 200.0h1.3v1.3h-1.3zM383.3 211.6h1.3v1.3h-1.3zM349.5 184.3h1.3v1.3h-1.3zM348.3 202.1h1.3v1.3h-1.3zM367.0 200.7h1.3v1.3h-1.3zM374.7 179.3h1.3v1.3h-1.3zM368.8 205.9h1.3v1.3h-1.3zM373.7 205.5h1.3v1.3h-1.3zM369.1 213.3h1.3v1.3h-1.3zM357.9 207.0h1.3v1.3h-1.3zM355.0 197.7h1.3v1.3h-1.3zM352.0 195.3h1.3v1.3h-1.3zM358.0 209.0h1.3v1.3h-1.3zM372.5 180.0h1.3v1.3h-1.3zM364.1 178.0h1.3v1.3h-1.3zM369.9 198.0h1.3v1.3h-1.3zM375.7 195.5h1.3v1.3h-1.3zM367.7 202.8h1.3v1.3h-1.3zM370.9 172.6h1.3v1.3h-1.3zM369.4 203.4h1.3v1.3h-1.3zM366.1 175.2h1.3v1.3h-1.3zM368.2 202.3h1.3v1.3h-1.3zM372.8 208.9h1.3v1.3h-1.3zM375.6 209.7h1.3v1.3h-1.3zM363.7 202.3h1.3v1.3h-1.3zM363.5 202.1h1.3v1.3h-1.3zM355.7 195.9h1.3v1.3h-1.3zM367.1 205.8h1.3v1.3h-1.3zM362.4 185.2h1.3v1.3h-1.3zM363.3 203.4h1.3v1.3h-1.3zM367.6 203.9h1.3v1.3h-1.3zM369.2 216.5h1.3v1.3h-1.3zM394.6 175.9h1.3v1.3h-1.3zM377.4 200.7h1.3v1.3h-1.3z" fill="#000" fill-opacity="0.55"/>
<path d="M362.1 223.9h1.3v1.3h-1.3zM355.9 219.5h1.3v1.3h-1.3zM358.7 215.9h1.3v1.3h-1.3zM357.8 224.7h1.3v1.3h-1.3zM361.4 213.8h1.3v1.3h-1.3zM359.0 219.9h1.3v1.3h-1.3zM359.6 223.3h1.3v1.3h-1.3zM358.9 227.9h1.3v1.3h-1.3zM355.7 217.5h1.3v1.3h-1.3zM353.2 230.5h1.3v1.3h-1.3zM357.3 223.6h1.3v1.3h-1.3zM356.7 224.2h1.3v1.3h-1.3zM357.5 219.6h1.3v1.3h-1.3zM358.3 223.7h1.3v1.3h-1.3zM357.7 220.6h1.3v1.3h-1.3zM359.5 217.7h1.3v1.3h-1.3zM356.9 223.5h1.3v1.3h-1.3zM359.0 225.0h1.3v1.3h-1.3zM362.6 219.6h1.3v1.3h-1.3zM354.0 218.7h1.3v1.3h-1.3zM360.6 224.0h1.3v1.3h-1.3zM358.2 219.9h1.3v1.3h-1.3zM357.4 218.2h1.3v1.3h-1.3zM360.8 222.0h1.3v1.3h-1.3zM356.2 222.1h1.3v1.3h-1.3zM361.3 216.6h1.3v1.3h-1.3zM360.8 215.7h1.3v1.3h-1.3zM357.3 221.5h1.3v1.3h-1.3zM357.3 225.0h1.3v1.3h-1.3zM367.4 204.5h1.3v1.3h-1.3zM358.9 224.5h1.3v1.3h-1.3zM359.5 215.3h1.3v1.3h-1.3zM360.4 218.2h1.3v1.3h-1.3zM356.7 213.2h1.3v1.3h-1.3zM357.6 226.2h1.3v1.3h-1.3zM364.2 213.6h1.3v1.3h-1.3zM368.1 213.7h1.3v1.3h-1.3zM366.5 220.6h1.3v1.3h-1.3zM368.7 232.9h1.3v1.3h-1.3zM366.4 229.1h1.3v1.3h-1.3zM363.6 223.2h1.3v1.3h-1.3zM364.3 226.7h1.3v1.3h-1.3zM361.8 205.2h1.3v1.3h-1.3zM367.7 220.0h1.3v1.3h-1.3zM366.8 226.9h1.3v1.3h-1.3zM364.3 216.8h1.3v1.3h-1.3zM363.9 224.9h1.3v1.3h-1.3zM364.2 226.0h1.3v1.3h-1.3zM361.8 222.2h1.3v1.3h-1.3zM367.8 231.9h1.3v1.3h-1.3zM362.7 231.8h1.3v1.3h-1.3zM362.7 224.0h1.3v1.3h-1.3zM366.6 223.7h1.3v1.3h-1.3zM368.5 213.2h1.3v1.3h-1.3zM370.4 229.6h1.3v1.3h-1.3zM370.0 226.1h1.3v1.3h-1.3zM362.2 218.4h1.3v1.3h-1.3zM365.6 217.1h1.3v1.3h-1.3zM364.2 225.2h1.3v1.3h-1.3zM366.1 220.1h1.3v1.3h-1.3zM364.3 216.0h1.3v1.3h-1.3zM368.4 210.3h1.3v1.3h-1.3zM364.3 217.7h1.3v1.3h-1.3zM362.3 216.6h1.3v1.3h-1.3zM365.1 229.6h1.3v1.3h-1.3zM366.2 215.8h1.3v1.3h-1.3zM365.0 223.8h1.3v1.3h-1.3zM366.9 215.8h1.3v1.3h-1.3zM364.3 221.0h1.3v1.3h-1.3zM362.9 228.4h1.3v1.3h-1.3zM365.5 226.7h1.3v1.3h-1.3zM367.7 217.3h1.3v1.3h-1.3zM363.3 220.4h1.3v1.3h-1.3zM365.4 217.5h1.3v1.3h-1.3zM363.8 230.2h1.3v1.3h-1.3zM369.1 230.2h1.3v1.3h-1.3zM367.4 229.8h1.3v1.3h-1.3zM365.9 224.1h1.3v1.3h-1.3zM366.9 225.9h1.3v1.3h-1.3zM363.8 221.7h1.3v1.3h-1.3zM363.2 231.7h1.3v1.3h-1.3zM365.7 229.9h1.3v1.3h-1.3zM368.2 219.5h1.3v1.3h-1.3zM368.5 229.7h1.3v1.3h-1.3zM375.9 222.4h1.3v1.3h-1.3zM373.6 209.7h1.3v1.3h-1.3zM372.3 228.9h1.3v1.3h-1.3zM376.6 221.4h1.3v1.3h-1.3zM368.7 216.4h1.3v1.3h-1.3zM372.0 225.7h1.3v1.3h-1.3zM373.1 207.6h1.3v1.3h-1.3zM373.9 220.7h1.3v1.3h-1.3zM375.3 228.7h1.3v1.3h-1.3zM369.4 222.0h1.3v1.3h-1.3zM370.7 223.3h1.3v1.3h-1.3zM372.3 225.4h1.3v1.3h-1.3zM375.9 222.4h1.3v1.3h-1.3zM370.3 221.1h1.3v1.3h-1.3zM367.7 225.5h1.3v1.3h-1.3zM374.4 225.6h1.3v1.3h-1.3zM371.5 219.7h1.3v1.3h-1.3zM374.8 223.3h1.3v1.3h-1.3zM375.9 228.1h1.3v1.3h-1.3zM370.3 217.2h1.3v1.3h-1.3zM371.0 217.1h1.3v1.3h-1.3zM376.0 227.9h1.3v1.3h-1.3zM372.3 206.6h1.3v1.3h-1.3zM377.0 211.8h1.3v1.3h-1.3zM369.5 226.3h1.3v1.3h-1.3zM372.8 227.5h1.3v1.3h-1.3zM371.4 232.4h1.3v1.3h-1.3zM372.4 209.8h1.3v1.3h-1.3zM370.7 220.9h1.3v1.3h-1.3zM372.0 215.2h1.3v1.3h-1.3zM372.3 219.7h1.3v1.3h-1.3zM368.7 220.0h1.3v1.3h-1.3zM372.8 220.5h1.3v1.3h-1.3zM368.6 225.8h1.3v1.3h-1.3zM382.8 218.0h1.3v1.3h-1.3zM377.3 224.3h1.3v1.3h-1.3zM376.5 211.9h1.3v1.3h-1.3zM376.5 224.8h1.3v1.3h-1.3zM380.8 211.0h1.3v1.3h-1.3zM381.2 221.1h1.3v1.3h-1.3zM381.6 223.1h1.3v1.3h-1.3zM381.6 225.0h1.3v1.3h-1.3zM382.4 228.2h1.3v1.3h-1.3zM382.2 224.3h1.3v1.3h-1.3zM379.1 224.2h1.3v1.3h-1.3zM383.2 215.6h1.3v1.3h-1.3zM384.5 229.3h1.3v1.3h-1.3zM379.8 218.8h1.3v1.3h-1.3zM379.3 221.4h1.3v1.3h-1.3zM381.6 221.0h1.3v1.3h-1.3zM383.3 231.0h1.3v1.3h-1.3zM382.8 221.3h1.3v1.3h-1.3zM380.9 233.0h1.3v1.3h-1.3zM377.5 222.0h1.3v1.3h-1.3zM376.2 216.5h1.3v1.3h-1.3zM380.2 225.0h1.3v1.3h-1.3zM362.4 196.6h1.3v1.3h-1.3zM373.8 210.7h1.3v1.3h-1.3zM344.0 198.4h1.3v1.3h-1.3zM374.1 211.6h1.3v1.3h-1.3zM368.9 195.2h1.3v1.3h-1.3zM362.3 212.0h1.3v1.3h-1.3zM363.1 192.1h1.3v1.3h-1.3zM350.8 205.2h1.3v1.3h-1.3zM369.1 213.9h1.3v1.3h-1.3zM368.7 201.0h1.3v1.3h-1.3zM370.1 201.8h1.3v1.3h-1.3zM362.6 208.4h1.3v1.3h-1.3zM363.3 190.1h1.3v1.3h-1.3zM371.9 196.8h1.3v1.3h-1.3zM360.8 203.4h1.3v1.3h-1.3zM362.2 200.3h1.3v1.3h-1.3zM376.0 190.9h1.3v1.3h-1.3zM361.8 201.9h1.3v1.3h-1.3zM362.3 206.9h1.3v1.3h-1.3zM361.3 212.8h1.3v1.3h-1.3zM354.2 213.2h1.3v1.3h-1.3zM351.6 209.2h1.3v1.3h-1.3zM356.7 213.7h1.3v1.3h-1.3zM374.1 208.1h1.3v1.3h-1.3zM378.3 205.3h1.3v1.3h-1.3zM361.0 179.1h1.3v1.3h-1.3zM371.0 191.9h1.3v1.3h-1.3zM371.8 209.2h1.3v1.3h-1.3zM374.6 200.6h1.3v1.3h-1.3zM373.7 187.2h1.3v1.3h-1.3zM353.2 213.1h1.3v1.3h-1.3zM364.8 184.1h1.3v1.3h-1.3zM375.3 213.0h1.3v1.3h-1.3zM364.2 201.9h1.3v1.3h-1.3zM379.4 210.1h1.3v1.3h-1.3zM367.9 180.7h1.3v1.3h-1.3zM355.8 200.9h1.3v1.3h-1.3zM377.3 196.1h1.3v1.3h-1.3zM372.6 205.2h1.3v1.3h-1.3zM369.0 205.0h1.3v1.3h-1.3zM372.5 194.1h1.3v1.3h-1.3zM359.1 179.8h1.3v1.3h-1.3zM364.0 196.2h1.3v1.3h-1.3zM368.6 191.4h1.3v1.3h-1.3zM361.3 187.7h1.3v1.3h-1.3zM359.1 211.8h1.3v1.3h-1.3zM360.1 210.4h1.3v1.3h-1.3zM363.5 183.6h1.3v1.3h-1.3zM361.3 197.9h1.3v1.3h-1.3zM355.5 209.9h1.3v1.3h-1.3zM369.4 212.4h1.3v1.3h-1.3zM358.3 188.8h1.3v1.3h-1.3zM359.1 196.0h1.3v1.3h-1.3zM341.7 188.3h1.3v1.3h-1.3zM379.9 184.2h1.3v1.3h-1.3zM357.2 192.9h1.3v1.3h-1.3z" fill="#000" fill-opacity="0.55"/>
<path d="M362.0 231.2h1.3v1.3h-1.3zM358.0 218.6h1.3v1.3h-1.3zM358.6 220.1h1.3v1.3h-1.3zM358.9 227.7h1.3v1.3h-1.3zM361.8 223.4h1.3v1.3h-1.3zM356.9 209.6h1.3v1.3h-1.3zM358.9 214.7h1.3v1.3h-1.3zM358.2 224.0h1.3v1.3h-1.3zM361.0 208.3h1.3v1.3h-1.3zM360.1 224.4h1.3v1.3h-1.3zM359.3 219.7h1.3v1.3h-1.3zM355.1 222.0h1.3v1.3h-1.3zM359.1 222.1h1.3v1.3h-1.3zM357.4 226.3h1.3v1.3h-1.3zM361.0 228.2h1.3v1.3h-1.3zM359.6 230.1h1.3v1.3h-1.3zM358.6 210.4h1.3v1.3h-1.3zM360.3 218.2h1.3v1.3h-1.3zM356.0 218.1h1.3v1.3h-1.3zM355.7 212.4h1.3v1.3h-1.3zM359.2 225.6h1.3v1.3h-1.3zM360.9 216.7h1.3v1.3h-1.3zM356.9 218.9h1.3v1.3h-1.3zM358.0 220.8h1.3v1.3h-1.3zM355.4 225.2h1.3v1.3h-1.3zM359.2 226.2h1.3v1.3h-1.3zM363.5 223.5h1.3v1.3h-1.3zM358.9 229.7h1.3v1.3h-1.3zM361.2 231.2h1.3v1.3h-1.3zM358.4 221.7h1.3v1.3h-1.3zM356.4 222.8h1.3v1.3h-1.3zM358.9 223.2h1.3v1.3h-1.3zM354.7 219.3h1.3v1.3h-1.3zM356.2 225.6h1.3v1.3h-1.3zM359.3 227.9h1.3v1.3h-1.3zM357.8 231.1h1.3v1.3h-1.3zM358.3 222.0h1.3v1.3h-1.3zM354.7 225.7h1.3v1.3h-1.3zM356.7 226.4h1.3v1.3h-1.3zM357.2 225.9h1.3v1.3h-1.3zM359.3 231.5h1.3v1.3h-1.3zM358.0 218.0h1.3v1.3h-1.3zM357.7 224.7h1.3v1.3h-1.3zM355.2 230.9h1.3v1.3h-1.3zM368.6 204.5h1.3v1.3h-1.3zM365.2 217.9h1.3v1.3h-1.3zM364.6 215.0h1.3v1.3h-1.3zM369.3 218.5h1.3v1.3h-1.3zM366.1 227.4h1.3v1.3h-1.3zM361.6 217.6h1.3v1.3h-1.3zM364.2 226.6h1.3v1.3h-1.3zM363.8 214.9h1.3v1.3h-1.3zM358.9 216.0h1.3v1.3h-1.3zM367.1 227.0h1.3v1.3h-1.3zM364.8 220.9h1.3v1.3h-1.3zM363.3 218.8h1.3v1.3h-1.3zM368.4 228.9h1.3v1.3h-1.3zM364.6 217.6h1.3v1.3h-1.3zM366.0 217.8h1.3v1.3h-1.3zM364.7 212.2h1.3v1.3h-1.3zM366.7 218.4h1.3v1.3h-1.3zM367.3 228.4h1.3v1.3h-1.3zM368.7 217.4h1.3v1.3h-1.3zM363.4 221.4h1.3v1.3h-1.3zM360.5 229.1h1.3v1.3h-1.3zM367.8 218.9h1.3v1.3h-1.3zM365.3 224.7h1.3v1.3h-1.3zM368.0 229.1h1.3v1.3h-1.3zM368.3 216.8h1.3v1.3h-1.3zM362.0 219.5h1.3v1.3h-1.3zM358.7 215.4h1.3v1.3h-1.3zM366.1 220.2h1.3v1.3h-1.3zM363.1 222.7h1.3v1.3h-1.3zM362.0 218.8h1.3v1.3h-1.3zM369.7 224.3h1.3v1.3h-1.3zM367.8 217.9h1.3v1.3h-1.3zM365.1 227.5h1.3v1.3h-1.3zM364.7 226.1h1.3v1.3h-1.3zM374.0 222.1h1.3v1.3h-1.3zM360.4 228.1h1.3v1.3h-1.3zM369.7 230.1h1.3v1.3h-1.3zM363.8 215.4h1.3v1.3h-1.3zM362.5 218.6h1.3v1.3h-1.3zM361.4 209.7h1.3v1.3h-1.3zM363.1 216.1h1.3v1.3h-1.3zM363.5 223.4h1.3v1.3h-1.3zM366.4 207.5h1.3v1.3h-1.3zM366.7 210.5h1.3v1.3h-1.3zM372.4 215.6h1.3v1.3h-1.3zM369.1 231.1h1.3v1.3h-1.3zM371.4 215.3h1.3v1.3h-1.3zM373.2 228.7h1.3v1.3h-1.3zM371.8 229.3h1.3v1.3h-1.3zM371.2 220.4h1.3v1.3h-1.3zM375.4 224.5h1.3v1.3h-1.3zM375.2 228.8h1.3v1.3h-1.3zM368.1 226.9h1.3v1.3h-1.3zM372.1 223.1h1.3v1.3h-1.3zM373.2 220.0h1.3v1.3h-1.3zM375.0 217.8h1.3v1.3h-1.3zM369.7 219.0h1.3v1.3h-1.3zM372.4 231.9h1.3v1.3h-1.3zM366.6 223.4h1.3v1.3h-1.3zM373.2 222.6h1.3v1.3h-1.3zM376.5 226.7h1.3v1.3h-1.3zM371.3 214.1h1.3v1.3h-1.3zM374.6 231.4h1.3v1.3h-1.3zM371.9 216.0h1.3v1.3h-1.3zM370.6 213.4h1.3v1.3h-1.3zM370.8 224.4h1.3v1.3h-1.3zM370.6 214.0h1.3v1.3h-1.3zM371.9 227.0h1.3v1.3h-1.3zM374.0 221.8h1.3v1.3h-1.3zM373.8 220.0h1.3v1.3h-1.3zM377.0 215.8h1.3v1.3h-1.3zM370.6 212.6h1.3v1.3h-1.3zM374.3 215.1h1.3v1.3h-1.3zM366.7 224.4h1.3v1.3h-1.3zM368.3 231.0h1.3v1.3h-1.3zM372.9 231.2h1.3v1.3h-1.3zM375.8 214.8h1.3v1.3h-1.3zM385.1 233.1h1.3v1.3h-1.3zM379.9 215.7h1.3v1.3h-1.3zM381.1 221.9h1.3v1.3h-1.3zM375.9 224.4h1.3v1.3h-1.3zM377.2 219.1h1.3v1.3h-1.3zM377.6 222.8h1.3v1.3h-1.3zM379.8 221.6h1.3v1.3h-1.3zM379.2 214.4h1.3v1.3h-1.3zM380.5 223.7h1.3v1.3h-1.3zM382.0 216.7h1.3v1.3h-1.3zM380.5 216.2h1.3v1.3h-1.3zM377.7 225.1h1.3v1.3h-1.3zM377.2 212.0h1.3v1.3h-1.3zM380.4 231.3h1.3v1.3h-1.3zM377.9 224.5h1.3v1.3h-1.3zM378.8 223.1h1.3v1.3h-1.3zM378.1 210.4h1.3v1.3h-1.3zM375.4 218.0h1.3v1.3h-1.3zM378.6 224.6h1.3v1.3h-1.3zM378.5 216.3h1.3v1.3h-1.3zM380.9 228.8h1.3v1.3h-1.3zM379.8 217.8h1.3v1.3h-1.3zM360.8 198.5h1.3v1.3h-1.3zM368.6 200.0h1.3v1.3h-1.3zM369.4 194.6h1.3v1.3h-1.3zM361.8 207.7h1.3v1.3h-1.3zM375.0 203.5h1.3v1.3h-1.3zM364.9 202.3h1.3v1.3h-1.3zM362.3 187.3h1.3v1.3h-1.3zM365.4 207.5h1.3v1.3h-1.3zM353.3 212.9h1.3v1.3h-1.3zM377.9 208.7h1.3v1.3h-1.3zM374.6 200.8h1.3v1.3h-1.3zM376.4 192.1h1.3v1.3h-1.3zM366.4 196.3h1.3v1.3h-1.3zM362.4 213.8h1.3v1.3h-1.3zM366.3 189.8h1.3v1.3h-1.3zM373.4 178.1h1.3v1.3h-1.3zM359.6 211.4h1.3v1.3h-1.3zM379.5 205.6h1.3v1.3h-1.3zM350.8 202.1h1.3v1.3h-1.3zM372.4 185.0h1.3v1.3h-1.3zM364.8 199.2h1.3v1.3h-1.3zM362.1 212.9h1.3v1.3h-1.3zM384.0 204.2h1.3v1.3h-1.3zM374.8 208.4h1.3v1.3h-1.3zM352.9 199.0h1.3v1.3h-1.3zM368.2 198.7h1.3v1.3h-1.3zM371.8 201.4h1.3v1.3h-1.3zM364.8 209.9h1.3v1.3h-1.3zM346.1 212.3h1.3v1.3h-1.3zM355.7 209.2h1.3v1.3h-1.3zM361.7 208.4h1.3v1.3h-1.3zM380.5 203.3h1.3v1.3h-1.3zM356.3 181.7h1.3v1.3h-1.3zM363.6 200.0h1.3v1.3h-1.3zM375.6 186.0h1.3v1.3h-1.3zM372.4 178.1h1.3v1.3h-1.3zM372.1 203.6h1.3v1.3h-1.3zM372.5 211.5h1.3v1.3h-1.3zM360.6 213.9h1.3v1.3h-1.3zM352.4 195.3h1.3v1.3h-1.3zM372.5 195.7h1.3v1.3h-1.3zM376.6 209.0h1.3v1.3h-1.3zM365.3 198.3h1.3v1.3h-1.3zM361.3 207.4h1.3v1.3h-1.3zM370.0 202.4h1.3v1.3h-1.3zM361.2 192.7h1.3v1.3h-1.3zM351.5 210.5h1.3v1.3h-1.3zM369.4 210.5h1.3v1.3h-1.3zM367.9 203.7h1.3v1.3h-1.3zM358.9 208.6h1.3v1.3h-1.3zM369.7 210.5h1.3v1.3h-1.3zM369.0 212.1h1.3v1.3h-1.3zM363.6 213.0h1.3v1.3h-1.3zM381.5 199.1h1.3v1.3h-1.3zM367.3 208.5h1.3v1.3h-1.3zM369.4 203.3h1.3v1.3h-1.3zM363.5 187.7h1.3v1.3h-1.3zM363.1 193.8h1.3v1.3h-1.3zM373.8 204.1h1.3v1.3h-1.3zM375.5 197.2h1.3v1.3h-1.3z" fill="#000" fill-opacity="0.55"/>
<path d="M360.0 209.3h1.3v1.3h-1.3zM364.6 222.1h1.3v1.3h-1.3zM358.4 227.2h1.3v1.3h-1.3zM357.8 226.1h1.3v1.3h-1.3zM355.1 216.0h1.3v1.3h-1.3zM364.2 215.2h1.3v1.3h-1.3zM357.6 230.2h1.3v1.3h-1.3zM358.7 218.6h1.3v1.3h-1.3zM359.1 211.1h1.3v1.3h-1.3zM357.8 217.7h1.3v1.3h-1.3zM361.4 222.0h1.3v1.3h-1.3zM353.5 220.7h1.3v1.3h-1.3zM361.7 226.6h1.3v1.3h-1.3zM358.0 217.7h1.3v1.3h-1.3zM360.5 224.4h1.3v1.3h-1.3zM356.8 211.9h1.3v1.3h-1.3zM358.2 216.4h1.3v1.3h-1.3zM354.2 216.5h1.3v1.3h-1.3zM362.6 219.2h1.3v1.3h-1.3zM358.3 226.2h1.3v1.3h-1.3zM354.9 222.5h1.3v1.3h-1.3zM359.6 227.6h1.3v1.3h-1.3zM361.5 225.7h1.3v1.3h-1.3zM358.8 231.2h1.3v1.3h-1.3zM356.6 228.1h1.3v1.3h-1.3zM360.4 228.4h1.3v1.3h-1.3zM353.7 231.8h1.3v1.3h-1.3zM359.7 224.6h1.3v1.3h-1.3zM361.1 223.8h1.3v1.3h-1.3zM358.8 220.1h1.3v1.3h-1.3zM353.2 229.4h1.3v1.3h-1.3zM359.9 223.2h1.3v1.3h-1.3zM359.4 213.6h1.3v1.3h-1.3zM358.0 222.1h1.3v1.3h-1.3zM354.3 219.1h1.3v1.3h-1.3zM362.1 213.0h1.3v1.3h-1.3zM363.5 220.0h1.3v1.3h-1.3zM356.4 227.6h1.3v1.3h-1.3zM365.5 222.3h1.3v1.3h-1.3zM361.0 230.2h1.3v1.3h-1.3zM365.2 211.5h1.3v1.3h-1.3zM367.9 218.8h1.3v1.3h-1.3zM362.0 220.4h1.3v1.3h-1.3zM358.6 212.0h1.3v1.3h-1.3zM364.1 230.1h1.3v1.3h-1.3zM363.1 218.8h1.3v1.3h-1.3zM363.0 213.9h1.3v1.3h-1.3zM368.7 207.9h1.3v1.3h-1.3zM366.2 212.2h1.3v1.3h-1.3zM368.7 213.0h1.3v1.3h-1.3zM365.8 214.0h1.3v1.3h-1.3zM366.7 214.9h1.3v1.3h-1.3zM367.9 219.1h1.3v1.3h-1.3zM366.9 222.8h1.3v1.3h-1.3zM365.2 218.8h1.3v1.3h-1.3zM367.9 227.1h1.3v1.3h-1.3zM368.8 215.8h1.3v1.3h-1.3zM373.2 222.2h1.3v1.3h-1.3zM369.6 223.4h1.3v1.3h-1.3zM367.7 225.2h1.3v1.3h-1.3zM368.6 224.3h1.3v1.3h-1.3zM367.0 225.0h1.3v1.3h-1.3zM367.0 221.0h1.3v1.3h-1.3zM364.5 228.9h1.3v1.3h-1.3zM362.4 213.9h1.3v1.3h-1.3zM367.2 226.2h1.3v1.3h-1.3zM366.2 210.7h1.3v1.3h-1.3zM359.8 219.7h1.3v1.3h-1.3zM363.0 219.2h1.3v1.3h-1.3zM366.3 217.8h1.3v1.3h-1.3zM367.7 231.2h1.3v1.3h-1.3zM361.2 213.5h1.3v1.3h-1.3zM374.8 219.2h1.3v1.3h-1.3zM376.6 216.6h1.3v1.3h-1.3zM372.2 227.3h1.3v1.3h-1.3zM373.1 218.1h1.3v1.3h-1.3zM377.9 218.3h1.3v1.3h-1.3zM373.6 219.6h1.3v1.3h-1.3zM380.0 221.4h1.3v1.3h-1.3zM370.1 219.1h1.3v1.3h-1.3zM370.3 218.3h1.3v1.3h-1.3zM375.5 230.2h1.3v1.3h-1.3zM375.4 220.5h1.3v1.3h-1.3zM374.4 210.7h1.3v1.3h-1.3zM374.7 222.9h1.3v1.3h-1.3zM369.1 229.2h1.3v1.3h-1.3zM370.0 225.0h1.3v1.3h-1.3zM376.8 223.7h1.3v1.3h-1.3zM369.5 214.4h1.3v1.3h-1.3zM375.8 204.5h1.3v1.3h-1.3zM376.7 227.6h1.3v1.3h-1.3zM369.1 224.9h1.3v1.3h-1.3zM375.2 224.2h1.3v1.3h-1.3zM372.0 227.7h1.3v1.3h-1.3zM369.2 230.6h1.3v1.3h-1.3zM369.8 225.2h1.3v1.3h-1.3zM370.8 229.1h1.3v1.3h-1.3zM371.3 224.5h1.3v1.3h-1.3zM374.0 211.0h1.3v1.3h-1.3zM372.1 232.2h1.3v1.3h-1.3zM374.8 227.8h1.3v1.3h-1.3zM372.9 231.3h1.3v1.3h-1.3zM369.1 213.1h1.3v1.3h-1.3zM374.2 221.0h1.3v1.3h-1.3zM371.8 232.5h1.3v1.3h-1.3zM374.4 229.1h1.3v1.3h-1.3zM370.4 223.3h1.3v1.3h-1.3zM372.3 221.7h1.3v1.3h-1.3zM373.2 226.3h1.3v1.3h-1.3zM369.6 210.2h1.3v1.3h-1.3zM374.0 219.8h1.3v1.3h-1.3zM370.8 217.5h1.3v1.3h-1.3zM379.8 219.0h1.3v1.3h-1.3zM381.1 224.8h1.3v1.3h-1.3zM381.1 215.3h1.3v1.3h-1.3zM376.4 232.7h1.3v1.3h-1.3zM382.2 221.3h1.3v1.3h-1.3zM379.8 218.3h1.3v1.3h-1.3zM378.9 220.9h1.3v1.3h-1.3zM378.1 230.1h1.3v1.3h-1.3zM376.2 225.8h1.3v1.3h-1.3zM385.3 224.4h1.3v1.3h-1.3zM381.7 228.2h1.3v1.3h-1.3zM373.5 228.1h1.3v1.3h-1.3zM375.9 219.1h1.3v1.3h-1.3zM382.8 207.4h1.3v1.3h-1.3zM384.1 220.4h1.3v1.3h-1.3zM381.2 216.4h1.3v1.3h-1.3zM382.4 224.7h1.3v1.3h-1.3zM376.9 220.2h1.3v1.3h-1.3zM380.3 227.8h1.3v1.3h-1.3zM380.9 228.0h1.3v1.3h-1.3zM380.1 214.4h1.3v1.3h-1.3zM374.6 215.9h1.3v1.3h-1.3zM379.0 223.9h1.3v1.3h-1.3zM371.1 207.7h1.3v1.3h-1.3zM353.1 206.5h1.3v1.3h-1.3zM366.2 211.1h1.3v1.3h-1.3zM376.9 210.2h1.3v1.3h-1.3zM378.4 209.0h1.3v1.3h-1.3zM365.5 212.5h1.3v1.3h-1.3zM346.3 207.3h1.3v1.3h-1.3zM367.8 211.9h1.3v1.3h-1.3zM368.4 211.8h1.3v1.3h-1.3zM372.3 208.7h1.3v1.3h-1.3zM375.4 204.0h1.3v1.3h-1.3zM368.6 187.7h1.3v1.3h-1.3zM371.6 203.1h1.3v1.3h-1.3zM371.9 204.9h1.3v1.3h-1.3zM354.7 209.3h1.3v1.3h-1.3zM361.8 200.7h1.3v1.3h-1.3zM384.3 199.6h1.3v1.3h-1.3zM357.4 188.7h1.3v1.3h-1.3zM361.6 209.2h1.3v1.3h-1.3zM371.4 204.1h1.3v1.3h-1.3zM383.0 201.3h1.3v1.3h-1.3zM372.8 200.0h1.3v1.3h-1.3zM363.4 196.7h1.3v1.3h-1.3zM361.0 207.1h1.3v1.3h-1.3zM364.5 207.5h1.3v1.3h-1.3zM373.0 205.1h1.3v1.3h-1.3zM358.6 187.2h1.3v1.3h-1.3zM360.7 206.2h1.3v1.3h-1.3zM362.8 199.8h1.3v1.3h-1.3zM375.3 182.8h1.3v1.3h-1.3zM364.5 211.2h1.3v1.3h-1.3zM362.2 198.1h1.3v1.3h-1.3zM365.9 208.6h1.3v1.3h-1.3zM359.5 213.7h1.3v1.3h-1.3zM357.6 205.0h1.3v1.3h-1.3zM375.6 206.5h1.3v1.3h-1.3zM367.5 192.7h1.3v1.3h-1.3zM374.0 210.1h1.3v1.3h-1.3zM356.1 194.2h1.3v1.3h-1.3zM362.9 203.7h1.3v1.3h-1.3zM368.3 184.9h1.3v1.3h-1.3zM358.7 206.2h1.3v1.3h-1.3zM355.3 213.5h1.3v1.3h-1.3zM374.5 209.8h1.3v1.3h-1.3zM366.1 189.8h1.3v1.3h-1.3zM367.3 209.5h1.3v1.3h-1.3zM361.2 191.3h1.3v1.3h-1.3zM360.6 183.4h1.3v1.3h-1.3zM363.6 210.6h1.3v1.3h-1.3zM365.2 194.4h1.3v1.3h-1.3zM371.3 206.4h1.3v1.3h-1.3zM374.1 200.6h1.3v1.3h-1.3zM363.5 212.4h1.3v1.3h-1.3zM381.1 190.0h1.3v1.3h-1.3zM371.5 203.5h1.3v1.3h-1.3zM380.5 192.7h1.3v1.3h-1.3zM373.4 209.1h1.3v1.3h-1.3zM375.6 212.2h1.3v1.3h-1.3zM370.5 206.4h1.3v1.3h-1.3zM358.3 209.1h1.3v1.3h-1.3zM371.1 204.8h1.3v1.3h-1.3zM388.5 184.8h1.3v1.3h-1.3zM362.8 196.0h1.3v1.3h-1.3zM375.6 219.8h1.3v1.3h-1.3z" fill="#000" fill-opacity="0.55"/>
<path d="M355.2 225.9h1.3v1.3h-1.3zM362.9 217.1h1.3v1.3h-1.3zM359.9 230.0h1.3v1.3h-1.3zM350.8 232.9h1.3v1.3h-1.3zM361.4 217.6h1.3v1.3h-1.3zM357.2 223.4h1.3v1.3h-1.3zM356.6 221.6h1.3v1.3h-1.3zM357.1 221.2h1.3v1.3h-1.3zM359.6 222.2h1.3v1.3h-1.3zM355.3 223.9h1.3v1.3h-1.3zM357.1 219.8h1.3v1.3h-1.3zM358.2 216.8h1.3v1.3h-1.3zM361.6 224.2h1.3v1.3h-1.3zM359.0 221.9h1.3v1.3h-1.3zM357.7 219.4h1.3v1.3h-1.3zM357.4 221.3h1.3v1.3h-1.3zM364.3 221.5h1.3v1.3h-1.3zM353.7 217.3h1.3v1.3h-1.3zM362.5 224.2h1.3v1.3h-1.3zM359.9 215.2h1.3v1.3h-1.3zM357.8 221.4h1.3v1.3h-1.3zM362.2 225.2h1.3v1.3h-1.3zM361.1 218.7h1.3v1.3h-1.3zM356.3 232.2h1.3v1.3h-1.3zM356.2 216.0h1.3v1.3h-1.3zM360.1 214.9h1.3v1.3h-1.3zM362.0 222.6h1.3v1.3h-1.3zM360.6 226.6h1.3v1.3h-1.3zM359.9 225.2h1.3v1.3h-1.3zM358.0 213.8h1.3v1.3h-1.3zM357.1 215.9h1.3v1.3h-1.3zM357.7 225.7h1.3v1.3h-1.3zM357.8 223.4h1.3v1.3h-1.3zM356.6 229.4h1.3v1.3h-1.3zM360.4 221.7h1.3v1.3h-1.3zM361.8 227.7h1.3v1.3h-1.3zM363.0 227.2h1.3v1.3h-1.3zM355.1 222.0h1.3v1.3h-1.3zM356.5 232.8h1.3v1.3h-1.3zM354.6 216.3h1.3v1.3h-1.3zM354.1 220.7h1.3v1.3h-1.3zM359.3 225.6h1.3v1.3h-1.3zM357.3 223.4h1.3v1.3h-1.3zM356.4 226.8h1.3v1.3h-1.3zM359.0 212.4h1.3v1.3h-1.3zM360.7 228.5h1.3v1.3h-1.3zM354.7 229.6h1.3v1.3h-1.3zM357.3 224.0h1.3v1.3h-1.3zM359.8 211.5h1.3v1.3h-1.3zM367.8 210.6h1.3v1.3h-1.3zM362.5 223.0h1.3v1.3h-1.3zM366.1 216.5h1.3v1.3h-1.3zM365.5 204.8h1.3v1.3h-1.3zM362.6 220.6h1.3v1.3h-1.3zM364.0 228.7h1.3v1.3h-1.3zM362.4 224.8h1.3v1.3h-1.3zM364.3 221.4h1.3v1.3h-1.3zM369.2 223.6h1.3v1.3h-1.3zM364.7 232.5h1.3v1.3h-1.3zM362.8 207.8h1.3v1.3h-1.3zM364.4 206.0h1.3v1.3h-1.3zM367.1 220.0h1.3v1.3h-1.3zM361.5 222.8h1.3v1.3h-1.3zM365.5 216.4h1.3v1.3h-1.3zM369.0 214.8h1.3v1.3h-1.3zM368.7 227.5h1.3v1.3h-1.3zM363.6 207.0h1.3v1.3h-1.3zM363.7 226.1h1.3v1.3h-1.3zM365.9 221.9h1.3v1.3h-1.3zM363.5 217.0h1.3v1.3h-1.3zM365.7 231.3h1.3v1.3h-1.3zM368.1 226.5h1.3v1.3h-1.3zM368.6 227.0h1.3v1.3h-1.3zM367.7 213.7h1.3v1.3h-1.3zM361.0 231.5h1.3v1.3h-1.3zM368.7 217.2h1.3v1.3h-1.3zM364.4 223.6h1.3v1.3h-1.3zM364.3 216.9h1.3v1.3h-1.3zM367.4 230.6h1.3v1.3h-1.3zM363.5 215.0h1.3v1.3h-1.3zM367.6 223.6h1.3v1.3h-1.3zM369.7 224.5h1.3v1.3h-1.3zM375.0 224.2h1.3v1.3h-1.3zM372.0 222.2h1.3v1.3h-1.3zM376.0 209.0h1.3v1.3h-1.3zM375.5 210.5h1.3v1.3h-1.3zM373.8 207.4h1.3v1.3h-1.3zM371.9 233.1h1.3v1.3h-1.3zM372.8 220.8h1.3v1.3h-1.3zM371.5 217.9h1.3v1.3h-1.3zM371.8 227.6h1.3v1.3h-1.3zM374.0 220.9h1.3v1.3h-1.3zM370.1 227.1h1.3v1.3h-1.3zM376.9 230.5h1.3v1.3h-1.3zM376.2 230.4h1.3v1.3h-1.3zM370.2 223.1h1.3v1.3h-1.3zM373.3 227.4h1.3v1.3h-1.3zM374.7 222.0h1.3v1.3h-1.3zM368.6 214.1h1.3v1.3h-1.3zM372.4 221.3h1.3v1.3h-1.3zM370.5 224.2h1.3v1.3h-1.3zM377.2 217.5h1.3v1.3h-1.3zM374.1 227.5h1.3v1.3h-1.3zM374.8 226.4h1.3v1.3h-1.3zM375.3 222.5h1.3v1.3h-1.3zM375.1 212.4h1.3v1.3h-1.3zM372.6 219.1h1.3v1.3h-1.3zM366.3 222.4h1.3v1.3h-1.3zM373.4 230.7h1.3v1.3h-1.3zM369.9 220.1h1.3v1.3h-1.3zM370.7 222.0h1.3v1.3h-1.3zM373.9 224.7h1.3v1.3h-1.3zM368.1 223.2h1.3v1.3h-1.3zM375.4 223.2h1.3v1.3h-1.3zM376.6 225.4h1.3v1.3h-1.3zM375.0 213.3h1.3v1.3h-1.3zM371.8 227.0h1.3v1.3h-1.3zM370.6 224.5h1.3v1.3h-1.3zM367.1 222.8h1.3v1.3h-1.3zM372.6 222.5h1.3v1.3h-1.3zM374.5 229.0h1.3v1.3h-1.3zM377.0 222.6h1.3v1.3h-1.3zM379.6 218.2h1.3v1.3h-1.3zM381.9 230.3h1.3v1.3h-1.3zM376.4 213.6h1.3v1.3h-1.3zM380.8 227.1h1.3v1.3h-1.3zM381.2 223.9h1.3v1.3h-1.3zM381.4 222.8h1.3v1.3h-1.3zM372.8 211.0h1.3v1.3h-1.3zM381.1 226.8h1.3v1.3h-1.3zM378.6 215.5h1.3v1.3h-1.3zM379.5 221.3h1.3v1.3h-1.3zM378.2 206.0h1.3v1.3h-1.3zM379.8 216.3h1.3v1.3h-1.3zM379.5 215.9h1.3v1.3h-1.3zM363.4 191.5h1.3v1.3h-1.3zM355.4 208.9h1.3v1.3h-1.3zM376.5 213.3h1.3v1.3h-1.3zM364.5 204.8h1.3v1.3h-1.3zM353.2 208.3h1.3v1.3h-1.3zM361.4 211.9h1.3v1.3h-1.3zM347.4 208.6h1.3v1.3h-1.3zM369.3 206.3h1.3v1.3h-1.3zM363.8 198.1h1.3v1.3h-1.3zM375.9 196.7h1.3v1.3h-1.3zM359.2 200.4h1.3v1.3h-1.3zM363.6 206.8h1.3v1.3h-1.3zM375.1 184.1h1.3v1.3h-1.3zM367.9 183.7h1.3v1.3h-1.3zM367.8 191.4h1.3v1.3h-1.3zM359.1 173.2h1.3v1.3h-1.3zM388.2 196.7h1.3v1.3h-1.3zM347.9 205.6h1.3v1.3h-1.3zM368.3 204.6h1.3v1.3h-1.3zM366.7 209.6h1.3v1.3h-1.3zM376.8 206.6h1.3v1.3h-1.3zM367.1 193.2h1.3v1.3h-1.3zM372.4 185.4h1.3v1.3h-1.3zM376.4 205.7h1.3v1.3h-1.3zM364.3 202.9h1.3v1.3h-1.3zM362.4 206.5h1.3v1.3h-1.3zM357.2 212.4h1.3v1.3h-1.3zM370.9 184.9h1.3v1.3h-1.3zM355.2 196.9h1.3v1.3h-1.3zM389.8 213.6h1.3v1.3h-1.3zM375.2 210.3h1.3v1.3h-1.3zM366.5 203.6h1.3v1.3h-1.3zM375.9 197.2h1.3v1.3h-1.3zM367.2 209.2h1.3v1.3h-1.3zM369.3 205.0h1.3v1.3h-1.3zM379.7 194.9h1.3v1.3h-1.3zM352.2 178.7h1.3v1.3h-1.3zM363.7 208.4h1.3v1.3h-1.3zM353.5 191.6h1.3v1.3h-1.3zM359.6 209.6h1.3v1.3h-1.3zM372.5 195.1h1.3v1.3h-1.3zM360.1 211.7h1.3v1.3h-1.3zM364.8 210.5h1.3v1.3h-1.3zM350.7 209.5h1.3v1.3h-1.3zM372.2 212.8h1.3v1.3h-1.3zM373.6 169.4h1.3v1.3h-1.3zM367.5 203.7h1.3v1.3h-1.3zM375.8 195.5h1.3v1.3h-1.3zM361.1 209.6h1.3v1.3h-1.3zM366.0 198.4h1.3v1.3h-1.3zM362.0 185.0h1.3v1.3h-1.3zM370.7 196.1h1.3v1.3h-1.3zM366.8 198.2h1.3v1.3h-1.3zM367.2 192.3h1.3v1.3h-1.3zM356.3 207.8h1.3v1.3h-1.3zM365.8 207.2h1.3v1.3h-1.3zM358.8 207.4h1.3v1.3h-1.3zM358.8 206.4h1.3v1.3h-1.3zM378.2 211.7h1.3v1.3h-1.3zM382.6 198.1h1.3v1.3h-1.3zM382.0 204.6h1.3v1.3h-1.3zM368.8 194.2h1.3v1.3h-1.3zM358.0 194.1h1.3v1.3h-1.3zM366.7 196.2h1.3v1.3h-1.3zM374.9 212.9h1.3v1.3h-1.3zM373.9 205.5h1.3v1.3h-1.3zM367.5 202.4h1.3v1.3h-1.3zM363.3 203.8h1.3v1.3h-1.3zM383.3 198.9h1.3v1.3h-1.3zM346.6 211.4h1.3v1.3h-1.3zM367.6 208.8h1.3v1.3h-1.3zM382.5 208.6h1.3v1.3h-1.3zM363.4 197.7h1.3v1.3h-1.3zM357.2 185.9h1.3v1.3h-1.3zM361.1 188.8h1.3v1.3h-1.3zM371.3 206.7h1.3v1.3h-1.3zM373.4 184.7h1.3v1.3h-1.3zM350.7 210.9h1.3v1.3h-1.3zM363.6 181.2h1.3v1.3h-1.3z" fill="#000" fill-opacity="0.55"/>
<text x="-0.8" y="272.3" font-size="13.8" font-weight="bold" text-anchor="start" >B</text>
<text x="54.2" y="277.1" font-size="12" font-weight="bold" text-anchor="start" >Spleen</text>
<text x="27.2" y="416.5" font-size="10" font-weight="bold" transform="rotate(-90 27.2 416.5)"># of 1H3.1 T cells / spleen (x 10<tspan font-size="6.5" dy="-4">3</tspan><tspan dy="4">)</tspan></text>
<line x1="50.5" y1="282.5" x2="50.5" y2="350.7" stroke="#111" stroke-width="1.3"/>
<line x1="50.5" y1="361.5" x2="50.5" y2="415" stroke="#111" stroke-width="1.3"/>
<line x1="49.9" y1="415.3" x2="300" y2="415.3" stroke="#111" stroke-width="1.5"/>
<line x1="48.2" y1="355.5" x2="53.1" y2="349.7" stroke="#111" stroke-width="1.3"/>
<line x1="48.8" y1="362.8" x2="53.5" y2="357.4" stroke="#111" stroke-width="1.3"/>
<text x="46.8" y="285.8" font-size="7.9" font-weight="normal" text-anchor="end" >2000</text>
<line x1="49" y1="283.0" x2="50.5" y2="283.0" stroke="#000" stroke-width="0.8"/>
<text x="46.8" y="298.94" font-size="7.9" font-weight="normal" text-anchor="end" >1800</text>
<line x1="49" y1="296.14" x2="50.5" y2="296.14" stroke="#000" stroke-width="0.8"/>
<text x="46.8" y="312.08" font-size="7.9" font-weight="normal" text-anchor="end" >1600</text>
<line x1="49" y1="309.28" x2="50.5" y2="309.28" stroke="#000" stroke-width="0.8"/>
<text x="46.8" y="325.22" font-size="7.9" font-weight="normal" text-anchor="end" >1400</text>
<line x1="49" y1="322.42" x2="50.5" y2="322.42" stroke="#000" stroke-width="0.8"/>
<text x="46.8" y="338.36" font-size="7.9" font-weight="normal" text-anchor="end" >1200</text>
<line x1="49" y1="335.56" x2="50.5" y2="335.56" stroke="#000" stroke-width="0.8"/>
<text x="46.8" y="351.5" font-size="7.9" font-weight="normal" text-anchor="end" >1000</text>
<line x1="49" y1="348.7" x2="50.5" y2="348.7" stroke="#000" stroke-width="0.8"/>
<text x="46.8" y="365.20000000000005" font-size="7.9" font-weight="normal" text-anchor="end" >200</text>
<line x1="49" y1="362.40000000000003" x2="50.5" y2="362.40000000000003" stroke="#000" stroke-width="0.8"/>
<text x="46.8" y="378.25000000000006" font-size="7.9" font-weight="normal" text-anchor="end" >150</text>
<line x1="49" y1="375.45000000000005" x2="50.5" y2="375.45000000000005" stroke="#000" stroke-width="0.8"/>
<text x="46.8" y="391.3" font-size="7.9" font-weight="normal" text-anchor="end" >100</text>
<line x1="49" y1="388.5" x2="50.5" y2="388.5" stroke="#000" stroke-width="0.8"/>
<text x="46.8" y="404.35" font-size="7.9" font-weight="normal" text-anchor="end" >50</text>
<line x1="49" y1="401.55" x2="50.5" y2="401.55" stroke="#000" stroke-width="0.8"/>
<text x="46.8" y="417.40000000000003" font-size="7.9" font-weight="normal" text-anchor="end" >0</text>
<line x1="49" y1="414.6" x2="50.5" y2="414.6" stroke="#000" stroke-width="0.8"/>
<defs><pattern id="hatch" width="5.5" height="5.5" patternUnits="userSpaceOnUse" patternTransform="rotate(0)">
<path d="M1.5 0.5 L4 3.5" stroke="#222" stroke-width="0.8"/></pattern></defs>
<rect x="57.5" y="374" width="11.099999999999994" height="40.80000000000001" fill="#000" stroke="none" stroke-width="0.8"/>
<rect x="57.5" y="374" width="11.099999999999994" height="40.80000000000001" fill="none" stroke="#000" stroke-width="0.9"/>
<line x1="63.05" y1="372.3" x2="63.05" y2="374" stroke="#444" stroke-width="0.7"/>
<line x1="61.449999999999996" y1="372.3" x2="64.64999999999999" y2="372.3" stroke="#444" stroke-width="0.8"/>
<rect x="83" y="368.5" width="10.799999999999997" height="46.30000000000001" fill="#8a8a8a" stroke="none" stroke-width="0.8"/>
<rect x="83" y="368.5" width="10.799999999999997" height="46.30000000000001" fill="none" stroke="#444" stroke-width="0.9"/>
<line x1="88.4" y1="366.8" x2="88.4" y2="368.5" stroke="#444" stroke-width="0.7"/>
<line x1="86.80000000000001" y1="366.8" x2="90.0" y2="366.8" stroke="#444" stroke-width="0.8"/>
<rect x="108.3" y="307.5" width="11.100000000000009" height="44.0" fill="#fff" stroke="none" stroke-width="0.8"/>
<rect x="108.3" y="361" width="11.100000000000009" height="53.80000000000001" fill="#fff" stroke="none" stroke-width="0.8"/>
<path d="M109.2 310.0l2.3 2.2M114.7 310.0l2.3 2.2M109.2 315.9l2.3 2.2M114.7 315.9l2.3 2.2M109.2 321.8l2.3 2.2M114.7 321.8l2.3 2.2M109.2 327.7l2.3 2.2M114.7 327.7l2.3 2.2M109.2 333.6l2.3 2.2M114.7 333.6l2.3 2.2M109.2 339.5l2.3 2.2M114.7 339.5l2.3 2.2M109.2 345.4l2.3 2.2M114.7 345.4l2.3 2.2" stroke="#111" stroke-width="1.15" fill="none"/>
<path d="M109.2 363.5l2.3 2.2M114.7 363.5l2.3 2.2M109.2 369.4l2.3 2.2M114.7 369.4l2.3 2.2M109.2 375.3l2.3 2.2M114.7 375.3l2.3 2.2M109.2 381.2l2.3 2.2M114.7 381.2l2.3 2.2M109.2 387.1l2.3 2.2M114.7 387.1l2.3 2.2M109.2 393.0l2.3 2.2M114.7 393.0l2.3 2.2M109.2 398.9l2.3 2.2M114.7 398.9l2.3 2.2M109.2 404.8l2.3 2.2M114.7 404.8l2.3 2.2M109.2 410.7l2.3 2.2M114.7 410.7l2.3 2.2" stroke="#111" stroke-width="1.15" fill="none"/>
<line x1="108.3" y1="307.5" x2="108.3" y2="351.5" stroke="#333" stroke-width="0.9"/>
<line x1="108.3" y1="361" x2="108.3" y2="414.8" stroke="#333" stroke-width="0.9"/>
<line x1="119.4" y1="307.5" x2="119.4" y2="351.5" stroke="#333" stroke-width="0.9"/>
<line x1="119.4" y1="361" x2="119.4" y2="414.8" stroke="#333" stroke-width="0.9"/>
<line x1="108.3" y1="307.5" x2="119.4" y2="307.5" stroke="#333" stroke-width="0.9"/>
<line x1="113.85" y1="296.8" x2="113.85" y2="318.2" stroke="#444" stroke-width="0.7"/>
<line x1="112.25" y1="296.8" x2="115.44999999999999" y2="296.8" stroke="#444" stroke-width="0.8"/>
<line x1="112.25" y1="318.2" x2="115.44999999999999" y2="318.2" stroke="#444" stroke-width="0.8"/>
<rect x="133.2" y="307.5" width="10.800000000000011" height="44.0" fill="#fff" stroke="none" stroke-width="0.8"/>
<rect x="133.2" y="361" width="10.800000000000011" height="53.80000000000001" fill="#fff" stroke="none" stroke-width="0.8"/>
<line x1="133.2" y1="307.5" x2="133.2" y2="351.5" stroke="#606060" stroke-width="0.9"/>
<line x1="133.2" y1="361" x2="133.2" y2="414.8" stroke="#606060" stroke-width="0.9"/>
<line x1="144" y1="307.5" x2="144" y2="351.5" stroke="#606060" stroke-width="0.9"/>
<line x1="144" y1="361" x2="144" y2="414.8" stroke="#606060" stroke-width="0.9"/>
<line x1="133.2" y1="307.5" x2="144" y2="307.5" stroke="#606060" stroke-width="0.9"/>
<line x1="138.6" y1="291" x2="138.6" y2="323.8" stroke="#444" stroke-width="0.7"/>
<line x1="137.0" y1="291" x2="140.2" y2="291" stroke="#444" stroke-width="0.8"/>
<line x1="137.0" y1="323.8" x2="140.2" y2="323.8" stroke="#444" stroke-width="0.8"/>
<rect x="158" y="404" width="11.400000000000006" height="10.800000000000011" fill="#000" stroke="none" stroke-width="0.8"/>
<rect x="158" y="404" width="11.400000000000006" height="10.800000000000011" fill="none" stroke="#000" stroke-width="0.9"/>
<line x1="163.7" y1="402.5" x2="163.7" y2="404" stroke="#444" stroke-width="0.7"/>
<line x1="162.1" y1="402.5" x2="165.29999999999998" y2="402.5" stroke="#444" stroke-width="0.8"/>
<rect x="183" y="402" width="11" height="12.800000000000011" fill="#8a8a8a" stroke="none" stroke-width="0.8"/>
<rect x="183" y="402" width="11" height="12.800000000000011" fill="none" stroke="#444" stroke-width="0.9"/>
<line x1="188.5" y1="400.8" x2="188.5" y2="402" stroke="#444" stroke-width="0.7"/>
<line x1="186.9" y1="400.8" x2="190.1" y2="400.8" stroke="#444" stroke-width="0.8"/>
<rect x="208" y="396.5" width="11.400000000000006" height="18.30000000000001" fill="#fff" stroke="none" stroke-width="0.8"/>
<path d="M208.9 399.0l2.3 2.2M214.4 399.0l2.3 2.2M208.9 404.9l2.3 2.2M214.4 404.9l2.3 2.2M208.9 410.8l2.3 2.2M214.4 410.8l2.3 2.2" stroke="#111" stroke-width="1.15" fill="none"/>
<rect x="208" y="396.5" width="11.400000000000006" height="18.30000000000001" fill="none" stroke="#333" stroke-width="0.9"/>
<line x1="213.7" y1="392.5" x2="213.7" y2="400.5" stroke="#444" stroke-width="0.7"/>
<line x1="212.1" y1="392.5" x2="215.29999999999998" y2="392.5" stroke="#444" stroke-width="0.8"/>
<line x1="212.1" y1="400.5" x2="215.29999999999998" y2="400.5" stroke="#444" stroke-width="0.8"/>
<rect x="233" y="411" width="11" height="3.8000000000000114" fill="#fff" stroke="none" stroke-width="0.8"/>
<rect x="233" y="411" width="11" height="3.8000000000000114" fill="none" stroke="#606060" stroke-width="0.9"/>
<line x1="238.5" y1="409.5" x2="238.5" y2="412.5" stroke="#444" stroke-width="0.7"/>
<line x1="236.9" y1="409.5" x2="240.1" y2="409.5" stroke="#444" stroke-width="0.8"/>
<line x1="236.9" y1="412.5" x2="240.1" y2="412.5" stroke="#444" stroke-width="0.8"/>
<rect x="258.3" y="381" width="10.699999999999989" height="33.80000000000001" fill="#8a8a8a" stroke="none" stroke-width="0.8"/>
<rect x="258.3" y="381" width="10.699999999999989" height="33.80000000000001" fill="none" stroke="#444" stroke-width="0.9"/>
<line x1="263.65" y1="376.8" x2="263.65" y2="385.2" stroke="#444" stroke-width="0.7"/>
<line x1="262.04999999999995" y1="376.8" x2="265.25" y2="376.8" stroke="#444" stroke-width="0.8"/>
<line x1="262.04999999999995" y1="385.2" x2="265.25" y2="385.2" stroke="#444" stroke-width="0.8"/>
<rect x="283" y="410.5" width="10.600000000000023" height="4.300000000000011" fill="#fff" stroke="none" stroke-width="0.8"/>
<rect x="283" y="410.5" width="10.600000000000023" height="4.300000000000011" fill="none" stroke="#606060" stroke-width="0.9"/>
<line x1="288.3" y1="409.3" x2="288.3" y2="411.7" stroke="#444" stroke-width="0.7"/>
<line x1="286.7" y1="409.3" x2="289.90000000000003" y2="409.3" stroke="#444" stroke-width="0.8"/>
<line x1="286.7" y1="411.7" x2="289.90000000000003" y2="411.7" stroke="#444" stroke-width="0.8"/>
<line x1="151.4" y1="414.6" x2="151.4" y2="430" stroke="#000" stroke-width="1.2"/>
<text x="88.0" y="428" font-size="12" font-weight="bold" text-anchor="start" >Day 3</text>
<text x="205.2" y="428" font-size="12" font-weight="bold" text-anchor="start" >Day 14</text>
<line x1="82.5" y1="288.4" x2="134.5" y2="288.4" stroke="#000" stroke-width="1.1"/>
<text x="110.8" y="284.6" font-size="8.6" font-weight="normal" text-anchor="middle" font-style="italic" >P &lt; .01</text>
<line x1="143" y1="288.4" x2="240.3" y2="288.4" stroke="#000" stroke-width="1.1"/>
<text x="187.7" y="285.2" font-size="8.6" font-weight="normal" text-anchor="middle" font-style="italic" >P &lt; .01</text>
<text x="212.7" y="367.2" font-size="8.6" font-weight="normal" text-anchor="middle" font-style="italic" >P &lt; .01</text>
<line x1="216.8" y1="386.7" x2="241.3" y2="386.7" stroke="#000" stroke-width="1"/>
<text x="278.4" y="333.8" font-size="8" font-weight="bold" text-anchor="middle" >Tx with</text>
<text x="277.2" y="342.6" font-size="8" font-weight="bold" text-anchor="middle" >BALB/c hearts</text>
<text x="279.3" y="351.6" font-size="8" font-weight="bold" text-anchor="middle" >on day 7</text>
<path d="M263.4 359 Q263.4 357 265.4 357 L288.5 357 Q290.5 357 290.5 359" stroke="#111" stroke-width="1.1" fill="none"/>
<path d="M261.4 358.8 L265.4 358.8 L263.4 363 Z" fill="#111" stroke="#111" stroke-width="0.5"/>
<path d="M288.5 358.8 L292.5 358.8 L290.5 363 Z" fill="#111" stroke="#111" stroke-width="0.5"/>
<text x="277.9" y="372.8" font-size="8.6" font-weight="normal" text-anchor="middle" font-style="italic" >P &lt; .01</text>
<line x1="267.4" y1="375.4" x2="290.5" y2="375.4" stroke="#000" stroke-width="1"/>
<text x="424.8" y="308.8" font-size="12" font-weight="bold" text-anchor="start" >Lymph nodes</text>
<line x1="420.8" y1="314.2" x2="420.8" y2="368.5" stroke="#000" stroke-width="1.2"/>
<line x1="420.8" y1="368.5" x2="520" y2="368.5" stroke="#000" stroke-width="1.2"/>
<text x="417" y="317.9" font-size="8" font-weight="normal" text-anchor="end" >200</text>
<line x1="419" y1="315.0" x2="420.8" y2="315.0" stroke="#000" stroke-width="0.8"/>
<text x="417" y="331.15" font-size="8" font-weight="normal" text-anchor="end" >150</text>
<line x1="419" y1="328.25" x2="420.8" y2="328.25" stroke="#000" stroke-width="0.8"/>
<text x="417" y="344.4" font-size="8" font-weight="normal" text-anchor="end" >100</text>
<line x1="419" y1="341.5" x2="420.8" y2="341.5" stroke="#000" stroke-width="0.8"/>
<text x="417" y="357.65" font-size="8" font-weight="normal" text-anchor="end" >50</text>
<line x1="419" y1="354.75" x2="420.8" y2="354.75" stroke="#000" stroke-width="0.8"/>
<text x="417" y="370.9" font-size="8" font-weight="normal" text-anchor="end" >0</text>
<line x1="419" y1="368.0" x2="420.8" y2="368.0" stroke="#000" stroke-width="0.8"/>
<rect x="428.1" y="365.2" width="10.599999999999966" height="3.3000000000000114" fill="#000" stroke="none" stroke-width="0.8"/>
<rect x="428.1" y="365.2" width="10.599999999999966" height="3.3000000000000114" fill="none" stroke="#000" stroke-width="0.9"/>
<line x1="433.4" y1="364.3" x2="433.4" y2="366" stroke="#444" stroke-width="0.7"/>
<line x1="431.79999999999995" y1="364.3" x2="435.0" y2="364.3" stroke="#444" stroke-width="0.8"/>
<line x1="431.79999999999995" y1="366" x2="435.0" y2="366" stroke="#444" stroke-width="0.8"/>
<rect x="453.1" y="363.7" width="11.099999999999966" height="4.800000000000011" fill="#8a8a8a" stroke="none" stroke-width="0.8"/>
<rect x="453.1" y="363.7" width="11.099999999999966" height="4.800000000000011" fill="none" stroke="#444" stroke-width="0.9"/>
<line x1="458.65" y1="361.9" x2="458.65" y2="365.6" stroke="#444" stroke-width="0.7"/>
<line x1="457.04999999999995" y1="361.9" x2="460.25" y2="361.9" stroke="#444" stroke-width="0.8"/>
<line x1="457.04999999999995" y1="365.6" x2="460.25" y2="365.6" stroke="#444" stroke-width="0.8"/>
<rect x="478.7" y="362.3" width="10.900000000000034" height="6.199999999999989" fill="#fff" stroke="none" stroke-width="0.8"/>
<path d="M479.6 364.8l2.3 2.2M485.1 364.8l2.3 2.2" stroke="#111" stroke-width="1.15" fill="none"/>
<rect x="478.7" y="362.3" width="10.900000000000034" height="6.199999999999989" fill="none" stroke="#333" stroke-width="0.9"/>
<line x1="484.15" y1="360" x2="484.15" y2="364.6" stroke="#444" stroke-width="0.7"/>
<line x1="482.54999999999995" y1="360" x2="485.75" y2="360" stroke="#444" stroke-width="0.8"/>
<line x1="482.54999999999995" y1="364.6" x2="485.75" y2="364.6" stroke="#444" stroke-width="0.8"/>
<rect x="504.6" y="362.9" width="10.399999999999977" height="5.600000000000023" fill="#fff" stroke="none" stroke-width="0.8"/>
<rect x="504.6" y="362.9" width="10.399999999999977" height="5.600000000000023" fill="none" stroke="#606060" stroke-width="0.9"/>
<line x1="509.8" y1="359.4" x2="509.8" y2="366.2" stroke="#444" stroke-width="0.7"/>
<line x1="508.2" y1="359.4" x2="511.40000000000003" y2="359.4" stroke="#444" stroke-width="0.8"/>
<line x1="508.2" y1="366.2" x2="511.40000000000003" y2="366.2" stroke="#444" stroke-width="0.8"/>
<text x="465.5" y="383" font-size="12" font-weight="bold" text-anchor="middle" >Day 3</text>
<text x="367.6" y="338.3" font-size="10.2" font-weight="bold" text-anchor="middle" ># of 1H3.1</text>
<text x="369.2" y="349.8" font-size="10.2" font-weight="bold" text-anchor="middle">T cells (x 10<tspan font-size="6" dy="-3.5">3</tspan><tspan dy="3.5">)</tspan></text>
<text x="-0.6" y="455.9" font-size="14" font-weight="bold" text-anchor="start" >C</text>
<text x="49.0" y="456.3" font-size="12" font-weight="bold" text-anchor="start" >Spleen</text>
<text x="17.4" y="553.2" font-size="10" font-weight="bold" transform="rotate(-90 17.4 553.2)">IFN-γ (pg / mL)</text>
<line x1="43.8" y1="456.8" x2="43.8" y2="595.3" stroke="#222" stroke-width="1.3"/>
<line x1="43.2" y1="595.3" x2="260" y2="595.3" stroke="#222" stroke-width="1.4"/>
<text x="41.3" y="597.1999999999999" font-size="7.8" font-weight="normal" text-anchor="end" >0</text>
<text x="41.3" y="579.925" font-size="7.8" font-weight="normal" text-anchor="end" >1000</text>
<text x="41.3" y="562.65" font-size="7.8" font-weight="normal" text-anchor="end" >2000</text>
<text x="41.3" y="545.3749999999999" font-size="7.8" font-weight="normal" text-anchor="end" >3000</text>
<text x="41.3" y="528.0999999999999" font-size="7.8" font-weight="normal" text-anchor="end" >4000</text>
<text x="41.3" y="510.825" font-size="7.8" font-weight="normal" text-anchor="end" >5000</text>
<text x="41.3" y="493.55" font-size="7.8" font-weight="normal" text-anchor="end" >6000</text>
<text x="41.3" y="476.27500000000003" font-size="7.8" font-weight="normal" text-anchor="end" >7000</text>
<text x="41.3" y="459.0" font-size="7.8" font-weight="normal" text-anchor="end" >8000</text>
<rect x="52.3" y="590.6" width="10.700000000000003" height="4.399999999999977" fill="#000" stroke="none" stroke-width="0.8"/>
<rect x="52.3" y="590.6" width="10.700000000000003" height="4.399999999999977" fill="none" stroke="#000" stroke-width="0.9"/>
<line x1="57.65" y1="589.6" x2="57.65" y2="591.6" stroke="#777" stroke-width="0.7"/>
<line x1="56.05" y1="589.6" x2="59.25" y2="589.6" stroke="#777" stroke-width="0.8"/>
<line x1="56.05" y1="591.6" x2="59.25" y2="591.6" stroke="#777" stroke-width="0.8"/>
<rect x="78.5" y="545.4" width="11.299999999999997" height="49.60000000000002" fill="#fff" stroke="none" stroke-width="0.8"/>
<path d="M79.4 547.9l2.3 2.2M84.9 547.9l2.3 2.2M79.4 553.8l2.3 2.2M84.9 553.8l2.3 2.2M79.4 559.7l2.3 2.2M84.9 559.7l2.3 2.2M79.4 565.6l2.3 2.2M84.9 565.6l2.3 2.2M79.4 571.5l2.3 2.2M84.9 571.5l2.3 2.2M79.4 577.4l2.3 2.2M84.9 577.4l2.3 2.2M79.4 583.3l2.3 2.2M84.9 583.3l2.3 2.2M79.4 589.2l2.3 2.2M84.9 589.2l2.3 2.2" stroke="#111" stroke-width="1.15" fill="none"/>
<rect x="78.5" y="545.4" width="11.299999999999997" height="49.60000000000002" fill="none" stroke="#333" stroke-width="0.9"/>
<line x1="84.15" y1="527.8" x2="84.15" y2="563" stroke="#777" stroke-width="0.7"/>
<line x1="82.55000000000001" y1="527.8" x2="85.75" y2="527.8" stroke="#777" stroke-width="0.8"/>
<line x1="82.55000000000001" y1="563" x2="85.75" y2="563" stroke="#777" stroke-width="0.8"/>
<rect x="104.6" y="470.6" width="11.700000000000003" height="124.39999999999998" fill="#fff" stroke="none" stroke-width="0.8"/>
<rect x="104.6" y="470.6" width="11.700000000000003" height="124.39999999999998" fill="none" stroke="#606060" stroke-width="0.9"/>
<line x1="110.44999999999999" y1="458.6" x2="110.44999999999999" y2="483.2" stroke="#777" stroke-width="0.7"/>
<line x1="108.85" y1="458.6" x2="112.04999999999998" y2="458.6" stroke="#777" stroke-width="0.8"/>
<line x1="108.85" y1="483.2" x2="112.04999999999998" y2="483.2" stroke="#777" stroke-width="0.8"/>
<rect x="132.9" y="589.5" width="10.799999999999983" height="5.5" fill="#000" stroke="none" stroke-width="0.8"/>
<rect x="132.9" y="589.5" width="10.799999999999983" height="5.5" fill="none" stroke="#000" stroke-width="0.9"/>
<line x1="138.3" y1="588.3" x2="138.3" y2="590.7" stroke="#777" stroke-width="0.7"/>
<line x1="136.70000000000002" y1="588.3" x2="139.9" y2="588.3" stroke="#777" stroke-width="0.8"/>
<line x1="136.70000000000002" y1="590.7" x2="139.9" y2="590.7" stroke="#777" stroke-width="0.8"/>
<rect x="159.7" y="581" width="10.800000000000011" height="14" fill="#fff" stroke="none" stroke-width="0.8"/>
<path d="M160.6 583.5l2.3 2.2M166.1 583.5l2.3 2.2M160.6 589.4l2.3 2.2M166.1 589.4l2.3 2.2" stroke="#111" stroke-width="1.15" fill="none"/>
<rect x="159.7" y="581" width="10.800000000000011" height="14" fill="none" stroke="#333" stroke-width="0.9"/>
<line x1="165.1" y1="580" x2="165.1" y2="582" stroke="#777" stroke-width="0.7"/>
<line x1="163.5" y1="580" x2="166.7" y2="580" stroke="#777" stroke-width="0.8"/>
<line x1="163.5" y1="582" x2="166.7" y2="582" stroke="#777" stroke-width="0.8"/>
<rect x="186.8" y="591.4" width="10.799999999999983" height="3.6000000000000227" fill="#fff" stroke="none" stroke-width="0.8"/>
<rect x="186.8" y="591.4" width="10.799999999999983" height="3.6000000000000227" fill="none" stroke="#606060" stroke-width="0.9"/>
<line x1="192.2" y1="590.4" x2="192.2" y2="592.4" stroke="#777" stroke-width="0.7"/>
<line x1="190.6" y1="590.4" x2="193.79999999999998" y2="590.4" stroke="#777" stroke-width="0.8"/>
<line x1="190.6" y1="592.4" x2="193.79999999999998" y2="592.4" stroke="#777" stroke-width="0.8"/>
<rect x="214" y="575.4" width="10.400000000000006" height="19.600000000000023" fill="#8a8a8a" stroke="none" stroke-width="0.8"/>
<rect x="214" y="575.4" width="10.400000000000006" height="19.600000000000023" fill="none" stroke="#444" stroke-width="0.9"/>
<line x1="219.2" y1="572.8" x2="219.2" y2="578" stroke="#777" stroke-width="0.7"/>
<line x1="217.6" y1="572.8" x2="220.79999999999998" y2="572.8" stroke="#777" stroke-width="0.8"/>
<line x1="217.6" y1="578" x2="220.79999999999998" y2="578" stroke="#777" stroke-width="0.8"/>
<rect x="240" y="591.4" width="10.5" height="3.6000000000000227" fill="#fff" stroke="none" stroke-width="0.8"/>
<rect x="240" y="591.4" width="10.5" height="3.6000000000000227" fill="none" stroke="#606060" stroke-width="0.9"/>
<line x1="245.25" y1="590.4" x2="245.25" y2="592.4" stroke="#777" stroke-width="0.7"/>
<line x1="243.65" y1="590.4" x2="246.85" y2="590.4" stroke="#777" stroke-width="0.8"/>
<line x1="243.65" y1="592.4" x2="246.85" y2="592.4" stroke="#777" stroke-width="0.8"/>
<line x1="124.2" y1="595" x2="124.2" y2="609" stroke="#000" stroke-width="1.2"/>
<text x="89.4" y="607.6" font-size="12" font-weight="bold" text-anchor="middle" >Day 3</text>
<text x="210.7" y="609.6" font-size="12" font-weight="bold" text-anchor="middle" >Day 14</text>
<line x1="113.3" y1="454.5" x2="198.2" y2="454.5" stroke="#000" stroke-width="1"/>
<text x="157.7" y="451.2" font-size="8.6" font-weight="normal" text-anchor="middle" font-style="italic" >P &lt; .01</text>
<text x="179.6" y="568.9" font-size="8.6" font-weight="normal" text-anchor="middle" font-style="italic" >P &lt; .05</text>
<line x1="166.2" y1="574.8" x2="190" y2="574.8" stroke="#000" stroke-width="1"/>
<text x="235.5" y="525.4" font-size="8" font-weight="bold" text-anchor="middle" >Tx with</text>
<text x="234.5" y="535" font-size="8" font-weight="bold" text-anchor="middle" >BALB/c hearts</text>
<text x="237.9" y="544.2" font-size="8" font-weight="bold" text-anchor="middle" >on day 7</text>
<path d="M220.4 551.1 Q220.4 549.1 222.4 549.1 L246.8 549.1 Q248.8 549.1 248.8 551.1" stroke="#111" stroke-width="1.1" fill="none"/>
<path d="M218.4 550.1999999999999 L222.4 550.1999999999999 L220.4 554.4 Z" fill="#111" stroke="#111" stroke-width="0.5"/>
<path d="M246.8 550.1999999999999 L250.8 550.1999999999999 L248.8 554.4 Z" fill="#111" stroke="#111" stroke-width="0.5"/>
<text x="232.3" y="563.3" font-size="8.6" font-weight="normal" text-anchor="middle" font-style="italic" >P &lt; .01</text>
<line x1="220" y1="568.2" x2="244.6" y2="568.2" stroke="#000" stroke-width="1"/>
<text x="287.2" y="448.6" font-size="13.6" font-weight="bold" text-anchor="start" >D</text>
<text x="329.6" y="447" font-size="12" font-weight="bold" text-anchor="start" >Spleen (day 14)</text>
<text x="334.7" y="494.6" font-size="10" font-weight="bold" text-anchor="middle" >% of FoxP3<tspan font-size="6" dy="-3.5">+</tspan></text>
<text x="334.6" y="506.2" font-size="10" font-weight="bold" text-anchor="middle" >1H3.1 T cells</text>
<line x1="378.9" y1="460.3" x2="378.9" y2="531.5" stroke="#111" stroke-width="1.3"/>
<line x1="378.5" y1="531.7" x2="491" y2="531.7" stroke="#111" stroke-width="1.5"/>
<text x="376.0" y="534.3" font-size="8" font-weight="normal" text-anchor="end" >0</text>
<text x="376.0" y="523.4" font-size="8" font-weight="normal" text-anchor="end" >2</text>
<text x="376.0" y="512.5" font-size="8" font-weight="normal" text-anchor="end" >4</text>
<text x="376.0" y="501.6" font-size="8" font-weight="normal" text-anchor="end" >6</text>
<text x="376.0" y="490.7" font-size="8" font-weight="normal" text-anchor="end" >8</text>
<text x="376.0" y="479.8" font-size="8" font-weight="normal" text-anchor="end" >10</text>
<text x="376.0" y="468.90000000000003" font-size="8" font-weight="normal" text-anchor="end" >12</text>
<rect x="384" y="515.1" width="8" height="16.399999999999977" fill="#000" stroke="none" stroke-width="0.8"/>
<rect x="384" y="515.1" width="8" height="16.399999999999977" fill="none" stroke="#000" stroke-width="0.9"/>
<line x1="388.0" y1="509.3" x2="388.0" y2="520" stroke="#777" stroke-width="0.7"/>
<line x1="386.4" y1="509.3" x2="389.6" y2="509.3" stroke="#777" stroke-width="0.8"/>
<line x1="386.4" y1="520" x2="389.6" y2="520" stroke="#777" stroke-width="0.8"/>
<rect x="403.2" y="517.4" width="7.199999999999989" height="14.100000000000023" fill="#8a8a8a" stroke="none" stroke-width="0.8"/>
<rect x="403.2" y="517.4" width="7.199999999999989" height="14.100000000000023" fill="none" stroke="#444" stroke-width="0.9"/>
<line x1="406.79999999999995" y1="512" x2="406.79999999999995" y2="522" stroke="#777" stroke-width="0.7"/>
<line x1="405.19999999999993" y1="512" x2="408.4" y2="512" stroke="#777" stroke-width="0.8"/>
<line x1="405.19999999999993" y1="522" x2="408.4" y2="522" stroke="#777" stroke-width="0.8"/>
<rect x="421.3" y="521.7" width="7.800000000000011" height="9.799999999999955" fill="#fff" stroke="none" stroke-width="0.8"/>
<path d="M422.1 524.2l2.3 2.2M426.3 524.2l2.3 2.2" stroke="#111" stroke-width="1.15" fill="none"/>
<rect x="421.3" y="521.7" width="7.800000000000011" height="9.799999999999955" fill="none" stroke="#333" stroke-width="0.9"/>
<line x1="425.20000000000005" y1="518.8" x2="425.20000000000005" y2="524" stroke="#777" stroke-width="0.7"/>
<line x1="423.6" y1="518.8" x2="426.80000000000007" y2="518.8" stroke="#777" stroke-width="0.8"/>
<line x1="423.6" y1="524" x2="426.80000000000007" y2="524" stroke="#777" stroke-width="0.8"/>
<rect x="440.7" y="480.5" width="7.800000000000011" height="51.0" fill="#fff" stroke="none" stroke-width="0.8"/>
<rect x="440.7" y="480.5" width="7.800000000000011" height="51.0" fill="none" stroke="#606060" stroke-width="0.9"/>
<line x1="444.6" y1="467" x2="444.6" y2="493.5" stroke="#777" stroke-width="0.7"/>
<line x1="443.0" y1="467" x2="446.20000000000005" y2="467" stroke="#777" stroke-width="0.8"/>
<line x1="443.0" y1="493.5" x2="446.20000000000005" y2="493.5" stroke="#777" stroke-width="0.8"/>
<rect x="459.4" y="523.7" width="7.800000000000011" height="7.7999999999999545" fill="#8a8a8a" stroke="none" stroke-width="0.8"/>
<rect x="459.4" y="523.7" width="7.800000000000011" height="7.7999999999999545" fill="none" stroke="#444" stroke-width="0.9"/>
<line x1="463.29999999999995" y1="521" x2="463.29999999999995" y2="526" stroke="#777" stroke-width="0.7"/>
<line x1="461.69999999999993" y1="521" x2="464.9" y2="521" stroke="#777" stroke-width="0.8"/>
<line x1="461.69999999999993" y1="526" x2="464.9" y2="526" stroke="#777" stroke-width="0.8"/>
<rect x="478.2" y="485.7" width="7.800000000000011" height="45.80000000000001" fill="#fff" stroke="none" stroke-width="0.8"/>
<rect x="478.2" y="485.7" width="7.800000000000011" height="45.80000000000001" fill="none" stroke="#606060" stroke-width="0.9"/>
<line x1="482.1" y1="478.2" x2="482.1" y2="492.9" stroke="#777" stroke-width="0.7"/>
<line x1="480.5" y1="478.2" x2="483.70000000000005" y2="478.2" stroke="#777" stroke-width="0.8"/>
<line x1="480.5" y1="492.9" x2="483.70000000000005" y2="492.9" stroke="#777" stroke-width="0.8"/>
<text x="428.6" y="461.7" font-size="8.6" font-weight="normal" text-anchor="middle" font-style="italic" >P &lt; .01</text>
<line x1="424.2" y1="464.6" x2="442.1" y2="464.6" stroke="#000" stroke-width="1"/>
<text x="458" y="438.7" font-size="8" font-weight="bold" text-anchor="start" >Tx with BALB/c</text>
<text x="458" y="448.7" font-size="8" font-weight="bold" text-anchor="start" >hearts</text>
<text x="517.3" y="448.7" font-size="8" font-weight="bold" text-anchor="end" >on day 7</text>
<path d="M461.6 456.4 Q461.6 454.4 463.6 454.4 L479.8 454.4 Q481.8 454.4 481.8 456.4" stroke="#111" stroke-width="1.1" fill="none"/>
<path d="M459.6 456.6 L463.6 456.6 L461.6 460.8 Z" fill="#111" stroke="#111" stroke-width="0.5"/>
<path d="M479.8 456.6 L483.8 456.6 L481.8 460.8 Z" fill="#111" stroke="#111" stroke-width="0.5"/>
<text x="474.6" y="473.3" font-size="8.6" font-weight="normal" text-anchor="middle" font-style="italic" >P &lt;  .01</text>
<line x1="463.9" y1="475.4" x2="481.7" y2="475.4" stroke="#000" stroke-width="1"/>
<text x="320.3" y="578.5" font-size="10" font-weight="bold" text-anchor="middle" ># of FoxP3<tspan font-size="6" dy="-3.5">+</tspan></text>
<text x="319.4" y="590.5" font-size="10" font-weight="bold" text-anchor="middle" >1H3.1 T cells</text>
<text x="321" y="601.6" font-size="10" font-weight="bold" text-anchor="middle" >/ spleen</text>
<line x1="378.7" y1="554.2" x2="378.7" y2="626" stroke="#111" stroke-width="1.3"/>
<line x1="378.1" y1="626.1" x2="491" y2="626.1" stroke="#111" stroke-width="1.5"/>
<text x="376.0" y="628.5999999999999" font-size="7.9" font-weight="normal" text-anchor="end" >0</text>
<text x="376.0" y="616.7499999999999" font-size="7.9" font-weight="normal" text-anchor="end" >500</text>
<text x="376.0" y="604.8999999999999" font-size="7.9" font-weight="normal" text-anchor="end" >1000</text>
<text x="376.0" y="593.05" font-size="7.9" font-weight="normal" text-anchor="end" >1500</text>
<text x="376.0" y="581.1999999999999" font-size="7.9" font-weight="normal" text-anchor="end" >2000</text>
<text x="376.0" y="569.3499999999999" font-size="7.9" font-weight="normal" text-anchor="end" >2500</text>
<text x="376.0" y="557.4999999999999" font-size="7.9" font-weight="normal" text-anchor="end" >3000</text>
<rect x="384.4" y="596.2" width="7.800000000000011" height="29.59999999999991" fill="#000" stroke="none" stroke-width="0.8"/>
<rect x="384.4" y="596.2" width="7.800000000000011" height="29.59999999999991" fill="none" stroke="#000" stroke-width="0.9"/>
<line x1="388.29999999999995" y1="591.3" x2="388.29999999999995" y2="601" stroke="#777" stroke-width="0.7"/>
<line x1="386.69999999999993" y1="591.3" x2="389.9" y2="591.3" stroke="#777" stroke-width="0.8"/>
<line x1="386.69999999999993" y1="601" x2="389.9" y2="601" stroke="#777" stroke-width="0.8"/>
<rect x="403.2" y="595.4" width="8.0" height="30.399999999999977" fill="#8a8a8a" stroke="none" stroke-width="0.8"/>
<rect x="403.2" y="595.4" width="8.0" height="30.399999999999977" fill="none" stroke="#444" stroke-width="0.9"/>
<line x1="407.2" y1="584.1" x2="407.2" y2="606.3" stroke="#777" stroke-width="0.7"/>
<line x1="405.59999999999997" y1="584.1" x2="408.8" y2="584.1" stroke="#777" stroke-width="0.8"/>
<line x1="405.59999999999997" y1="606.3" x2="408.8" y2="606.3" stroke="#777" stroke-width="0.8"/>
<rect x="422.5" y="596.8" width="8.100000000000023" height="29.0" fill="#fff" stroke="none" stroke-width="0.8"/>
<path d="M423.3 599.3l2.3 2.2M427.5 599.3l2.3 2.2M423.3 605.2l2.3 2.2M427.5 605.2l2.3 2.2M423.3 611.1l2.3 2.2M427.5 611.1l2.3 2.2M423.3 617.0l2.3 2.2M427.5 617.0l2.3 2.2M423.3 622.9l2.3 2.2M427.5 622.9l2.3 2.2" stroke="#111" stroke-width="1.15" fill="none"/>
<rect x="422.5" y="596.8" width="8.100000000000023" height="29.0" fill="none" stroke="#333" stroke-width="0.9"/>
<line x1="426.55" y1="590.5" x2="426.55" y2="603" stroke="#777" stroke-width="0.7"/>
<line x1="424.95" y1="590.5" x2="428.15000000000003" y2="590.5" stroke="#777" stroke-width="0.8"/>
<line x1="424.95" y1="603" x2="428.15000000000003" y2="603" stroke="#777" stroke-width="0.8"/>
<rect x="440.7" y="591" width="8.0" height="34.799999999999955" fill="#fff" stroke="none" stroke-width="0.8"/>
<rect x="440.7" y="591" width="8.0" height="34.799999999999955" fill="none" stroke="#606060" stroke-width="0.9"/>
<line x1="444.7" y1="575.5" x2="444.7" y2="607" stroke="#777" stroke-width="0.7"/>
<line x1="443.09999999999997" y1="575.5" x2="446.3" y2="575.5" stroke="#777" stroke-width="0.8"/>
<line x1="443.09999999999997" y1="607" x2="446.3" y2="607" stroke="#777" stroke-width="0.8"/>
<rect x="460" y="587.6" width="8" height="38.19999999999993" fill="#8a8a8a" stroke="none" stroke-width="0.8"/>
<rect x="460" y="587.6" width="8" height="38.19999999999993" fill="none" stroke="#444" stroke-width="0.9"/>
<line x1="464.0" y1="579.8" x2="464.0" y2="595.4" stroke="#777" stroke-width="0.7"/>
<line x1="462.4" y1="579.8" x2="465.6" y2="579.8" stroke="#777" stroke-width="0.8"/>
<line x1="462.4" y1="595.4" x2="465.6" y2="595.4" stroke="#777" stroke-width="0.8"/>
<rect x="479" y="591.3" width="7.800000000000011" height="34.5" fill="#fff" stroke="none" stroke-width="0.8"/>
<rect x="479" y="591.3" width="7.800000000000011" height="34.5" fill="none" stroke="#606060" stroke-width="0.9"/>
<line x1="482.9" y1="586.2" x2="482.9" y2="596.4" stroke="#777" stroke-width="0.7"/>
<line x1="481.29999999999995" y1="586.2" x2="484.5" y2="586.2" stroke="#777" stroke-width="0.8"/>
<line x1="481.29999999999995" y1="596.4" x2="484.5" y2="596.4" stroke="#777" stroke-width="0.8"/>
<line x1="385.9" y1="580.4" x2="440.7" y2="580.4" stroke="#000" stroke-width="1"/>
<text x="414.3" y="578.6" font-size="8.5" font-weight="normal" text-anchor="middle" >NS</text>
<line x1="466" y1="580.4" x2="484.8" y2="580.4" stroke="#000" stroke-width="1"/>
<text x="474.5" y="578.6" font-size="8.5" font-weight="normal" text-anchor="middle" >NS</text>
<text x="458" y="548.7" font-size="8" font-weight="bold" text-anchor="start" >Tx with BALB/c</text>
<text x="458" y="558.7" font-size="8" font-weight="bold" text-anchor="start" >hearts</text>
<text x="517.3" y="558.7" font-size="8" font-weight="bold" text-anchor="end" >on day 7</text>
<path d="M463.8 566.4 Q463.8 564.4 465.8 564.4 L482.2 564.4 Q484.2 564.4 484.2 566.4" stroke="#111" stroke-width="1.1" fill="none"/>
<path d="M461.8 566.1999999999999 L465.8 566.1999999999999 L463.8 570.4 Z" fill="#111" stroke="#111" stroke-width="0.5"/>
<path d="M482.2 566.1999999999999 L486.2 566.1999999999999 L484.2 570.4 Z" fill="#111" stroke="#111" stroke-width="0.5"/>
<rect x="149.6" y="633.6" width="25.8" height="9.2" fill="#000" stroke="#111" stroke-width="1"/>
<rect x="149.6" y="650.2" width="25.8" height="9.2" fill="#858585" stroke="#333" stroke-width="1"/>
<rect x="149.6" y="667" width="25.8" height="9.2" fill="#fff" stroke="#222" stroke-width="1"/>
<line x1="151.3" y1="668.2" x2="154.9" y2="675.2" stroke="#555" stroke-width="0.9"/>
<line x1="157.3" y1="668.2" x2="160.9" y2="675.2" stroke="#555" stroke-width="0.9"/>
<line x1="163.3" y1="668.2" x2="166.9" y2="675.2" stroke="#555" stroke-width="0.9"/>
<line x1="169.3" y1="668.2" x2="172.9" y2="675.2" stroke="#555" stroke-width="0.9"/>
<line x1="174.6" y1="668.2" x2="175.2" y2="669.4" stroke="#555" stroke-width="0.9"/>
<rect x="149.6" y="685.5" width="25.8" height="9.2" fill="#fff" stroke="#222" stroke-width="1.1"/>
<text x="178.5" y="641.2" font-size="10" font-weight="bold" text-anchor="start" >Non-treated</text>
<text x="179.6" y="658.6" font-size="10" font-weight="bold" text-anchor="start" >B6 MR-DCs (d 0)</text>
<text x="180" y="676" font-size="10" font-weight="bold" text-anchor="start" >BALB/c MR-DCs (d 0) + CD40 Ab (d 0,1,2)</text>
<text x="180" y="693.5" font-size="10" font-weight="bold" text-anchor="start" >BALB/c MR-DCs (d 0)</text></svg>
</body></html>
